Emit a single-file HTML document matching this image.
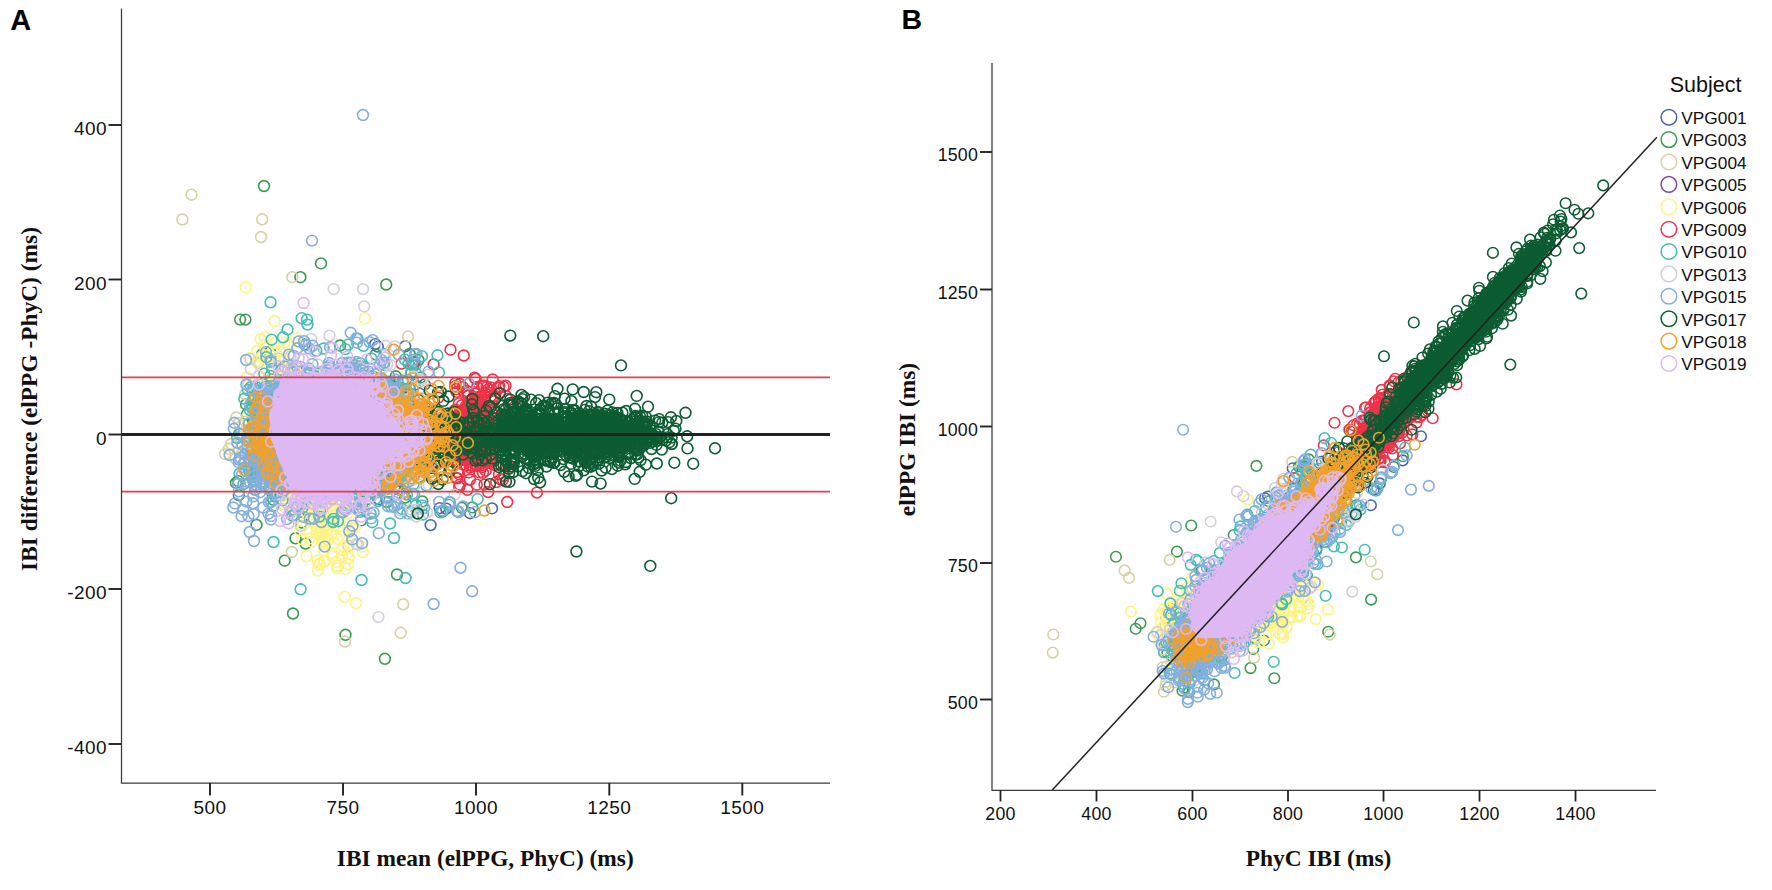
<!DOCTYPE html><html><head><meta charset="utf-8"><title>IBI agreement</title>
<style>html,body{margin:0;padding:0;background:#fff}svg{display:block}.t{font-family:"Liberation Sans",sans-serif;font-size:19px;letter-spacing:.4px;fill:#111}.u{font-family:"Liberation Sans",sans-serif;font-size:17.8px;letter-spacing:.2px;fill:#111}.b{font-family:"Liberation Serif",serif;font-weight:bold;font-size:23.4px;fill:#111}.lg{font-family:"Liberation Sans",sans-serif;font-size:17.3px;fill:#111}.p{fill:none;stroke:none}</style></head><body>
<svg width="1772" height="890" viewBox="0 0 1772 890">
<rect width="1772" height="890" fill="#fff"/>
<defs>
<marker id="a001" markerUnits="userSpaceOnUse" markerWidth="16" markerHeight="16" refX="8" refY="8" overflow="visible"><circle cx="8" cy="8" r="5.4" fill="none" stroke="#4a63b0" stroke-width="1.6"/></marker>
<marker id="b001" markerUnits="userSpaceOnUse" markerWidth="14" markerHeight="14" refX="7" refY="7" overflow="visible"><circle cx="7" cy="7" r="5.3" fill="none" stroke="#4a63b0" stroke-width="1.55"/></marker>
<marker id="a003" markerUnits="userSpaceOnUse" markerWidth="16" markerHeight="16" refX="8" refY="8" overflow="visible"><circle cx="8" cy="8" r="5.4" fill="none" stroke="#3a9a52" stroke-width="1.6"/></marker>
<marker id="b003" markerUnits="userSpaceOnUse" markerWidth="14" markerHeight="14" refX="7" refY="7" overflow="visible"><circle cx="7" cy="7" r="5.3" fill="none" stroke="#3a9a52" stroke-width="1.55"/></marker>
<marker id="a004" markerUnits="userSpaceOnUse" markerWidth="16" markerHeight="16" refX="8" refY="8" overflow="visible"><circle cx="8" cy="8" r="5.4" fill="none" stroke="#d6d2a4" stroke-width="1.6"/></marker>
<marker id="b004" markerUnits="userSpaceOnUse" markerWidth="14" markerHeight="14" refX="7" refY="7" overflow="visible"><circle cx="7" cy="7" r="5.3" fill="none" stroke="#d6d2a4" stroke-width="1.55"/></marker>
<marker id="a005" markerUnits="userSpaceOnUse" markerWidth="16" markerHeight="16" refX="8" refY="8" overflow="visible"><circle cx="8" cy="8" r="5.4" fill="none" stroke="#7d4aa0" stroke-width="1.6"/></marker>
<marker id="b005" markerUnits="userSpaceOnUse" markerWidth="14" markerHeight="14" refX="7" refY="7" overflow="visible"><circle cx="7" cy="7" r="5.3" fill="none" stroke="#7d4aa0" stroke-width="1.55"/></marker>
<marker id="a006" markerUnits="userSpaceOnUse" markerWidth="16" markerHeight="16" refX="8" refY="8" overflow="visible"><circle cx="8" cy="8" r="5.4" fill="none" stroke="#fff385" stroke-width="1.6"/></marker>
<marker id="b006" markerUnits="userSpaceOnUse" markerWidth="14" markerHeight="14" refX="7" refY="7" overflow="visible"><circle cx="7" cy="7" r="5.3" fill="none" stroke="#fff385" stroke-width="1.55"/></marker>
<marker id="a009" markerUnits="userSpaceOnUse" markerWidth="16" markerHeight="16" refX="8" refY="8" overflow="visible"><circle cx="8" cy="8" r="5.4" fill="none" stroke="#ee3348" stroke-width="1.6"/></marker>
<marker id="b009" markerUnits="userSpaceOnUse" markerWidth="14" markerHeight="14" refX="7" refY="7" overflow="visible"><circle cx="7" cy="7" r="5.3" fill="none" stroke="#ee3348" stroke-width="1.55"/></marker>
<marker id="a010" markerUnits="userSpaceOnUse" markerWidth="16" markerHeight="16" refX="8" refY="8" overflow="visible"><circle cx="8" cy="8" r="5.4" fill="none" stroke="#45bdb6" stroke-width="1.6"/></marker>
<marker id="b010" markerUnits="userSpaceOnUse" markerWidth="14" markerHeight="14" refX="7" refY="7" overflow="visible"><circle cx="7" cy="7" r="5.3" fill="none" stroke="#45bdb6" stroke-width="1.55"/></marker>
<marker id="a013" markerUnits="userSpaceOnUse" markerWidth="16" markerHeight="16" refX="8" refY="8" overflow="visible"><circle cx="8" cy="8" r="5.4" fill="none" stroke="#d3cfd9" stroke-width="1.6"/></marker>
<marker id="b013" markerUnits="userSpaceOnUse" markerWidth="14" markerHeight="14" refX="7" refY="7" overflow="visible"><circle cx="7" cy="7" r="5.3" fill="none" stroke="#d3cfd9" stroke-width="1.55"/></marker>
<marker id="a015" markerUnits="userSpaceOnUse" markerWidth="16" markerHeight="16" refX="8" refY="8" overflow="visible"><circle cx="8" cy="8" r="5.4" fill="none" stroke="#84aede" stroke-width="1.6"/></marker>
<marker id="b015" markerUnits="userSpaceOnUse" markerWidth="14" markerHeight="14" refX="7" refY="7" overflow="visible"><circle cx="7" cy="7" r="5.3" fill="none" stroke="#84aede" stroke-width="1.55"/></marker>
<marker id="a017" markerUnits="userSpaceOnUse" markerWidth="16" markerHeight="16" refX="8" refY="8" overflow="visible"><circle cx="8" cy="8" r="5.4" fill="none" stroke="#0d5c32" stroke-width="1.6"/></marker>
<marker id="b017" markerUnits="userSpaceOnUse" markerWidth="14" markerHeight="14" refX="7" refY="7" overflow="visible"><circle cx="7" cy="7" r="5.3" fill="none" stroke="#0d5c32" stroke-width="1.55"/></marker>
<marker id="a018" markerUnits="userSpaceOnUse" markerWidth="16" markerHeight="16" refX="8" refY="8" overflow="visible"><circle cx="8" cy="8" r="5.4" fill="none" stroke="#f2a12a" stroke-width="1.6"/></marker>
<marker id="b018" markerUnits="userSpaceOnUse" markerWidth="14" markerHeight="14" refX="7" refY="7" overflow="visible"><circle cx="7" cy="7" r="5.3" fill="none" stroke="#f2a12a" stroke-width="1.55"/></marker>
<marker id="a019" markerUnits="userSpaceOnUse" markerWidth="16" markerHeight="16" refX="8" refY="8" overflow="visible"><circle cx="8" cy="8" r="5.4" fill="none" stroke="#deb9f3" stroke-width="1.6"/></marker>
<marker id="b019" markerUnits="userSpaceOnUse" markerWidth="14" markerHeight="14" refX="7" refY="7" overflow="visible"><circle cx="7" cy="7" r="5.3" fill="none" stroke="#deb9f3" stroke-width="1.55"/></marker>
</defs>
<g id="panelA">
<polyline class="p" marker-start="url(#a001)" marker-mid="url(#a001)" marker-end="url(#a001)" points="390.9,465.4 400.4,413.2 382.1,422.3 362.5,412.9 376.4,388.0 359.2,397.7 392.8,462.9 433.7,476.3 375.2,414.3 371.1,459.6 406.5,434.8 402.3,413.7 394.2,475.2 361.2,486.7 389.9,428.1 413.1,433.4 348.0,440.6 376.3,433.5 330.2,455.8 349.7,472.0 332.1,438.6 383.4,458.6 350.4,475.2 399.5,422.0 395.9,436.0 384.9,424.4 310.5,459.0 373.7,450.8 389.3,459.2 394.5,456.5 342.0,429.7 375.6,453.9 359.6,425.7 365.1,426.1 424.7,384.4 365.1,469.0 389.8,412.5 419.1,436.7 372.3,434.8 387.3,470.4 394.4,445.9 392.9,416.1 351.8,436.5 393.3,432.5 434.3,441.7 341.5,405.9 418.3,435.0 394.7,489.0 370.4,451.6 352.6,447.6 393.3,401.5 409.3,433.3 384.9,463.5 412.7,457.8 388.8,406.5 412.2,430.6 436.8,433.3 369.3,435.8 397.4,433.5 376.1,414.6 394.9,420.8 353.0,429.2 372.4,460.3 384.6,421.8 419.6,451.4 427.4,407.4 348.6,466.0 365.5,437.9 411.5,434.7 327.3,467.3 376.1,391.9 387.8,398.3 431.0,446.0 412.9,415.4 380.4,425.1 379.1,499.2 382.9,428.3 439.5,436.0 377.2,432.4 381.2,461.2 402.1,441.2 387.0,438.9 384.6,405.1 355.3,426.2 390.5,434.6 376.7,396.6 428.1,448.2 411.7,444.1 390.1,479.5 412.2,395.6 380.0,410.6 424.5,411.8 390.7,417.9 409.5,431.8 349.7,429.2 401.9,440.7 337.0,439.5 325.9,433.2 381.2,397.1 362.2,420.7 396.1,435.9 364.3,450.2 371.0,394.8 397.4,422.0 406.6,432.8 385.2,443.1 384.3,462.0 413.3,436.2 407.5,412.9 357.9,444.2 388.4,440.1 392.0,440.0 357.2,431.8 399.2,473.9 363.5,440.3 421.9,455.7 397.0,412.6 393.7,453.6 372.0,420.2 387.1,396.8 327.1,442.3 354.8,449.4 402.5,429.8 322.9,434.6 417.9,459.1 335.1,423.1 415.0,384.6 363.9,440.9 415.7,439.5 395.1,460.4 341.8,426.6 430.8,465.4 436.9,461.9 388.8,402.8 382.1,456.9 385.8,407.7 359.8,396.8 425.9,428.1 373.6,420.8 389.2,386.2 365.6,439.4 370.9,449.2 350.1,468.0 431.0,433.5 386.0,397.9 421.7,410.7 391.3,457.8 368.7,455.7 380.5,447.0 373.0,427.3 391.1,439.6 378.9,429.2 381.3,427.2 346.9,441.9 365.1,435.5 443.7,429.4 369.5,436.6 357.2,422.0 401.6,388.2 435.8,419.8 344.5,433.1 384.2,476.2 370.7,424.9 334.7,482.7 414.3,469.4 390.1,413.3 393.2,417.0 366.9,438.2 405.4,476.8 373.7,443.7 386.3,451.3 355.5,418.7 352.1,378.6 433.5,429.1 374.7,453.8 400.2,463.5 389.8,435.9 376.8,438.9 374.7,463.0 411.0,431.6 381.2,463.0 386.0,407.0 391.6,408.2 428.4,407.6 412.6,446.2 403.1,421.8 372.9,437.8 346.8,444.1 421.2,442.9 421.7,466.7 386.4,470.3 408.2,414.8 415.8,439.2 417.4,429.1 420.3,409.7 376.3,477.4 439.2,453.9 446.2,508.6 439.7,508.1 470.1,513.2 375.2,344.1 377.8,346.6 405.2,346.3 430.6,525.1 492.0,508.4"/>
<polyline class="p" marker-start="url(#a003)" marker-mid="url(#a003)" marker-end="url(#a003)" points="277.8,398.4 312.0,382.9 337.9,423.3 395.7,485.1 301.8,474.6 404.3,483.4 353.6,380.3 392.9,463.4 316.5,392.6 246.8,414.6 372.4,376.1 292.5,400.3 275.6,438.0 373.5,448.1 357.1,431.6 299.5,428.5 297.8,452.6 412.8,435.6 309.5,379.7 371.6,492.4 299.8,416.9 373.0,465.4 280.8,428.1 331.2,405.9 279.9,436.5 360.3,381.9 364.8,488.6 254.7,396.8 304.1,455.0 383.8,413.3 358.2,428.3 301.7,522.5 358.3,460.2 332.8,427.0 389.3,381.6 311.3,424.7 347.0,425.7 361.4,482.6 358.6,385.8 324.2,373.0 365.6,433.5 353.6,442.0 318.8,489.6 246.1,404.4 395.6,410.1 348.1,391.5 284.9,416.0 375.0,468.0 309.0,389.0 325.8,476.5 402.1,441.7 324.3,425.0 297.4,404.4 308.0,420.3 277.2,421.3 283.6,460.4 293.0,478.4 278.3,432.4 263.6,458.7 316.4,479.0 298.8,477.6 365.8,451.2 405.2,497.6 286.5,480.4 348.1,490.2 338.0,428.3 259.6,420.6 296.1,366.2 398.1,485.5 349.0,457.6 392.2,403.4 255.4,441.9 343.0,445.6 395.8,376.3 391.7,446.0 254.1,473.9 332.5,479.3 290.3,423.1 371.2,424.1 238.3,481.2 299.2,468.0 373.8,416.3 319.1,414.8 322.3,456.4 410.3,413.3 286.9,395.6 238.8,495.2 302.7,445.1 253.1,420.4 254.3,473.5 361.8,507.3 392.4,444.1 352.7,383.3 339.8,380.7 307.7,509.1 340.0,345.5 371.9,472.9 353.3,401.9 401.2,392.5 342.7,401.0 285.6,429.4 334.2,474.0 337.7,413.2 276.2,458.9 361.1,520.4 382.4,410.4 294.5,372.6 316.3,465.5 366.2,384.5 327.2,380.4 291.6,381.6 302.7,435.2 335.9,475.4 346.0,440.5 343.2,509.5 298.2,492.4 396.5,431.4 387.0,502.0 258.5,440.1 287.6,438.2 292.0,368.8 378.5,390.3 389.8,436.0 270.0,352.2 315.7,461.0 278.9,446.0 314.4,403.5 381.5,476.8 255.6,444.0 253.8,479.5 339.1,430.5 328.8,378.9 377.2,460.1 344.3,426.8 288.8,465.0 295.5,473.6 419.5,476.6 385.9,385.0 262.4,354.1 370.4,418.1 300.9,458.9 358.5,410.5 271.8,445.9 363.5,407.2 265.5,424.6 322.1,425.0 355.5,413.8 335.6,454.2 282.1,448.3 272.3,493.1 311.3,449.5 235.9,482.9 287.1,439.4 265.0,467.1 328.3,431.1 312.0,419.1 335.5,482.8 289.9,462.2 267.2,466.6 309.5,409.1 365.1,376.4 317.3,405.5 344.2,446.4 355.9,384.6 321.0,486.0 408.3,456.8 304.7,344.3 367.6,380.8 286.6,469.6 272.3,428.7 316.0,441.8 357.4,431.0 397.2,485.0 270.7,457.7 352.2,418.6 327.9,426.9 263.1,393.7 405.7,431.8 375.8,354.5 277.4,458.9 403.0,425.7 273.2,499.7 268.0,477.2 304.0,389.3 398.7,466.6 266.7,416.4 386.4,436.6 365.9,470.1 263.7,446.4 334.5,469.5 320.1,451.1 334.6,408.8 372.1,412.3 352.5,454.2 425.1,465.4 268.4,424.9 355.7,437.9 309.6,399.5 394.4,405.8 423.3,435.7 302.6,440.4 309.2,463.7 394.1,465.4 424.3,468.7 315.8,448.0 402.7,449.0 329.7,409.2 341.1,461.7 388.5,441.2 329.4,476.0 328.2,378.5 321.4,417.2 314.5,373.6 262.5,407.4 262.9,383.8 361.8,443.0 341.9,410.1 360.9,476.2 408.0,394.5 279.3,376.7 288.4,420.2 295.0,408.4 306.2,390.9 386.2,457.3 306.5,420.3 294.5,464.7 334.9,458.0 271.5,456.0 275.8,439.5 364.4,429.4 361.4,418.7 295.5,483.9 354.4,365.5 263.9,394.2 310.1,409.2 341.9,447.0 271.7,437.6 294.7,415.4 368.8,420.2 321.1,493.1 273.2,408.7 367.9,499.0 261.0,399.8 397.9,421.6 284.1,438.4 293.0,386.6 283.6,475.8 388.8,428.8 296.6,383.4 339.2,441.4 404.3,449.1 406.8,430.5 266.8,450.1 342.7,466.2 375.5,404.0 319.9,478.3 318.2,411.1 269.5,438.2 256.5,524.9 338.3,434.7 274.3,471.8 268.9,450.1 308.2,380.7 257.6,473.6 253.2,471.6 380.1,384.1 311.6,430.4 285.0,380.5 376.0,423.2 265.7,465.4 290.7,436.8 403.7,391.5 386.1,401.6 358.8,434.5 264.5,432.8 310.4,438.4 277.5,454.7 287.2,366.9 239.1,434.2 262.6,474.1 336.6,451.2 254.6,409.1 292.7,412.0 399.3,439.3 288.3,457.9 313.4,433.7 281.1,493.1 375.4,480.1 352.6,406.5 335.9,451.3 354.5,421.4 276.1,391.9 307.9,411.8 359.9,433.8 418.4,360.0 398.9,411.1 362.6,446.9 317.4,408.9 253.4,420.2 398.4,464.5 258.7,431.9 283.8,440.3 359.0,503.3 371.3,440.5 395.0,444.4 332.6,449.8 283.4,492.1 269.0,446.9 400.9,435.9 412.6,430.9 262.8,474.2 382.9,412.4 311.5,519.6 290.7,442.3 335.5,388.8 267.8,458.7 317.5,452.4 271.1,359.4 390.0,447.9 327.5,444.9 376.8,426.8 398.4,397.8 308.1,511.6 289.1,463.5 411.7,469.7 327.3,472.4 257.2,464.4 262.0,463.8 419.7,424.0 337.6,465.6 265.1,430.2 333.1,420.5 366.1,460.0 313.8,429.9 420.6,377.4 403.4,423.3 271.0,456.7 285.2,436.8 328.1,466.4 400.5,425.1 356.0,404.5 362.0,491.6 472.3,507.4 461.9,507.9 422.3,501.4 442.5,511.6 414.6,362.3 409.6,354.0 264.0,186.0 321.0,263.4 300.4,277.2 386.2,284.5 240.1,319.6 245.4,319.6 284.7,560.7 295.5,538.3 305.6,543.6 397.0,574.5 293.0,613.5 345.5,634.8 384.9,658.8"/>
<polyline class="p" marker-start="url(#a004)" marker-mid="url(#a004)" marker-end="url(#a004)" points="270.6,439.4 279.1,473.9 259.7,441.9 317.1,459.4 292.6,430.0 253.4,382.6 278.2,417.1 294.0,443.2 288.8,479.8 319.0,473.9 308.8,481.5 266.0,414.3 276.1,455.8 249.5,432.8 283.7,451.8 281.5,432.0 280.3,453.6 231.3,444.0 263.1,457.0 280.6,410.1 250.0,463.1 258.7,466.1 269.9,473.2 285.7,473.7 274.4,421.4 258.2,362.9 295.7,462.2 266.0,408.0 266.9,427.5 247.3,465.2 260.5,442.2 292.7,441.0 242.0,453.7 276.5,380.7 294.1,487.6 269.7,423.9 283.5,425.3 253.1,450.6 307.4,430.3 302.7,410.1 283.4,430.2 238.9,422.9 254.7,415.2 299.9,491.1 316.4,393.3 284.7,371.0 306.0,407.2 264.5,406.3 273.9,473.7 278.1,437.8 287.5,457.1 243.9,450.9 299.1,407.6 307.6,456.9 252.4,438.1 247.8,487.7 285.9,438.9 263.5,432.0 225.1,454.1 296.2,454.6 281.6,382.0 267.4,468.2 325.3,463.8 281.2,457.0 261.3,401.1 280.4,376.0 254.9,425.2 261.1,454.5 286.7,446.4 265.7,404.8 268.0,459.9 315.4,394.0 297.3,395.0 296.0,432.5 289.9,416.5 288.9,413.6 310.6,391.2 277.7,463.8 319.6,401.6 256.8,445.0 272.4,455.9 247.3,431.6 270.4,440.5 289.7,462.0 310.5,479.0 263.3,460.7 278.2,394.0 270.1,379.8 261.6,416.4 251.5,401.5 279.5,448.9 239.4,436.6 280.6,426.6 278.6,464.6 263.4,462.1 255.5,431.8 247.2,443.4 319.9,464.1 248.1,423.7 312.9,441.8 291.5,406.1 270.0,434.6 252.2,442.9 301.4,430.9 316.7,439.3 257.2,453.1 271.4,445.7 301.6,413.6 285.6,416.5 322.8,398.7 265.4,481.7 290.2,445.4 250.1,446.0 324.9,429.7 261.8,447.1 228.8,448.8 275.3,412.7 275.0,429.5 320.9,467.0 270.5,397.3 277.8,406.7 291.4,450.5 313.5,411.3 276.7,455.0 301.3,403.1 289.7,440.6 271.5,456.9 279.8,444.9 278.7,455.8 257.6,429.1 305.2,429.6 247.1,433.5 304.3,450.0 276.0,431.9 261.0,487.3 273.0,427.7 288.7,403.0 294.7,426.9 284.5,445.3 300.3,439.5 265.6,438.2 283.3,449.8 243.1,450.8 295.2,460.2 281.5,401.4 268.8,434.9 304.0,407.9 293.5,441.5 279.0,439.2 245.6,421.6 301.9,411.5 333.7,427.8 266.5,453.3 279.8,456.2 272.5,388.3 285.9,442.3 292.5,442.6 306.9,393.7 256.0,404.2 313.2,419.6 257.3,445.6 284.3,369.0 304.0,423.6 294.0,419.3 257.1,439.3 262.4,473.9 267.8,471.7 277.0,423.2 303.7,423.6 249.2,441.2 288.5,467.1 291.7,474.7 290.6,443.6 288.5,475.1 312.0,409.5 289.0,402.4 290.7,410.0 318.2,451.0 235.6,458.8 272.3,451.1 271.8,439.4 256.4,407.5 236.3,417.5 269.6,418.1 262.7,428.5 289.1,416.1 245.2,394.2 310.1,464.2 284.2,447.2 272.6,473.2 262.2,389.4 260.5,398.4 252.8,413.5 265.9,467.9 278.2,429.7 191.5,194.7 182.4,219.5 262.2,219.3 261.0,237.0 292.3,277.2 291.8,552.0 348.3,546.0 403.2,604.3 400.7,632.8 345.0,641.5 408.0,336.6"/>
<polyline class="p" marker-start="url(#a005)" marker-mid="url(#a005)" marker-end="url(#a005)" points="410.3,448.1 409.5,388.3 362.7,459.9 412.4,420.4 368.4,462.3 379.7,465.6 393.1,430.8 377.4,418.8 433.8,464.1 376.1,407.0 337.7,453.0 404.3,431.5 358.6,425.7 361.5,420.7 396.2,396.9 391.4,421.5 390.9,444.4 395.6,458.3 414.6,473.8 368.4,466.1 394.5,421.9 349.8,442.4 360.2,460.8 397.7,446.7 380.0,398.2 334.1,442.2 379.2,448.1 364.7,403.1 347.8,423.8 381.2,433.5 358.8,448.6 327.8,470.5 340.0,461.7 416.7,445.7 329.3,439.6 375.5,426.2 385.8,421.7 386.6,429.3 337.0,429.4 361.0,457.9 373.3,484.5 390.9,446.6 352.4,456.6 338.7,449.6 396.3,440.9 399.0,463.4 379.4,460.3 353.4,436.8 380.4,431.8 372.5,449.7 391.9,422.9 336.4,439.6 372.7,458.2 365.4,433.6 340.1,390.8 375.3,450.2 370.5,407.4 358.7,402.5 380.1,399.7 331.9,453.6 368.2,387.7 381.1,431.8 377.2,440.4 398.2,439.8 337.7,420.5 329.5,433.3 376.0,438.6 381.7,404.7 426.0,451.3 386.0,458.7 346.4,416.1 391.0,418.2 347.1,409.1 330.1,459.4 378.3,423.3 388.6,393.6 384.6,463.5 417.8,429.4 377.2,440.9 402.0,471.4 342.3,451.1 332.6,408.3 407.5,445.4 408.8,451.3 383.2,414.3 375.6,411.5 374.0,411.6 351.3,452.8 410.5,435.8 387.1,410.6 383.1,449.7 379.6,451.9 397.5,415.3 383.0,398.2 389.4,461.2 383.2,468.2 427.8,458.0 355.8,437.7 366.2,420.2 393.3,437.9 395.1,450.8 386.2,430.9 326.6,456.8 382.9,435.6 338.1,449.4 384.2,415.5 361.7,453.9 391.1,457.6 390.3,472.7 388.8,451.5 345.8,451.6 352.5,414.0 341.3,444.4 355.4,452.9 340.6,465.6 352.1,461.8 364.0,436.0 343.0,439.5 331.9,408.2 333.4,449.1 381.7,409.9 371.2,428.5 396.9,434.6 397.4,481.1 360.5,464.4 387.4,417.3 331.3,402.1 430.3,429.7 401.4,416.8 363.9,444.0 338.7,443.1 379.7,449.9 319.9,411.9 348.9,426.5 389.5,439.9 371.6,442.1 356.5,421.6 394.9,427.0 342.0,453.8 377.2,394.7 356.4,428.5 347.1,434.3 381.9,400.2 343.2,410.7 420.2,436.5"/>
<polyline class="p" marker-start="url(#a006)" marker-mid="url(#a006)" marker-end="url(#a006)" points="292.8,364.8 284.9,444.7 318.8,400.4 319.5,487.5 310.2,504.8 311.8,429.9 337.1,460.0 294.6,491.1 335.2,461.3 273.4,391.9 284.0,342.6 317.3,500.5 263.4,422.7 302.3,427.5 309.8,427.6 311.2,381.4 308.9,391.7 338.5,505.6 320.6,502.4 302.6,461.8 297.4,472.2 317.1,495.6 281.5,391.8 306.0,458.8 320.6,386.7 321.9,463.5 303.9,472.8 322.4,472.9 286.0,461.7 300.6,470.2 275.8,464.5 302.3,388.1 306.3,433.2 292.1,474.2 279.9,398.1 344.2,508.3 305.6,435.8 279.1,377.5 320.1,527.5 284.0,432.2 315.6,476.4 311.4,431.7 302.9,485.3 299.0,488.2 301.8,399.3 297.8,477.4 354.7,527.9 260.5,339.1 312.8,436.6 327.3,434.6 288.4,386.6 282.6,369.0 291.3,451.9 352.2,540.2 327.6,444.3 317.1,425.2 332.7,423.3 319.9,477.6 330.2,506.6 321.4,451.7 307.5,460.5 307.5,463.9 323.8,544.1 329.1,470.7 275.4,429.9 295.5,411.0 299.9,502.9 300.4,398.0 288.5,459.4 291.6,387.7 286.4,478.0 309.6,484.7 334.2,475.0 298.2,473.0 347.5,553.4 299.0,461.2 306.5,556.3 317.1,470.9 297.7,419.5 292.4,472.0 312.7,449.2 337.5,566.0 268.2,409.9 343.5,546.6 293.8,457.4 337.6,435.9 294.9,496.7 303.3,419.9 326.3,464.2 290.5,504.2 267.2,438.4 328.3,487.0 314.8,498.9 319.7,474.0 334.2,476.6 324.0,516.2 295.5,477.5 256.7,445.7 277.7,381.6 324.7,541.2 321.5,481.2 308.4,453.4 284.5,464.8 318.8,415.4 313.6,429.9 304.3,417.7 280.7,447.3 345.5,568.8 304.7,477.7 288.7,433.9 268.8,416.5 293.0,408.4 321.0,483.6 322.9,482.3 295.9,454.9 315.8,426.4 299.7,434.6 261.8,457.9 326.0,532.2 311.6,473.3 362.9,552.1 286.5,424.0 299.6,452.9 317.2,512.3 304.7,426.4 272.4,396.6 280.2,421.6 300.6,476.0 315.9,457.7 298.2,461.6 311.6,541.7 329.7,487.8 305.4,485.9 307.8,446.9 302.2,432.8 325.3,452.8 331.6,474.4 301.1,470.1 312.3,479.6 287.5,468.0 288.9,346.1 287.5,394.8 331.2,458.8 311.0,483.0 317.8,421.0 322.9,493.8 332.6,515.2 325.2,501.0 297.1,409.2 304.9,432.5 294.4,497.1 292.9,380.6 309.9,489.2 321.7,514.6 308.4,390.3 352.2,528.6 295.8,447.5 285.5,487.0 300.8,438.5 294.2,406.8 312.3,476.1 294.9,483.7 332.1,553.2 306.9,512.6 317.2,475.1 306.4,424.0 283.6,361.1 296.8,466.5 288.9,406.9 328.3,487.4 299.7,464.2 337.4,538.5 336.4,440.4 323.2,489.8 316.2,444.6 305.2,474.1 318.1,484.7 309.6,538.6 289.7,419.8 324.0,450.2 319.3,400.8 308.7,413.6 295.7,404.1 275.2,382.0 324.0,525.7 304.4,460.5 315.5,454.2 336.0,562.0 293.7,388.9 318.2,528.1 303.0,525.6 304.5,496.8 301.0,515.9 293.0,484.6 346.1,505.1 315.5,488.5 313.3,465.7 339.3,487.9 332.9,468.4 309.9,488.1 321.8,439.1 343.5,530.6 314.9,478.7 306.2,439.3 275.6,445.3 291.2,455.5 282.1,405.3 311.6,445.1 306.8,475.1 261.5,357.0 312.6,432.4 329.0,452.9 314.0,444.3 295.1,378.0 327.2,525.2 287.8,427.1 281.9,386.7 279.9,408.3 300.1,465.0 337.8,463.5 326.7,515.4 301.1,486.6 283.9,384.5 305.7,379.3 286.7,408.3 310.6,416.7 264.6,377.6 302.8,470.7 312.2,501.4 300.3,450.0 328.5,433.7 276.0,435.0 287.7,345.0 283.4,446.2 326.3,515.7 332.2,484.7 300.1,417.0 331.4,506.0 284.6,476.3 338.3,519.2 306.2,501.1 315.1,373.8 319.0,497.6 290.1,411.7 276.1,434.9 270.9,394.3 299.4,496.4 311.2,428.5 300.8,456.2 300.5,420.8 328.4,539.8 291.8,444.8 299.9,388.7 322.2,537.1 319.2,564.9 314.6,460.9 259.7,395.5 288.6,434.8 324.3,462.6 298.3,473.7 343.3,509.2 271.0,403.0 330.2,452.3 302.2,392.5 327.8,529.3 301.2,455.1 318.9,523.4 292.8,417.6 284.7,358.5 270.1,433.3 299.3,403.0 272.9,434.6 322.2,532.3 317.6,560.6 326.8,418.3 283.7,402.1 304.0,442.4 285.0,436.1 342.7,500.0 294.1,518.1 314.7,477.1 313.9,383.1 260.2,364.7 288.8,415.9 286.9,383.8 305.5,490.7 306.6,458.0 295.7,392.5 298.0,430.4 339.5,521.6 282.0,415.2 288.1,401.8 300.2,441.4 301.7,386.0 301.4,416.1 313.4,485.4 273.7,350.5 310.1,435.4 298.0,477.1 286.8,496.1 291.5,471.2 304.8,415.8 316.5,527.5 291.2,441.8 303.6,442.5 314.2,425.4 306.5,459.5 300.1,447.8 320.5,515.3 317.3,415.6 316.5,437.6 302.6,453.5 272.7,437.4 281.1,431.7 287.5,389.2 302.6,480.0 296.9,398.4 285.6,393.7 311.6,458.7 320.4,464.3 272.3,356.4 332.2,556.1 302.5,463.0 320.9,394.4 316.6,533.9 302.1,468.3 300.6,399.7 348.1,564.5 275.9,420.3 291.9,479.8 326.1,482.7 290.7,378.0 313.5,416.4 312.8,471.4 362.0,546.7 277.9,434.3 304.8,447.6 312.5,501.7 307.5,453.8 285.8,377.8 321.3,448.9 298.7,482.1 323.7,446.1 323.8,520.0 317.0,527.0 311.4,477.7 299.1,502.9 282.0,400.2 304.0,440.6 307.3,469.2 300.5,421.9 303.9,465.9 287.6,413.5 324.4,562.1 348.8,557.8 289.7,454.6 309.0,483.8 298.9,444.6 331.8,511.0 300.2,513.3 293.5,493.9 297.4,450.0 310.8,449.0 286.8,396.7 325.4,466.0 300.2,388.8 319.3,468.4 306.9,460.6 318.6,531.2 296.5,475.0 321.7,514.6 287.7,402.7 318.7,478.4 299.9,442.8 307.2,466.9 310.9,442.7 325.3,494.6 265.4,348.5 313.5,462.4 269.5,393.7 320.9,536.6 267.9,346.3 287.2,395.2 268.4,377.4 334.7,543.4 296.2,338.1 300.7,477.0 291.7,432.8 269.7,359.9 288.3,464.2 318.9,483.4 315.0,403.1 331.2,478.0 302.1,421.5 309.3,440.4 297.4,432.5 319.1,448.3 342.1,550.0 308.5,481.3 309.2,461.0 299.0,402.7 291.6,409.3 339.8,509.6 265.5,446.6 295.2,381.6 321.1,394.8 306.4,402.1 342.0,556.6 249.2,358.2 314.0,465.0 311.2,511.5 287.3,382.4 287.0,434.6 321.0,452.6 348.7,501.7 269.4,456.1 274.4,370.1 318.8,517.5 324.4,560.8 292.6,451.8 257.3,351.0 342.4,500.6 288.2,479.5 335.8,484.2 319.6,404.9 301.5,421.7 299.5,419.1 334.5,526.0 324.4,551.0 264.9,337.2 288.3,399.3 346.7,523.5 316.9,377.9 282.4,370.6 307.9,444.2 314.7,412.3 291.7,480.3 285.5,457.0 295.1,447.4 289.9,446.8 316.8,454.0 285.3,421.6 312.4,399.3 313.6,411.5 337.3,499.6 309.0,481.0 307.1,434.2 321.9,461.2 304.2,498.4 329.5,498.8 320.4,462.1 342.9,536.3 344.5,482.9 313.3,423.7 289.4,452.8 323.5,494.0 308.3,498.4 307.1,435.8 267.3,402.0 274.3,343.1 314.7,461.8 328.0,468.9 319.7,496.4 266.4,424.9 339.8,463.4 292.1,431.8 323.4,440.8 316.4,464.2 293.4,399.1 306.9,382.5 264.7,344.9 296.8,376.7 255.7,400.4 320.3,454.9 303.8,462.5 322.1,501.5 311.8,471.0 294.2,414.9 324.7,432.3 281.6,477.8 317.3,482.5 305.2,485.8 293.5,378.6 301.1,463.8 309.2,445.9 295.0,448.1 328.1,482.0 347.6,513.8 293.7,445.1 297.6,435.6 247.1,377.2 304.2,440.5 302.3,412.7 255.7,361.4 319.3,441.9 300.0,530.8 274.6,461.0 285.7,467.9 280.8,418.0 320.2,490.6 272.7,381.7 297.5,440.1 350.2,532.2 301.7,467.3 303.9,506.0 291.5,475.6 297.2,347.6 285.0,506.8 311.3,477.8 295.1,370.2 315.3,459.3 323.3,533.8 326.4,505.9 278.9,356.6 294.1,378.3 264.2,396.1 332.4,488.4 318.9,477.7 327.6,462.5 297.5,378.8 277.8,404.9 294.4,491.2 309.7,449.6 301.1,371.0 312.8,444.9 319.5,479.9 328.3,409.2 274.8,427.3 294.6,454.5 308.2,460.7 299.8,439.1 307.7,397.8 282.8,441.9 314.8,501.1 290.6,488.3 310.8,448.5 280.9,417.1 295.1,413.8 299.2,486.7 281.0,413.2 286.9,368.3 296.3,441.8 334.0,497.9 312.6,450.9 331.5,533.2 289.3,483.6 305.9,415.9 277.3,382.0 300.5,402.9 317.8,570.5 297.9,508.2 302.3,539.3 311.9,508.6 312.5,429.2 304.8,430.7 306.6,460.4 319.2,483.5 319.9,458.5 312.1,484.8 310.7,452.2 289.8,413.1 281.6,491.9 282.1,416.9 335.9,471.3 258.2,360.6 298.8,446.5 293.6,448.4 290.2,372.4 301.9,459.2 322.7,540.4 281.2,504.1 312.4,497.0 290.8,504.4 282.2,478.0 312.2,438.9 299.1,411.2 279.1,474.5 319.0,452.6 316.5,463.1 314.0,509.7 313.2,443.7 262.1,421.8 305.7,507.7 286.6,472.2 289.7,465.7 281.1,361.2 282.0,456.8 280.4,445.1 296.1,474.2 276.2,378.5 302.8,464.2 313.9,439.9 275.8,415.8 281.3,453.3 282.8,423.7 323.3,497.3 289.9,458.8 272.6,366.5 310.0,390.8 317.1,508.8 291.8,422.3 318.0,429.4 281.9,427.9 337.3,568.3 314.3,524.0 330.6,499.8 281.2,377.5 280.6,404.0 326.8,505.9 310.5,415.2 305.9,421.5 299.9,503.1 278.5,393.3 320.9,489.6 310.4,438.5 312.3,482.9 285.4,436.7 311.1,490.1 275.6,461.4 323.6,501.6 322.6,523.4 326.6,488.1 306.6,503.5 313.7,495.6 313.5,518.0 290.1,466.0 311.7,443.0 294.6,451.6 279.2,376.5 284.2,454.4 318.4,484.5 319.7,563.0 287.6,435.4 281.6,422.3 245.7,287.4 365.0,318.2 274.5,321.3 344.7,596.8 356.0,603.0"/>
<polyline class="p" marker-start="url(#a009)" marker-mid="url(#a009)" marker-end="url(#a009)" points="451.2,441.8 481.7,402.1 477.2,434.6 475.7,455.4 467.9,420.4 451.1,451.2 484.7,400.3 469.3,407.8 491.7,432.8 456.8,417.5 447.0,418.8 462.7,442.2 477.7,409.6 495.2,440.8 486.3,417.3 470.6,461.0 476.3,431.7 449.8,422.9 483.2,456.5 472.3,446.0 477.5,449.3 473.9,414.1 470.7,454.5 476.8,422.2 456.5,391.9 486.4,424.4 500.4,479.3 511.0,430.9 483.2,405.3 469.2,442.3 459.0,403.4 474.8,417.1 444.4,422.6 453.1,441.6 469.3,448.6 465.4,441.4 481.9,432.5 499.0,419.7 477.2,422.5 462.6,442.6 465.3,432.4 471.5,423.4 470.0,479.5 484.4,455.6 478.6,456.4 473.3,439.8 463.0,441.8 468.3,441.3 462.2,458.5 467.2,415.4 490.6,426.4 502.8,479.9 465.8,433.7 466.5,465.5 503.6,386.7 498.8,446.8 459.8,445.0 462.8,431.7 482.1,439.6 486.4,435.7 466.8,391.0 480.2,427.8 460.3,410.8 513.8,402.6 485.8,461.2 486.6,387.0 466.2,414.9 481.8,407.4 473.4,458.1 457.4,411.2 473.2,422.5 451.0,449.0 460.1,418.2 454.6,440.7 469.8,428.6 465.9,408.6 472.8,402.5 469.2,417.8 476.2,400.1 485.2,393.0 449.9,468.4 473.0,447.5 452.2,460.1 447.0,431.2 475.6,393.8 486.2,415.8 489.9,463.1 464.3,442.1 461.7,405.3 468.2,448.7 491.7,436.6 454.5,425.5 459.8,484.7 460.9,412.2 448.9,424.4 494.9,418.1 493.8,461.2 457.1,455.3 470.4,450.6 461.9,427.0 494.3,432.0 453.8,430.4 459.8,384.0 438.3,397.6 459.6,454.0 467.7,452.1 499.3,386.2 465.5,442.8 468.3,395.5 488.3,389.4 468.6,449.1 479.8,441.4 487.5,431.6 475.9,458.0 482.6,461.2 475.0,445.1 463.6,410.2 470.0,446.4 463.2,439.7 471.3,446.9 457.4,472.0 488.0,392.6 444.8,452.2 488.6,418.4 482.9,472.8 462.2,417.1 495.0,399.1 471.8,457.9 483.1,428.1 477.3,464.9 468.3,419.8 483.0,431.5 490.4,428.0 481.5,395.9 470.0,420.8 481.6,396.5 477.8,416.3 469.8,467.4 478.9,426.7 500.0,420.3 459.0,474.2 480.1,396.8 490.0,432.1 473.2,423.7 464.8,458.9 464.6,431.9 471.6,425.6 499.3,443.0 456.5,431.7 494.2,396.0 483.1,465.0 490.3,460.7 492.7,457.2 484.3,418.8 468.7,459.4 477.3,426.1 481.5,460.7 462.5,418.8 492.7,379.5 484.8,462.3 505.3,415.5 448.0,460.6 475.7,417.9 493.5,415.1 457.5,478.4 472.7,465.7 509.9,466.5 504.1,475.9 461.1,454.4 480.4,460.8 499.0,474.3 483.3,431.3 493.1,418.9 485.7,470.7 461.8,449.6 479.3,433.9 485.6,440.6 483.2,453.6 508.0,411.6 473.9,410.5 459.9,415.2 468.9,440.0 475.6,378.8 484.0,385.7 473.8,445.4 471.8,437.5 494.1,401.1 474.6,456.5 493.0,423.1 474.2,432.9 473.1,453.8 500.0,440.7 456.1,478.0 452.4,449.3 467.4,489.8 475.2,392.3 479.9,400.0 484.8,425.8 467.4,406.4 507.8,398.8 466.1,406.0 477.5,408.7 474.1,459.7 477.0,422.4 479.6,449.2 481.8,467.2 476.7,466.1 463.2,422.4 483.3,405.0 468.7,472.4 482.3,385.7 467.7,393.4 471.0,445.0 490.0,447.3 464.1,436.4 476.0,407.1 505.1,445.1 495.2,465.2 478.4,424.9 488.1,492.0 500.4,430.5 477.8,402.2 493.7,425.9 492.2,412.7 476.0,420.7 484.7,414.2 482.1,430.4 444.6,457.6 453.8,440.7 465.5,436.5 492.1,399.4 456.0,389.2 481.8,422.8 483.7,455.5 478.7,454.8 491.0,439.7 505.8,395.8 486.0,425.2 473.9,436.0 501.1,455.8 484.6,409.9 465.3,426.4 473.3,435.9 473.2,431.6 490.8,387.5 492.8,439.0 498.8,387.5 477.4,399.9 456.2,433.0 480.8,409.9 491.4,437.9 465.1,457.6 497.9,442.0 460.0,459.8 462.2,420.3 483.2,434.1 476.7,418.7 463.2,411.5 464.2,425.8 476.8,484.7 474.5,429.9 476.8,458.9 470.8,431.6 490.7,396.5 496.2,482.1 482.3,429.2 429.5,436.7 459.2,487.2 471.8,416.5 470.7,433.5 480.0,448.7 493.3,454.6 487.6,445.5 484.5,484.6 464.8,460.4 491.0,444.7 455.9,445.2 480.1,436.7 497.5,463.7 473.2,419.4 439.8,448.0 479.4,472.4 462.3,457.2 466.2,445.2 485.0,410.9 493.8,421.0 469.0,443.9 492.2,434.0 477.6,428.5 474.6,377.7 469.6,451.7 470.2,421.5 479.5,414.3 468.7,461.0 470.4,429.2 478.3,429.9 471.7,447.6 484.7,418.7 471.4,405.9 477.6,403.0 465.2,439.8 474.3,429.2 470.3,465.2 485.3,428.3 455.4,409.7 500.5,430.3 460.6,416.2 483.4,429.7 441.8,413.5 475.0,398.8 496.7,440.7 462.3,429.0 468.9,436.0 477.4,445.7 466.7,435.0 472.4,466.0 462.7,413.8 462.9,387.1 477.3,387.0 475.9,399.0 490.4,461.4 464.0,392.2 495.5,454.4 469.7,436.0 455.4,383.1 436.2,464.4 481.8,411.1 488.0,426.7 461.6,438.7 463.3,458.9 456.0,422.7 450.5,349.7 463.8,355.5 401.5,363.6 413.3,365.3 433.6,364.4 483.3,386.3 505.6,385.7 536.9,492.6 507.2,502.0"/>
<polyline class="p" marker-start="url(#a010)" marker-mid="url(#a010)" marker-end="url(#a010)" points="408.8,422.5 309.1,388.5 368.0,417.0 402.9,458.1 297.9,438.0 247.9,449.9 352.1,478.2 297.1,475.9 409.8,435.6 290.6,402.1 375.4,499.0 257.5,439.7 283.8,419.5 291.0,433.4 388.8,472.4 354.8,401.1 357.3,480.0 257.9,414.7 290.7,381.3 401.9,508.9 363.6,428.5 370.0,426.5 337.0,429.6 299.5,464.4 389.1,448.5 290.6,486.5 267.4,433.0 368.1,418.8 268.6,460.9 369.3,470.0 348.2,454.2 311.4,438.0 344.9,435.6 326.7,441.4 259.6,435.4 271.6,483.6 295.3,416.2 253.7,388.1 288.1,487.3 302.2,461.1 343.5,427.4 337.1,404.6 278.8,415.2 370.8,393.2 381.1,439.8 360.3,423.4 352.2,423.5 285.6,453.0 390.7,396.0 357.4,416.2 294.8,403.8 352.4,451.6 363.9,402.0 350.9,474.7 327.0,424.2 377.4,473.2 365.1,412.3 251.7,453.7 295.6,432.0 406.9,494.6 314.2,384.1 365.3,417.2 281.8,443.4 332.7,423.5 346.4,426.6 376.2,388.7 391.9,426.6 334.1,489.3 301.3,447.0 279.4,393.3 309.1,418.2 342.0,452.7 406.5,416.8 330.1,434.0 378.3,416.8 364.0,493.3 248.9,469.3 274.8,414.8 349.9,445.8 264.2,425.8 281.2,369.9 374.1,448.9 358.4,429.6 266.1,457.4 262.8,459.8 391.4,440.6 328.9,488.6 319.9,511.3 359.0,390.5 353.9,441.7 400.2,398.9 283.3,433.8 361.9,432.9 333.8,414.7 307.0,413.1 330.3,479.9 263.2,396.0 249.8,471.8 265.6,431.0 345.3,349.1 367.1,435.2 291.3,380.1 293.2,465.7 385.5,416.7 317.9,436.2 302.4,423.5 397.8,467.7 323.7,469.9 336.2,426.3 372.0,492.4 251.4,467.4 320.4,415.7 372.4,459.4 364.7,468.9 399.0,476.5 299.4,432.9 309.4,450.7 284.3,432.8 294.5,444.5 264.3,373.7 290.6,453.2 273.4,506.0 302.7,434.0 322.4,437.9 377.6,432.6 370.4,493.8 334.7,398.7 360.1,439.1 320.8,444.5 305.5,492.9 330.5,421.6 328.2,440.3 403.2,391.1 376.4,452.4 254.1,480.9 358.7,433.5 261.7,469.7 357.3,423.6 399.4,475.5 365.4,442.5 255.1,445.8 312.2,439.2 293.1,455.8 355.0,466.1 357.2,440.0 369.0,458.1 314.5,430.9 350.5,447.4 292.3,515.7 392.1,440.1 399.2,389.9 254.5,427.5 342.1,417.3 344.9,410.0 286.7,454.2 243.5,484.1 267.3,410.0 381.5,401.6 272.0,418.4 322.5,423.3 374.7,424.4 270.8,438.9 363.0,428.5 327.6,437.6 305.0,426.7 323.4,470.5 313.4,459.7 408.5,402.3 359.0,449.6 337.9,521.2 300.6,433.7 319.4,516.6 411.5,372.2 384.7,391.9 261.8,414.8 303.6,460.7 326.6,476.6 327.2,445.2 280.1,437.2 284.8,464.3 337.8,432.4 368.7,394.1 368.1,417.3 365.7,473.4 360.0,511.9 259.1,437.7 273.4,460.4 314.5,422.5 311.7,381.6 316.3,381.7 301.3,428.0 320.8,399.8 359.0,436.1 402.8,428.4 357.0,408.6 300.0,438.9 337.3,454.7 404.5,463.2 349.4,437.4 342.8,458.8 352.4,410.4 410.8,448.9 364.1,387.6 258.9,396.2 326.7,479.7 404.6,400.7 253.0,451.1 258.0,419.9 266.2,438.9 273.5,414.5 351.3,456.3 348.3,426.1 355.2,424.2 348.1,442.2 307.8,424.1 380.7,471.1 286.3,418.2 304.3,478.3 327.4,416.0 374.1,421.1 378.1,391.5 356.9,456.0 342.9,444.7 306.9,431.8 349.9,462.5 376.6,388.4 321.7,452.8 366.8,403.1 327.7,468.8 335.2,426.2 360.7,449.3 271.4,405.2 288.1,446.5 265.0,465.8 339.0,421.3 371.4,476.9 373.9,468.9 290.7,410.5 300.2,499.7 265.4,410.8 355.8,450.0 305.5,467.3 283.0,428.1 298.3,415.0 394.2,456.0 348.3,442.2 395.6,409.2 308.2,410.8 274.5,437.9 368.5,489.8 387.1,468.0 279.0,456.2 388.4,391.9 341.4,416.6 402.2,425.8 419.4,389.1 314.3,446.1 412.0,462.9 282.1,448.9 323.0,371.6 346.3,505.1 268.7,426.0 322.5,420.8 353.5,433.7 266.4,357.2 326.8,396.3 376.5,409.7 287.5,465.8 373.8,418.9 306.5,448.1 338.9,434.1 348.7,428.8 389.5,451.7 403.5,414.2 402.4,380.7 337.9,400.6 278.5,428.1 282.5,500.2 381.5,398.9 379.5,399.1 369.5,441.7 382.0,468.0 341.3,413.1 394.1,462.3 364.6,408.5 354.3,471.3 387.8,465.9 341.6,434.5 363.9,483.8 404.2,435.4 298.7,417.2 375.1,479.0 293.1,404.0 321.5,453.7 398.7,416.6 400.6,427.8 394.6,465.8 366.2,452.4 388.4,492.0 422.6,458.1 327.4,460.6 291.0,379.9 252.7,400.8 383.9,480.6 369.8,408.0 342.9,427.4 358.9,447.5 345.8,419.3 366.4,408.3 322.7,453.8 345.9,443.9 282.9,429.2 346.6,467.6 361.6,428.6 336.8,437.4 298.7,457.4 268.6,462.8 358.0,424.5 271.9,405.5 385.6,423.6 274.9,463.2 374.1,409.7 311.4,429.0 397.1,414.9 279.9,395.8 295.6,464.7 355.2,439.3 383.8,454.5 310.2,463.7 340.5,367.8 334.8,403.3 321.1,493.4 312.1,420.4 329.6,453.1 302.0,396.4 299.4,431.8 402.6,440.4 258.8,429.8 404.9,421.8 401.2,433.6 308.7,441.9 387.7,439.2 259.4,400.6 364.9,472.1 305.6,434.6 314.1,438.5 387.9,450.7 249.8,410.0 400.4,477.5 271.4,446.7 342.1,462.9 304.6,416.4 343.1,450.1 393.4,432.9 381.8,409.0 270.9,487.6 295.8,419.5 323.9,459.4 359.5,443.0 250.2,438.3 376.1,407.6 386.1,410.0 389.0,375.8 285.3,428.6 285.4,450.4 374.2,451.2 343.4,412.8 311.8,381.2 268.9,423.2 272.3,472.8 373.4,425.4 371.5,426.0 308.2,432.3 392.4,459.2 333.5,518.9 349.5,452.3 320.9,399.5 312.2,427.4 302.4,507.9 379.4,434.3 328.6,495.9 308.8,368.4 310.5,428.2 399.9,474.5 350.1,408.0 261.0,460.5 323.3,415.8 332.5,433.8 239.5,473.7 394.7,412.4 411.0,479.0 271.7,389.9 345.8,432.5 296.8,468.7 282.0,494.8 300.8,380.8 255.5,386.3 350.3,476.3 310.7,379.8 373.4,428.9 371.5,449.2 354.7,437.4 314.4,443.4 265.4,386.9 356.2,429.5 359.4,495.7 383.6,364.9 281.2,405.2 245.8,470.7 378.3,446.3 359.8,464.6 268.4,433.0 369.8,421.4 264.7,426.6 369.2,454.4 328.0,461.1 377.8,406.3 258.6,437.8 404.9,359.7 416.4,461.3 394.8,408.3 378.7,432.9 299.0,459.8 405.3,389.2 350.7,426.3 355.8,464.2 347.6,445.1 292.1,400.7 397.3,475.2 349.5,388.7 272.1,411.7 336.9,443.8 286.7,389.4 325.1,376.3 399.3,414.6 307.3,428.8 317.9,373.1 370.3,384.7 282.3,465.4 272.7,441.4 375.4,441.7 262.2,448.2 340.2,484.4 374.3,404.4 345.0,431.7 262.2,431.2 282.1,387.6 341.8,453.3 406.8,436.4 372.1,425.4 361.4,463.4 336.6,438.2 304.1,408.9 364.5,434.8 247.9,390.1 318.8,459.6 378.0,427.8 289.1,482.2 358.4,438.4 358.7,458.0 274.8,389.0 399.0,409.6 302.6,400.5 415.5,372.8 316.2,386.2 346.3,410.5 399.8,457.6 392.8,482.9 317.5,436.5 282.6,446.4 330.9,456.2 342.1,444.2 255.0,489.9 300.6,384.6 405.2,472.7 328.4,457.0 277.3,415.4 352.3,489.1 316.9,372.7 412.9,403.0 325.3,445.0 258.4,470.7 264.3,450.4 275.3,496.6 400.6,387.9 306.4,430.9 301.8,459.2 409.5,465.0 301.4,415.2 350.1,384.0 402.0,477.3 393.4,453.8 304.3,493.6 344.3,411.8 298.3,429.2 371.3,358.5 284.1,438.6 278.9,449.2 297.8,458.4 274.3,405.8 357.6,489.3 288.7,409.2 321.5,426.2 299.4,451.5 290.9,464.9 301.9,399.0 321.9,371.8 358.6,449.5 282.5,416.7 346.6,375.7 316.4,455.4 255.5,443.0 258.3,475.7 392.6,439.5 283.7,437.3 289.9,448.6 376.9,459.5 269.7,488.0 288.3,479.9 312.4,467.5 372.4,391.2 254.1,451.7 399.9,463.3 275.3,412.3 346.2,415.5 387.0,485.5 325.8,455.7 324.6,412.2 320.7,422.2 301.3,462.8 415.6,426.4 312.3,435.5 343.7,396.8 354.4,463.9 415.7,404.6 319.5,419.9 275.1,468.7 412.7,398.8 320.9,403.7 348.9,479.2 345.0,367.3 372.3,473.4 376.8,465.7 358.5,445.4 252.5,408.3 381.2,414.7 265.9,437.7 388.3,388.1 252.4,407.0 391.2,387.1 357.5,338.6 258.0,427.9 372.3,522.2 345.4,449.9 277.5,471.2 383.8,431.4 358.5,431.2 342.5,476.4 415.2,473.9 279.5,443.5 263.8,441.2 390.1,523.5 279.5,401.2 391.4,433.4 283.8,434.8 379.0,424.3 333.2,469.6 343.8,436.2 360.3,363.3 324.7,397.5 321.1,418.6 358.8,444.1 268.2,462.7 388.5,389.1 364.4,416.5 269.1,449.1 292.5,509.3 311.2,464.5 378.3,501.1 323.7,348.5 299.2,428.0 372.1,460.2 267.4,444.1 348.0,344.6 377.1,392.4 270.1,481.1 333.5,439.0 346.0,477.2 414.2,494.3 319.0,428.5 316.4,350.6 408.1,380.2 295.2,433.0 396.1,447.6 325.9,427.5 280.1,398.5 426.2,485.4 314.5,499.7 272.1,368.9 293.5,424.7 374.2,378.4 366.3,426.2 302.9,382.9 331.0,455.9 290.2,417.1 381.1,380.2 309.0,398.7 354.7,450.6 393.0,403.1 290.9,457.8 413.4,484.5 333.1,416.1 378.4,385.4 318.2,404.7 351.1,478.7 361.8,403.9 333.1,410.6 377.8,466.9 333.2,522.0 244.3,398.7 387.1,403.3 340.1,417.0 358.8,495.5 344.1,487.0 255.1,398.8 307.7,406.2 271.5,417.1 360.7,443.2 398.6,420.6 347.1,453.6 384.3,445.5 298.7,465.1 268.0,425.4 326.2,449.3 268.3,400.8 314.9,409.0 278.2,492.0 293.3,369.5 364.2,474.2 338.5,418.6 371.9,396.1 406.1,389.1 289.9,512.7 394.5,399.0 380.7,391.3 327.4,383.5 407.4,513.4 334.0,458.5 237.2,438.0 275.4,450.3 288.9,386.9 337.2,458.6 336.2,390.9 358.9,414.6 264.7,486.2 286.7,469.7 356.2,451.2 371.7,431.1 332.6,399.2 300.9,441.0 305.4,402.2 367.9,490.5 373.6,446.5 301.8,401.9 406.5,447.4 256.7,470.4 273.2,419.5 329.3,365.7 384.3,438.2 328.8,460.3 361.1,464.6 411.6,364.5 309.7,437.4 289.4,390.9 325.5,391.1 326.7,396.2 270.5,467.3 263.5,400.5 377.7,404.5 424.8,417.1 380.8,398.6 311.6,454.5 332.2,437.1 397.4,453.2 427.1,407.5 299.3,457.7 400.2,406.5 352.7,473.4 284.3,438.8 310.2,447.4 265.2,438.6 327.1,429.8 340.8,447.6 356.8,442.3 297.9,508.2 363.8,395.2 343.2,456.7 333.4,443.2 349.0,463.9 335.0,398.9 352.6,466.7 328.6,416.5 393.2,392.6 270.3,375.9 388.7,392.2 378.8,412.4 252.1,477.1 377.8,388.6 292.3,392.2 345.8,404.6 333.1,405.9 381.4,431.7 330.7,452.7 362.7,395.9 302.9,389.1 257.7,471.2 359.7,401.8 408.2,425.5 266.8,402.8 380.5,424.5 311.8,394.7 353.9,397.8 286.4,402.7 360.5,483.0 305.6,404.9 393.8,432.3 301.1,474.0 325.2,409.0 342.8,482.5 256.8,402.3 410.8,374.0 331.6,451.8 409.8,401.4 273.2,417.9 361.9,410.9 287.0,481.7 265.9,412.3 342.5,429.1 334.1,407.6 327.7,433.5 336.9,395.0 269.3,424.0 362.0,409.7 281.5,385.3 289.8,427.2 390.7,398.5 355.1,425.6 361.4,415.2 393.4,452.1 385.0,406.2 302.4,390.3 395.6,436.4 322.2,405.5 347.4,418.4 279.8,472.4 310.2,421.0 353.0,387.0 257.5,450.5 362.0,496.0 300.4,426.2 352.9,456.0 362.8,366.7 352.3,434.8 277.1,433.5 352.1,455.4 302.7,424.6 358.5,453.1 372.9,464.9 313.2,435.5 364.2,461.7 271.6,339.7 370.6,513.7 396.3,437.2 399.5,457.4 364.2,481.6 307.1,375.1 394.1,506.8 342.6,382.4 271.9,482.6 350.0,430.1 384.5,354.2 357.5,507.6 381.1,481.2 250.5,387.4 396.4,427.2 411.3,470.1 334.3,434.4 398.1,466.9 291.4,429.0 302.7,381.1 285.5,446.6 359.0,428.4 389.0,391.3 408.5,363.9 416.0,505.3 410.8,511.9 449.9,502.5 477.6,499.1 405.4,502.5 440.5,512.4 448.9,504.8 422.4,505.6 422.9,514.5 438.9,372.4 415.7,364.9 421.9,356.2 437.5,355.3 270.6,302.3 301.6,318.2 307.0,319.6 307.5,324.6 287.5,329.4 283.0,337.3 363.4,345.8 273.5,542.0 394.0,538.0 361.5,580.0 405.6,578.0 300.6,589.3"/>
<polyline class="p" marker-start="url(#a013)" marker-mid="url(#a013)" marker-end="url(#a013)" points="343.6,464.1 407.4,399.8 341.6,367.4 275.8,404.1 325.3,376.5 367.1,460.0 387.4,396.9 390.5,365.0 428.8,485.2 340.4,490.0 339.0,458.1 340.3,429.8 401.9,416.7 305.6,440.6 260.4,435.0 335.7,436.7 373.2,429.6 386.3,412.1 424.5,415.2 368.6,434.6 383.2,423.5 396.0,448.6 379.9,404.5 337.1,450.4 428.2,374.7 383.1,433.5 262.5,423.0 257.6,459.5 420.8,444.8 364.3,426.8 273.3,431.9 382.2,454.6 268.6,473.6 344.6,427.9 309.5,427.2 302.4,413.2 306.5,388.6 261.1,443.6 321.1,503.1 258.4,437.6 363.9,497.8 316.2,478.0 412.1,396.2 422.5,412.6 408.6,455.4 395.1,455.0 374.2,435.7 282.7,494.6 411.6,415.6 344.3,444.9 358.6,367.5 370.6,470.0 301.7,397.1 317.0,456.7 278.5,358.4 402.8,467.2 335.6,406.6 255.1,448.1 428.3,461.7 354.7,437.8 370.1,415.7 374.0,418.2 361.6,376.6 345.4,403.4 300.8,525.9 259.8,446.7 365.2,503.1 273.6,446.1 319.6,410.4 412.7,479.9 410.3,514.2 402.9,427.4 273.7,442.7 413.5,376.4 274.4,421.1 410.2,413.6 380.1,370.5 410.4,450.3 416.0,432.5 354.0,500.8 301.0,423.3 394.7,395.8 314.5,383.9 322.0,433.7 347.4,457.7 280.3,459.6 321.9,481.9 275.9,428.1 343.8,384.2 416.4,516.5 411.1,509.6 358.0,544.6 383.9,420.6 332.0,477.1 417.2,404.6 300.8,404.6 287.4,426.3 286.0,403.0 310.8,430.5 279.0,412.3 383.1,367.5 301.5,393.2 378.5,455.6 354.8,460.8 388.1,440.7 365.3,440.4 394.4,429.7 347.9,453.7 341.9,409.0 284.1,430.8 344.2,419.3 271.7,431.9 422.2,410.3 418.3,474.6 258.9,375.9 261.0,419.8 334.4,416.1 339.5,410.3 332.4,393.6 299.0,405.8 369.0,423.6 344.7,438.4 307.7,490.4 269.5,424.3 365.1,443.0 262.9,443.1 394.9,346.4 323.4,498.0 305.8,429.9 368.1,388.7 411.2,397.7 285.0,387.7 332.4,476.9 420.9,466.0 386.8,409.8 337.5,442.3 329.6,370.9 384.0,423.6 289.8,424.8 280.7,416.0 352.6,441.4 372.6,427.4 322.4,455.7 365.3,433.0 411.2,448.8 319.7,422.5 299.3,482.0 415.1,484.7 302.1,415.2 387.6,423.5 366.4,465.8 407.0,439.6 382.6,468.8 250.4,358.9 378.1,487.1 334.3,370.5 266.4,460.8 270.7,416.5 281.3,447.1 270.4,445.0 296.7,398.1 402.8,402.4 423.8,441.7 429.1,463.8 361.5,381.4 252.2,426.4 271.3,441.9 394.4,420.9 342.9,428.4 345.6,388.8 395.6,465.7 409.4,430.6 367.7,459.2 248.1,384.8 353.4,367.2 398.7,434.6 385.3,412.1 421.5,381.3 349.0,442.0 344.1,464.5 293.4,394.3 357.1,413.3 359.5,438.7 421.2,379.3 437.8,422.9 278.7,494.6 271.2,418.9 323.4,433.4 387.2,364.3 277.1,431.9 388.4,442.7 357.9,415.7 402.1,422.5 307.5,481.4 332.6,427.0 247.5,442.9 351.9,381.3 385.6,345.8 344.9,471.0 315.9,465.6 428.3,461.2 364.4,454.6 298.5,455.8 421.4,429.3 370.2,392.5 301.5,477.5 265.6,486.0 363.9,496.8 343.1,391.9 363.9,384.0 274.1,485.8 386.6,489.3 405.0,418.6 318.4,392.3 298.2,395.1 441.6,424.3 409.4,406.9 290.8,419.5 347.1,450.9 345.8,363.2 295.4,431.2 348.6,470.7 371.5,461.1 314.6,486.0 310.8,430.6 391.6,349.7 365.1,476.2 302.3,391.0 290.6,356.6 319.2,417.7 397.2,472.4 390.7,461.5 289.8,443.0 347.0,476.8 271.9,475.6 412.4,440.4 423.3,437.6 283.3,409.6 308.6,473.8 317.8,364.5 270.5,393.3 374.5,399.4 319.9,454.3 250.9,369.2 293.6,443.3 354.2,366.5 375.9,393.0 244.6,463.1 333.3,447.3 378.8,364.5 354.4,395.4 340.6,436.6 397.7,423.8 303.1,424.0 357.9,458.6 329.1,438.2 276.5,474.7 369.0,446.4 332.9,414.5 360.8,465.2 325.2,405.2 327.6,427.2 350.7,403.9 392.0,399.4 311.2,338.9 369.9,408.7 272.1,405.9 384.0,437.5 279.7,410.8 276.7,463.2 253.7,439.9 360.2,404.4 298.4,433.0 373.8,415.2 294.3,503.1 331.0,382.3 431.9,451.7 413.0,417.0 252.9,431.9 421.7,397.9 351.8,444.8 389.7,466.8 388.8,498.8 289.8,442.0 295.3,473.7 426.3,412.0 343.6,379.7 400.9,510.5 404.0,477.1 428.7,420.1 352.8,387.1 285.8,420.2 404.2,419.6 266.5,413.1 298.2,410.6 335.3,372.5 305.0,409.3 285.5,475.4 426.9,512.3 454.6,494.8 416.0,509.8 333.7,289.1 363.0,289.1 364.2,306.4 356.4,544.0 378.4,617.1 329.5,335.6"/>
<polyline class="p" marker-start="url(#a015)" marker-mid="url(#a015)" marker-end="url(#a015)" points="361.7,412.9 266.7,449.6 344.1,416.4 359.8,451.7 392.2,388.2 262.8,399.7 319.1,372.6 358.7,510.3 397.7,423.5 351.0,446.7 368.0,446.1 309.9,518.6 265.6,431.8 351.2,441.2 363.4,368.7 351.8,446.9 301.2,396.0 279.5,392.6 293.7,444.0 314.5,407.3 307.5,490.2 271.2,516.1 361.9,444.9 271.5,435.8 291.3,449.9 302.6,409.3 339.9,451.5 274.9,440.5 276.6,467.3 246.4,384.5 327.9,370.0 387.6,427.3 372.4,439.0 376.4,374.1 393.7,417.3 277.8,459.2 338.1,484.0 313.3,456.3 288.9,354.7 369.7,456.4 330.3,434.8 352.7,442.6 283.6,386.4 385.3,443.7 352.4,420.9 357.1,472.6 342.6,480.1 389.5,461.6 280.2,418.6 272.4,458.9 388.1,506.3 357.7,417.3 375.6,440.7 291.1,444.9 417.6,457.0 303.4,516.9 362.2,376.6 363.6,452.2 315.1,415.4 298.1,383.8 341.6,393.4 279.1,427.2 413.7,423.4 355.7,368.4 257.5,413.4 346.4,450.9 288.9,418.1 368.7,420.8 283.6,383.9 349.6,384.5 397.0,427.2 353.0,402.1 405.8,433.0 300.9,469.1 361.7,440.4 319.2,415.0 299.4,437.8 282.4,453.5 337.2,453.1 366.1,387.4 360.0,430.7 358.7,452.8 365.4,407.5 379.0,482.8 280.8,430.3 263.4,436.1 387.0,439.4 396.6,476.7 365.4,398.7 349.3,531.3 300.3,430.1 339.2,411.0 266.0,352.1 311.3,469.1 384.2,434.7 270.4,361.0 278.8,424.9 362.4,369.7 373.6,512.5 268.5,513.6 397.0,401.4 315.7,406.2 350.7,485.1 368.0,415.6 321.5,433.0 369.5,426.6 391.7,463.9 303.7,451.0 304.0,466.5 394.5,432.6 352.9,442.9 308.7,373.1 287.0,411.6 302.7,491.9 304.8,419.3 394.9,382.2 355.4,424.2 341.2,394.9 380.2,435.8 341.1,408.8 373.7,468.6 262.9,405.8 255.7,484.8 372.7,340.2 376.8,489.7 290.1,511.7 286.3,430.3 371.0,418.9 269.9,435.5 279.9,466.8 375.7,426.8 266.6,421.8 263.8,416.5 356.5,362.0 388.5,461.3 378.2,432.1 302.3,450.8 336.4,478.2 301.0,455.2 353.4,395.6 277.0,454.2 329.3,412.2 276.3,461.3 284.0,418.2 363.0,459.2 356.3,465.3 311.8,430.4 295.2,432.6 340.1,380.7 412.3,493.8 298.2,415.9 368.7,448.5 298.4,459.4 363.0,470.6 249.0,423.5 340.7,427.6 311.6,421.7 342.9,412.6 308.6,473.6 320.5,475.7 358.8,479.3 364.6,483.5 304.4,438.1 257.9,423.1 369.6,342.1 263.7,395.6 313.1,433.9 361.2,382.7 428.7,461.3 360.7,422.1 388.2,405.8 345.0,479.8 372.6,445.7 348.7,456.2 381.3,409.4 318.9,439.5 339.1,493.2 364.5,399.0 329.4,465.6 343.4,491.5 325.2,484.7 258.9,457.4 374.7,393.5 276.8,408.5 288.5,477.3 272.2,431.3 309.4,438.3 301.3,491.7 274.0,470.7 310.4,466.2 243.9,463.5 317.6,468.7 270.4,463.6 271.5,464.5 272.9,392.3 379.1,447.2 384.3,425.7 400.4,407.0 381.6,401.7 330.1,409.7 315.1,454.7 336.3,474.5 330.9,462.9 384.4,451.7 319.1,434.3 390.7,437.6 398.6,354.6 392.7,438.3 338.5,369.2 372.3,397.0 389.0,452.1 309.8,403.1 366.2,384.3 269.7,420.0 317.0,495.8 356.9,342.7 268.8,443.8 382.1,445.0 322.9,393.5 271.6,441.6 267.8,465.5 317.5,410.5 361.7,471.4 366.5,407.5 373.2,429.5 286.4,393.5 379.3,478.6 284.1,389.2 303.5,423.8 351.2,362.6 287.6,458.2 300.7,366.9 308.9,408.9 381.3,405.8 330.4,461.0 262.0,414.2 285.5,410.1 344.6,464.8 339.1,476.6 385.8,462.6 321.0,381.3 369.5,428.8 360.1,366.3 319.9,424.0 318.2,430.3 312.4,426.4 286.9,449.5 252.0,390.1 287.4,426.3 284.3,484.9 308.1,423.3 267.3,459.1 386.7,452.7 321.5,396.8 339.8,441.8 361.6,411.6 408.0,392.6 291.5,453.4 319.1,422.9 374.8,424.1 348.1,475.6 342.9,512.4 397.2,504.7 413.9,412.7 317.6,483.3 395.1,457.8 257.1,449.1 311.7,447.5 363.1,435.6 355.8,463.0 395.3,429.3 324.5,462.5 249.3,457.4 261.2,466.6 291.6,442.9 333.7,421.8 290.2,426.8 298.2,467.0 380.0,364.8 359.0,477.1 374.5,421.6 295.5,486.4 330.2,386.3 334.7,382.9 373.3,422.2 276.0,431.2 340.1,454.4 373.1,388.1 412.7,460.9 302.1,395.8 368.4,454.5 333.2,395.6 364.9,473.7 277.4,448.9 395.3,467.8 254.0,460.4 408.0,427.7 333.1,440.7 319.8,427.7 269.0,387.9 373.6,438.7 268.9,502.2 381.9,445.0 358.7,431.6 271.0,397.5 372.1,397.0 349.6,400.0 315.9,442.8 349.1,411.1 352.3,539.4 316.8,387.5 340.0,418.6 352.0,416.1 391.8,448.3 355.4,432.5 277.9,458.8 389.1,413.9 390.6,482.8 308.9,399.2 387.2,414.8 307.7,437.9 266.0,433.2 312.2,438.4 390.9,474.6 308.8,474.7 382.2,455.1 318.1,445.1 315.8,477.7 283.7,444.8 400.2,407.6 357.2,441.5 353.8,409.9 383.4,399.2 341.6,406.6 314.7,449.8 369.4,449.2 355.0,502.3 390.9,417.5 296.5,474.0 385.8,385.3 370.2,382.4 374.2,447.9 266.4,401.0 362.3,486.0 282.5,472.6 370.2,448.0 392.6,448.0 402.3,465.8 329.0,363.0 336.7,423.9 336.1,424.1 390.7,409.7 364.4,442.9 292.9,454.7 311.6,494.0 276.4,468.0 349.7,463.9 363.8,492.7 271.0,362.0 356.6,421.2 297.3,383.3 298.9,413.8 327.0,460.8 312.2,437.6 296.0,456.5 378.1,432.9 298.2,459.9 267.0,388.5 396.3,406.7 325.9,438.4 325.3,409.6 355.0,402.4 286.8,437.0 371.2,480.3 282.5,418.8 389.1,396.3 302.5,504.1 360.0,413.9 368.7,431.6 420.7,431.2 311.5,417.1 260.7,446.2 363.8,434.7 347.0,386.1 375.0,445.9 274.9,448.3 275.4,433.8 350.8,426.9 370.0,394.1 386.7,447.7 294.5,480.7 271.7,386.5 346.9,437.3 381.5,462.9 346.4,459.6 322.6,458.8 300.9,456.5 369.2,490.4 383.0,390.9 274.9,420.6 350.2,399.1 370.8,447.0 416.3,421.9 305.1,422.4 321.2,391.9 250.0,405.0 284.0,421.5 351.4,458.0 290.6,478.0 376.6,492.5 302.9,457.5 376.1,454.0 292.2,479.3 355.9,374.4 309.7,424.7 263.3,507.5 268.4,474.0 281.6,483.0 273.1,425.9 395.7,395.9 384.8,470.2 367.0,389.7 377.9,392.9 366.8,385.1 386.1,423.2 346.8,408.5 277.7,434.6 286.5,448.0 322.4,476.5 268.5,422.7 383.5,448.4 300.5,437.3 341.8,441.2 258.8,472.0 385.2,453.6 363.8,393.2 372.5,476.2 265.7,429.9 260.3,458.2 372.5,411.9 365.0,400.8 335.3,395.8 283.9,438.5 374.9,436.4 356.5,494.0 250.3,433.7 294.6,424.4 348.3,383.5 336.9,480.3 290.2,465.0 308.3,470.6 306.4,402.1 352.5,525.7 280.0,473.5 381.6,360.2 376.7,410.8 328.0,482.4 399.1,436.7 354.8,404.0 326.4,414.7 345.1,442.5 343.2,463.0 396.4,404.5 372.1,434.7 274.9,405.4 384.7,451.3 361.1,382.6 346.6,452.4 324.8,419.0 398.0,457.3 237.5,442.8 266.6,443.5 304.3,458.3 392.1,425.9 349.7,387.4 329.3,367.6 313.7,382.9 266.0,440.7 274.9,419.4 330.9,479.7 313.6,381.2 400.5,456.0 388.0,392.9 327.9,451.2 289.2,444.6 347.9,469.2 307.0,443.1 396.6,433.6 294.8,514.9 364.0,477.5 299.1,460.7 335.9,442.1 281.2,426.6 373.0,463.9 268.4,488.9 314.8,402.6 357.0,453.4 328.7,411.4 376.3,466.4 332.7,424.9 335.2,431.3 330.1,418.4 327.0,438.9 271.1,464.9 246.5,440.3 259.4,389.9 272.9,433.2 358.4,408.9 305.7,430.4 299.2,393.8 320.5,417.9 397.3,397.0 315.7,421.7 309.2,348.5 313.3,385.1 296.9,423.7 386.4,431.6 400.3,513.4 310.6,465.3 370.5,450.9 272.7,460.7 322.5,429.8 257.9,407.7 382.4,378.8 313.6,421.8 336.1,446.2 379.5,434.2 378.8,451.0 275.4,393.4 314.4,416.3 342.3,363.0 336.3,447.5 402.9,382.4 270.7,454.9 378.5,446.4 346.6,471.6 362.6,415.6 361.1,436.4 299.6,412.1 305.1,381.0 282.6,436.3 355.4,420.7 318.7,402.2 274.5,436.4 362.0,453.9 280.0,421.5 398.9,416.3 316.8,406.4 344.0,404.5 374.8,458.2 347.7,418.4 396.7,390.3 352.7,450.8 383.0,421.3 314.8,456.4 257.7,428.3 267.1,428.1 317.8,468.7 393.5,421.9 323.4,426.6 318.5,394.4 261.0,483.2 308.5,466.9 271.9,437.0 325.0,489.7 315.9,393.7 391.1,506.5 301.6,463.9 384.8,487.0 328.2,405.6 351.0,391.0 316.5,401.2 296.3,506.8 336.3,423.5 278.4,452.2 353.9,453.6 329.2,416.7 319.5,463.1 292.6,372.4 285.6,412.9 351.1,392.1 395.7,379.8 274.6,402.4 370.9,435.7 312.4,364.1 325.9,471.8 270.8,417.8 240.3,434.1 267.1,449.9 292.9,411.2 313.5,487.4 330.7,403.2 376.1,406.2 301.5,430.7 371.5,407.9 284.2,471.3 322.8,498.7 378.2,442.6 305.7,345.3 342.9,442.3 325.3,397.4 328.8,404.0 373.9,430.0 311.3,410.9 276.0,441.1 288.0,465.0 315.5,470.0 317.4,462.1 280.6,383.2 272.5,413.5 361.5,439.7 339.6,433.6 277.3,454.3 380.6,435.4 270.6,435.6 384.8,410.9 370.8,401.7 276.7,492.5 393.4,425.9 382.1,385.1 360.5,443.1 328.9,428.2 274.7,412.9 278.3,449.4 352.4,416.3 343.8,397.2 397.4,420.2 297.7,367.9 304.6,419.1 300.5,471.6 286.2,462.1 355.5,443.3 382.8,441.5 359.7,412.0 275.6,421.5 310.1,373.0 353.2,405.2 347.3,381.2 378.5,461.3 276.9,449.3 308.5,409.7 326.4,388.9 297.3,425.1 317.7,456.1 336.1,373.3 275.4,393.3 255.9,489.4 354.7,456.0 332.4,433.2 394.6,409.8 332.5,436.5 393.7,441.3 362.8,391.1 261.1,423.1 318.7,398.2 267.7,404.2 362.9,370.4 358.3,452.0 413.5,397.2 344.5,426.6 302.6,478.2 395.0,447.9 300.3,445.8 362.2,417.1 292.0,473.5 339.6,408.0 277.7,436.1 393.8,471.3 323.5,404.1 387.9,487.1 325.2,476.1 318.0,406.8 318.4,401.7 305.4,396.1 394.2,398.0 344.3,452.1 348.3,362.6 306.2,435.7 265.9,425.6 371.1,518.4 312.5,411.0 362.2,455.6 257.0,417.9 311.5,494.4 364.9,392.5 384.8,381.8 284.6,366.4 395.8,412.6 339.4,421.3 290.4,459.5 391.5,382.9 354.4,463.0 356.3,426.0 298.8,436.2 278.3,420.3 329.6,447.4 348.5,401.6 299.1,398.7 408.5,481.6 363.8,393.4 254.9,459.7 288.0,442.9 392.5,393.2 359.1,429.6 396.3,412.7 271.2,405.0 388.0,411.8 352.9,452.1 305.0,466.8 361.8,408.8 282.8,406.0 380.8,420.2 258.0,439.6 279.3,402.5 370.0,433.8 317.4,481.5 393.4,422.8 359.8,414.9 354.3,405.3 293.5,464.5 314.9,459.4 310.7,420.9 296.9,448.6 297.8,399.3 364.6,418.6 349.6,367.8 277.3,422.2 299.9,371.8 269.2,394.7 271.0,431.7 330.0,435.3 366.3,385.9 342.8,450.4 296.6,448.5 353.0,423.3 246.1,481.6 234.4,422.8 330.0,442.8 334.2,432.7 271.4,425.5 376.8,438.5 259.5,393.6 300.8,414.3 348.3,438.2 233.9,428.8 258.6,394.6 340.8,403.6 356.3,338.5 355.4,436.2 352.2,426.4 246.1,360.0 266.1,432.5 368.2,371.7 289.0,401.2 304.5,446.3 356.7,480.5 261.9,408.6 400.0,455.9 344.6,456.0 317.2,492.2 280.8,389.0 320.0,427.3 346.3,430.0 290.3,416.9 279.4,422.3 327.4,427.5 359.5,412.6 300.8,440.6 321.5,522.1 391.2,404.7 324.6,415.8 354.5,430.0 352.6,374.6 339.2,480.1 308.3,378.2 345.4,416.1 362.1,543.2 283.1,445.2 281.1,408.9 276.9,473.7 389.6,411.2 293.7,355.9 315.7,431.9 390.6,419.4 265.4,464.3 276.9,426.1 378.3,442.5 325.7,465.9 316.8,478.2 384.3,362.6 277.8,427.7 391.5,445.7 331.4,373.5 302.0,452.5 363.7,423.9 295.0,399.3 312.9,443.0 261.6,472.3 315.4,465.3 249.9,430.4 326.1,458.1 313.8,518.7 412.4,439.2 298.8,397.9 329.9,406.7 283.7,458.6 390.1,433.5 343.5,403.4 377.9,435.3 400.5,490.3 363.7,460.1 391.0,405.4 320.2,427.0 310.9,400.4 380.8,487.4 239.9,460.2 338.2,477.8 381.9,460.2 330.3,444.5 279.9,412.3 393.8,395.4 280.6,396.4 324.1,448.5 375.8,431.7 380.7,413.1 305.8,460.3 311.7,441.2 362.5,416.7 318.7,462.3 274.4,414.5 304.1,341.2 347.8,470.5 342.0,511.9 297.6,428.2 299.4,468.0 359.5,425.1 291.7,447.1 291.6,420.5 303.7,391.3 274.6,402.4 294.9,472.6 287.0,519.1 356.2,508.2 278.3,428.1 379.9,455.4 300.9,452.7 388.9,488.2 283.7,490.1 389.2,492.9 267.9,410.1 395.0,502.1 408.1,408.4 343.8,464.3 364.0,424.2 381.0,406.1 330.1,347.3 376.2,460.7 294.6,467.4 361.8,448.7 282.8,460.7 321.6,410.1 308.2,437.6 287.8,433.5 277.3,419.0 394.6,450.5 332.1,499.0 299.6,425.7 266.4,461.2 307.4,458.6 294.1,402.2 277.9,456.5 271.1,502.2 278.4,482.0 337.3,398.6 390.7,465.5 298.7,341.4 295.2,385.9 366.4,441.5 269.6,415.2 292.7,463.7 332.1,448.7 307.3,459.2 256.4,413.6 296.9,479.9 390.6,439.2 253.0,432.8 365.3,416.3 345.1,509.7 387.7,497.9 327.1,465.8 337.9,442.6 377.1,429.7 276.1,427.9 346.6,411.6 326.4,414.0 332.3,452.1 280.2,407.1 256.0,481.2 249.0,459.4 270.9,446.3 257.0,455.8 253.4,455.2 273.0,484.0 264.6,482.4 266.5,471.6 262.7,469.0 245.2,454.3 257.9,428.3 242.5,444.9 270.0,479.6 249.7,532.0 244.6,467.6 246.4,501.6 268.9,429.1 238.2,484.0 256.2,480.5 260.0,464.9 261.4,478.7 262.1,443.3 256.9,446.1 255.8,430.5 249.9,437.7 262.5,441.7 253.7,514.1 254.8,475.8 238.9,491.3 264.2,476.1 258.1,465.2 254.8,459.5 258.8,459.0 272.2,446.3 229.7,455.0 267.1,440.7 253.1,503.3 253.2,496.4 263.1,468.3 265.9,457.4 243.3,509.9 270.8,519.6 250.3,452.4 273.1,480.4 256.1,458.2 244.6,462.8 260.1,492.2 273.9,452.6 250.1,482.0 261.8,453.9 233.3,507.5 238.8,462.4 242.1,474.4 253.6,481.5 240.7,458.0 260.6,465.2 463.0,506.5 442.6,510.5 449.6,502.0 424.1,508.0 474.8,512.2 439.1,501.9 457.6,511.5 457.1,511.0 458.6,512.2 416.4,354.0 414.9,354.3 428.6,371.6 413.1,360.0 363.0,115.0 312.0,240.6 235.0,503.4 241.6,516.2 248.4,516.2 254.0,541.0 324.7,546.6 378.8,533.2 460.5,567.8 472.2,591.3 433.6,604.0 350.7,332.8 297.3,348.3 312.6,345.8 469.0,383.7"/>
<polyline class="p" marker-start="url(#a017)" marker-mid="url(#a017)" marker-end="url(#a017)" points="462.7,446.4 478.0,438.2 447.3,422.5 472.9,418.0 449.2,415.3 473.3,410.0 469.2,423.5 447.8,433.8 465.8,448.4 448.6,424.2 446.5,444.0 485.9,449.0 427.4,425.8 474.0,432.0 476.9,421.3 451.4,447.6 484.4,416.1 480.9,429.6 437.7,438.4 473.3,448.3 472.2,453.6 448.6,458.4 474.3,412.2 477.8,459.3 448.9,425.1 424.0,439.7 470.9,445.2 448.5,443.5 429.3,437.2 455.5,420.5 416.3,426.2 456.4,435.6 492.5,458.5 472.0,404.4 444.9,452.4 455.0,461.8 445.1,416.9 475.5,460.7 462.8,423.2 447.7,420.1 437.4,431.5 454.7,419.5 485.7,458.9 439.2,456.1 471.2,438.9 469.7,435.7 423.8,437.1 484.7,427.9 462.3,448.0 497.2,428.9 458.1,439.5 460.0,422.1 443.3,400.9 436.0,434.3 478.7,425.9 458.1,450.6 455.1,420.5 459.7,430.0 476.5,431.5 481.6,420.4 463.1,454.6 459.2,426.3 465.1,428.0 503.9,409.1 422.1,465.9 440.2,437.2 472.4,399.0 466.0,442.5 487.4,443.0 489.0,405.9 447.3,433.8 475.2,447.6 458.4,445.6 482.3,442.3 466.8,449.8 480.6,449.2 448.5,432.8 466.4,435.0 453.0,427.7 458.0,435.3 454.2,455.9 442.8,423.4 485.2,431.6 469.0,445.4 484.8,440.2 443.5,430.3 424.5,434.4 438.3,484.0 431.3,436.0 446.5,459.9 444.0,461.2 460.3,443.7 452.3,452.6 432.1,419.0 420.9,418.9 428.8,443.4 434.9,451.6 438.0,392.5 429.7,390.6 458.4,426.6 456.1,439.7 437.3,411.5 433.8,400.7 437.8,448.8 440.8,392.0 441.2,439.8 416.3,409.4 434.8,448.5 412.2,434.3 442.1,447.0 452.1,435.3 424.9,411.2 444.1,457.8 431.9,443.2 430.7,422.7 472.2,447.4 455.4,386.4 449.1,471.7 447.9,452.1 438.5,412.2 448.6,396.5 427.5,423.0 440.4,470.4 435.3,444.1 419.4,434.3 467.9,422.1 454.3,411.9 429.2,408.5 418.6,399.9 430.2,459.3 428.4,411.7 432.0,478.7 417.9,432.4 428.5,462.2 442.5,479.6 447.9,413.5 515.5,411.4 538.8,439.8 525.9,424.4 552.9,421.6 546.5,432.3 537.4,430.1 527.4,426.8 521.5,394.9 528.3,429.6 544.9,419.6 531.1,439.8 534.7,441.6 527.4,434.9 526.5,430.8 513.4,422.1 486.4,410.7 540.9,414.2 540.7,434.3 570.8,431.7 502.2,431.4 550.4,423.2 533.8,440.3 535.2,450.2 553.5,434.3 548.7,440.1 528.8,447.3 504.6,434.5 501.0,438.6 532.4,443.7 563.4,459.1 547.8,440.4 527.5,413.1 535.6,424.5 543.5,421.9 566.5,436.3 511.3,422.3 544.4,444.8 534.4,442.0 511.3,429.3 505.6,454.6 556.5,435.3 535.6,432.1 523.6,414.1 530.5,445.1 550.1,430.5 530.3,444.5 564.0,443.1 522.5,471.1 510.8,460.4 525.7,421.0 507.3,429.3 520.5,434.0 555.5,403.9 566.3,429.0 542.3,452.1 532.7,438.6 508.0,436.8 505.9,415.1 536.5,447.7 532.0,430.5 515.3,423.3 518.3,446.5 563.0,434.8 550.3,462.1 529.4,434.7 533.3,464.6 556.7,441.0 536.3,413.6 533.6,430.7 493.2,435.3 490.6,432.0 478.0,428.8 527.9,422.4 535.6,441.7 508.8,441.6 538.1,449.6 538.1,438.3 526.5,445.1 495.4,423.2 560.5,427.6 558.9,437.5 515.4,450.0 529.3,443.7 510.7,428.0 519.1,427.4 492.5,433.9 553.5,462.8 535.4,441.6 497.3,442.1 541.1,428.3 489.9,484.2 531.7,443.4 538.9,423.7 529.8,433.3 503.1,446.8 525.8,430.1 524.1,432.3 529.6,447.5 561.4,427.0 566.1,427.2 563.5,437.7 514.1,411.4 511.5,466.4 528.7,426.0 537.9,438.5 482.2,460.3 514.5,451.4 568.2,420.8 500.5,450.3 511.7,440.5 512.4,444.5 539.1,446.3 526.8,410.9 521.0,407.2 494.3,418.6 541.8,429.4 528.2,426.1 513.3,440.5 528.8,448.8 545.8,451.2 495.2,398.5 493.5,440.4 505.3,445.3 508.6,444.3 514.7,450.2 553.0,435.7 520.8,433.8 550.9,418.6 525.6,432.1 559.2,445.0 563.3,447.0 517.0,414.9 509.7,427.8 536.7,441.0 500.9,429.6 520.0,436.2 490.8,407.0 530.0,442.3 528.3,423.1 564.6,438.6 536.1,435.6 513.4,439.8 526.1,444.0 499.3,433.1 528.9,423.2 523.3,443.8 537.6,441.0 549.0,426.3 483.4,445.7 535.5,424.6 544.6,426.8 501.3,465.7 570.7,444.4 512.0,463.9 583.3,425.2 545.7,423.7 549.8,451.5 534.2,444.8 550.7,437.0 504.9,440.7 510.1,417.1 484.2,423.2 540.3,428.2 512.2,421.8 545.0,423.8 541.5,436.8 498.1,441.6 543.8,445.5 533.9,425.3 532.6,424.4 538.4,422.7 527.5,440.2 528.4,441.0 551.8,432.5 505.8,419.7 501.2,426.5 511.1,433.0 551.3,446.6 520.9,430.1 571.0,428.9 512.2,413.1 518.1,447.8 534.2,423.8 558.1,438.5 524.0,433.8 505.4,446.1 546.9,443.2 562.8,426.8 470.9,438.4 541.1,444.6 534.8,424.4 509.5,426.6 517.5,431.4 534.6,432.9 528.8,413.6 522.6,438.0 502.0,430.8 534.5,430.3 513.2,472.0 530.1,460.9 515.0,434.2 532.6,424.6 544.9,433.2 533.4,449.5 542.8,444.3 497.1,425.3 538.5,439.7 534.6,456.7 514.1,427.0 524.4,429.5 529.9,422.4 518.9,418.7 477.3,421.2 539.4,438.1 513.8,463.3 534.3,432.0 522.7,437.8 538.9,418.8 530.0,419.3 521.6,429.7 539.1,400.2 546.7,436.8 477.3,436.4 528.6,446.8 514.7,439.9 503.3,433.1 557.2,408.3 549.5,445.4 504.9,425.5 503.0,405.6 546.3,453.3 514.0,439.2 520.7,435.6 483.9,422.9 525.0,410.1 553.4,419.9 517.7,436.3 525.4,446.9 567.0,436.6 547.6,436.4 559.8,432.7 542.1,447.5 554.8,396.2 490.8,445.2 509.6,427.1 491.0,433.1 577.7,450.1 532.1,435.0 525.2,435.6 511.1,438.3 505.3,425.4 526.1,421.3 529.4,447.8 526.6,419.6 536.4,432.6 526.1,434.8 541.8,448.6 509.2,473.1 535.2,460.1 547.9,402.6 540.5,415.1 536.5,450.1 525.6,411.6 505.9,460.0 540.3,426.8 519.2,426.8 506.8,447.1 545.1,441.9 492.0,449.5 515.5,435.4 545.3,418.9 549.1,410.0 519.6,430.5 529.4,421.4 540.1,482.3 526.4,409.6 510.7,436.6 537.7,470.2 531.6,441.0 530.3,452.8 552.9,434.7 534.8,431.9 517.7,466.4 531.6,419.5 571.3,413.4 511.9,449.5 522.1,416.7 510.1,403.1 535.9,422.8 499.8,393.3 537.9,454.1 544.9,426.5 510.7,462.4 509.0,405.0 494.7,448.7 528.9,468.0 502.9,421.3 514.0,427.9 518.6,435.6 512.6,434.2 546.6,428.0 563.6,413.4 480.4,454.6 509.8,443.3 533.5,443.6 504.5,437.0 516.0,435.8 532.7,452.9 559.1,432.0 554.2,452.6 521.4,444.1 530.9,439.3 519.9,442.4 524.1,397.1 501.7,414.5 488.4,421.9 519.8,415.2 549.8,439.8 545.1,417.5 486.3,436.7 523.7,433.0 514.0,432.4 534.4,453.6 503.5,444.0 548.4,438.1 523.4,431.2 540.9,437.7 547.6,447.2 484.6,451.2 523.2,435.9 561.8,451.6 528.5,451.5 551.3,438.7 537.4,433.7 516.9,446.9 534.3,459.4 551.5,432.3 556.8,425.3 560.4,441.4 503.3,441.0 546.5,466.6 497.3,412.3 525.1,450.4 523.4,426.6 542.1,443.8 535.1,437.9 555.9,438.5 514.4,459.7 536.8,456.6 528.1,433.2 501.3,457.4 540.8,439.2 535.1,417.9 545.6,460.5 527.2,437.9 522.3,429.6 536.7,434.5 538.4,430.8 543.4,445.9 570.3,457.6 514.3,453.3 572.8,441.4 549.5,435.0 509.8,415.0 572.8,433.4 508.3,433.5 551.7,433.4 506.0,481.6 502.8,428.5 546.0,450.7 547.4,441.0 512.5,405.2 581.7,452.3 520.9,434.5 562.9,432.2 505.5,434.3 506.6,436.0 530.1,443.4 505.5,409.8 538.2,462.4 480.2,449.5 532.0,416.5 515.5,428.8 506.7,446.1 532.8,447.9 523.1,439.3 518.1,401.3 546.1,429.6 534.7,449.6 536.5,432.9 557.7,444.3 526.5,416.3 546.8,432.2 518.8,402.9 541.6,433.9 539.8,409.2 515.9,425.2 494.3,432.4 499.6,449.5 507.1,441.6 540.4,430.9 525.1,442.6 521.5,403.3 538.7,436.2 544.3,446.1 559.1,423.1 514.8,450.0 540.3,430.7 543.8,437.3 506.9,445.5 530.8,417.8 507.7,434.8 523.1,421.7 537.4,440.5 490.3,454.8 508.7,468.8 510.1,442.9 530.1,440.9 511.7,434.6 536.4,429.3 509.0,452.4 516.6,433.0 541.5,452.1 535.2,445.0 527.2,419.3 550.4,445.6 558.6,412.5 519.8,417.4 512.0,424.4 505.0,416.7 566.6,439.3 508.2,437.7 498.7,447.4 534.0,420.7 551.4,452.5 500.6,442.7 525.3,430.0 496.2,442.7 512.6,431.5 564.2,412.0 531.8,449.0 522.3,399.1 529.7,445.0 534.4,448.3 525.8,433.1 501.7,422.5 501.9,445.4 572.7,445.6 511.1,441.8 554.7,445.5 512.1,433.6 557.0,445.4 543.6,439.4 523.4,431.4 572.7,441.5 507.4,420.9 522.9,453.9 509.0,446.2 520.0,416.2 506.9,435.1 520.9,425.1 563.2,431.6 489.5,442.8 500.2,427.2 507.0,432.0 517.8,402.3 550.5,460.3 544.1,425.4 538.7,433.9 532.6,454.1 581.3,441.7 503.1,441.4 502.5,453.4 527.6,451.1 532.7,425.8 522.8,456.0 509.4,441.0 499.1,467.2 522.0,443.6 512.4,430.9 517.4,436.7 504.1,435.5 557.8,450.8 538.1,428.5 569.2,447.9 516.7,424.1 529.4,433.3 522.6,446.1 528.6,416.5 522.4,441.2 524.5,422.6 484.4,434.7 522.1,436.0 543.5,422.9 484.9,430.3 520.4,436.1 540.8,439.2 556.2,433.3 526.2,434.9 538.2,440.3 567.0,449.7 518.1,437.5 514.7,439.2 550.7,420.1 533.1,430.1 516.1,421.0 523.0,413.2 535.1,437.4 523.7,447.1 522.5,425.3 522.9,443.9 495.0,439.4 566.6,417.1 555.2,421.5 561.7,421.6 525.1,453.8 530.9,435.6 540.9,421.3 546.3,452.9 487.6,433.4 536.0,425.4 506.0,466.3 526.5,415.0 513.4,445.4 565.9,437.8 540.1,413.9 527.5,459.6 559.0,429.9 526.5,441.9 512.0,434.8 524.0,446.8 520.0,418.1 529.2,450.7 546.8,431.2 525.5,428.9 526.7,438.4 550.6,443.2 534.5,442.9 549.2,422.5 531.1,430.1 499.2,437.1 503.3,464.7 491.3,433.9 553.4,429.0 537.3,436.4 517.6,417.1 506.2,461.1 536.1,403.2 525.2,438.4 535.2,465.9 509.4,481.9 503.6,424.6 562.9,428.5 507.0,438.9 527.6,436.6 557.8,433.8 487.5,441.6 543.6,405.6 529.7,427.8 524.9,437.6 534.1,479.1 501.8,418.0 478.9,442.3 533.7,436.4 624.9,425.1 550.5,435.3 638.6,436.2 603.3,430.8 586.2,462.8 603.4,444.0 572.8,444.4 590.2,415.0 646.7,430.2 573.5,415.3 619.3,428.6 562.8,437.7 591.7,415.0 624.2,437.6 552.7,452.7 603.5,427.8 521.5,420.8 554.5,434.0 578.6,430.8 621.5,425.1 616.0,418.3 562.2,428.1 588.0,414.6 598.5,431.7 540.8,409.5 606.3,451.5 636.9,416.4 633.4,432.6 572.9,433.8 578.9,466.0 561.5,422.1 576.0,437.7 584.1,458.9 614.9,442.4 595.1,440.2 561.8,434.0 619.4,445.2 621.4,445.3 572.2,424.3 584.2,436.2 589.0,411.1 538.2,440.4 596.9,426.1 614.6,415.8 656.6,438.3 598.7,423.2 583.0,431.5 587.5,434.6 612.6,417.1 618.7,456.3 564.1,442.7 598.8,457.0 614.0,436.7 526.2,423.2 637.7,437.9 585.4,425.2 621.2,443.5 591.0,406.4 584.4,436.7 590.0,441.1 602.0,415.6 621.2,435.5 583.8,428.2 555.6,433.8 569.5,426.6 560.4,431.5 617.7,448.6 561.0,431.8 642.7,431.0 596.9,430.5 589.7,438.1 635.7,417.7 580.6,444.2 582.9,431.5 618.4,433.0 617.1,447.3 559.8,449.9 673.8,430.7 611.5,419.2 551.4,433.6 587.0,455.0 623.3,438.5 600.1,432.4 621.1,428.7 670.9,417.3 623.6,430.6 659.1,419.1 615.4,416.9 571.0,463.9 642.8,426.2 569.9,440.6 624.6,430.3 614.7,430.0 565.2,447.8 570.0,446.4 587.4,430.0 606.5,437.4 637.3,428.4 595.9,440.0 622.4,438.1 572.5,409.9 573.3,444.6 596.6,428.5 576.7,421.6 590.9,466.7 619.5,445.9 602.6,424.9 626.2,411.0 571.4,401.2 565.7,428.6 548.0,422.5 535.4,463.1 579.5,440.5 596.6,417.7 587.8,442.1 594.6,438.3 661.8,449.6 558.5,437.7 585.6,454.8 578.4,431.0 564.6,398.7 639.2,432.5 593.5,430.6 635.9,439.4 557.4,428.7 656.5,444.9 669.4,442.2 566.0,409.0 594.4,451.4 590.5,448.6 613.2,451.2 551.9,420.4 610.2,438.2 618.8,462.7 575.0,450.8 520.2,421.9 572.4,427.2 581.8,425.7 620.1,436.2 574.5,424.5 557.0,419.4 615.3,428.1 607.2,454.2 619.1,457.0 596.5,453.4 629.8,432.9 611.9,469.1 536.1,448.8 601.6,435.2 620.5,445.1 596.2,451.3 643.2,426.8 580.0,429.6 618.1,427.1 554.5,424.4 595.1,418.1 577.0,436.2 562.1,438.0 552.0,457.3 602.5,438.7 609.2,442.7 574.2,410.0 554.3,427.6 566.2,417.8 620.2,424.1 555.5,421.3 632.7,430.6 540.1,434.2 604.3,440.4 617.1,436.2 635.4,454.5 581.0,431.1 569.9,437.9 548.2,460.8 625.2,464.3 590.9,444.9 580.1,441.7 581.4,439.7 603.6,420.6 596.3,451.4 634.1,448.6 524.3,431.4 623.1,425.4 577.7,415.9 592.7,448.5 584.9,439.2 592.5,441.3 620.2,419.8 602.6,427.7 547.7,435.8 593.1,427.2 592.1,440.5 607.6,438.5 596.7,436.5 592.7,442.2 629.2,438.7 559.5,431.8 667.3,434.2 576.8,418.0 561.3,425.6 621.3,436.9 630.9,458.3 636.7,450.5 643.6,445.6 611.2,440.5 597.6,452.2 607.9,440.6 595.4,434.8 577.6,444.0 648.5,437.5 655.5,437.0 595.8,444.9 588.0,446.8 579.4,437.9 540.1,433.0 573.3,449.0 578.6,461.2 595.0,448.0 562.6,430.2 532.9,456.0 617.2,426.2 652.5,441.3 525.5,434.8 591.2,445.8 623.9,424.4 557.2,435.5 548.4,431.9 596.9,460.1 588.1,427.6 574.8,456.9 650.0,439.3 645.2,427.2 617.5,438.5 593.7,430.4 585.2,434.4 625.1,435.4 588.3,446.3 645.1,427.2 637.2,425.6 576.2,443.0 621.3,445.9 647.9,434.5 617.9,444.6 565.2,434.8 587.6,426.6 585.2,428.4 600.5,418.8 597.6,430.9 585.0,462.2 625.0,445.3 641.4,431.4 578.2,413.4 548.2,440.8 609.2,457.8 597.2,419.6 610.9,437.9 574.5,420.1 606.8,424.0 567.2,448.4 633.2,439.9 652.8,441.1 566.7,430.1 511.7,428.6 581.3,442.5 580.2,429.8 604.0,457.4 598.3,432.3 614.0,432.7 687.2,436.3 579.4,454.0 585.5,437.7 612.1,448.5 536.8,419.0 623.8,439.5 577.4,439.0 550.5,439.7 570.1,430.0 614.6,435.6 625.8,431.0 639.2,445.1 612.6,412.4 574.3,442.4 616.6,428.3 595.6,431.3 675.4,428.6 530.4,438.8 651.5,449.0 623.8,448.4 611.9,439.0 595.4,419.9 580.0,447.1 566.7,435.9 547.1,406.9 665.8,440.7 629.6,433.4 620.9,433.5 610.7,450.4 535.5,433.8 589.6,424.0 602.8,424.2 637.1,439.6 607.9,432.5 591.1,443.6 599.9,445.1 573.2,448.3 610.9,427.4 601.7,470.5 537.4,438.4 639.1,449.3 671.6,437.6 570.2,436.9 637.1,448.8 566.9,448.4 581.8,421.3 657.3,440.9 605.9,436.6 649.3,439.1 609.0,418.2 632.8,424.5 594.0,415.0 646.8,431.5 658.5,431.8 622.0,448.9 580.9,420.8 587.5,443.2 568.5,447.2 619.7,440.5 616.9,454.1 576.7,431.6 630.1,429.3 580.8,421.2 659.9,437.1 627.1,442.5 652.4,441.5 576.4,450.6 567.1,445.4 539.8,412.6 621.3,444.6 563.0,442.0 644.4,425.4 604.9,433.6 625.3,428.6 557.8,446.9 580.6,449.3 606.3,421.4 624.5,443.5 557.8,437.7 611.5,434.1 573.0,458.7 627.0,438.4 592.8,444.3 590.5,430.3 614.7,439.9 638.4,457.6 592.4,427.1 640.6,460.1 567.5,441.5 609.6,444.3 563.5,443.9 607.3,437.3 570.3,425.1 601.4,446.8 620.8,442.9 568.5,427.6 542.6,430.5 594.5,428.0 617.4,432.9 607.9,439.3 570.4,442.4 627.7,441.3 590.7,425.7 625.4,421.1 571.1,412.8 614.7,447.9 638.8,438.7 578.4,436.5 590.5,438.5 620.5,460.7 617.3,413.0 611.8,419.7 596.0,438.5 548.7,442.0 599.8,436.6 557.6,451.0 602.7,440.5 523.1,427.2 647.1,421.7 662.3,422.6 614.5,422.2 572.1,449.2 629.0,422.6 621.4,434.5 576.9,437.5 639.2,420.7 623.5,446.5 617.3,446.8 588.2,445.5 599.7,417.2 576.5,425.1 605.9,457.1 578.1,416.5 638.1,436.3 601.0,426.8 606.6,445.4 610.5,415.3 610.2,431.5 553.1,420.6 641.6,445.7 602.8,428.3 581.7,435.4 568.0,439.2 577.3,446.3 579.6,445.0 600.0,450.5 571.5,453.0 603.2,436.8 604.4,423.3 577.0,474.8 671.8,443.9 595.7,451.8 610.5,455.0 603.1,439.9 594.2,439.7 621.5,438.5 644.5,432.7 597.0,425.1 571.3,426.8 617.2,433.4 528.9,422.7 604.4,445.8 593.1,447.9 609.8,429.1 549.8,429.7 584.8,409.9 565.5,439.3 581.4,448.5 618.1,433.3 592.4,442.0 579.3,447.3 637.4,423.3 599.1,413.2 532.5,432.0 564.5,444.5 611.9,433.6 612.7,437.1 605.6,452.7 606.8,426.8 568.9,432.3 595.0,421.3 559.3,443.2 570.7,436.7 568.2,437.9 570.4,457.4 586.6,406.0 590.3,461.9 571.5,450.4 632.6,443.8 582.6,455.5 647.4,432.6 629.9,441.1 557.7,435.5 626.0,434.0 551.6,435.5 644.1,435.4 607.6,438.1 564.5,431.2 525.5,426.5 583.6,439.5 552.6,441.8 632.1,440.3 555.9,432.6 588.8,440.8 612.2,445.2 596.5,454.7 604.6,413.6 588.0,466.7 619.5,418.1 565.7,426.6 614.4,424.8 556.8,433.1 601.6,424.7 558.8,432.7 589.2,422.0 614.9,426.9 635.9,421.3 537.2,448.3 570.7,430.2 564.0,416.4 635.0,408.8 567.4,448.7 618.5,432.7 578.8,429.4 548.7,430.1 599.1,463.6 558.5,425.5 619.2,453.6 622.4,412.7 638.8,429.7 562.5,437.2 646.6,424.5 626.9,434.5 537.1,442.6 667.5,437.4 650.2,432.9 561.6,445.9 606.1,419.1 551.7,422.2 591.0,422.7 601.4,421.7 615.5,421.4 568.5,427.2 594.5,419.8 565.0,435.1 607.8,431.1 616.9,420.1 597.7,412.0 632.7,439.4 619.9,451.7 607.4,410.7 633.1,424.3 554.8,413.3 594.1,424.7 537.6,432.8 594.7,451.3 580.0,447.7 622.2,420.2 580.9,423.6 574.4,431.9 592.2,463.1 591.0,442.3 612.1,449.8 566.8,439.5 543.4,433.0 632.8,420.1 554.2,442.5 580.2,434.9 559.3,432.4 624.0,446.5 576.9,424.9 635.4,443.9 572.3,446.4 605.0,432.8 620.0,436.4 626.9,434.8 556.4,447.2 583.4,417.4 592.7,449.3 535.7,425.3 618.6,441.1 608.1,449.8 612.0,436.8 549.9,448.9 601.4,442.3 609.7,437.6 629.0,427.7 578.4,425.9 617.6,430.5 659.5,438.2 581.3,454.7 582.1,438.6 584.9,439.8 546.8,437.4 583.7,442.3 648.5,440.6 565.2,425.8 589.2,452.4 634.6,435.7 614.0,421.4 603.0,445.1 584.6,448.1 591.8,441.1 595.9,440.1 618.0,429.7 598.1,418.9 626.3,437.2 534.8,428.8 622.4,442.1 578.4,441.9 596.0,428.2 581.8,444.1 616.6,422.3 591.8,440.8 616.0,437.6 569.4,448.8 601.9,441.1 635.7,445.8 632.0,440.8 584.1,458.0 600.4,435.8 583.7,392.0 591.8,459.2 596.3,392.2 635.2,437.1 614.7,425.7 643.3,445.4 645.8,417.0 554.5,462.5 605.8,436.8 581.3,416.4 543.2,451.8 560.6,465.1 579.4,436.7 650.2,442.8 598.6,448.0 589.7,458.6 594.9,454.2 571.4,418.3 601.4,420.8 592.8,453.0 542.8,437.2 578.6,441.6 616.4,445.4 592.7,415.5 617.5,435.8 564.3,445.8 598.8,437.0 624.3,442.2 543.8,407.5 572.1,434.0 582.9,442.0 586.7,434.7 579.3,417.3 604.7,447.6 628.9,453.7 607.1,420.1 629.1,429.5 629.8,440.7 576.6,437.8 604.7,422.4 583.8,470.3 617.2,421.5 584.6,440.2 589.9,427.4 650.9,436.4 545.5,443.8 599.8,422.1 605.6,467.7 579.6,435.4 598.2,426.0 629.0,452.3 579.3,461.7 589.9,434.7 573.1,423.1 606.7,421.6 592.0,444.7 566.2,427.1 591.0,453.9 655.1,420.6 541.0,443.2 551.4,403.5 606.9,439.2 551.4,440.2 659.0,422.1 548.0,447.1 554.0,403.0 579.5,440.5 630.9,445.2 622.0,445.3 614.5,422.9 605.7,437.0 638.0,439.6 537.5,455.2 605.1,421.6 642.2,415.6 561.7,427.8 606.5,426.5 636.4,441.4 591.8,434.0 656.1,434.2 612.4,442.7 630.6,431.0 561.7,445.3 571.8,444.4 571.7,451.9 653.0,434.8 521.1,445.3 537.1,442.5 621.8,420.6 600.9,436.6 583.4,455.6 586.3,442.7 635.1,415.9 534.7,429.0 579.1,434.7 630.4,437.9 620.7,435.3 566.7,431.0 587.0,444.4 640.1,416.6 582.4,421.5 637.1,437.6 621.9,420.3 567.8,452.7 591.6,419.6 617.1,433.9 610.5,425.4 645.3,439.4 632.2,434.5 606.8,428.9 618.5,424.1 573.6,429.5 577.3,430.4 615.7,449.8 607.2,415.2 561.0,430.7 593.9,438.9 570.9,440.2 578.7,451.4 637.9,443.5 566.2,455.5 575.5,433.5 614.7,437.0 598.9,433.3 601.9,451.7 550.4,441.4 595.7,444.2 584.7,423.4 570.7,455.1 578.6,455.5 587.2,419.7 623.5,428.1 656.8,463.5 600.2,419.0 644.1,421.7 600.3,421.6 598.6,434.5 637.7,444.8 641.5,438.7 568.6,476.4 668.2,422.2 573.3,444.9 573.5,432.5 580.1,415.5 643.1,430.1 609.7,431.1 626.0,440.3 526.0,433.3 595.2,438.9 593.3,465.1 619.2,424.7 582.0,452.1 635.1,446.8 575.0,441.3 552.5,453.8 544.6,451.6 637.4,454.3 621.2,430.8 572.1,421.0 632.3,435.3 591.6,450.7 593.2,419.4 550.4,440.2 579.6,456.4 600.6,483.6 603.6,433.8 579.2,417.7 628.9,440.2 643.1,442.2 571.3,439.6 610.0,446.3 548.6,450.1 610.4,433.1 566.4,445.3 592.3,424.2 602.7,448.3 589.5,427.1 630.6,432.5 572.5,441.1 582.4,439.9 607.7,444.1 596.2,414.7 605.4,446.1 590.6,421.0 571.6,423.2 618.5,440.0 599.8,415.6 626.0,462.0 639.8,433.7 586.1,434.5 573.8,435.9 582.9,425.4 576.7,441.2 534.1,438.5 649.7,425.5 610.5,437.5 671.7,444.1 579.6,428.9 616.3,437.1 606.2,443.0 510.3,335.6 543.2,336.2 621.0,365.4 715.0,448.3 685.5,412.8 636.7,395.9 609.3,399.6 595.0,397.1 572.7,389.4 557.5,388.8 531.0,399.6 510.3,399.6 648.0,406.7 676.3,421.0 687.5,448.4 693.2,463.7 674.3,462.7 671.2,498.2 576.4,551.5 650.3,565.9 592.0,481.6 575.7,475.9 564.2,471.8 538.2,477.9 526.0,473.2 617.8,465.7 634.7,478.9 639.7,471.8 645.8,464.7 417.8,513.5"/>
<polyline class="p" marker-start="url(#a018)" marker-mid="url(#a018)" marker-end="url(#a018)" points="244.4,470.1 252.5,447.2 270.8,438.2 280.1,432.9 264.1,408.2 254.3,442.1 267.9,457.7 279.0,429.6 265.2,431.0 276.6,424.3 266.3,442.2 253.9,430.6 257.4,447.6 264.2,421.6 291.0,449.7 273.1,448.7 264.4,407.8 270.0,451.9 269.2,434.4 262.3,421.5 265.8,441.8 264.3,413.8 274.8,447.8 283.4,411.2 281.0,470.1 263.6,465.4 272.8,433.0 259.3,401.9 255.4,397.7 267.7,454.2 273.4,435.2 266.3,445.8 275.7,483.5 275.7,418.0 274.9,443.1 265.3,403.3 252.6,428.2 286.0,446.7 261.9,450.3 274.7,438.8 272.1,424.2 263.3,445.7 274.1,429.8 266.8,460.5 262.5,432.7 256.7,408.4 253.6,424.7 273.0,442.1 262.3,449.7 262.2,452.6 272.3,461.6 263.3,446.3 273.8,428.6 260.2,447.5 261.5,397.4 276.6,425.9 259.8,444.7 273.4,435.3 272.3,401.1 267.0,473.5 249.5,429.1 255.4,411.7 253.4,455.2 276.0,431.7 257.8,439.9 261.6,449.9 265.9,440.8 249.4,442.1 273.3,467.1 260.7,440.0 275.4,422.8 334.3,435.6 312.5,414.8 345.4,420.2 337.6,444.6 299.1,431.4 373.0,412.7 352.0,448.8 324.6,448.5 340.8,452.9 347.0,404.3 299.8,421.0 351.0,417.3 302.0,443.0 380.2,435.7 364.9,409.5 349.1,441.0 345.7,410.1 359.4,435.6 317.4,435.6 315.5,423.4 277.6,417.0 328.2,398.0 293.2,442.4 335.8,399.4 281.8,451.1 353.5,453.2 314.0,482.3 316.4,417.3 357.5,403.8 327.4,460.3 326.3,441.9 343.0,440.4 281.3,467.8 322.5,433.5 377.8,428.7 357.7,445.6 292.2,456.5 376.2,432.1 373.2,422.4 350.1,464.8 280.5,437.1 321.1,423.1 320.1,428.1 286.1,398.6 333.0,462.1 296.6,407.3 342.5,441.1 298.5,422.1 367.9,438.3 307.3,459.0 268.0,471.1 362.2,384.5 304.4,463.2 291.8,440.6 375.2,404.7 317.8,428.4 359.4,431.2 277.5,477.4 361.9,447.9 355.2,463.0 300.4,472.8 302.8,427.2 278.3,417.3 340.5,451.1 316.7,448.6 366.8,425.7 317.4,416.2 321.4,457.2 301.8,410.0 302.6,415.0 274.5,434.7 335.6,458.3 296.2,422.8 363.2,420.2 335.3,397.6 331.1,447.5 359.6,401.2 287.8,442.3 368.8,423.6 385.5,437.2 288.7,433.0 284.7,403.7 283.2,449.3 311.6,417.2 279.2,440.5 357.7,435.6 303.6,450.0 298.4,430.6 373.0,477.1 306.0,440.3 318.1,413.3 339.7,416.9 326.8,469.2 304.0,458.6 328.9,443.5 301.8,395.0 343.5,443.8 321.9,435.0 292.5,440.0 322.1,428.3 294.5,454.1 345.4,429.2 347.8,424.6 288.3,412.5 377.2,453.5 354.2,415.5 291.4,393.8 322.3,417.9 325.5,420.1 325.2,486.7 288.8,406.2 372.9,393.8 321.9,408.7 339.6,423.9 333.5,416.9 374.4,449.8 318.1,443.2 341.8,411.1 302.1,429.2 365.3,480.8 301.1,429.8 283.4,427.2 319.2,454.6 358.6,426.5 317.4,429.4 346.2,473.1 347.7,423.6 286.9,388.6 305.4,397.2 387.9,458.9 335.6,462.9 359.4,433.3 312.5,428.6 310.0,463.3 361.7,450.5 323.8,405.5 279.1,429.4 346.7,412.4 329.2,435.3 358.7,412.6 376.9,446.0 334.8,445.7 287.9,455.0 285.3,475.8 354.3,443.2 355.7,463.8 353.3,444.7 311.1,431.6 321.3,431.0 282.0,426.2 323.2,443.2 330.2,435.9 292.6,409.9 280.7,438.0 374.7,434.1 289.3,487.4 316.7,458.5 348.7,411.2 324.3,453.4 367.0,457.9 299.0,413.9 373.2,461.2 364.5,413.5 324.0,436.9 317.1,448.3 366.1,479.0 334.8,406.3 366.3,474.0 288.3,461.4 277.2,417.9 293.9,461.6 358.6,424.0 295.6,435.7 330.8,440.8 339.5,457.7 286.7,449.2 308.6,429.0 329.6,456.1 266.2,421.3 318.7,429.8 337.1,423.3 317.4,430.0 297.3,422.8 273.8,426.7 379.1,417.1 357.4,426.8 335.9,428.0 355.7,454.7 273.0,472.2 389.5,433.9 315.7,414.3 317.7,455.0 294.2,469.2 320.7,446.8 274.0,427.2 291.9,416.6 313.2,441.9 341.4,460.4 350.7,438.2 369.6,410.7 420.1,404.7 391.3,434.7 404.0,395.6 418.0,426.2 395.0,433.3 373.5,408.1 424.8,465.0 361.3,489.1 437.9,464.4 384.3,400.2 386.4,412.8 411.0,430.3 411.6,440.9 413.9,439.2 361.4,425.4 377.0,456.3 409.6,415.9 410.3,459.0 398.0,401.8 434.9,443.4 395.8,457.9 425.5,442.1 429.3,458.0 409.7,438.4 395.4,479.7 420.2,447.2 412.4,433.2 417.0,425.6 377.5,444.7 412.9,405.1 442.9,477.0 393.0,440.5 404.2,447.1 394.2,435.3 424.0,441.6 345.8,400.9 443.0,435.2 414.2,458.1 407.9,434.2 430.5,439.1 410.5,413.2 418.5,449.9 432.6,440.7 405.2,413.8 420.4,464.5 439.8,446.4 415.6,411.8 384.3,390.6 421.2,437.2 454.8,437.8 392.3,408.2 412.8,471.8 412.2,452.4 424.2,454.9 390.0,486.2 452.6,445.3 419.2,412.6 384.5,418.6 421.7,403.8 441.5,438.8 358.3,402.0 403.5,456.8 426.8,467.6 367.4,426.5 381.2,434.9 413.5,419.3 401.9,435.3 392.9,404.3 409.0,417.9 364.2,428.8 378.8,444.5 446.6,417.6 383.9,451.6 412.5,411.3 399.5,406.5 423.6,411.6 409.6,466.9 411.6,424.1 431.7,425.8 409.5,413.3 356.1,473.8 383.5,450.0 438.5,437.0 428.9,400.3 394.8,449.9 359.1,412.7 382.1,431.3 455.8,386.8 432.5,426.9 433.1,475.2 358.5,441.9 365.2,428.6 385.4,403.3 365.2,418.4 403.9,442.0 372.2,466.5 413.4,434.1 395.1,438.0 386.2,401.7 418.1,411.8 412.7,469.9 404.3,492.8 391.3,445.2 399.6,428.2 350.2,459.2 349.4,447.8 383.1,405.2 404.5,416.5 447.2,478.0 411.3,426.2 374.9,430.9 388.1,439.9 367.6,420.8 399.7,420.2 399.8,429.1 407.9,453.1 428.1,447.3 418.8,416.9 370.5,386.5 423.0,419.6 374.2,421.4 410.9,428.1 403.3,445.9 444.9,432.9 398.2,465.1 398.3,416.1 393.6,422.9 423.4,430.2 409.0,456.2 393.9,441.3 422.8,449.1 456.1,427.1 443.6,441.9 440.3,425.7 386.9,411.4 398.5,403.0 405.2,460.3 356.3,443.1 446.1,462.1 363.3,403.5 411.5,455.9 368.7,400.9 404.3,447.2 422.7,409.0 414.7,448.2 378.5,440.3 384.0,431.5 425.4,432.4 399.4,438.3 404.1,417.9 425.6,404.7 335.3,413.1 407.8,446.7 434.1,480.9 447.8,431.8 381.9,417.8 426.4,419.1 450.2,465.0 384.4,420.0 382.3,451.1 397.2,402.9 390.4,453.7 347.8,455.4 339.3,451.0 366.9,428.6 384.6,460.5 412.5,378.2 387.3,443.9 405.8,390.8 436.9,441.7 424.0,452.3 375.6,453.6 427.1,423.6 401.0,404.6 410.1,431.9 426.3,456.9 421.3,429.2 366.8,454.3 408.1,431.4 419.5,478.2 456.1,450.4 416.8,433.2 391.5,444.6 388.3,441.1 382.4,395.9 367.1,410.7 366.9,396.7 386.5,429.2 403.5,428.9 380.9,390.4 401.3,450.2 393.6,426.2 395.0,431.2 389.6,427.2 408.5,419.6 401.4,431.6 331.8,414.3 407.8,455.7 403.7,422.2 385.0,460.6 405.3,407.7 382.8,410.1 404.1,439.8 378.1,447.3 418.7,435.3 410.0,420.9 363.0,472.4 382.6,459.7 419.2,411.3 411.5,440.1 404.5,466.8 371.3,490.2 383.1,445.9 405.1,478.5 408.5,431.7 400.4,436.9 379.2,389.2 394.8,466.1 387.9,419.2 370.5,464.8 372.1,460.7 379.7,440.2 361.6,456.1 413.0,389.8 420.8,436.5 423.8,453.9 380.4,377.7 381.1,455.0 407.2,444.5 388.5,440.5 392.5,454.6 392.5,420.3 358.8,405.7 433.7,467.4 363.3,447.5 359.7,444.8 421.6,470.2 372.1,468.2 428.4,444.8 409.5,457.9 409.8,427.9 390.7,415.3 363.8,431.0 369.7,428.6 403.2,458.5 397.7,450.6 369.2,426.1 370.9,421.6 378.0,437.9 398.9,422.3 411.9,442.0 423.9,464.6 390.9,428.1 437.7,446.3 419.1,477.9 438.8,415.1 377.8,426.4 415.5,417.9 428.7,447.5 354.6,399.2 424.4,424.0 411.2,411.7 424.3,452.0 404.9,443.5 430.2,404.2 389.6,436.5 387.0,435.2 419.1,399.1 419.2,407.3 365.7,430.2 431.6,388.8 430.9,472.4 427.1,437.4 381.7,449.3 433.1,399.5 413.9,396.9 424.4,447.5 399.2,432.1 389.4,412.6 382.3,422.8 384.7,429.1 423.7,411.1 380.6,387.8 384.6,432.6 409.0,462.7 393.7,438.2 347.6,436.5 383.6,444.8 391.2,418.4 442.0,417.5 417.7,413.3 374.7,423.8 372.1,429.1 388.7,460.5 406.3,443.8 380.4,456.5 411.7,427.6 364.3,438.3 409.0,436.4 431.2,422.6 332.0,442.6 399.7,409.4 407.0,409.9 412.1,458.4 403.1,403.5 398.8,443.7 407.8,453.1 403.3,443.1 402.8,466.4 441.0,427.2 426.9,406.1 424.3,472.3 384.2,425.1 388.0,421.2 427.7,419.4 373.5,419.8 426.7,424.8 365.8,446.8 455.2,413.7 432.4,427.3 386.4,416.0 388.6,427.8 347.9,441.8 399.2,436.5 431.1,420.6 416.2,410.1 393.8,481.9 453.1,466.5 414.7,475.1 411.1,448.4 392.8,451.7 415.5,430.6 467.9,442.9 412.0,403.1 357.6,450.5 406.1,452.7 449.7,455.5 431.1,442.8 387.2,431.6 409.4,447.3 362.5,458.0 416.9,468.7 377.9,431.1 386.8,448.9 385.9,459.5 382.1,442.2 444.1,427.5 438.5,385.9 393.1,396.1 402.9,457.2 443.8,446.5 393.1,483.1 389.0,483.3 378.6,480.5 440.6,413.6 404.7,439.4 400.7,471.4 389.6,452.1 377.0,448.0 425.0,451.8 380.5,400.1 387.0,482.7 357.2,446.8 372.1,429.8 387.1,424.1 387.8,488.7 361.4,431.3 384.5,466.4 396.8,449.8 415.3,417.1 365.7,411.2 393.2,443.0 411.6,478.4 400.1,414.6 401.3,406.6 400.5,462.5 416.9,412.8 365.2,479.3 385.0,466.8 410.0,432.2 400.8,469.6 372.8,417.3 392.8,400.9 382.1,434.1 400.6,423.6 357.4,396.6 358.3,422.9 362.9,403.7 393.8,349.7 484.4,510.5"/>
<polyline class="p" marker-start="url(#a019)" marker-mid="url(#a019)" marker-end="url(#a019)" points="353.6,437.2 282.4,408.2 319.4,463.5 335.8,445.4 372.0,436.4 319.5,424.2 297.1,384.3 333.0,419.5 312.9,419.0 291.7,469.2 350.0,393.5 310.6,483.4 342.1,413.1 352.5,433.9 316.3,465.3 349.6,422.1 339.1,449.5 338.3,400.0 321.7,434.4 284.2,434.7 351.0,445.1 333.8,463.5 352.5,449.0 349.6,432.3 302.5,443.7 328.1,443.0 308.2,421.8 371.1,428.7 336.5,490.4 331.4,450.6 371.5,461.2 360.5,420.8 295.7,428.3 337.3,465.4 340.8,422.8 349.3,430.5 342.4,450.2 364.7,428.8 311.3,443.0 341.9,455.9 350.9,409.1 368.3,385.4 299.8,430.3 301.6,425.5 327.2,462.6 321.9,448.2 336.4,383.0 344.5,424.3 306.7,441.5 283.5,441.3 338.2,412.1 289.7,412.1 345.7,446.0 358.5,404.9 325.1,437.6 296.3,438.3 369.6,416.4 339.6,457.0 344.2,479.4 297.8,441.1 299.3,413.1 349.1,413.1 294.7,404.0 300.8,446.4 350.6,436.7 346.5,440.7 325.4,419.1 352.7,423.5 362.4,431.7 324.9,399.6 281.4,426.0 370.5,429.0 363.5,456.7 364.2,434.7 297.3,400.3 285.7,417.5 330.9,439.1 366.0,461.7 327.8,456.3 298.8,408.7 294.6,435.8 332.7,434.1 310.3,402.1 339.0,447.7 320.2,449.4 320.5,397.8 310.8,419.4 334.3,479.2 373.0,436.7 290.2,457.5 353.7,450.0 316.3,442.6 302.2,480.6 301.4,387.1 352.0,441.8 332.1,449.2 303.4,473.1 355.6,442.5 292.8,401.4 307.6,436.0 316.8,427.0 322.4,442.1 288.0,426.8 339.7,417.2 279.3,440.7 322.2,433.3 291.3,429.4 342.6,487.4 283.5,411.5 304.4,387.0 335.1,413.9 294.3,445.9 333.5,426.1 333.6,383.1 325.7,454.6 351.0,394.8 306.6,453.1 339.3,418.8 308.5,408.8 296.3,427.4 362.4,393.3 293.0,472.9 307.7,432.5 343.5,417.7 295.8,394.2 347.2,491.7 279.0,441.8 295.2,488.7 372.8,423.8 295.0,450.5 297.0,408.3 322.2,412.0 304.3,440.9 285.9,418.8 304.0,448.4 334.5,420.0 369.8,448.4 332.2,412.6 285.5,418.9 327.8,474.9 349.4,429.9 362.1,465.7 365.5,410.3 332.5,464.6 323.0,497.7 332.0,479.5 350.6,429.8 288.1,405.4 284.3,433.2 353.9,436.0 311.9,398.8 360.6,394.9 324.1,443.4 332.7,400.7 333.1,416.0 350.0,438.3 337.1,435.5 280.2,405.9 337.9,468.2 356.9,477.8 332.8,403.6 371.9,382.3 359.3,427.5 303.0,407.1 338.5,449.9 285.7,444.8 343.0,430.9 353.9,448.1 371.0,437.1 344.7,440.4 345.7,418.7 292.3,411.5 351.5,397.5 303.0,440.4 374.3,447.7 330.4,486.1 372.7,480.7 283.0,413.7 299.9,422.5 317.5,434.4 337.0,469.0 325.8,495.2 302.8,451.6 353.8,400.0 348.7,424.1 357.4,400.5 297.8,395.1 352.2,444.2 293.8,409.6 297.2,411.2 357.5,434.3 361.8,427.1 375.0,459.8 371.4,428.8 360.5,441.9 358.1,433.1 369.9,410.3 318.5,442.4 280.3,443.2 337.1,447.4 282.4,447.4 321.5,423.2 364.3,477.0 293.6,434.6 296.8,451.3 333.7,415.7 352.2,389.0 280.2,431.4 290.5,419.4 364.0,431.2 322.7,433.7 307.0,409.4 354.4,430.5 303.9,446.4 313.2,448.9 310.2,422.9 280.5,410.8 284.4,415.2 297.0,458.2 318.9,438.1 313.4,378.3 354.3,407.6 336.1,450.0 345.1,446.4 343.8,411.5 290.0,415.5 339.5,447.3 286.8,406.1 310.9,449.3 278.2,419.6 306.7,440.6 319.1,443.7 335.1,460.2 276.3,415.1 312.1,413.0 305.4,401.4 323.4,416.7 319.1,424.0 322.4,434.6 328.3,424.1 351.0,467.6 330.0,440.8 286.4,413.6 360.3,456.6 327.1,434.0 355.1,450.0 345.4,432.8 320.8,476.5 334.2,439.6 305.8,463.3 337.4,397.7 284.7,389.4 312.2,449.0 313.2,455.5 357.4,419.3 316.1,410.0 313.8,463.3 311.5,447.9 347.1,465.0 322.8,395.3 299.5,435.1 329.9,434.5 295.9,468.1 342.5,402.9 362.5,473.2 380.1,456.2 302.2,452.8 298.4,440.1 347.9,475.7 376.1,457.8 355.9,420.4 322.2,437.6 346.3,433.2 353.4,409.8 361.8,435.9 370.9,460.9 347.5,391.2 305.3,483.0 292.6,474.1 347.6,434.4 358.7,407.0 316.5,466.6 304.9,427.9 312.5,449.2 371.2,433.4 344.2,420.0 346.0,434.0 291.2,434.1 302.5,430.7 313.7,442.1 353.8,428.0 285.7,410.0 291.5,461.8 295.0,428.9 345.8,412.2 301.9,438.9 304.7,386.0 369.1,405.8 337.0,445.4 312.8,455.2 303.7,444.1 308.0,434.9 355.9,403.3 335.6,434.9 288.5,427.3 285.0,442.4 320.4,481.7 357.3,410.3 360.7,443.9 371.8,423.2 359.5,435.5 321.5,423.2 303.4,424.3 331.2,438.6 300.3,458.3 343.4,425.0 349.6,406.5 293.9,435.9 363.6,494.9 330.8,457.2 287.4,383.3 332.7,451.3 332.9,431.0 305.9,487.9 354.5,451.7 362.7,459.5 331.7,414.4 333.4,418.9 359.3,421.1 334.1,408.4 331.3,449.2 312.2,389.8 302.7,442.6 309.9,411.0 316.3,378.5 350.1,450.1 319.2,425.8 320.1,439.3 304.2,432.5 328.3,427.8 284.2,438.0 290.5,435.6 293.9,416.8 302.2,472.0 356.3,456.1 360.2,449.6 341.5,473.4 305.9,426.7 353.2,448.5 359.1,459.4 313.4,473.1 378.0,424.2 363.2,470.6 285.8,419.1 350.4,428.3 324.7,481.9 343.0,456.9 310.9,407.8 297.7,446.4 298.1,456.9 372.6,455.8 335.7,425.9 311.2,486.1 336.9,408.4 346.9,430.0 301.7,464.3 331.0,469.8 289.4,428.0 334.9,395.8 323.6,468.7 367.9,438.2 337.8,433.9 333.3,457.2 294.2,458.0 339.8,394.3 314.9,461.8 353.8,480.6 369.9,447.8 286.5,401.2 345.6,417.9 300.2,437.7 335.9,439.1 333.4,420.2 345.7,479.8 335.9,447.9 346.5,451.9 353.5,389.6 354.6,444.6 326.0,438.5 372.3,450.0 345.9,488.3 342.6,452.5 332.3,479.7 346.9,453.2 317.0,449.4 284.5,450.8 336.0,397.6 348.5,445.4 341.1,422.2 344.9,451.2 295.1,384.1 315.8,415.8 316.9,424.6 320.5,475.9 275.3,415.1 279.8,426.7 315.3,427.7 347.1,437.1 373.2,430.9 347.4,460.7 303.3,435.3 298.7,420.8 328.8,425.2 314.1,462.5 340.9,421.6 300.9,469.7 326.5,457.0 285.2,460.4 293.0,453.7 318.5,440.6 334.6,418.7 339.3,408.2 321.0,424.9 311.3,457.3 342.7,416.8 342.9,410.4 285.3,457.9 304.0,469.6 352.9,441.5 329.1,445.5 282.6,442.0 316.1,418.1 320.1,469.4 298.6,466.8 344.2,440.5 278.9,414.4 300.8,445.8 359.9,482.9 281.0,394.2 289.9,471.6 289.7,401.6 317.6,406.2 313.6,390.9 345.1,461.3 365.2,421.5 342.8,417.4 294.5,403.3 297.1,445.8 340.8,434.6 347.6,410.1 351.1,403.0 354.9,437.8 359.7,440.8 286.4,391.5 313.0,471.1 317.3,408.5 318.3,461.4 323.1,435.7 284.7,427.7 340.3,403.4 338.5,480.9 368.7,451.3 318.5,475.0 351.4,386.5 307.0,466.0 283.4,454.0 306.6,426.5 322.0,446.1 318.3,458.8 316.5,458.4 328.0,470.9 362.0,405.7 301.5,434.0 363.1,453.8 330.1,417.6 307.0,461.0 351.3,436.8 336.0,452.1 303.0,404.1 355.5,475.8 299.6,399.2 367.6,470.0 345.9,459.1 353.9,440.3 320.9,419.1 353.3,429.3 336.7,471.4 337.9,452.2 331.3,392.9 294.3,442.9 322.1,463.1 360.7,413.5 317.2,488.8 369.1,461.1 361.7,412.8 284.3,442.3 308.8,440.4 350.8,420.4 337.2,459.0 296.3,478.8 288.9,455.1 347.6,438.2 378.7,457.8 311.3,476.5 293.5,430.1 316.4,385.0 335.8,471.5 324.3,406.4 313.3,419.3 319.7,455.4 324.8,465.5 380.0,423.1 292.0,447.4 284.5,445.5 347.0,450.2 318.1,385.7 331.8,425.8 341.0,386.0 354.6,433.1 304.7,379.2 364.9,437.5 313.6,432.9 339.0,416.2 293.8,457.1 378.9,436.6 339.4,421.7 352.5,455.6 338.2,424.7 337.8,407.6 339.1,469.1 339.8,440.6 282.0,426.4 312.4,456.9 363.4,409.6 287.4,452.5 358.9,430.4 350.2,454.3 333.1,440.4 346.2,424.3 303.6,441.3 301.5,432.3 319.8,449.1 282.1,404.5 289.3,411.5 320.5,453.8 321.5,421.7 359.2,449.4 364.6,399.1 333.9,442.3 304.7,496.3 284.0,418.8 308.9,413.6 298.7,431.2 297.7,410.0 384.5,405.9 301.6,417.0 317.2,443.9 346.3,440.8 319.7,435.3 380.6,442.2 341.1,459.0 348.0,470.9 337.7,439.1 318.2,446.3 345.2,471.1 335.2,447.8 308.8,442.8 293.2,377.3 360.7,407.8 363.2,422.8 350.6,428.1 345.4,418.8 337.2,422.0 358.0,418.1 286.4,441.9 334.8,479.8 353.8,417.2 335.3,410.9 316.5,439.6 300.1,403.2 321.2,414.8 352.6,466.2 327.1,427.0 350.3,460.9 359.0,453.5 330.7,428.4 352.6,444.4 355.9,455.4 325.1,474.8 351.8,380.6 301.3,474.5 333.8,448.3 322.2,406.8 342.0,439.3 362.9,462.5 329.3,405.1 337.5,415.5 317.2,490.1 340.3,474.5 336.1,419.3 337.1,392.4 351.8,410.6 362.6,480.5 300.0,482.6 330.2,423.1 332.4,431.2 325.0,417.1 344.3,485.2 350.2,391.1 301.5,448.0 277.8,429.8 285.5,437.9 331.1,460.1 320.7,394.5 357.7,430.8 324.6,402.5 303.0,458.9 311.0,458.1 344.6,432.9 341.3,434.9 358.4,462.6 289.5,422.6 323.4,404.8 360.6,446.7 317.8,450.6 330.7,422.2 362.9,440.5 379.8,425.0 280.8,406.5 360.2,445.5 339.1,445.4 279.3,440.4 321.8,435.4 372.2,445.6 304.6,412.6 318.2,469.1 311.3,411.2 288.4,404.1 335.4,422.7 303.5,438.9 294.0,465.0 324.9,410.1 298.9,403.0 349.0,461.5 330.4,439.2 292.0,424.5 337.7,441.0 307.3,426.6 324.1,447.9 336.4,455.1 365.4,403.8 321.8,459.2 280.2,436.6 307.6,456.0 365.7,433.3 313.6,454.6 296.7,430.0 315.7,476.8 352.7,467.1 376.8,441.4 337.0,420.3 344.1,460.7 339.1,448.1 292.6,416.1 309.9,487.8 372.6,465.1 369.2,465.4 321.7,469.9 369.3,481.3 303.9,449.7 291.5,461.2 299.0,439.7 311.6,430.0 315.0,495.4 331.6,396.5 380.7,395.2 319.7,468.3 327.9,467.2 344.2,459.0 303.2,398.6 353.8,466.1 357.2,481.7 311.4,430.1 298.0,414.5 284.6,406.3 369.6,433.5 361.9,461.0 365.7,422.4 303.3,402.6 316.5,402.5 342.9,423.2 285.3,401.1 279.9,437.5 300.0,428.8 300.1,388.1 341.0,440.7 304.2,459.8 340.1,471.1 323.1,451.9 313.3,489.2 344.4,469.2 315.7,442.6 347.0,475.4 368.5,440.7 351.9,437.7 348.7,415.6 304.8,408.8 334.2,394.1 282.4,444.4 295.9,475.6 336.2,416.0 337.0,426.1 301.2,449.4 331.0,414.6 380.9,383.0 307.8,426.9 359.1,448.7 305.5,431.4 311.4,462.4 374.3,382.3 324.2,470.6 335.8,408.9 363.7,442.4 321.6,471.0 354.7,405.2 304.6,482.0 352.9,419.1 310.0,409.6 305.5,385.9 353.4,423.8 297.7,416.1 334.6,433.9 294.2,417.2 372.9,389.3 324.9,417.1 308.8,453.8 345.5,438.8 316.9,382.6 306.3,471.3 313.2,453.4 370.5,461.1 321.7,448.4 341.8,438.5 305.6,421.4 293.2,468.4 299.6,476.4 327.0,405.3 288.0,443.8 365.2,432.0 309.4,436.9 307.9,477.9 302.0,482.3 304.5,468.0 290.0,383.3 351.3,447.7 314.6,423.2 296.3,464.9 355.2,434.5 351.1,480.3 373.5,450.5 327.2,428.1 348.1,409.4 348.9,446.8 314.4,418.9 368.4,429.1 294.6,431.2 306.3,448.5 317.7,426.5 334.3,406.7 323.7,437.3 327.3,446.4 287.1,418.1 342.7,419.1 347.4,477.1 371.1,407.1 298.0,481.1 292.8,404.3 347.3,428.0 314.4,456.0 375.3,432.5 324.7,448.0 324.8,484.3 325.2,407.9 340.7,479.0 344.1,441.9 298.0,450.4 345.9,394.7 322.8,479.3 318.4,410.0 286.6,424.5 314.8,476.1 312.6,456.5 285.6,422.0 351.9,408.7 360.8,457.5 282.7,443.8 301.6,423.4 358.4,439.2 360.3,438.1 287.0,446.6 283.0,423.4 321.4,434.3 345.0,464.1 347.7,494.6 311.5,410.0 333.4,416.5 345.2,439.7 292.1,405.2 351.8,438.8 333.5,449.0 314.4,402.3 357.1,387.7 342.7,442.9 298.6,454.4 322.7,408.0 375.8,412.6 323.0,419.6 310.8,476.4 296.0,428.9 286.7,431.9 319.0,445.0 355.8,424.6 361.3,441.3 348.5,426.1 341.3,437.3 362.0,444.6 317.5,390.2 337.3,438.0 359.2,420.0 345.2,411.2 360.0,462.8 297.9,441.8 316.2,460.6 353.2,468.9 307.5,413.0 333.5,436.8 292.0,424.0 303.7,476.0 345.0,425.4 306.6,435.5 302.1,417.3 319.0,432.0 365.9,409.0 310.9,428.6 309.4,402.7 328.4,427.3 344.1,427.5 312.9,446.1 325.2,384.6 337.5,452.3 345.0,440.3 338.9,448.7 373.8,420.4 354.1,385.2 345.7,442.9 293.9,460.9 357.1,451.6 336.7,422.8 337.0,447.5 337.0,415.4 321.7,429.0 324.3,470.2 328.9,467.9 338.7,413.8 317.5,413.6 287.3,436.3 313.7,396.7 303.2,438.3 346.5,437.8 333.8,421.7 311.9,499.0 341.9,433.0 357.0,432.6 350.2,459.9 378.3,403.2 299.8,444.9 288.1,411.6 364.8,470.2 284.2,457.0 306.7,454.1 294.8,476.1 282.8,453.6 318.1,449.5 291.3,467.1 299.1,405.0 338.3,416.5 317.2,419.1 314.2,422.3 337.9,420.7 316.6,456.2 333.0,453.2 346.6,470.0 306.3,381.5 376.6,447.9 383.2,435.6 343.9,464.5 332.8,444.1 276.1,424.1 355.7,428.2 366.4,470.3 314.0,416.6 302.3,458.3 327.2,479.6 345.8,412.5 322.6,428.1 318.3,443.4 323.8,458.3 334.4,416.3 365.7,444.5 342.9,456.0 369.0,429.4 322.0,470.0 304.7,403.2 352.0,482.6 289.8,459.2 280.2,427.4 333.9,439.7 355.2,415.5 303.3,421.5 313.1,401.1 322.1,450.8 332.4,437.2 370.7,457.9 352.7,466.5 345.4,419.8 332.9,424.2 293.3,430.2 308.8,454.8 313.2,426.8 325.1,434.7 339.7,428.9 296.3,408.5 348.1,406.7 352.9,433.8 330.7,433.2 308.8,468.3 323.1,452.0 371.6,459.4 298.0,436.8 288.7,434.8 353.5,456.1 339.6,482.9 330.5,443.9 319.0,436.8 354.7,461.0 354.7,472.5 307.7,487.0 299.0,437.5 290.3,421.2 318.8,475.9 352.3,401.3 279.6,442.5 321.8,443.1 317.0,418.3 308.8,415.7 294.6,487.4 300.6,452.8 294.7,425.4 347.0,421.7 353.6,431.4 315.2,461.4 368.2,426.0 310.0,442.3 304.9,437.3 305.3,404.3 301.8,425.0 309.5,397.8 344.8,410.2 292.3,471.2 302.4,466.2 347.2,491.5 347.0,408.7 324.0,442.1 332.8,452.0 278.8,439.7 310.2,469.1 314.9,422.1 369.9,461.5 308.1,413.0 284.2,430.3 282.9,439.1 381.0,422.3 324.8,444.0 354.8,438.2 345.3,404.7 337.6,391.9 340.9,399.4 303.1,433.5 365.1,437.6 302.6,449.8 318.4,422.7 297.8,385.2 363.4,423.1 339.4,406.7 330.3,399.6 324.9,401.0 338.8,453.0 296.0,405.8 291.9,413.0 283.1,448.7 296.7,392.9 333.5,458.7 347.1,469.3 353.0,438.0 354.1,471.7 354.0,440.6 296.0,438.0 314.7,451.9 347.3,434.5 330.4,470.2 340.7,414.5 313.2,411.6 332.9,413.5 360.4,447.4 323.6,424.2 319.5,445.3 311.1,404.6 317.7,468.0 369.9,428.7 328.0,448.8 340.2,417.4 329.4,434.4 360.0,484.0 280.2,444.9 327.0,462.5 371.6,425.0 322.3,463.4 347.5,449.8 321.8,432.1 318.9,403.9 305.1,423.8 337.2,419.0 297.9,449.3 293.0,440.2 332.3,419.8 322.7,432.0 340.9,425.6 297.3,392.0 279.3,399.7 346.7,398.2 377.0,456.7 308.2,467.4 317.4,432.2 311.8,444.1 334.0,376.5 294.4,435.6 355.3,432.0 287.3,437.6 329.4,431.6 300.1,428.8 362.8,414.6 321.2,428.8 289.7,427.9 323.7,434.9 336.4,416.4 320.0,466.0 350.8,448.8 351.4,419.5 307.6,455.6 313.7,431.2 288.9,436.9 288.6,416.5 293.1,448.2 327.0,419.1 325.9,416.0 284.3,443.2 309.0,439.9 315.2,448.1 355.9,454.8 320.0,452.7 318.2,464.6 328.4,416.8 285.7,425.2 335.4,439.3 342.6,435.0 350.4,396.1 341.0,412.6 287.1,444.8 300.5,417.7 298.3,479.7 325.5,449.2 296.7,456.6 343.4,427.6 318.8,450.7 290.7,457.1 344.0,455.6 324.1,474.3 357.6,471.3 374.1,462.3 287.0,426.6 293.7,429.5 349.1,416.6 295.4,392.1 318.6,412.4 370.5,484.7 284.7,453.1 348.6,396.4 296.5,432.3 317.3,426.5 333.0,430.8 352.8,425.6 362.7,440.6 321.2,426.8 351.3,391.3 318.3,441.6 292.2,470.6 304.5,440.1 319.1,426.8 363.8,439.6 356.7,440.7 338.5,449.2 325.6,447.7 369.4,445.7 367.8,440.8 367.3,423.7 340.0,450.3 303.9,459.3 327.0,424.3 327.7,381.0 309.5,443.9 291.9,430.6 354.0,429.2 311.4,413.5 287.6,426.0 317.4,440.7 343.7,446.3 296.6,461.6 388.7,462.5 290.1,414.9 286.8,412.8 379.9,445.6 329.1,391.7 338.1,387.9 320.8,408.0 319.3,420.4 291.7,469.2 320.2,427.2 330.1,448.8 320.1,427.6 300.0,446.6 309.0,438.0 340.7,482.9 285.2,439.4 370.7,461.7 320.1,410.8 333.6,456.3 371.3,426.6 282.9,423.2 355.0,442.6 346.4,460.6 325.2,435.0 290.2,442.3 342.7,418.3 332.6,469.8 355.8,420.6 285.9,432.6 362.0,488.2 313.8,432.5 343.1,435.2 365.0,414.5 367.3,387.9 288.7,444.2 287.3,442.8 358.6,422.0 334.7,419.5 333.8,442.7 294.8,453.5 344.0,406.1 358.7,405.5 295.4,462.1 325.7,475.9 375.6,448.1 339.2,441.1 307.9,443.8 340.3,449.8 366.0,446.6 350.6,453.3 318.6,450.4 369.8,436.6 379.2,455.2 337.7,436.3 313.4,475.8 348.4,420.2 290.8,461.6 332.5,438.0 300.1,467.2 299.2,480.3 319.9,476.8 302.3,464.1 358.8,406.5 369.1,434.7 307.4,451.2 341.9,438.0 306.5,453.1 290.3,419.7 334.6,481.7 344.0,460.0 350.0,431.7 334.6,399.2 319.3,454.3 307.4,392.8 327.4,464.3 280.7,427.1 365.5,410.6 331.6,466.3 292.1,401.1 310.7,481.8 295.1,396.2 354.1,417.9 373.5,482.4 307.9,393.3 294.9,422.8 360.9,417.7 291.2,455.4 353.8,427.1 363.6,463.7 346.2,440.9 337.2,425.1 332.1,474.6 358.2,428.0 316.9,460.3 333.1,455.3 275.7,419.9 332.3,479.1 343.4,455.4 298.4,446.6 316.6,422.5 327.4,480.2 326.4,444.5 345.2,426.5 335.8,404.6 381.4,423.5 293.7,478.5 333.8,492.7 307.1,388.8 289.4,436.1 320.4,439.9 337.6,430.7 316.3,442.6 355.6,444.2 319.8,442.0 339.2,493.5 337.2,452.8 288.1,411.8 316.0,414.2 291.8,450.5 326.6,438.2 341.0,387.9 354.7,411.9 308.9,458.2 298.4,401.8 338.7,465.2 332.8,410.2 277.5,437.5 344.3,471.5 347.1,451.9 280.4,445.3 343.9,405.4 346.5,486.9 311.7,411.5 323.9,426.8 301.9,426.5 358.7,422.8 324.3,405.6 293.0,450.6 340.4,499.8 340.2,457.3 322.1,484.5 328.8,439.0 360.2,442.1 328.9,495.1 364.3,441.9 293.4,435.5 317.7,460.0 304.5,462.1 340.1,415.1 360.9,423.6 290.7,447.5 363.0,472.7 280.4,427.0 342.4,453.9 299.8,459.2 281.4,435.9 339.7,431.1 315.4,455.2 326.9,426.4 390.4,477.0 342.0,405.9 303.0,451.8 308.8,451.9 336.0,445.5 293.8,450.2 298.2,459.4 319.2,435.6 302.9,448.7 287.6,436.3 289.7,446.2 354.0,461.9 313.8,419.7 328.4,389.0 342.7,456.5 354.9,417.7 311.3,459.5 344.1,447.9 293.2,456.0 329.8,460.7 321.7,443.4 283.6,449.4 313.3,383.3 322.9,463.6 350.7,424.3 324.8,418.7 357.8,487.1 373.5,417.6 369.2,471.4 284.6,448.8 357.7,468.8 359.6,446.9 348.7,410.6 382.4,386.5 314.3,456.5 312.4,401.7 295.6,440.0 318.8,446.0 358.0,445.6 330.1,446.1 337.0,479.9 363.2,441.8 317.2,469.6 336.7,430.7 298.4,474.1 324.3,396.0 328.1,469.3 385.8,426.1 278.7,408.1 346.7,403.9 350.7,446.9 349.5,453.5 321.0,422.9 347.7,426.0 299.2,394.4 341.9,496.0 365.9,412.4 298.6,426.2 369.8,447.2 303.2,460.8 357.2,460.3 349.7,460.0 328.0,396.7 298.4,438.6 311.2,446.4 351.2,437.8 356.0,424.4 344.5,419.3 373.9,439.6 316.6,444.5 324.4,459.7 303.7,440.3 301.8,442.8 304.6,455.5 365.2,447.4 353.3,406.1 373.7,418.2 300.5,431.7 375.3,407.4 338.4,435.8 279.4,408.4 314.4,439.4 289.7,400.8 320.4,424.7 388.0,447.1 301.5,470.4 320.3,435.4 316.3,467.8 348.4,444.6 343.0,454.8 307.2,431.7 350.1,439.4 300.9,413.3 313.8,439.6 358.6,398.5 321.4,448.9 330.5,416.9 374.1,430.8 367.2,450.3 353.9,425.8 287.5,376.3 341.3,461.6 352.9,462.2 305.0,393.9 294.8,441.9 362.4,450.9 343.0,458.6 317.4,426.0 351.8,466.3 291.6,424.4 352.5,400.8 320.8,439.6 313.9,414.4 331.7,402.5 310.2,426.4 323.7,416.5 334.9,444.2 290.5,418.1 317.3,423.9 333.7,460.7 353.7,470.0 283.3,442.0 356.4,436.7 331.4,443.9 321.3,444.7 283.0,417.2 362.8,445.2 310.1,417.2 334.5,447.6 303.2,474.5 349.5,458.1 299.3,386.9 296.4,437.5 341.0,423.9 353.5,393.4 330.0,458.0 309.7,410.0 295.7,466.2 297.3,439.2 316.6,438.4 321.7,458.4 353.9,456.1 323.9,428.0 337.7,424.7 338.1,459.8 342.3,433.5 282.3,428.9 302.2,433.0 281.4,424.1 299.5,420.2 340.2,390.3 347.0,449.4 322.0,433.3 289.6,402.5 355.3,448.6 347.9,408.1 341.7,451.8 351.8,450.7 290.2,467.6 360.0,442.4 331.7,383.4 301.5,389.7 334.8,436.2 319.5,424.8 284.9,407.9 337.9,467.0 398.3,449.7 349.5,443.6 340.4,488.7 295.8,459.7 322.3,455.3 302.1,447.6 358.8,444.6 309.3,452.4 317.8,426.6 293.1,423.3 371.8,443.9 294.8,391.5 345.6,440.6 368.7,437.3 293.5,401.1 355.5,442.1 363.4,434.4 325.6,384.7 340.6,448.4 327.1,463.3 315.3,428.2 285.3,401.3 353.0,401.6 299.2,450.8 352.7,459.2 348.8,451.8 332.6,463.2 329.0,468.1 339.9,460.1 313.4,425.1 343.4,458.4 348.2,394.4 323.9,466.0 335.4,426.0 361.3,395.7 351.0,424.4 325.9,456.4 283.0,444.4 281.8,434.2 358.6,400.0 356.6,435.6 347.4,422.8 362.6,469.2 286.5,437.8 289.0,405.9 324.8,447.1 362.3,452.5 376.4,449.7 341.2,408.4 313.7,428.7 343.6,459.0 349.4,486.9 349.9,411.1 352.0,451.2 331.5,416.6 351.8,425.6 304.6,455.3 314.2,469.1 317.5,414.6 301.2,496.6 370.7,397.5 324.9,461.9 361.4,434.7 291.2,411.0 353.9,383.4 303.5,466.9 327.3,444.5 360.3,415.3 320.6,440.0 327.1,461.1 312.4,485.6 297.9,413.3 339.5,441.1 305.4,439.9 288.1,458.5 315.9,446.6 301.7,411.6 345.7,433.2 310.5,409.7 308.7,424.2 333.5,450.2 317.3,447.3 309.5,438.6 297.7,452.1 325.4,402.3 349.9,471.1 352.4,393.8 366.9,458.7 361.7,440.7 331.5,474.7 319.1,395.2 325.8,395.9 321.3,401.4 305.5,392.5 304.8,406.3 305.7,489.2 346.2,421.9 278.0,416.8 348.7,447.5 328.3,452.0 322.0,464.8 291.1,424.4 294.6,410.4 337.8,469.2 282.1,429.9 368.1,427.8 292.5,443.0 339.8,445.3 292.1,408.1 296.6,404.5 307.4,420.1 323.9,419.4 347.0,455.5 323.1,441.7 289.0,438.9 310.9,464.7 359.5,418.5 305.2,389.1 314.3,385.1 344.0,445.9 304.2,452.5 290.2,461.5 316.0,421.5 295.7,441.9 328.3,408.6 344.2,469.2 302.2,435.6 363.2,456.0 325.7,432.9 340.8,445.7 300.8,489.5 310.3,417.7 321.5,438.4 363.6,442.1 314.5,465.3 311.7,439.0 299.9,418.9 330.1,434.0 374.4,454.1 299.8,408.2 358.5,445.3 382.3,446.0 324.8,440.0 282.7,423.2 379.0,472.2 301.2,436.7 309.1,441.1 298.6,451.3 356.1,394.7 348.6,481.8 309.9,440.6 362.4,434.3 339.9,434.1 322.9,400.0 333.8,495.7 373.9,448.7 325.8,463.0 324.1,477.4 310.6,455.7 333.4,428.8 317.6,447.3 347.5,387.9 340.7,480.3 325.2,430.7 360.5,422.4 326.7,446.0 366.7,425.7 316.1,445.7 351.2,463.6 282.1,450.2 346.8,419.8 359.5,419.6 309.6,438.8 332.3,404.2 316.8,469.6 346.4,440.7 361.4,414.5 308.0,423.3 306.9,428.2 327.8,401.1 307.6,449.9 299.7,434.8 318.6,391.1 346.5,468.6 318.9,423.1 280.8,421.8 297.4,429.0 313.2,426.1 322.3,459.6 331.6,433.3 310.6,440.4 299.9,427.3 323.1,432.9 302.5,388.3 326.1,410.6 322.7,380.9 341.0,425.4 368.7,417.0 361.4,401.7 342.7,457.9 318.9,474.4 280.8,416.5 280.5,445.6 283.9,444.3 278.5,433.6 355.1,415.7 341.1,447.0 311.1,458.0 294.5,449.7 280.1,416.6 330.1,420.9 328.3,410.0 300.7,443.8 308.2,458.4 324.1,469.2 338.5,450.9 330.0,464.3 328.0,431.9 321.5,432.8 367.1,448.3 291.9,416.7 299.2,466.3 344.1,435.0 283.0,418.8 325.1,479.6 336.1,428.5 350.1,452.3 377.5,462.1 357.6,477.6 306.2,436.4 349.0,453.9 348.2,448.0 309.7,418.8 287.6,414.9 330.9,378.4 329.9,440.2 331.8,448.9 324.2,441.3 288.3,414.9 330.5,460.1 299.3,430.6 281.5,440.7 342.6,442.9 372.1,444.5 348.1,496.3 356.7,430.5 308.3,451.5 288.4,462.6 293.6,402.1 285.3,440.9 326.9,429.5 312.5,397.9 338.8,425.4 275.8,432.3 332.2,499.8 338.8,408.5 316.2,415.4 333.9,468.4 288.0,428.7 287.2,443.4 279.1,400.6 379.3,473.8 342.7,440.7 337.7,427.0 314.7,471.7 347.7,476.8 331.5,451.2 339.4,382.5 321.6,460.3 311.1,451.1 356.6,416.0 306.3,426.9 290.3,402.6 364.2,457.0 305.8,456.6 296.1,445.0 348.9,439.3 342.3,466.0 352.0,459.4 360.5,459.7 368.4,455.6 289.8,457.7 310.0,447.5 382.4,448.2 378.8,410.6 334.2,392.3 300.1,447.8 279.8,397.7 357.1,426.1 315.5,498.1 327.4,431.8 289.3,410.1 314.6,452.8 353.8,397.4 345.5,401.5 295.5,451.9 327.3,410.6 361.3,462.0 353.2,441.1 327.2,412.8 290.0,442.1 320.9,419.9 342.6,387.7 295.0,429.6 357.2,420.2 300.8,454.0 301.5,438.1 347.3,424.3 312.2,437.5 303.8,454.4 332.3,436.5 354.8,462.1 366.0,474.8 335.3,431.8 278.5,439.3 352.5,423.6 357.6,452.8 351.5,442.2 356.9,462.9 343.4,416.4 328.9,393.4 349.8,446.0 367.6,426.7 311.0,457.9 354.4,477.0 329.1,453.4 332.8,444.8 303.5,446.6 336.8,459.6 296.8,452.7 303.9,427.9 360.3,412.2 343.6,421.2 349.5,412.3 362.1,436.4 365.0,471.9 307.8,450.1 318.2,463.8 324.3,458.3 315.8,443.5 311.4,439.1 360.8,449.1 304.8,387.7 362.8,464.1 316.4,452.6 296.7,468.7 309.9,408.7 326.4,415.3 360.8,472.9 318.3,425.7 366.2,428.0 306.6,437.6 287.5,436.5 360.6,433.1 320.6,433.1 280.3,403.5 280.8,434.6 365.8,439.1 340.4,456.3 333.2,423.8 322.8,416.4 297.0,414.1 338.8,442.0 338.2,474.5 282.5,435.6 339.6,399.6 339.5,405.1 324.7,455.4 318.3,383.6 335.4,401.4 363.9,415.5 311.2,419.5 329.2,412.6 360.8,379.6 339.6,448.6 293.3,444.4 298.7,405.9 363.6,407.0 280.3,413.8 335.2,450.3 328.6,453.8 274.9,430.3 350.0,424.6 291.6,413.2 293.5,456.0 312.6,478.4 300.2,408.2 344.0,439.5 381.7,440.7 364.1,411.9 325.7,474.7 366.1,437.6 316.1,446.2 338.2,425.0 311.6,438.1 329.6,419.4 357.5,448.3 336.8,459.9 305.5,408.8 299.9,403.7 284.2,434.7 332.4,418.6 280.3,442.5 344.2,453.6 293.3,439.4 335.8,401.2 301.5,467.4 323.3,421.4 364.0,445.2 277.7,426.2 321.5,420.8 328.7,459.1 318.5,428.9 343.3,425.1 287.4,414.7 294.6,436.1 359.4,428.3 332.7,444.2 295.9,476.3 344.2,452.6 353.4,449.6 287.7,445.2 312.0,432.5 337.0,430.5 284.5,408.6 337.9,384.6 303.2,463.7 331.2,432.5 326.6,425.0 331.7,418.6 323.0,495.6 292.0,418.9 336.2,486.0 315.7,443.3 313.3,385.8 348.3,439.3 297.4,382.3 335.6,378.2 366.7,428.5 346.4,444.3 347.8,418.0 280.1,397.9 284.2,388.7 308.6,426.9 338.5,459.0 285.4,395.8 371.6,441.9 297.1,434.2 324.3,422.6 362.1,451.7 285.6,431.9 296.4,411.9 350.4,434.7 298.5,458.0 359.8,415.1 340.0,431.4 296.7,461.7 347.1,454.7 319.5,386.2 366.3,440.4 351.7,421.6 332.3,448.5 332.9,439.9 280.2,437.0 304.8,449.1 316.3,415.6 286.6,407.6 305.1,414.1 288.9,446.3 320.8,452.5 321.1,488.8 292.5,407.2 329.3,468.0 372.0,466.2 358.5,414.7 372.5,443.4 318.0,415.8 364.2,430.9 281.4,395.8 317.6,432.1 332.0,456.4 353.3,449.5 327.0,457.7 276.7,426.0 340.0,422.2 327.6,471.2 348.4,484.8 328.8,401.8 280.4,425.8 290.1,471.1 312.0,409.0 293.1,404.3 360.8,423.2 338.4,450.1 316.7,416.7 314.3,457.2 332.6,382.7 306.0,446.9 356.5,420.8 346.5,456.4 312.4,474.7 304.2,450.0 319.8,379.6 338.5,435.4 288.0,408.3 287.0,404.3 301.3,457.9 316.6,433.2 309.8,436.2 348.5,456.9 303.4,433.8 337.5,478.7 326.6,426.6 358.8,409.4 286.5,459.2 324.1,418.3 312.0,415.6 351.7,421.1 308.5,397.4 311.9,436.3 346.2,456.8 287.7,415.1 306.7,434.6 320.3,456.9 315.1,446.7 300.7,434.0 370.5,395.3 331.7,425.4 307.2,454.8 346.1,451.8 348.9,431.0 343.6,425.7 327.5,462.2 367.9,451.8 329.4,410.5 314.1,446.0 323.8,431.7 302.1,480.3 350.2,480.7 328.9,418.2 315.4,464.0 304.4,416.0 347.2,449.6 287.9,428.2 307.6,405.7 292.8,436.2 315.8,440.7 332.0,412.6 292.6,463.2 285.6,437.6 335.4,470.7 322.5,472.5 373.2,419.1 329.8,404.1 278.4,431.7 346.1,440.2 309.2,428.0 300.5,437.6 359.8,405.5 351.9,459.0 305.2,428.4 313.0,439.2 292.0,446.2 296.0,423.7 333.2,469.6 300.1,445.1 310.1,427.7 348.2,413.7 332.1,408.0 310.3,406.2 286.5,402.7 356.3,440.2 303.8,383.9 367.9,395.7 314.1,444.7 278.3,440.2 349.7,449.6 345.7,440.1 315.0,427.5 291.6,429.6 347.9,423.8 320.3,404.5 307.2,412.7 334.7,419.2 299.4,445.9 297.8,445.0 365.2,392.3 317.9,435.7 314.5,457.2 367.9,412.6 315.2,392.7 339.8,392.7 306.1,463.1 306.7,413.8 317.6,434.8 286.3,453.3 347.0,462.4 374.1,464.2 328.1,446.9 342.2,409.9 345.3,443.8 348.9,385.2 300.6,443.6 311.2,455.6 289.4,437.2 351.0,456.7 285.6,450.4 321.3,441.6 312.1,442.5 309.1,440.6 293.3,443.8 324.0,417.0 332.5,479.2 307.5,471.4 290.5,449.9 323.4,478.3 305.7,462.8 303.7,469.9 326.6,440.9 287.7,445.6 291.1,410.5 341.1,480.8 308.1,482.2 323.6,480.3 297.5,468.4 370.7,462.8 374.6,422.8 310.0,444.5 303.8,442.6 333.7,424.4 303.2,476.5 286.1,461.1 367.6,403.2 317.8,457.4 292.7,459.2 310.8,420.0 367.7,437.2 326.8,439.4 296.3,391.0 375.3,388.7 308.2,451.1 331.6,378.4 355.0,419.6 313.1,399.8 315.5,432.6 354.7,431.4 322.7,442.8 322.1,477.1 319.5,452.8 290.4,461.6 366.7,379.9 369.0,407.4 316.7,397.1 310.2,472.3 365.3,388.3 344.6,465.3 296.7,465.4 315.7,428.6 290.9,447.0 290.7,392.1 315.9,447.2 345.1,420.4 371.3,438.1 355.1,457.6 295.7,444.8 338.4,449.1 287.4,433.2 312.0,441.5 298.5,414.9 295.4,445.0 283.2,430.0 355.4,394.0 362.0,424.5 287.9,434.2 313.2,428.9 283.2,421.1 343.4,406.3 352.2,416.6 365.9,438.0 349.3,447.7 315.3,437.1 311.6,469.8 310.0,467.9 323.7,399.4 338.2,430.4 279.2,409.9 338.0,443.5 305.7,428.5 379.1,459.2 335.4,489.0 371.8,450.8 287.2,453.9 325.5,474.4 302.6,421.9 321.4,416.8 292.3,423.1 294.9,408.8 300.7,459.4 308.2,421.8 305.7,439.2 304.3,450.4 322.5,437.1 324.5,462.8 349.7,446.3 325.4,438.1 315.4,484.5 313.0,397.7 332.7,411.8 340.3,416.5 393.7,392.0 283.7,419.8 328.3,421.6 367.7,393.9 311.0,472.9 297.5,412.5 339.4,443.8 336.7,410.2 326.0,420.0 309.8,455.9 320.5,439.1 335.0,466.6 295.6,436.2 358.0,441.9 285.6,387.4 297.1,430.2 287.3,444.7 336.3,434.2 332.1,439.6 321.2,449.4 344.0,430.9 335.4,467.0 318.1,459.5 366.9,430.8 344.9,412.2 325.4,423.6 373.4,444.6 291.7,407.6 371.8,428.8 308.4,391.4 297.6,423.8 297.3,437.4 297.2,469.1 360.7,403.5 297.0,411.1 351.2,451.7 287.8,465.8 308.1,400.9 292.1,437.3 284.1,420.0 364.6,400.0 382.9,408.4 313.8,428.3 353.2,437.7 304.2,421.0 343.2,475.2 359.6,413.5 297.1,489.7 351.2,440.1 312.6,425.8 335.8,417.8 303.6,428.2 298.8,376.5 373.5,405.4 316.6,441.5 286.0,441.1 352.0,456.8 336.5,432.1 323.7,381.1 327.5,439.8 299.3,469.1 303.9,439.4 300.5,457.8 330.0,427.5 357.6,467.1 336.4,417.6 355.6,443.5 394.7,453.8 346.9,429.3 312.3,450.1 281.6,438.6 358.9,425.1 366.0,440.3 301.8,422.5 367.4,414.4 346.8,402.9 372.0,430.9 312.2,451.3 303.1,491.4 342.9,495.7 363.9,488.0 285.5,438.4 350.8,483.3 316.8,477.0 343.8,419.4 347.6,436.2 328.4,414.8 356.4,406.6 332.7,431.7 311.8,475.2 345.9,399.7 318.7,395.6 377.4,449.4 291.1,414.7 288.8,417.8 329.6,447.2 349.4,410.0 336.4,461.8 309.0,422.2 283.6,421.8 310.6,453.0 353.0,396.5 287.1,459.2 322.6,461.7 357.0,475.3 356.0,443.9 346.5,442.9 345.4,459.6 342.8,407.8 315.7,434.4 338.5,422.1 355.3,474.9 353.1,446.3 298.2,409.2 296.8,425.0 279.3,406.5 279.6,417.6 322.8,428.9 286.8,426.2 363.3,424.1 301.5,447.7 292.0,389.7 340.4,437.3 347.8,424.1 331.5,420.4 360.2,423.4 288.5,445.0 294.1,414.5 300.6,475.2 292.4,407.3 325.5,441.7 361.6,445.8 302.1,382.7 284.4,440.1 285.2,450.4 285.1,410.3 338.5,491.4 348.3,435.3 371.8,449.4 295.4,456.5 294.7,455.4 320.3,443.6 347.7,496.9 285.1,414.6 343.2,444.7 285.3,445.8 287.6,444.1 296.0,413.7 324.6,427.6 315.3,494.0 337.3,413.6 325.2,409.6 357.2,420.7 294.6,439.2 342.5,439.7 352.0,436.4 305.7,425.4 353.5,446.5 343.8,455.7 362.5,410.1 311.8,436.2 297.2,473.0 327.5,460.6 308.5,455.6 338.4,439.2 331.0,391.2 311.0,424.4 312.8,406.8 334.8,385.2 346.4,490.2 339.2,446.1 329.5,455.0 307.6,425.1 327.4,464.5 302.2,392.6 281.9,450.2 339.7,465.0 349.3,472.2 350.4,437.9 346.0,452.8 316.7,428.3 348.4,449.8 330.6,424.4 328.6,431.1 285.3,407.3 312.0,417.1 361.8,451.4 353.1,403.3 361.9,452.2 277.3,413.1 289.5,470.9 313.5,455.4 365.0,477.5 324.2,429.2 307.5,392.0 326.2,398.0 362.2,427.8 356.8,455.3 282.7,437.9 299.2,444.3 361.0,406.9 310.6,488.7 315.5,442.0 357.6,435.3 305.1,426.6 353.8,448.1 299.5,420.9 293.1,407.2 322.8,427.3 338.9,407.4 361.3,483.3 340.5,424.0 294.5,435.2 286.8,456.0 367.1,425.2 307.0,413.9 307.4,462.3 349.6,419.2 299.2,466.8 305.6,403.3 293.8,444.6 361.6,439.9 316.8,440.4 369.1,425.5 314.5,415.0 313.7,428.1 356.8,456.3 348.2,446.2 332.6,479.2 335.5,465.0 374.4,437.4 356.6,452.8 362.8,431.4 300.6,457.6 301.9,438.6 296.1,436.0 288.9,410.8 300.3,410.0 325.3,448.1 316.3,485.0 290.7,383.8 325.0,494.9 372.4,439.7 297.1,479.7 352.1,436.5 301.1,432.0 358.3,421.4 330.4,454.5 289.9,418.9 349.0,456.6 322.8,463.4 288.5,459.5 316.5,458.8 337.7,392.7 362.7,413.9 306.1,420.9 336.2,492.3 295.3,440.4 324.4,420.7 317.9,485.5 335.2,411.7 358.9,438.4 305.2,431.3 365.4,441.1 334.3,438.5 374.2,425.3 370.0,406.5 371.4,396.7 299.5,401.1 320.2,434.1 337.5,492.0 309.5,467.9 336.7,450.8 326.5,420.7 345.6,405.9 297.0,448.1 297.1,455.9 334.3,435.3 317.9,432.3 301.0,419.1 275.5,417.1 307.2,443.5 353.0,449.1 342.0,442.3 367.4,404.4 355.9,427.9 299.9,377.5 298.0,466.0 365.4,426.7 371.4,423.2 361.9,456.3 286.5,453.1 337.4,418.8 309.3,430.8 314.1,441.0 342.4,419.5 321.1,443.1 336.8,457.4 289.9,427.0 311.4,441.0 283.5,434.1 316.0,469.3 319.4,438.9 318.2,476.7 292.7,395.9 349.4,433.6 357.2,430.8 352.0,414.0 320.4,399.8 293.1,409.8 291.2,455.8 282.5,431.4 348.4,453.5 357.7,443.6 368.4,426.9 315.8,405.1 338.8,466.2 316.0,416.5 341.0,427.0 350.3,465.2 314.3,440.3 339.3,404.8 328.8,438.7 291.4,427.1 332.6,413.1 309.1,435.7 330.8,436.8 290.3,403.2 301.4,407.1 359.9,428.8 326.7,485.1 342.5,475.9 340.3,422.7 366.0,464.2 352.8,476.0 359.9,405.8 349.9,481.1 340.7,481.4 361.5,432.4 325.5,404.5 365.4,415.0 291.5,468.2 280.9,416.4 329.0,464.6 338.7,428.9 352.2,471.7 359.5,427.3 361.6,441.5 312.7,426.4 294.2,399.5 356.0,413.6 329.5,380.4 291.1,452.4 289.4,411.9 300.0,420.6 315.2,442.7 380.2,423.1 294.9,434.5 289.4,418.4 339.0,434.8 324.4,457.6 296.1,448.4 330.2,431.3 281.8,428.4 332.0,412.6 348.1,457.8 365.5,482.5 290.0,401.7 285.5,384.1 333.0,426.7 360.8,457.8 322.8,433.3 356.1,398.1 352.0,428.1 320.2,475.4 348.7,428.7 381.6,436.6 277.5,412.7 296.4,391.5 317.4,435.2 283.8,422.8 340.0,409.5 360.1,460.1 327.4,442.4 315.8,481.7 319.1,429.4 327.2,416.7 334.6,424.0 291.0,457.0 314.1,459.0 375.3,418.1 328.0,446.0 302.9,457.0 329.7,463.2 330.5,426.7 338.8,438.6 301.9,428.1 347.0,424.8 344.6,431.4 370.7,380.1 321.6,440.0 333.8,449.2 278.9,438.5 331.5,489.1 340.3,401.4 330.0,472.3 366.0,479.6 281.2,440.4 345.0,438.8 329.7,444.6 327.2,466.6 315.1,417.9 335.2,471.4 361.8,419.1 362.7,471.9 290.5,428.8 291.2,432.7 294.8,435.6 301.7,409.1 303.7,410.1 309.8,417.0 333.5,439.0 335.8,460.0 305.7,403.6 345.3,456.0 325.0,451.7 316.3,411.3 354.3,414.6 362.6,450.6 302.3,425.0 340.7,422.7 362.3,456.4 316.5,430.5 323.7,434.6 294.8,416.1 363.9,405.8 318.4,438.3 378.0,419.2 299.0,410.8 301.3,389.5 302.0,448.0 301.3,453.1 323.2,437.9 336.9,482.5 305.0,464.6 330.5,416.5 329.2,379.6 343.1,397.3 361.6,451.9 331.3,401.5 354.6,425.3 367.9,449.1 321.5,398.4 362.6,409.8 306.5,418.8 335.4,407.8 357.6,409.9 307.0,421.5 308.4,407.7 358.6,443.5 348.8,442.1 309.4,434.9 301.2,434.0 352.1,440.8 361.3,395.4 295.9,429.3 370.2,427.5 329.8,430.1 291.5,432.7 282.7,440.2 306.1,392.6 302.1,456.3 363.8,413.4 363.3,408.6 326.6,407.4 300.5,451.6 346.2,423.4 336.8,419.3 348.7,418.2 345.0,452.2 288.4,444.2 306.3,390.8 372.3,415.2 368.4,415.3 290.2,410.5 301.0,384.3 301.1,437.5 337.3,424.9 309.4,442.9 328.6,425.0 353.0,416.1 309.9,470.8 345.0,456.7 323.5,491.2 330.2,437.8 347.4,421.2 380.4,394.1 364.3,429.6 356.7,455.1 373.5,428.5 284.9,444.4 369.8,405.6 305.3,405.1 355.3,479.7 339.6,441.8 357.4,377.8 299.9,401.3 313.5,440.0 342.1,415.6 353.9,423.9 354.8,438.7 314.3,412.5 277.6,427.0 331.1,418.9 366.8,441.5 300.7,439.4 340.4,424.3 356.2,443.8 367.0,467.5 353.5,469.2 343.2,427.6 311.4,458.1 311.7,459.3 344.2,454.1 305.9,416.9 310.6,493.4 345.9,430.7 280.9,441.8 358.4,395.4 338.8,444.5 297.3,428.8 325.3,427.8 342.3,427.0 296.5,426.7 364.1,377.3 316.4,446.2 304.3,437.9 359.2,445.7 286.4,398.6 288.9,439.9 340.9,463.8 321.8,457.3 309.3,436.0 352.8,454.6 309.9,466.8 333.9,438.4 318.9,390.3 305.9,448.4 345.0,437.1 325.7,377.7 301.4,431.2 294.6,470.6 326.3,416.7 307.5,438.0 387.0,406.1 335.5,464.5 319.2,394.0 346.9,445.3 376.9,466.3 288.3,448.2 330.6,426.3 330.3,407.5 335.5,461.3 321.1,480.8 362.0,463.2 331.9,482.4 292.5,459.8 318.2,446.0 333.3,438.2 304.1,441.1 303.3,483.1 331.9,451.7 337.8,484.9 306.8,424.4 358.7,448.6 377.3,428.3 386.9,403.4 362.5,423.3 320.3,441.6 293.4,433.4 365.2,454.3 330.8,442.7 300.7,394.5 319.2,457.5 317.8,444.8 327.6,435.6 360.2,432.2 324.0,422.1 337.4,455.7 397.2,448.1 416.9,441.3 375.6,431.9 362.5,423.4 393.0,449.5 412.7,427.4 397.0,449.2 398.1,418.8 385.7,438.3 373.9,449.2 396.4,439.9 398.1,427.4 376.1,437.7 408.4,431.4 416.4,438.3 392.0,424.3 359.9,434.1 376.9,432.3 386.0,407.8 397.2,432.9 394.7,434.7 397.5,450.4 389.3,424.8 371.1,445.6 391.1,440.0 378.0,407.9 395.7,448.8 382.7,424.2 386.2,443.8 353.9,457.4 390.4,446.6 375.0,446.0 388.5,439.7 377.3,442.7 417.9,443.7 408.1,441.0 422.9,423.7 374.1,427.7 393.6,448.5 381.7,437.4 371.3,443.9 394.5,423.2 371.1,457.2 425.9,430.7 382.2,428.6 397.4,442.9 377.2,444.3 381.7,433.5 376.9,458.0 409.8,447.4 404.5,456.9 393.4,432.3 374.6,451.5 386.3,442.7 396.0,465.6 369.0,446.1 392.3,424.8 352.6,432.9 373.8,420.7 416.8,415.1 358.6,432.5 388.0,456.1 375.4,426.9 365.1,431.6 372.2,432.6 358.3,431.2 389.7,426.4 391.3,429.6 362.4,434.1 388.2,431.0 383.4,434.2 334.7,436.4 380.4,437.2 370.8,441.4 365.7,435.2 361.8,428.4 343.8,439.3 363.5,439.2 394.5,413.8 364.7,435.9 397.6,447.2 376.5,418.7 386.7,458.1 371.7,417.4 375.2,420.9 385.1,444.1 376.2,439.5 392.7,451.5 360.9,435.4 368.8,452.3 357.2,456.3 411.2,435.5 411.0,446.2 383.7,439.5 390.1,441.9 376.1,448.1 379.1,435.5 419.6,450.4 389.5,432.0 383.2,445.5 376.5,422.4 391.1,444.5 394.7,429.5 373.5,426.6 379.8,439.6 396.1,454.7 386.1,428.7 375.1,455.3 388.3,433.1 385.2,458.2 380.4,443.9 375.1,440.2 390.8,446.3 374.7,435.6 363.1,431.1 369.1,436.8 381.7,435.8 369.8,420.7 361.1,428.7 401.2,433.5 356.9,445.6 368.7,453.4 401.7,446.7 371.0,426.5 375.4,437.0 356.3,429.2 383.1,456.5 350.1,463.0 397.3,436.9 374.3,471.9 393.5,442.8 374.0,460.1 359.3,437.6 370.0,433.1 407.8,455.7 387.1,424.3 379.7,434.5 405.2,441.1 352.9,451.9 376.7,451.0 400.4,443.0 366.7,427.2 390.4,440.3 376.6,461.0 408.5,461.5 394.3,435.7 387.6,442.6 378.8,427.6 372.5,432.0 358.8,427.4 366.0,423.2 346.9,427.1 379.7,434.2 389.6,464.5 421.1,429.3 390.2,426.9 411.8,431.2 364.8,454.2 371.5,432.2 390.5,424.5 370.7,432.3 398.9,442.9 399.5,465.3 380.9,449.4 375.3,414.2 378.9,437.2 368.5,425.0 413.1,440.6 384.3,453.2 411.5,420.7 366.7,431.3 418.5,422.1 375.9,436.7 381.8,453.3 394.8,418.7 403.9,442.1 410.7,433.5 386.2,433.6 366.1,426.3 412.1,431.5 381.4,419.7 363.2,439.4 360.8,423.8 376.6,417.0 343.6,441.4 378.6,452.3 374.2,439.2 410.4,421.0 398.2,433.7 380.5,424.5 341.5,437.8 363.0,462.6 375.2,449.6 395.1,456.4 352.3,463.1 377.3,441.7 356.9,423.6 408.6,430.4 375.3,432.5 365.5,431.5 385.6,442.3 369.7,416.6 374.2,427.5 384.4,429.7 372.7,466.4 372.2,424.6 412.5,422.8 384.0,438.8 372.0,460.1 411.6,425.6 392.6,443.9 408.1,441.9 372.7,442.7 381.0,441.4 392.4,451.8 396.4,433.2 376.8,421.3 419.7,438.7 363.9,453.2 394.4,443.0 379.6,440.7 379.4,441.3 381.5,434.0 425.9,439.7 371.8,438.4 350.6,437.7 404.0,454.1 389.8,432.9 391.9,425.6 396.9,434.1 418.2,436.2 378.1,433.1 398.0,410.3 379.2,448.2 387.9,449.4 361.1,457.5 373.7,452.1 398.3,450.7 390.8,435.4 339.5,442.9 427.0,438.1 405.5,447.7 412.8,450.6 413.5,451.9 368.1,443.9 385.1,421.5 367.6,470.1 393.9,429.5 379.1,429.2 393.1,443.9 375.0,430.7 386.6,419.5 368.6,447.8 374.0,434.7 287.9,417.4 334.8,433.5 299.7,465.1 340.2,443.0 338.8,410.1 291.6,470.7 331.7,448.3 346.5,480.5 340.1,444.1 300.1,464.8 306.8,400.0 375.6,469.0 304.3,474.2 361.9,437.6 355.4,385.0 317.5,432.5 301.0,436.3 320.3,406.5 327.4,431.2 365.5,400.5 347.4,400.4 329.3,431.3 322.0,503.0 360.3,419.8 348.0,405.7 359.8,385.2 322.1,463.1 307.6,469.3 287.6,422.6 338.7,434.1 314.9,427.7 368.6,456.4 303.4,435.6 294.3,435.8 346.2,389.0 365.9,453.8 322.5,508.7 326.1,503.8 276.7,437.4 346.9,504.6 300.3,451.7 297.4,482.0 334.8,452.7 353.7,457.0 366.6,359.7 309.9,419.8 360.0,379.4 302.7,490.8 302.2,446.5 331.5,481.0 369.1,412.0 374.5,371.4 322.3,431.7 344.9,507.4 333.1,443.0 303.6,391.9 319.0,372.1 368.9,451.8 294.2,438.0 351.7,481.6 298.4,508.1 320.5,454.5 325.2,382.1 330.0,468.4 358.8,415.5 331.3,425.7 344.1,455.8 301.9,466.1 368.6,506.2 285.3,449.8 379.4,415.5 354.0,405.4 359.1,429.8 315.7,432.0 286.1,502.6 338.9,490.6 360.4,464.7 302.3,455.1 371.3,496.9 299.2,464.7 375.9,449.0 358.8,431.3 378.4,436.1 317.8,493.1 294.0,475.0 314.7,396.6 285.0,477.6 325.1,426.0 326.3,375.0 282.0,371.7 327.6,495.8 355.0,439.3 303.3,456.1 332.3,469.7 298.8,400.4 311.0,430.1 363.0,381.9 366.8,490.4 300.4,445.2 297.8,437.9 327.5,381.9 290.1,452.8 316.1,415.9 258.9,384.7 362.8,443.4 299.6,460.6 296.1,484.6 317.5,461.5 313.9,446.6 332.5,347.9 315.7,479.1 323.5,454.8 344.0,393.0 338.0,494.2 330.6,411.7 370.5,466.8 293.4,370.2 363.7,404.8 303.8,421.3 343.5,387.9 360.1,427.9 326.8,438.6 330.3,416.8 313.2,503.7 301.4,437.8 365.2,390.6 290.0,512.2 356.0,409.2 362.8,410.5 303.6,434.6 380.3,409.8 309.2,444.8 294.4,379.0 333.2,483.2 327.1,368.9 326.7,441.1 348.4,469.5 298.9,405.6 347.2,453.5 303.1,359.3 356.8,454.5 325.6,489.5 288.6,523.3 356.1,427.0 304.3,402.4 313.0,437.1 398.3,495.0 292.3,416.9 331.2,459.1 281.3,437.1 354.6,436.9 324.5,410.5 335.0,463.0 283.2,408.6 289.1,387.6 271.0,441.7 361.2,410.8 308.8,443.7 326.5,459.5 285.8,426.9 283.8,448.8 292.4,469.3 318.0,443.9 335.9,447.5 291.8,396.8 346.6,382.4 282.1,509.2 361.1,516.9 361.8,469.7 331.8,388.7 331.4,489.7 374.7,487.1 279.9,521.1 306.0,472.9 292.4,449.6 332.5,393.9 347.3,356.5 332.3,434.3 334.9,417.5 353.1,411.5 348.0,429.9 340.7,416.7 319.4,508.7 374.6,410.6 267.9,401.4 295.5,504.0 365.4,478.7 367.4,425.2 320.0,418.2 375.6,410.4 338.8,369.8 354.6,404.3 343.4,451.5 333.2,475.9 298.0,496.0 311.1,401.9 311.6,377.0 337.3,469.0 323.2,435.6 363.7,492.9 278.2,366.2 354.5,426.0 306.9,393.4 379.2,474.1 310.4,424.0 325.5,382.0 334.3,423.4 309.8,503.3 320.2,470.3 353.0,449.4 321.5,411.2 309.9,420.3 305.1,393.2 347.7,439.3 281.6,490.2 310.7,389.4 311.7,417.1 313.5,503.8 323.6,440.1 325.7,487.6 316.3,444.3 361.0,433.0 362.0,391.5 372.1,490.2 307.6,404.6 286.7,439.9 377.4,415.8 347.8,496.9 275.7,412.7 295.7,499.3 278.4,430.8 291.3,417.1 323.7,409.8 301.9,395.1 359.9,506.2 298.6,358.1 292.3,441.5 296.6,429.4 340.0,390.2 331.0,355.4 375.4,469.0 354.4,432.8 282.5,425.2 348.5,374.1 301.0,417.3 340.8,400.0 360.3,458.6 290.8,460.1 306.2,439.8 383.3,434.2 350.0,462.1 334.0,422.2 334.6,392.6 344.3,447.3 363.6,388.1 300.3,402.9 351.3,415.8 347.5,369.0 307.9,370.3 289.9,483.4 358.1,421.3 294.8,408.4 349.3,481.0 312.0,499.6 320.4,438.5 370.7,474.9 284.5,442.3 338.4,487.3 359.3,403.8 290.6,483.3 345.7,494.8 355.3,447.0 345.8,430.8 292.9,480.0 317.4,418.0 301.6,485.1 385.1,357.9 312.8,415.8 370.2,413.0 285.7,429.3 305.1,429.5 299.9,501.7 302.1,420.0 336.8,404.3 362.0,471.5 304.1,425.5 354.0,482.4 290.7,395.0 281.7,431.1 335.7,365.1 297.3,396.0 308.1,456.2 298.6,423.4 314.4,351.5 279.9,374.9 369.2,454.3 311.4,476.8 291.7,459.5 324.2,471.0 354.5,455.3 333.3,413.4 290.8,368.1 296.5,476.9 291.5,413.3 279.3,394.3 347.7,509.4 289.5,464.5 360.9,503.9 303.6,303.0"/>
<line x1="121.5" y1="377.4" x2="830" y2="377.4" stroke="#e23f57" stroke-width="1.8"/>
<line x1="121.5" y1="491.6" x2="830" y2="491.6" stroke="#e23f57" stroke-width="1.8"/>
<line x1="121.5" y1="434.5" x2="830" y2="434.5" stroke="#222" stroke-width="3"/>
<path d="M121.5 8.5V783H830" fill="none" stroke="#3a3a3a" stroke-width="1.25"/>
<line x1="108.5" y1="125" x2="121.5" y2="125" stroke="#222" stroke-width="1.9"/>
<text class="t" x="107" y="135.1" text-anchor="end">400</text>
<line x1="108.5" y1="279.5" x2="121.5" y2="279.5" stroke="#222" stroke-width="1.9"/>
<text class="t" x="107" y="289.6" text-anchor="end">200</text>
<line x1="108.5" y1="434.5" x2="121.5" y2="434.5" stroke="#222" stroke-width="1.9"/>
<text class="t" x="107" y="444.6" text-anchor="end">0</text>
<line x1="108.5" y1="589" x2="121.5" y2="589" stroke="#222" stroke-width="1.9"/>
<text class="t" x="107" y="599.1" text-anchor="end">-200</text>
<line x1="108.5" y1="744" x2="121.5" y2="744" stroke="#222" stroke-width="1.9"/>
<text class="t" x="107" y="754.1" text-anchor="end">-400</text>
<line x1="210" y1="783" x2="210" y2="795.5" stroke="#222" stroke-width="1.9"/>
<text class="t" x="210" y="814.4" text-anchor="middle">500</text>
<line x1="343" y1="783" x2="343" y2="795.5" stroke="#222" stroke-width="1.9"/>
<text class="t" x="343" y="814.4" text-anchor="middle">750</text>
<line x1="476" y1="783" x2="476" y2="795.5" stroke="#222" stroke-width="1.9"/>
<text class="t" x="476" y="814.4" text-anchor="middle">1000</text>
<line x1="609.3" y1="783" x2="609.3" y2="795.5" stroke="#222" stroke-width="1.9"/>
<text class="t" x="609.3" y="814.4" text-anchor="middle">1250</text>
<line x1="742.3" y1="783" x2="742.3" y2="795.5" stroke="#222" stroke-width="1.9"/>
<text class="t" x="742.3" y="814.4" text-anchor="middle">1500</text>
<text class="b" x="485.3" y="866.3" text-anchor="middle">IBI mean (elPPG, PhyC) (ms)</text>
<text class="b" transform="translate(37.2 399) rotate(-90)" text-anchor="middle">IBI difference (elPPG -PhyC) (ms)</text>
<text x="10.2" y="29.6" style="font-family:'Liberation Sans',sans-serif;font-weight:bold;font-size:29px;fill:#000">A</text>
</g>
<g id="panelB">
<polyline class="p" marker-start="url(#b001)" marker-mid="url(#b001)" marker-end="url(#b001)" points="1316.6,525.0 1309.0,496.8 1295.4,518.8 1274.8,535.7 1279.6,512.6 1267.2,533.7 1317.6,522.2 1358.5,484.9 1286.7,523.1 1297.0,543.4 1321.2,498.1 1310.9,495.0 1322.7,525.1 1296.5,563.2 1304.2,512.8 1326.7,490.9 1270.3,560.4 1293.6,528.8 1259.0,584.1 1281.6,569.7 1255.4,576.1 1307.8,530.4 1283.2,570.2 1311.0,500.8 1312.0,509.5 1298.6,516.7 1242.3,605.5 1296.6,537.6 1313.3,524.5 1317.1,518.2 1261.6,562.7 1299.3,536.7 1276.2,543.1 1281.2,537.7 1322.0,461.5 1294.5,552.9 1299.3,507.4 1333.2,485.8 1290.4,533.4 1315.0,530.5 1313.8,514.5 1303.2,505.5 1272.5,555.1 1308.6,510.9 1348.3,472.0 1253.7,554.8 1331.9,486.1 1327.4,529.5 1293.9,541.3 1276.7,558.2 1299.0,500.0 1323.3,494.8 1310.6,530.6 1333.9,499.9 1296.5,506.4 1325.0,490.8 1348.0,466.4 1288.1,536.8 1312.6,507.1 1287.6,522.3 1306.5,505.1 1271.3,551.2 1298.4,542.3 1297.5,516.1 1338.1,490.6 1331.6,466.9 1278.8,568.7 1285.3,541.4 1325.7,492.9 1259.9,591.2 1280.6,514.2 1293.1,504.5 1346.7,476.9 1321.0,484.7 1294.8,521.5 1316.5,549.1 1298.0,520.1 1351.3,464.6 1294.1,527.5 1306.6,533.5 1319.3,504.9 1305.0,519.6 1292.3,510.2 1272.5,547.8 1306.8,514.5 1282.6,515.3 1344.8,480.7 1328.8,496.1 1320.3,530.8 1314.2,478.4 1289.9,516.8 1330.3,471.5 1301.8,508.4 1323.0,494.0 1268.3,554.6 1319.0,504.9 1260.1,571.4 1248.1,580.5 1286.7,510.9 1276.9,538.8 1312.2,509.2 1288.0,547.0 1276.8,520.6 1309.1,502.9 1320.7,497.3 1304.6,522.9 1309.6,530.6 1327.8,491.6 1315.3,489.4 1280.4,551.5 1306.5,518.7 1309.8,514.9 1275.9,547.8 1326.7,519.5 1284.2,544.4 1341.5,489.7 1305.8,500.0 1315.5,517.9 1285.7,528.5 1292.0,504.7 1252.0,582.5 1279.2,556.6 1316.0,500.5 1245.9,584.1 1339.0,495.0 1253.3,567.4 1313.4,471.6 1284.7,544.2 1331.0,490.3 1318.8,519.0 1260.4,561.8 1352.5,484.0 1357.0,476.4 1295.4,505.1 1306.1,531.0 1294.2,509.9 1267.4,532.8 1336.6,475.7 1287.2,527.1 1290.6,498.7 1285.8,541.9 1293.6,539.9 1280.7,568.0 1342.9,472.4 1291.3,506.2 1327.5,474.0 1314.7,521.9 1293.7,544.4 1301.5,529.3 1288.7,530.0 1308.9,515.7 1294.6,524.6 1296.2,521.4 1269.7,562.0 1284.2,541.0 1353.0,458.0 1288.4,536.9 1272.9,544.3 1302.4,486.6 1343.0,462.7 1264.8,561.4 1314.0,535.7 1285.9,531.5 1271.4,589.0 1339.0,502.3 1299.8,507.4 1303.7,505.6 1286.6,540.1 1333.2,514.2 1294.4,535.1 1308.2,524.8 1270.3,544.9 1254.8,534.3 1343.8,468.3 1298.5,537.6 1324.4,514.8 1306.5,515.7 1295.7,530.2 1301.3,540.9 1324.3,492.4 1307.2,534.1 1294.2,509.3 1299.6,504.1 1332.6,466.0 1330.3,495.9 1314.1,497.0 1291.9,533.8 1270.3,562.9 1336.9,485.9 1344.8,493.7 1314.1,531.4 1316.5,489.4 1331.0,490.1 1329.3,484.9 1325.9,475.1 1307.2,544.3 1356.6,471.2 1379.8,483.4 1373.8,489.8 1402.7,460.4 1265.0,498.3 1268.1,496.5 1292.7,468.2 1370.9,505.3 1421.0,436.2"/>
<polyline class="p" marker-start="url(#b003)" marker-mid="url(#b003)" marker-end="url(#b003)" points="1194.0,617.8 1220.0,577.1 1255.9,564.6 1327.0,527.1 1239.2,620.1 1334.3,517.6 1256.7,533.3 1317.8,522.2 1227.2,575.8 1171.2,655.4 1272.3,512.5 1207.9,603.3 1204.4,634.0 1295.7,536.8 1275.8,547.8 1222.9,606.1 1228.8,616.4 1327.2,491.9 1216.8,578.5 1307.6,554.5 1219.6,601.6 1300.5,543.5 1206.0,625.2 1244.5,565.4 1207.7,629.0 1263.2,527.0 1300.3,560.1 1172.8,641.0 1235.3,610.7 1294.2,513.9 1275.7,545.5 1254.0,637.1 1285.7,556.8 1252.4,571.3 1289.2,497.0 1232.4,592.5 1264.9,556.1 1295.4,561.4 1262.9,530.1 1227.9,561.0 1284.0,539.8 1275.8,555.1 1259.2,607.8 1167.4,652.5 1303.7,500.7 1255.2,542.9 1205.9,616.6 1303.2,542.3 1219.3,582.3 1261.5,596.0 1319.3,505.1 1244.2,579.3 1213.6,599.7 1228.1,594.4 1200.7,626.4 1218.5,633.7 1232.5,630.4 1205.0,629.3 1199.9,653.7 1253.7,606.6 1237.5,624.1 1289.6,545.9 1339.5,521.7 1227.2,637.8 1285.8,577.9 1257.5,566.3 1184.6,644.3 1200.6,587.5 1329.4,524.7 1276.5,565.4 1298.6,501.8 1187.4,656.1 1267.4,567.3 1293.4,488.5 1311.3,517.4 1196.0,668.9 1268.4,590.1 1213.0,613.6 1286.1,530.7 1184.1,687.7 1234.9,620.4 1286.0,525.3 1236.4,581.0 1252.1,592.4 1318.0,486.6 1201.3,607.4 1188.9,692.2 1230.9,608.7 1178.7,650.9 1196.2,668.5 1303.4,569.8 1311.4,516.0 1256.8,535.3 1244.4,547.7 1255.3,626.1 1233.7,535.0 1301.9,547.2 1263.1,541.3 1303.4,488.6 1253.3,551.9 1210.7,620.6 1268.2,586.5 1252.6,561.3 1211.3,640.8 1306.8,575.1 1292.0,514.3 1201.1,591.4 1249.5,601.8 1269.4,521.9 1233.0,560.5 1201.2,597.6 1227.9,605.1 1270.2,585.2 1268.5,562.4 1287.3,589.7 1241.6,630.0 1311.1,507.2 1324.5,542.0 1189.6,652.4 1215.3,621.7 1197.7,592.6 1282.2,511.3 1306.5,515.8 1172.7,609.4 1247.6,600.9 1209.8,633.4 1228.6,581.9 1311.7,538.7 1188.2,656.7 1197.5,671.1 1259.2,566.0 1234.0,558.3 1302.6,537.3 1262.7,559.4 1224.6,630.0 1233.3,626.1 1345.8,499.6 1287.3,501.7 1166.5,617.9 1283.5,529.4 1233.6,615.4 1270.5,538.9 1203.4,640.7 1273.9,532.7 1191.1,639.7 1242.2,581.5 1268.8,543.2 1263.4,578.0 1213.4,630.9 1218.4,656.9 1240.0,601.4 1182.5,690.8 1215.2,622.7 1203.8,655.3 1249.6,577.3 1231.3,589.8 1272.2,588.2 1224.7,627.9 1205.7,652.7 1225.9,588.9 1265.9,520.1 1231.8,579.6 1268.7,566.4 1260.2,532.4 1260.1,604.3 1329.6,504.1 1201.5,570.9 1269.5,519.1 1224.1,633.9 1198.5,634.1 1241.9,593.8 1275.9,547.3 1328.4,525.5 1206.0,646.0 1267.3,548.3 1248.0,576.3 1179.4,631.2 1319.5,497.9 1268.7,501.3 1212.4,639.5 1315.3,498.5 1221.3,658.4 1209.7,655.7 1214.8,587.6 1324.0,517.5 1189.7,635.5 1303.7,519.5 1295.5,552.4 1196.2,649.3 1267.2,584.5 1248.4,592.9 1248.5,562.9 1283.3,525.6 1278.6,560.6 1347.4,489.8 1193.8,636.8 1276.4,551.5 1223.1,585.4 1301.4,500.3 1336.6,481.2 1229.4,607.1 1242.5,608.5 1319.5,521.7 1347.7,491.8 1243.6,596.2 1322.2,507.1 1244.1,568.1 1270.6,575.0 1307.0,519.0 1264.5,592.1 1233.3,558.8 1239.2,579.5 1219.4,571.2 1183.1,636.7 1176.1,627.9 1283.5,547.0 1255.4,555.9 1293.0,559.7 1310.1,482.3 1188.7,608.5 1210.4,614.5 1212.7,603.6 1217.3,585.9 1309.9,527.0 1226.7,595.9 1229.7,624.0 1264.0,580.1 1206.2,644.6 1205.0,634.3 1281.6,539.6 1275.6,538.9 1236.5,629.8 1252.9,527.2 1180.3,630.6 1226.5,588.3 1266.8,569.0 1200.7,637.9 1214.5,606.4 1282.7,531.8 1262.4,606.7 1193.1,626.1 1306.3,560.6 1179.3,635.6 1309.4,502.4 1212.2,625.4 1204.1,597.9 1223.2,639.2 1303.5,514.2 1206.3,593.1 1262.6,569.8 1323.6,505.5 1320.2,496.3 1200.2,647.3 1273.5,574.9 1283.7,519.2 1256.7,602.7 1234.4,580.6 1198.9,640.3 1214.0,684.4 1259.8,568.3 1213.7,647.3 1202.0,645.2 1216.0,580.2 1199.2,665.1 1194.6,669.0 1281.8,507.4 1234.4,594.3 1195.0,604.0 1290.2,525.4 1203.9,653.9 1217.6,618.0 1305.3,485.7 1292.6,507.4 1278.1,547.2 1192.8,643.6 1235.8,598.3 1211.3,638.0 1192.7,596.9 1170.3,670.3 1203.8,660.1 1263.3,575.9 1176.5,645.4 1211.7,607.2 1316.1,507.1 1221.9,628.0 1237.0,593.6 1226.4,647.8 1307.2,546.2 1263.9,543.6 1262.8,576.6 1270.3,546.9 1190.5,617.2 1225.3,591.4 1278.9,545.7 1308.8,459.4 1307.1,497.6 1285.4,547.7 1233.0,580.6 1178.9,650.5 1323.1,517.0 1187.3,649.2 1212.5,626.4 1299.6,571.3 1291.3,536.4 1313.8,513.4 1259.3,579.6 1228.1,645.1 1201.2,643.9 1316.5,504.3 1325.5,490.5 1204.0,660.1 1293.0,514.5 1261.9,626.0 1219.3,620.0 1243.1,554.9 1203.8,649.4 1246.6,595.9 1176.0,610.8 1310.4,519.8 1253.2,583.0 1292.0,525.9 1302.5,493.3 1256.4,626.6 1224.4,629.2 1336.7,505.2 1261.6,593.0 1195.9,662.3 1200.1,657.2 1329.7,480.8 1268.7,580.0 1192.5,642.0 1250.7,568.7 1292.6,548.7 1236.2,591.9 1316.1,463.3 1314.8,497.3 1206.0,645.4 1212.6,623.7 1260.4,590.1 1312.8,500.9 1266.3,539.4 1298.7,564.0 1402.9,456.2 1393.7,467.0 1356.1,505.4 1377.4,488.2 1306.1,464.1 1299.0,466.4 1115.9,556.8 1191.2,525.5 1176.9,551.6 1256.4,465.9 1135.7,628.7 1140.5,623.2 1250.5,668.1 1253.3,649.0 1264.0,640.5 1355.9,557.4 1274.3,678.2 1328.2,631.7 1371.1,599.6"/>
<polyline class="p" marker-start="url(#b004)" marker-mid="url(#b004)" marker-end="url(#b004)" points="1200.3,639.7 1218.6,643.1 1191.2,651.8 1248.4,598.8 1217.2,613.7 1167.2,637.2 1200.2,624.0 1222.6,616.9 1229.2,635.2 1254.5,602.1 1247.7,615.3 1188.4,635.5 1210.3,639.8 1179.2,659.1 1215.9,630.6 1207.8,625.8 1213.4,634.7 1166.3,681.7 1198.9,653.6 1200.2,619.0 1189.1,669.2 1197.8,661.3 1210.1,652.3 1224.5,636.2 1198.1,629.4 1165.5,625.3 1229.9,621.9 1186.5,633.2 1193.3,639.2 1187.3,672.8 1192.1,651.0 1220.6,617.5 1178.9,674.2 1187.4,612.8 1236.4,632.5 1194.6,635.1 1207.5,621.4 1188.0,661.6 1230.6,598.6 1220.1,596.2 1208.9,623.3 1166.6,666.5 1178.5,647.4 1242.7,627.8 1227.2,576.2 1191.8,600.9 1222.1,591.9 1184.5,634.2 1213.8,648.4 1206.6,631.3 1221.0,628.5 1179.8,671.2 1216.1,599.0 1239.1,607.7 1183.5,657.9 1194.7,680.2 1213.9,623.7 1191.6,644.4 1163.9,691.7 1228.0,618.7 1192.4,608.0 1206.4,653.1 1257.1,592.0 1215.3,635.0 1180.0,635.7 1189.4,607.2 1181.7,650.9 1196.4,654.8 1217.0,625.5 1185.2,632.5 1204.3,649.6 1226.6,577.5 1210.6,596.5 1221.1,611.1 1210.6,611.7 1208.8,611.7 1221.4,581.4 1214.2,641.0 1232.7,575.9 1189.6,655.8 1207.0,643.6 1176.9,660.9 1200.4,640.2 1224.5,628.0 1248.5,612.6 1200.3,654.7 1193.1,615.8 1181.4,619.1 1185.0,640.8 1171.4,645.9 1211.2,633.9 1171.3,670.8 1205.3,624.9 1215.3,640.4 1200.8,655.1 1184.3,652.5 1180.4,665.2 1252.3,597.7 1175.2,657.3 1239.1,597.0 1208.8,606.3 1198.2,638.6 1184.8,659.8 1225.4,605.0 1241.8,592.1 1192.5,658.3 1203.0,641.0 1220.2,598.6 1206.7,616.1 1234.7,571.5 1208.6,660.0 1219.8,621.6 1183.9,663.1 1246.2,580.3 1194.7,651.5 1165.5,686.0 1196.2,625.4 1201.2,631.7 1254.1,597.6 1187.2,624.8 1196.7,620.7 1222.4,622.2 1230.3,585.5 1210.6,638.9 1216.7,595.2 1217.8,620.4 1206.5,644.9 1210.3,632.1 1212.7,637.1 1185.4,649.4 1228.4,600.6 1177.3,661.7 1233.9,608.8 1202.8,631.4 1206.5,666.5 1198.9,633.0 1205.3,608.2 1218.1,610.4 1214.6,627.4 1227.0,609.2 1195.4,644.3 1215.0,630.2 1179.0,672.0 1228.8,621.8 1198.3,615.0 1197.3,639.9 1220.6,594.1 1221.6,616.8 1207.8,631.0 1172.2,659.1 1219.8,597.5 1253.5,570.6 1200.9,648.8 1213.7,636.2 1186.2,619.6 1215.0,624.9 1221.0,618.3 1218.8,586.2 1176.3,642.2 1232.5,588.8 1190.2,655.6 1190.8,600.6 1225.4,599.7 1215.1,608.4 1188.1,653.5 1203.6,660.3 1207.7,654.0 1201.0,627.4 1225.2,600.0 1181.6,662.3 1225.0,631.0 1230.2,630.4 1219.6,620.6 1227.4,633.8 1228.3,586.4 1205.4,607.6 1209.3,608.6 1246.7,594.8 1174.8,682.5 1205.4,642.1 1201.4,638.4 1177.7,643.0 1162.6,667.2 1192.8,633.2 1189.8,643.9 1209.8,612.3 1163.4,649.8 1243.5,607.8 1214.9,628.5 1212.5,649.6 1177.3,630.6 1178.5,635.5 1176.3,648.8 1204.9,654.5 1204.1,628.4 1053.3,634.5 1052.8,652.6 1124.6,570.4 1129.0,577.9 1169.6,559.9 1254.2,657.7 1303.2,597.4 1370.7,561.5 1377.3,574.2 1329.8,634.6 1292.2,461.9"/>
<polyline class="p" marker-start="url(#b005)" marker-mid="url(#b005)" marker-end="url(#b005)" points="1328.8,498.9 1309.5,478.6 1289.6,552.1 1322.1,486.9 1295.5,547.1 1306.7,536.6 1307.9,510.5 1290.0,522.5 1354.9,480.4 1285.2,519.6 1264.9,575.4 1318.2,499.2 1275.3,544.2 1276.3,539.5 1300.2,495.3 1303.5,509.0 1310.1,517.6 1318.7,517.6 1340.6,503.6 1296.6,548.5 1306.4,505.9 1272.5,559.2 1287.6,555.0 1317.0,511.4 1286.0,512.5 1258.3,575.2 1300.8,530.9 1273.8,529.9 1265.0,554.6 1298.0,523.8 1282.6,552.1 1261.4,591.8 1269.7,576.1 1333.7,491.5 1253.2,579.3 1290.7,527.0 1298.5,514.8 1301.6,516.7 1257.0,567.8 1287.4,553.1 1306.8,549.9 1310.8,518.4 1279.3,561.5 1264.7,573.2 1313.9,510.8 1323.3,516.0 1304.7,535.0 1274.0,553.5 1296.8,523.9 1295.2,538.4 1304.4,509.0 1259.6,572.0 1298.0,541.2 1283.8,540.0 1247.8,550.9 1297.9,535.7 1280.4,525.5 1268.2,535.9 1286.6,512.9 1259.8,581.6 1272.1,520.9 1297.4,523.3 1296.5,530.3 1315.3,508.4 1254.8,564.0 1251.4,576.9 1294.9,530.9 1289.6,513.0 1343.9,483.9 1310.2,527.7 1261.3,553.4 1302.1,508.2 1259.8,550.2 1260.0,585.5 1292.2,523.1 1292.4,502.0 1310.4,530.8 1329.7,484.6 1296.7,530.5 1328.5,515.7 1268.4,570.0 1246.5,564.9 1325.4,500.8 1328.4,501.6 1293.9,514.9 1286.2,521.7 1284.8,523.4 1277.1,561.3 1325.2,494.4 1296.3,509.5 1304.7,527.6 1302.3,531.9 1307.0,500.5 1288.8,509.4 1314.0,525.1 1310.5,534.0 1347.6,484.5 1276.5,551.3 1280.4,534.5 1310.3,512.8 1315.9,515.6 1301.8,517.7 1256.1,588.2 1300.3,522.7 1264.2,573.7 1295.2,514.3 1286.8,551.0 1314.5,522.0 1318.3,528.3 1310.5,522.2 1271.8,566.6 1266.1,546.4 1265.5,568.6 1280.8,557.1 1271.4,576.9 1280.6,563.7 1283.4,542.3 1265.5,565.2 1245.8,565.6 1259.8,578.5 1291.2,514.9 1287.5,532.3 1312.5,508.0 1327.3,523.9 1289.0,555.9 1298.6,511.6 1243.4,564.0 1341.1,471.8 1311.1,497.0 1285.7,545.3 1262.7,570.9 1301.8,531.1 1236.1,579.2 1266.8,554.5 1307.5,517.4 1292.1,536.7 1272.1,544.9 1308.3,507.3 1269.0,571.3 1282.4,514.1 1274.1,547.5 1267.5,559.1 1288.4,511.2 1256.8,554.8 1334.1,484.7"/>
<polyline class="p" marker-start="url(#b006)" marker-mid="url(#b006)" marker-end="url(#b006)" points="1197.2,590.4 1214.8,626.8 1231.6,576.3 1259.2,606.4 1256.1,622.1 1234.5,593.9 1266.5,578.6 1237.9,633.2 1265.3,580.9 1188.1,620.0 1182.4,591.6 1261.2,613.2 1188.6,641.2 1225.1,602.9 1231.9,595.1 1218.8,577.4 1220.0,583.4 1281.9,593.2 1264.8,610.5 1236.0,614.7 1234.6,623.7 1259.6,611.7 1195.4,611.6 1238.2,610.1 1229.0,569.6 1254.0,595.3 1240.5,617.2 1257.3,598.1 1221.1,631.7 1236.9,619.7 1212.7,643.2 1212.9,588.9 1230.5,600.7 1230.4,629.8 1195.9,615.4 1287.9,588.3 1230.7,602.3 1188.8,609.0 1272.1,619.8 1210.1,623.3 1252.3,606.4 1234.6,594.9 1243.6,622.6 1240.9,627.7 1215.9,593.4 1236.6,625.1 1303.4,584.5 1160.2,614.5 1237.4,595.2 1249.8,579.6 1199.9,602.7 1189.3,602.5 1222.8,622.8 1304.9,591.4 1253.2,582.7 1237.8,586.8 1251.2,570.1 1256.5,602.4 1274.8,602.1 1249.8,591.7 1240.1,609.1 1241.1,610.3 1280.5,622.0 1262.6,590.5 1201.6,631.4 1213.9,604.0 1246.3,632.0 1214.3,594.3 1222.6,628.3 1203.2,599.8 1226.4,637.1 1249.4,615.5 1268.6,586.8 1235.5,623.1 1304.8,600.9 1232.6,618.1 1268.8,644.0 1251.9,603.0 1218.5,604.8 1230.0,628.7 1241.2,599.8 1299.7,615.6 1188.9,631.7 1299.1,602.5 1226.8,622.1 1259.5,569.5 1239.9,635.0 1223.7,599.1 1258.1,591.1 1238.3,642.1 1196.9,642.8 1267.0,597.1 1258.5,615.2 1255.2,601.4 1269.0,587.4 1272.1,611.8 1234.5,627.5 1189.7,656.2 1188.8,611.9 1280.5,620.0 1259.0,602.1 1238.6,605.7 1220.6,634.4 1236.3,581.5 1236.0,592.1 1223.9,597.3 1211.8,632.1 1307.8,608.3 1242.9,618.1 1214.9,619.1 1191.6,633.4 1210.9,605.6 1259.3,603.4 1260.6,601.0 1227.9,619.1 1236.9,588.5 1225.0,608.0 1198.1,655.3 1278.9,615.5 1247.7,609.5 1318.2,584.6 1209.9,617.8 1230.6,614.6 1264.8,617.5 1227.0,600.0 1188.7,622.6 1203.4,623.5 1238.6,621.8 1246.7,599.5 1232.0,619.1 1268.9,633.6 1268.5,595.9 1246.0,620.2 1236.1,604.0 1226.7,604.8 1253.7,588.1 1266.0,589.3 1237.2,619.2 1250.3,611.0 1224.3,632.4 1187.9,587.8 1201.6,606.5 1260.9,584.1 1250.2,613.5 1237.1,584.6 1264.2,605.1 1279.6,602.7 1268.6,605.2 1214.8,601.7 1229.0,601.9 1239.6,635.6 1202.2,595.9 1251.1,616.8 1269.5,613.7 1219.1,583.4 1301.3,587.3 1225.5,616.6 1228.4,641.2 1227.2,608.2 1211.5,603.8 1249.2,609.7 1235.9,630.3 1290.9,616.6 1255.6,628.2 1253.2,604.3 1227.8,597.3 1187.8,598.5 1232.2,622.3 1206.7,609.3 1267.1,597.2 1234.2,618.5 1291.1,606.0 1259.9,572.2 1263.2,603.4 1242.9,594.6 1242.2,616.3 1257.1,606.8 1266.1,634.6 1211.4,613.1 1251.7,588.5 1232.2,575.8 1226.6,591.3 1212.0,601.3 1186.6,614.6 1275.1,615.2 1237.3,612.3 1245.3,598.7 1297.1,615.8 1205.4,598.0 1270.6,622.1 1256.1,636.8 1248.6,625.0 1251.3,635.5 1234.5,632.6 1288.6,585.2 1255.9,610.9 1246.8,605.0 1277.1,586.1 1265.4,585.8 1250.7,616.5 1246.3,586.9 1294.2,596.9 1252.4,607.9 1232.3,603.0 1206.6,636.6 1223.8,624.2 1200.1,615.7 1238.9,599.5 1243.9,615.1 1166.5,619.9 1235.9,593.9 1257.1,584.3 1240.9,596.7 1203.3,592.8 1277.8,611.7 1211.9,617.6 1194.1,609.4 1199.1,619.0 1234.8,618.3 1268.2,579.0 1274.4,608.8 1242.3,625.0 1195.3,606.5 1213.3,582.3 1205.2,612.1 1229.3,590.4 1175.8,623.9 1239.0,617.6 1256.9,618.8 1230.3,612.9 1250.7,578.0 1203.8,632.5 1186.5,588.6 1213.9,629.0 1274.0,609.3 1269.8,592.3 1219.9,601.3 1275.6,600.7 1224.3,638.3 1285.9,598.2 1251.4,624.9 1220.1,570.6 1261.9,610.4 1209.3,609.8 1203.9,632.4 1186.6,623.4 1243.9,630.2 1233.4,594.0 1232.6,614.5 1221.5,602.3 1283.4,615.7 1221.0,619.8 1211.0,591.6 1277.0,621.1 1282.9,634.1 1246.6,602.0 1176.9,635.4 1215.1,619.5 1255.8,592.6 1235.8,623.3 1287.3,589.6 1189.4,626.4 1258.0,582.9 1214.2,590.6 1279.6,612.6 1232.7,613.7 1269.8,619.7 1213.5,609.1 1187.9,596.5 1198.0,638.0 1214.9,597.2 1200.8,635.6 1275.5,619.5 1280.1,634.2 1244.4,574.3 1200.5,612.9 1231.2,606.4 1212.2,623.7 1284.0,586.8 1245.8,643.3 1251.6,607.6 1221.8,575.2 1167.8,623.9 1209.4,612.6 1197.8,603.2 1247.6,621.9 1238.4,609.2 1208.3,597.2 1222.2,608.2 1287.7,597.8 1203.0,619.4 1204.4,608.3 1227.6,609.9 1211.8,588.7 1220.8,599.7 1253.0,611.9 1175.5,605.0 1234.6,597.6 1236.6,624.9 1232.4,643.1 1228.9,629.4 1223.8,596.0 1268.9,623.6 1219.6,619.3 1230.9,606.8 1235.2,589.8 1238.8,609.8 1229.5,612.3 1268.7,615.1 1234.9,583.2 1241.0,591.8 1233.5,611.7 1201.6,636.7 1207.4,626.1 1200.0,604.5 1241.7,621.1 1211.3,598.0 1199.6,608.1 1243.2,604.2 1252.8,597.2 1176.2,608.5 1291.9,617.5 1236.3,615.2 1231.7,571.9 1271.0,625.7 1237.6,617.5 1215.0,594.8 1308.8,604.2 1199.2,627.4 1231.9,632.1 1263.6,597.9 1199.3,597.3 1231.8,587.3 1248.2,607.6 1315.7,583.6 1205.3,630.3 1233.6,607.4 1257.3,618.5 1237.9,606.8 1194.9,602.2 1248.9,590.8 1238.8,625.8 1250.2,587.4 1273.1,613.4 1269.2,622.9 1248.9,611.2 1245.6,632.8 1198.4,614.1 1230.7,605.7 1242.6,612.4 1221.8,602.7 1238.5,614.7 1207.5,613.0 1286.7,627.7 1307.4,601.0 1222.1,625.4 1248.6,615.8 1227.4,612.4 1277.6,602.0 1249.8,635.3 1237.8,635.3 1227.7,615.8 1239.4,601.7 1201.7,607.9 1257.9,592.7 1211.3,591.3 1253.1,599.7 1239.6,609.8 1271.9,622.7 1234.6,625.6 1269.5,613.7 1204.3,609.1 1255.6,604.0 1227.7,610.7 1241.7,611.7 1237.6,599.3 1266.6,602.9 1167.5,612.8 1246.0,603.6 1185.1,624.6 1275.7,622.3 1169.1,609.4 1201.6,606.9 1179.1,620.0 1290.2,610.5 1192.0,577.5 1239.0,622.0 1217.2,615.6 1174.9,612.5 1223.9,630.2 1257.4,605.5 1229.0,581.1 1266.8,591.0 1223.1,600.9 1235.4,600.2 1222.3,609.6 1246.7,592.9 1298.9,605.2 1247.4,615.5 1241.7,607.5 1214.5,597.4 1209.9,607.4 1284.3,593.3 1197.9,647.5 1204.6,593.8 1231.9,571.9 1220.9,589.7 1300.8,607.7 1155.9,633.0 1247.3,604.0 1259.1,623.4 1197.6,602.3 1213.6,621.0 1249.7,592.5 1289.8,581.3 1204.3,646.9 1182.3,611.2 1267.8,617.7 1286.3,627.3 1224.0,621.4 1161.0,622.0 1283.9,587.4 1228.6,635.7 1272.9,588.4 1233.8,577.0 1222.6,601.6 1220.1,602.7 1284.6,604.5 1283.3,623.8 1163.5,609.4 1203.8,607.2 1294.8,591.1 1222.9,570.3 1189.6,603.2 1235.4,602.9 1231.6,584.7 1231.9,632.4 1219.1,630.6 1224.8,617.3 1219.9,622.5 1246.4,597.3 1208.0,618.3 1225.5,582.5 1230.4,585.5 1279.0,592.3 1247.7,614.9 1231.5,600.2 1253.2,594.6 1248.8,625.9 1271.7,600.0 1252.2,596.4 1295.4,599.5 1280.3,579.0 1233.8,590.2 1221.3,625.1 1264.8,604.5 1252.5,621.7 1232.0,600.8 1185.7,629.9 1173.8,601.8 1246.9,602.2 1261.1,591.0 1262.1,609.2 1192.1,638.8 1270.0,577.0 1217.3,614.8 1248.2,585.8 1249.2,601.3 1208.3,602.0 1215.4,582.2 1165.7,612.3 1204.5,590.5 1174.8,641.2 1249.9,594.0 1237.3,613.7 1265.9,608.6 1247.2,608.4 1213.9,606.7 1246.8,581.4 1222.1,641.9 1255.6,606.9 1245.8,620.5 1202.1,594.6 1235.3,616.9 1237.1,602.2 1224.9,617.7 1265.2,595.5 1292.6,586.7 1222.9,617.9 1223.5,610.5 1159.8,641.9 1230.9,605.4 1220.6,597.6 1162.7,627.4 1244.9,590.4 1255.0,641.7 1210.6,643.2 1222.7,634.2 1202.8,621.6 1260.8,606.7 1184.3,617.1 1224.7,612.2 1300.6,590.6 1236.9,617.5 1250.9,628.9 1230.3,630.9 1195.8,579.7 1234.1,648.7 1248.8,611.3 1200.9,589.9 1246.7,600.7 1277.0,618.8 1271.1,605.8 1182.1,601.8 1202.5,593.8 1181.1,630.9 1271.1,593.3 1255.7,603.5 1258.8,589.1 1205.8,590.5 1196.1,620.1 1237.8,633.5 1238.6,603.1 1206.6,584.0 1240.0,598.1 1256.8,603.7 1242.9,569.6 1200.4,631.0 1226.5,620.3 1240.7,608.5 1226.5,609.5 1220.8,586.7 1212.0,628.0 1259.2,616.0 1233.5,636.3 1239.3,601.5 1202.6,621.2 1214.4,605.4 1240.7,626.9 1201.5,619.7 1193.0,597.7 1224.2,614.1 1275.5,595.1 1241.6,600.5 1284.2,610.2 1230.8,636.1 1224.8,594.9 1188.5,612.5 1215.9,596.0 1283.3,637.5 1246.2,635.9 1259.8,642.3 1258.9,621.6 1234.9,592.9 1228.3,601.4 1239.2,610.1 1257.7,605.2 1250.6,595.7 1251.7,613.0 1240.4,602.8 1209.4,610.6 1226.4,646.9 1203.6,619.9 1268.9,583.8 1164.7,624.5 1227.9,613.1 1223.8,619.2 1197.2,595.8 1234.6,614.4 1278.4,621.8 1229.8,651.6 1255.8,617.0 1238.6,641.9 1222.7,641.3 1237.6,596.6 1217.2,600.4 1218.8,643.3 1248.0,594.5 1248.9,600.8 1261.1,619.9 1239.9,597.3 1187.2,642.2 1253.0,627.7 1224.9,634.8 1225.6,629.3 1185.5,601.2 1216.0,634.1 1210.8,631.6 1234.0,625.7 1186.5,612.3 1236.9,615.3 1239.4,595.3 1197.7,625.9 1214.3,633.5 1206.5,621.5 1265.6,605.9 1223.7,626.6 1179.5,611.8 1220.7,581.8 1263.6,616.4 1214.1,611.8 1239.9,587.3 1206.9,624.0 1300.2,616.6 1265.8,624.6 1273.0,599.3 1190.7,606.8 1198.3,616.8 1271.4,605.4 1228.7,590.0 1226.6,597.0 1246.4,632.0 1193.1,615.2 1261.1,605.6 1235.8,598.4 1251.3,612.2 1212.7,623.5 1252.4,615.9 1211.6,642.3 1267.2,607.1 1273.1,615.9 1265.8,599.2 1252.5,625.3 1256.5,615.2 1263.2,623.3 1226.0,629.0 1238.4,598.6 1225.7,619.2 1188.6,608.5 1217.1,631.0 1257.3,606.4 1282.7,632.9 1214.3,620.8 1204.9,622.3 1130.8,611.5 1247.8,499.6 1167.2,593.9 1315.7,619.1 1327.8,609.6"/>
<polyline class="p" marker-start="url(#b009)" marker-mid="url(#b009)" marker-end="url(#b009)" points="1363.6,454.6 1378.8,409.2 1384.8,425.3 1389.9,434.3 1372.1,429.8 1366.4,458.1 1380.9,405.5 1369.4,424.0 1397.3,409.7 1361.2,440.2 1352.7,450.8 1374.1,442.9 1377.5,416.0 1402.9,409.0 1387.7,409.8 1387.0,441.4 1383.1,425.2 1356.5,449.4 1397.0,426.9 1383.9,434.4 1389.6,430.2 1375.5,421.5 1385.1,439.0 1380.6,421.3 1353.0,431.5 1389.9,412.2 1419.5,417.2 1414.1,389.2 1381.1,408.8 1380.0,436.2 1358.8,433.0 1377.3,421.5 1351.6,454.8 1365.3,452.5 1382.0,438.4 1376.3,439.8 1388.4,419.8 1399.8,397.6 1381.0,421.1 1374.1,443.2 1373.4,436.8 1376.2,427.2 1392.2,448.5 1397.8,425.3 1392.9,431.6 1383.0,431.1 1374.3,442.5 1378.8,436.9 1378.7,449.1 1369.9,428.8 1394.4,408.6 1421.9,414.9 1374.3,436.7 1384.7,447.3 1393.8,381.2 1408.0,407.4 1372.4,446.9 1370.9,439.1 1390.8,422.0 1393.5,416.2 1362.0,420.5 1385.4,419.8 1362.3,434.2 1407.9,376.3 1400.8,425.8 1378.5,398.8 1368.8,429.7 1380.5,410.9 1388.6,437.5 1359.7,437.4 1377.4,425.2 1365.7,457.4 1364.3,437.1 1366.3,450.7 1376.3,430.8 1366.6,427.7 1370.9,418.5 1372.4,427.6 1373.2,414.1 1379.1,402.4 1370.7,465.4 1385.0,434.2 1370.2,460.1 1356.5,455.2 1370.7,412.5 1387.1,409.4 1405.1,422.3 1375.5,441.2 1361.8,430.9 1381.1,439.5 1398.5,411.1 1361.6,445.4 1384.7,460.9 1363.2,434.2 1356.2,450.8 1395.7,401.2 1408.0,417.7 1373.1,453.4 1383.6,438.0 1368.7,438.3 1399.4,406.8 1362.4,447.9 1353.5,425.3 1338.3,452.2 1374.9,450.3 1381.6,441.3 1389.7,385.4 1376.8,440.2 1364.7,420.6 1380.9,397.8 1381.6,439.2 1389.3,425.1 1393.1,413.7 1390.8,435.0 1397.9,429.2 1386.1,431.3 1365.0,430.7 1382.0,436.9 1373.8,441.5 1383.3,435.7 1378.5,459.0 1381.5,399.3 1361.1,464.8 1390.1,407.8 1401.8,433.0 1365.9,434.5 1389.8,394.4 1387.1,439.1 1388.2,416.9 1394.3,435.9 1372.2,429.2 1389.1,418.2 1394.6,409.4 1376.7,407.2 1374.0,427.9 1376.9,407.3 1379.7,418.2 1388.3,444.5 1383.9,420.8 1400.9,396.8 1380.6,458.1 1375.7,409.0 1395.6,411.2 1377.8,425.6 1381.2,446.7 1372.6,437.4 1377.0,427.9 1407.3,405.6 1365.3,445.6 1388.2,394.2 1399.5,430.0 1404.7,421.0 1405.8,417.3 1386.3,412.4 1384.9,442.8 1382.3,422.2 1396.8,430.1 1366.7,434.8 1381.7,389.9 1400.2,427.2 1404.2,389.6 1366.6,464.6 1378.3,420.9 1393.5,401.6 1380.6,461.1 1390.4,441.0 1424.2,402.9 1421.8,412.2 1376.5,448.8 1395.8,431.3 1416.7,416.9 1389.3,417.9 1394.2,403.4 1403.6,429.3 1375.6,446.5 1386.4,422.9 1394.2,418.8 1396.1,425.9 1405.4,385.5 1374.4,420.1 1363.2,436.3 1379.0,435.7 1366.1,407.3 1375.8,401.0 1385.1,432.6 1380.8,431.9 1389.6,396.1 1389.2,435.7 1395.5,404.9 1381.6,427.8 1387.1,436.3 1407.2,404.0 1379.3,462.3 1367.1,456.0 1393.0,455.0 1369.9,412.3 1376.5,410.3 1389.0,414.3 1367.3,425.4 1401.3,381.2 1366.0,426.6 1377.0,415.9 1389.8,437.3 1380.8,421.2 1391.5,428.0 1399.1,432.1 1394.2,436.9 1368.5,435.4 1381.2,408.5 1388.8,447.5 1374.2,402.8 1363.5,420.5 1382.4,435.4 1400.2,416.6 1373.6,439.4 1375.2,416.8 1413.2,400.3 1410.5,417.6 1382.8,420.7 1412.4,434.4 1404.5,399.9 1375.3,413.2 1397.0,405.2 1391.6,402.1 1379.5,421.6 1385.2,410.4 1387.9,418.8 1362.6,467.0 1365.7,451.5 1374.9,438.0 1387.3,397.5 1351.7,431.0 1385.3,416.4 1397.1,426.0 1392.4,430.9 1398.8,412.9 1398.5,382.2 1389.8,412.9 1382.3,429.2 1412.9,408.3 1383.8,409.0 1371.6,434.6 1381.7,429.7 1380.3,428.3 1382.5,394.6 1400.2,410.8 1389.7,386.4 1374.2,412.8 1365.4,446.4 1380.4,412.8 1398.7,411.8 1381.0,445.9 1405.7,406.6 1377.1,451.9 1366.8,435.7 1390.0,419.0 1379.4,420.2 1365.1,431.5 1370.4,435.6 1400.0,443.4 1380.9,426.4 1392.0,434.3 1378.1,430.9 1385.1,397.9 1416.6,422.6 1387.8,418.1 1342.5,475.1 1384.9,462.4 1374.3,424.5 1378.7,431.6 1391.7,427.4 1405.5,415.8 1397.6,418.4 1406.8,435.5 1381.6,447.2 1400.3,414.7 1369.0,450.9 1388.1,423.0 1412.1,414.7 1376.5,424.0 1355.3,468.5 1398.5,436.4 1378.4,448.7 1378.2,440.4 1384.5,408.9 1395.6,403.4 1380.3,437.0 1398.1,409.6 1383.3,422.8 1364.9,407.8 1383.2,439.2 1374.5,427.8 1380.6,415.7 1385.3,443.4 1377.0,430.4 1384.4,422.5 1383.9,435.5 1386.6,411.9 1370.7,421.1 1375.4,413.7 1375.6,439.5 1380.5,426.4 1388.1,443.3 1390.2,414.7 1357.4,439.0 1404.5,399.8 1364.2,435.9 1388.9,417.1 1346.4,454.3 1371.7,414.9 1404.2,407.4 1369.7,438.7 1377.8,434.3 1388.4,429.1 1375.5,436.3 1390.2,441.4 1365.3,432.9 1357.2,423.2 1370.1,408.4 1372.6,414.0 1405.0,421.2 1359.8,423.9 1407.5,413.4 1378.5,433.5 1349.3,429.5 1357.1,478.0 1381.7,412.2 1392.1,411.4 1372.0,442.8 1379.8,448.2 1362.1,442.9 1334.5,422.7 1348.3,411.1 1294.7,478.1 1305.8,466.6 1323.8,445.3 1375.4,401.9 1395.2,378.8 1456.5,384.4 1432.7,418.3"/>
<polyline class="p" marker-start="url(#b010)" marker-mid="url(#b010)" marker-end="url(#b010)" points="1319.5,491.4 1219.2,582.0 1281.0,531.5 1325.2,510.1 1224.4,611.1 1183.1,666.8 1285.7,569.5 1235.5,625.3 1324.4,495.0 1206.7,605.9 1313.1,552.9 1188.6,653.2 1206.0,619.0 1216.8,616.6 1317.0,529.7 1264.3,539.4 1290.9,564.8 1181.2,644.0 1200.4,598.4 1340.0,529.1 1280.6,540.0 1285.7,532.8 1257.0,567.9 1234.0,618.8 1309.8,520.9 1232.9,635.7 1195.4,640.7 1281.7,532.0 1205.2,649.3 1298.6,549.0 1274.8,565.0 1236.6,597.2 1266.0,561.9 1251.4,582.6 1189.1,649.6 1214.9,654.3 1215.4,606.0 1169.2,638.9 1230.8,638.6 1235.5,614.8 1262.2,560.4 1249.3,558.9 1200.2,622.7 1276.3,520.1 1299.9,526.0 1276.1,541.7 1268.8,550.1 1218.0,629.1 1295.0,500.7 1271.2,542.1 1211.0,602.2 1277.7,559.7 1272.7,530.4 1283.5,569.5 1246.4,576.2 1306.9,541.6 1276.9,532.8 1187.7,664.1 1220.4,611.3 1340.1,518.8 1222.4,575.1 1278.7,534.3 1211.6,629.5 1251.3,570.1 1264.5,557.1 1279.7,513.0 1305.6,510.2 1272.9,592.0 1230.3,610.7 1194.0,614.3 1228.4,592.5 1268.7,570.8 1315.6,491.8 1252.1,576.5 1290.3,520.8 1301.1,562.6 1190.0,672.6 1196.5,626.7 1273.6,560.3 1190.4,641.4 1188.3,604.1 1296.4,536.5 1276.3,545.8 1201.8,650.7 1199.6,654.9 1309.4,515.8 1268.0,597.0 1266.9,614.4 1264.8,531.3 1276.0,554.7 1304.4,491.9 1210.0,624.6 1280.5,543.3 1249.6,565.9 1224.9,592.9 1266.6,592.5 1180.2,632.0 1191.5,672.6 1193.1,641.9 1239.6,530.8 1285.9,538.8 1200.5,597.4 1228.8,625.7 1296.7,513.3 1241.9,589.9 1224.0,601.3 1323.6,518.8 1257.5,595.8 1255.3,567.5 1308.0,554.0 1191.6,669.3 1237.8,580.0 1298.1,542.0 1294.1,553.3 1327.3,520.7 1224.2,607.7 1238.7,603.7 1210.6,623.2 1223.4,616.9 1174.2,622.9 1222.6,623.9 1223.4,660.4 1227.5,604.7 1246.4,585.8 1294.5,527.1 1307.0,556.2 1245.4,559.3 1280.8,547.4 1247.1,589.8 1248.2,622.7 1248.7,571.7 1252.4,580.7 1304.7,486.1 1299.5,535.4 1198.3,671.3 1277.8,546.9 1201.6,659.5 1273.4,544.8 1327.4,519.9 1286.6,543.2 1188.3,657.9 1237.7,596.7 1225.6,622.3 1284.6,562.2 1278.5,550.7 1294.6,545.0 1237.2,591.5 1274.7,560.3 1243.5,644.3 1309.9,514.9 1300.8,489.8 1182.1,652.0 1257.8,558.3 1258.1,552.8 1219.4,628.3 1189.7,683.3 1188.2,632.7 1288.4,512.1 1195.0,630.8 1242.1,580.5 1289.3,527.2 1200.3,639.3 1280.1,540.7 1251.0,580.3 1227.4,599.7 1257.5,596.3 1245.1,602.7 1313.0,484.5 1283.1,552.3 1286.2,599.3 1225.5,606.8 1268.1,616.8 1306.4,470.8 1288.3,505.5 1184.7,640.1 1236.6,613.2 1262.2,595.2 1253.1,583.4 1208.2,629.1 1220.8,633.8 1258.6,568.0 1274.6,522.7 1281.2,531.5 1296.4,553.8 1303.2,573.3 1189.4,650.9 1209.3,644.2 1234.5,588.5 1219.4,576.9 1223.5,572.2 1224.4,604.0 1233.3,573.9 1278.9,547.5 1315.9,499.7 1268.6,539.8 1226.6,609.2 1265.1,576.4 1328.2,510.2 1270.6,557.8 1271.3,572.2 1265.0,545.2 1329.5,498.7 1268.4,525.1 1176.4,636.5 1263.2,596.2 1308.9,488.1 1188.1,661.9 1182.9,645.7 1196.2,644.0 1195.2,627.8 1278.2,562.5 1266.2,554.9 1271.8,547.2 1271.0,560.9 1229.1,595.9 1309.3,537.5 1207.8,616.0 1242.7,618.7 1244.2,572.9 1287.8,526.6 1282.2,512.1 1283.1,556.7 1267.0,567.1 1230.6,599.6 1278.9,566.2 1280.0,512.5 1250.4,591.8 1275.7,527.8 1260.8,591.3 1254.4,568.5 1284.4,550.4 1190.4,626.7 1218.2,624.1 1203.4,654.8 1256.2,562.9 1302.6,549.2 1302.4,543.8 1209.4,608.8 1245.6,630.6 1186.8,634.8 1280.3,555.7 1240.3,613.7 1207.9,622.9 1217.6,602.5 1316.8,518.3 1271.1,560.7 1303.5,500.4 1225.3,590.8 1203.3,635.1 1304.0,556.7 1314.0,529.9 1213.1,636.9 1291.6,501.6 1257.0,558.7 1314.5,499.4 1318.7,468.7 1241.7,597.0 1334.8,502.5 1213.6,631.1 1226.4,561.8 1288.8,585.0 1194.4,636.9 1241.2,579.6 1273.1,552.3 1171.1,614.9 1237.5,566.6 1286.4,520.2 1223.6,631.7 1286.9,526.1 1235.2,605.8 1260.1,567.5 1267.3,555.5 1311.2,521.6 1312.1,494.0 1300.8,483.2 1248.8,556.7 1203.9,627.5 1229.8,648.9 1287.6,511.1 1285.9,513.3 1290.0,538.7 1309.5,535.0 1255.8,557.6 1318.5,520.7 1275.4,531.9 1285.5,564.8 1314.0,528.4 1262.7,564.9 1298.0,559.4 1319.4,500.7 1218.7,602.9 1306.7,546.1 1209.6,604.0 1250.5,592.4 1308.5,499.8 1313.8,501.7 1320.1,521.4 1290.4,545.9 1322.6,537.0 1342.9,489.9 1258.0,588.7 1200.3,597.6 1172.2,644.5 1315.0,537.6 1279.9,526.4 1261.7,560.9 1282.3,551.6 1261.8,555.1 1276.9,530.1 1251.7,591.1 1269.5,563.8 1208.2,623.4 1277.5,571.4 1278.8,542.2 1259.2,570.8 1231.1,617.1 1205.7,650.0 1274.3,544.5 1191.0,626.3 1299.0,515.7 1211.5,643.7 1284.3,522.6 1233.8,594.0 1306.6,500.8 1195.1,614.7 1230.7,622.8 1276.4,552.6 1306.8,528.5 1243.5,607.5 1241.1,542.4 1246.9,560.8 1262.4,606.8 1231.8,590.2 1257.6,583.8 1215.2,592.1 1223.9,607.3 1319.4,504.1 1186.7,648.4 1315.7,495.2 1316.0,503.2 1235.4,601.3 1305.6,519.0 1178.2,637.5 1295.3,554.1 1230.3,602.0 1239.2,594.5 1309.4,522.9 1172.5,650.6 1329.0,519.5 1203.2,641.4 1271.9,574.4 1223.8,596.5 1268.9,568.8 1308.9,510.9 1291.0,514.4 1215.5,656.4 1216.8,606.7 1254.5,591.8 1281.5,549.4 1181.6,660.2 1285.4,519.9 1295.2,510.3 1287.2,495.3 1210.2,620.7 1217.0,628.3 1297.2,537.2 1257.6,555.3 1219.4,576.7 1193.7,635.6 1212.2,649.7 1288.5,528.9 1287.0,531.1 1231.9,598.5 1316.0,521.3 1281.5,603.1 1275.3,563.0 1233.3,573.7 1234.0,592.6 1250.1,631.1 1296.7,525.9 1270.0,599.9 1212.7,575.2 1232.7,594.6 1327.6,519.0 1262.1,546.7 1198.2,657.0 1240.4,577.1 1254.3,574.0 1182.9,683.9 1303.7,502.4 1339.0,509.1 1186.0,621.0 1265.9,559.8 1232.9,623.1 1227.7,647.5 1209.3,587.8 1170.2,636.4 1283.5,570.6 1217.9,577.3 1289.6,530.1 1294.1,539.3 1275.4,552.3 1241.0,596.0 1179.4,626.4 1274.3,548.0 1297.7,568.1 1278.9,497.0 1199.2,616.6 1187.7,676.2 1299.4,531.3 1288.4,556.7 1196.3,639.6 1284.0,531.2 1191.0,641.2 1293.7,543.4 1258.7,588.2 1286.6,517.6 1189.0,651.5 1296.5,473.2 1338.3,497.3 1302.5,500.8 1295.6,526.1 1232.2,617.6 1306.0,483.2 1268.3,552.6 1284.7,560.7 1271.4,562.4 1207.7,603.8 1325.4,522.0 1255.6,540.5 1193.1,628.3 1261.3,573.0 1199.3,605.4 1229.8,561.3 1308.5,498.4 1230.1,598.1 1222.3,567.5 1273.1,517.7 1218.8,636.8 1202.8,638.2 1295.3,532.6 1195.4,651.4 1276.9,583.9 1282.8,520.6 1264.9,560.4 1190.2,645.4 1194.6,609.5 1268.7,571.4 1322.0,498.4 1287.3,530.2 1289.4,554.7 1259.3,571.3 1221.0,594.4 1283.4,541.3 1164.6,645.5 1249.9,597.2 1293.4,525.0 1230.1,635.8 1279.0,549.0 1285.3,555.6 1188.4,617.5 1306.6,497.0 1217.0,592.9 1310.1,466.9 1224.9,573.9 1259.5,551.5 1322.2,513.1 1323.8,529.3 1241.6,590.4 1213.3,629.7 1259.8,583.5 1266.1,567.8 1201.9,673.6 1210.4,589.3 1331.8,512.9 1257.8,586.4 1198.8,624.3 1289.2,573.2 1221.4,568.4 1317.2,480.3 1251.2,585.4 1199.0,663.2 1198.0,650.0 1222.2,655.1 1301.4,487.6 1229.8,599.8 1234.5,614.6 1333.3,505.7 1220.5,599.4 1254.7,538.2 1330.3,517.8 1315.3,518.4 1247.4,624.1 1258.0,554.1 1222.0,607.6 1265.9,507.4 1212.2,625.5 1210.7,634.6 1230.7,618.4 1193.2,623.9 1294.1,567.8 1207.2,610.4 1242.0,582.6 1230.0,614.3 1226.5,627.8 1216.0,593.1 1225.5,562.9 1282.7,552.6 1203.9,619.4 1249.0,538.9 1246.4,598.2 1187.8,656.4 1200.4,665.2 1310.2,514.1 1211.4,625.4 1220.6,623.0 1302.2,537.4 1214.5,657.7 1228.8,635.8 1246.6,606.5 1277.0,517.8 1189.2,661.0 1324.1,515.1 1196.1,625.2 1261.0,553.4 1319.3,536.2 1255.0,588.6 1240.5,574.4 1240.0,582.0 1235.2,616.3 1326.8,485.8 1236.6,595.4 1252.9,549.4 1283.3,562.1 1320.1,478.0 1238.3,582.4 1213.4,645.4 1315.6,479.0 1234.5,575.3 1283.1,573.1 1244.9,537.6 1302.3,547.0 1304.0,539.6 1281.3,551.3 1174.3,647.3 1292.2,517.1 1195.5,643.9 1290.3,500.4 1173.9,646.9 1292.7,497.0 1247.3,514.6 1185.4,648.6 1317.5,564.2 1270.9,566.4 1216.4,643.8 1299.7,520.3 1276.9,546.2 1276.4,578.8 1341.1,503.1 1209.6,631.9 1194.7,647.3 1333.9,546.4 1196.4,617.0 1307.2,513.2 1210.8,624.4 1293.2,522.8 1266.0,585.9 1265.2,563.2 1257.5,520.4 1236.0,569.2 1239.4,580.3 1281.1,550.5 1205.4,650.4 1290.9,500.5 1277.6,535.0 1202.0,644.6 1241.7,641.8 1244.6,606.8 1316.3,550.7 1219.9,552.9 1222.5,606.2 1298.1,542.6 1198.8,644.6 1240.6,526.4 1281.6,513.4 1212.7,655.0 1256.8,574.8 1279.9,575.4 1346.5,511.3 1240.5,585.9 1214.0,561.1 1305.7,477.2 1220.4,612.1 1315.8,513.4 1246.4,578.5 1196.2,615.4 1354.6,495.8 1258.4,615.9 1179.8,613.1 1216.3,610.9 1274.7,511.4 1282.4,536.4 1211.9,586.4 1259.7,583.4 1211.0,611.6 1281.4,505.0 1222.3,585.8 1279.5,557.0 1299.3,500.8 1224.2,625.3 1342.8,508.7 1249.4,567.1 1280.6,509.6 1232.4,578.4 1284.9,570.7 1271.5,533.2 1247.6,565.1 1305.3,539.1 1282.2,604.4 1164.0,652.4 1294.0,507.0 1255.9,560.2 1297.0,568.8 1281.2,580.9 1173.8,641.2 1223.4,589.7 1194.2,630.8 1282.6,548.2 1309.7,501.3 1273.6,565.9 1304.6,524.7 1233.6,619.8 1193.6,637.4 1253.4,586.0 1186.2,628.4 1230.8,583.3 1223.4,650.5 1199.1,591.5 1295.3,555.7 1255.0,562.4 1278.1,520.1 1306.8,482.3 1240.4,645.7 1299.4,497.8 1284.5,509.3 1234.1,561.4 1346.4,525.0 1263.3,581.1 1169.8,673.6 1208.0,638.6 1200.6,602.2 1266.2,577.9 1244.3,555.0 1272.1,540.0 1209.4,662.3 1224.2,633.8 1281.0,555.7 1288.8,532.6 1243.7,561.6 1228.1,609.0 1220.1,590.7 1303.7,557.6 1295.2,536.2 1216.8,594.2 1325.1,502.6 1197.4,665.0 1196.5,629.9 1230.3,553.2 1302.3,522.2 1259.2,587.2 1289.6,555.4 1304.1,468.0 1234.8,598.7 1202.2,603.1 1234.8,566.0 1237.4,566.6 1208.9,649.6 1181.8,633.2 1285.9,517.0 1332.2,473.0 1286.8,511.8 1241.8,602.8 1255.1,575.4 1318.7,514.0 1331.4,467.2 1231.8,616.6 1306.8,494.6 1284.7,567.2 1212.5,625.3 1238.4,601.7 1195.1,645.0 1248.2,578.1 1266.1,570.3 1278.8,552.0 1246.1,635.9 1270.5,528.1 1271.0,571.0 1258.0,576.4 1278.5,567.6 1245.7,559.1 1282.6,564.9 1245.5,571.8 1296.1,496.9 1180.4,617.5 1292.0,501.4 1289.4,518.7 1195.3,672.0 1281.1,511.3 1205.2,600.6 1257.2,550.0 1246.1,563.5 1297.7,522.8 1258.5,582.5 1269.7,529.5 1213.8,588.6 1198.5,664.2 1268.9,534.6 1319.9,493.1 1185.5,630.6 1294.7,521.2 1223.5,581.5 1262.4,539.2 1203.1,610.4 1294.7,562.6 1221.1,591.4 1309.0,510.3 1238.5,620.5 1240.0,572.7 1278.7,580.5 1176.3,640.8 1306.3,472.2 1259.0,581.2 1313.8,482.9 1196.0,629.3 1273.6,535.6 1228.2,637.7 1187.7,634.9 1261.8,562.0 1247.6,563.1 1249.8,578.8 1246.3,555.7 1194.4,635.5 1273.4,535.1 1193.4,609.3 1213.8,615.6 1295.8,501.6 1272.1,547.7 1274.6,537.6 1314.8,517.8 1293.0,510.2 1213.7,589.6 1311.9,510.0 1236.2,574.6 1262.9,553.2 1218.8,641.8 1230.2,592.4 1258.3,536.3 1191.9,657.0 1300.1,565.6 1223.0,604.4 1279.5,560.8 1260.8,519.1 1272.4,554.0 1204.3,630.9 1278.6,561.4 1224.6,601.3 1283.6,554.0 1300.3,543.4 1237.4,594.4 1291.5,551.2 1170.3,603.4 1313.4,563.0 1312.8,509.5 1321.9,513.4 1297.6,558.2 1213.2,579.3 1332.3,536.4 1247.5,545.4 1214.9,653.6 1268.9,554.6 1276.5,492.2 1299.6,574.4 1312.7,540.7 1166.1,642.0 1309.8,505.8 1336.4,505.8 1256.1,572.3 1323.6,518.1 1215.8,614.6 1211.2,586.0 1215.9,626.9 1276.5,544.7 1292.0,500.8 1301.1,471.0 1351.6,513.4 1349.0,521.0 1381.3,477.4 1405.1,447.8 1341.2,523.3 1375.9,490.6 1381.0,479.3 1357.5,506.8 1360.6,509.5 1331.1,442.7 1307.8,464.0 1310.7,454.5 1324.5,438.1 1157.8,591.1 1190.7,564.9 1196.0,559.8 1198.0,561.1 1181.4,583.3 1179.8,590.8 1254.9,511.0 1234.6,673.0 1341.9,547.5 1325.6,595.8 1364.7,549.7 1273.7,661.8"/>
<polyline class="p" marker-start="url(#b013)" marker-mid="url(#b013)" marker-end="url(#b013)" points="1273.7,573.2 1311.2,484.8 1242.0,541.1 1194.1,621.8 1230.0,561.1 1293.6,547.6 1292.3,504.4 1285.3,489.9 1356.9,493.0 1278.8,585.7 1267.6,575.9 1260.1,564.5 1311.4,496.5 1232.1,604.1 1189.7,648.6 1258.0,571.7 1289.6,530.5 1296.0,510.9 1331.3,472.7 1287.0,537.1 1296.7,518.2 1316.0,513.8 1287.9,514.9 1263.6,575.1 1322.2,454.5 1299.7,521.8 1187.9,642.2 1194.7,660.2 1337.2,486.9 1280.7,538.8 1200.4,634.3 1305.5,530.1 1209.1,653.8 1263.3,559.4 1231.5,595.3 1220.8,597.6 1216.8,584.7 1193.1,650.9 1265.4,610.2 1188.7,651.6 1302.4,564.3 1253.3,606.4 1314.3,478.7 1328.7,473.8 1329.4,503.3 1317.2,517.0 1292.4,531.7 1228.3,646.7 1319.8,486.1 1268.4,565.7 1257.2,523.6 1299.8,547.6 1215.1,592.7 1247.4,598.0 1182.3,602.8 1327.9,513.4 1248.6,561.1 1189.1,658.7 1349.2,485.2 1275.5,552.5 1282.6,528.8 1286.8,525.7 1262.8,523.8 1256.5,549.9 1254.3,639.2 1192.8,653.4 1305.2,564.8 1205.0,639.0 1235.4,579.0 1340.7,507.8 1349.2,522.3 1315.7,499.2 1204.1,637.7 1309.5,470.2 1198.1,629.2 1318.0,486.9 1277.5,502.6 1329.5,499.6 1329.1,487.6 1294.3,575.6 1222.7,602.6 1298.5,496.5 1222.6,574.9 1244.8,584.7 1275.0,567.1 1215.3,636.8 1259.7,601.9 1201.5,630.2 1249.1,544.8 1355.4,516.9 1348.5,519.9 1311.5,586.9 1296.5,516.4 1267.2,589.8 1321.5,476.5 1216.7,596.3 1211.4,617.7 1202.9,610.9 1233.8,595.1 1199.5,621.4 1279.3,498.4 1213.8,591.6 1302.4,534.4 1282.8,560.5 1306.5,519.2 1285.9,542.5 1308.7,508.8 1274.3,565.1 1255.0,555.5 1209.8,622.7 1260.3,556.8 1198.9,635.9 1327.8,473.3 1344.2,500.1 1170.1,629.3 1185.5,642.6 1250.5,565.7 1253.3,558.4 1241.7,559.9 1215.5,598.5 1283.9,532.8 1266.7,563.0 1249.5,619.5 1194.6,635.5 1286.5,543.7 1194.5,648.9 1283.4,478.8 1266.0,606.0 1229.1,600.0 1272.3,521.4 1314.0,480.2 1197.2,606.6 1267.5,589.3 1343.8,494.4 1295.8,509.5 1261.4,571.8 1232.2,554.7 1297.5,517.3 1213.0,614.8 1202.1,621.0 1274.8,555.9 1288.4,530.5 1251.9,592.1 1283.6,539.9 1329.8,498.2 1239.2,583.2 1239.3,625.2 1344.4,507.0 1221.1,598.7 1300.7,513.6 1294.8,550.4 1323.2,499.3 1310.3,534.8 1157.2,631.9 1311.9,545.8 1236.3,549.7 1203.1,651.6 1193.3,631.4 1212.3,631.4 1201.8,641.8 1211.0,598.2 1307.8,490.5 1338.9,482.8 1350.5,485.1 1264.2,525.6 1179.7,653.9 1201.7,639.8 1306.1,505.7 1262.0,561.3 1252.1,544.6 1321.0,520.3 1322.5,493.7 1293.9,546.7 1163.1,643.5 1252.5,528.8 1314.2,506.1 1295.1,511.9 1318.1,463.8 1271.7,559.9 1274.2,572.9 1206.8,600.3 1270.1,541.4 1280.1,547.9 1317.3,463.4 1345.7,461.7 1224.7,650.9 1194.5,631.8 1246.0,583.1 1282.1,493.0 1203.8,630.3 1307.3,519.6 1271.6,541.4 1313.5,498.3 1246.5,616.5 1252.3,571.4 1180.6,664.6 1255.5,535.4 1274.9,488.1 1276.9,574.4 1249.2,602.3 1349.0,485.0 1289.4,548.5 1230.5,616.7 1332.9,480.9 1275.5,520.5 1239.9,621.3 1210.2,661.3 1302.1,563.9 1250.8,548.2 1267.1,524.1 1217.8,652.5 1320.1,537.9 1314.9,493.9 1228.7,573.8 1211.4,595.6 1349.5,458.3 1315.2,485.3 1212.3,611.9 1272.8,564.9 1244.4,535.3 1220.0,611.3 1280.2,570.4 1297.8,543.5 1254.3,610.9 1233.8,595.1 1281.5,483.4 1296.7,555.4 1213.9,589.9 1192.7,589.7 1237.3,582.0 1324.4,521.0 1315.2,523.9 1218.7,621.2 1280.6,574.3 1212.7,651.2 1328.3,494.0 1337.2,481.8 1202.4,616.1 1245.1,612.7 1219.6,564.6 1185.9,623.5 1281.4,518.6 1249.3,594.2 1160.8,635.1 1222.2,617.4 1252.9,527.8 1280.7,514.8 1184.2,674.8 1259.1,578.0 1274.6,501.7 1262.2,537.8 1262.5,566.6 1309.9,503.3 1224.7,600.8 1284.8,556.6 1252.6,579.0 1216.6,646.0 1291.0,540.9 1248.7,566.7 1289.4,556.0 1238.8,571.4 1247.8,576.7 1261.4,544.7 1297.2,500.5 1205.7,562.3 1280.2,526.6 1191.2,626.3 1301.8,522.3 1199.6,620.2 1213.2,641.8 1185.2,657.2 1270.2,535.0 1223.3,608.8 1285.7,524.9 1241.4,637.8 1237.0,557.3 1349.3,478.0 1321.6,485.1 1182.1,655.2 1323.5,469.4 1275.0,558.0 1316.0,526.7 1325.1,539.0 1218.4,620.8 1233.1,626.4 1332.0,469.7 1247.6,543.4 1339.6,530.7 1332.0,515.7 1336.7,470.1 1258.1,536.5 1208.0,617.3 1314.5,495.1 1188.4,634.6 1216.2,601.0 1237.8,549.4 1221.9,593.6 1224.8,637.1 1363.6,504.6 1383.1,469.9 1352.9,514.9 1210.6,521.5 1237.0,491.4 1243.4,496.2 1309.9,588.4 1352.3,591.6 1221.2,542.3"/>
<polyline class="p" marker-start="url(#b015)" marker-mid="url(#b015)" marker-end="url(#b015)" points="1274.1,536.5 1199.9,647.3 1259.4,555.8 1284.4,552.2 1293.9,496.4 1181.0,633.6 1223.3,566.0 1301.6,574.1 1309.8,503.2 1274.9,559.5 1290.1,541.7 1260.2,627.2 1193.4,642.2 1273.4,557.3 1262.0,519.1 1275.7,558.7 1214.4,592.8 1193.8,614.0 1222.5,617.5 1229.9,583.1 1249.2,619.7 1224.6,666.1 1284.2,547.6 1199.9,637.5 1222.1,622.1 1219.8,596.1 1266.5,572.6 1204.5,635.6 1214.3,643.3 1161.5,645.1 1230.4,556.1 1301.9,514.9 1291.8,534.7 1275.3,507.6 1304.2,505.2 1212.9,639.3 1274.8,585.9 1243.9,601.7 1190.5,590.8 1294.8,543.7 1252.6,576.6 1275.2,556.3 1195.6,607.5 1304.9,523.1 1268.2,548.9 1288.4,562.4 1277.7,580.0 1314.2,525.2 1202.5,622.4 1208.0,644.7 1326.8,542.4 1271.9,542.1 1295.3,532.0 1220.4,620.5 1338.1,494.6 1253.8,633.3 1263.3,523.1 1288.0,548.5 1232.9,585.3 1207.8,591.6 1250.0,550.3 1204.1,626.6 1324.2,486.7 1254.9,527.0 1180.4,644.0 1272.1,565.7 1210.2,613.3 1282.9,532.1 1194.8,606.6 1254.4,538.9 1310.3,505.2 1262.9,541.6 1320.1,498.2 1236.8,619.0 1282.6,546.2 1236.5,581.0 1225.7,609.4 1215.3,632.5 1264.5,575.9 1270.2,523.0 1278.1,544.6 1283.8,553.7 1275.8,530.8 1311.3,543.4 1206.7,625.9 1192.8,645.9 1305.1,519.8 1325.3,523.1 1273.0,527.7 1299.6,591.1 1224.2,605.8 1253.2,559.0 1169.1,613.5 1246.2,608.3 1301.1,521.0 1175.8,612.2 1203.2,626.1 1261.4,520.5 1315.7,559.5 1221.4,668.0 1302.3,496.1 1230.6,581.5 1286.5,573.4 1280.6,531.0 1244.1,585.0 1285.4,533.3 1316.9,523.6 1233.7,609.7 1238.8,614.9 1309.8,509.7 1275.5,556.2 1214.1,577.0 1206.4,612.9 1245.4,625.3 1224.9,597.3 1294.5,491.5 1272.0,547.0 1250.1,551.2 1297.8,525.6 1254.3,556.3 1302.1,543.9 1183.0,635.7 1200.9,671.1 1261.5,499.4 1311.4,548.2 1240.2,645.2 1211.6,620.3 1284.3,529.1 1198.4,639.0 1217.1,639.8 1291.0,527.0 1191.2,637.6 1187.0,638.6 1253.7,523.8 1313.2,526.0 1294.9,526.3 1232.3,611.1 1271.5,585.7 1232.6,613.9 1261.3,538.9 1210.6,638.3 1244.7,569.6 1212.2,641.6 1205.8,618.3 1289.5,551.6 1285.5,560.6 1234.6,594.0 1220.4,611.9 1244.7,547.3 1344.7,513.0 1217.9,602.9 1291.4,541.9 1231.5,618.1 1293.1,555.6 1176.0,656.2 1259.8,563.3 1231.7,591.2 1257.1,555.7 1245.1,612.6 1256.4,601.1 1292.0,563.0 1298.6,558.5 1230.3,604.4 1183.8,647.0 1259.3,503.3 1180.5,631.2 1236.9,593.9 1264.3,526.3 1349.4,484.7 1276.0,540.8 1295.8,506.7 1279.8,577.4 1294.1,536.9 1275.8,565.2 1290.6,515.1 1243.8,590.0 1278.6,588.2 1272.3,528.7 1261.3,588.4 1282.0,583.2 1263.4,599.5 1195.3,658.1 1279.8,516.3 1196.3,622.4 1228.1,634.7 1199.2,635.1 1234.9,599.3 1244.1,626.5 1213.0,647.2 1244.4,608.2 1183.7,675.7 1251.7,601.6 1207.6,648.4 1208.8,647.7 1187.8,620.7 1300.4,530.8 1298.4,517.8 1307.1,494.6 1288.5,512.0 1244.7,567.9 1245.1,599.2 1270.3,584.5 1261.8,585.9 1306.5,526.9 1242.4,588.0 1307.8,515.5 1289.3,477.9 1309.8,513.6 1239.7,544.9 1278.7,520.0 1310.8,522.2 1224.4,586.5 1269.3,521.8 1193.5,633.7 1259.5,611.9 1248.0,516.6 1200.0,643.1 1302.4,526.9 1233.2,569.6 1201.8,639.4 1205.8,651.8 1233.6,581.1 1292.2,557.2 1276.7,529.7 1289.6,530.6 1200.3,607.1 1310.3,541.6 1196.8,608.0 1225.1,600.2 1249.1,529.5 1221.4,628.8 1204.9,583.1 1225.3,589.5 1289.5,513.8 1260.8,585.7 1184.8,639.6 1204.7,613.9 1274.7,572.5 1273.5,582.3 1311.2,529.3 1227.7,567.2 1286.1,534.1 1258.2,521.7 1239.9,583.4 1240.3,587.4 1233.9,592.0 1218.0,626.5 1168.3,641.3 1211.4,617.7 1226.7,641.7 1229.1,595.3 1203.4,650.1 1308.9,524.9 1232.9,572.2 1263.3,569.3 1273.6,536.1 1309.5,481.6 1223.4,623.1 1238.8,583.9 1289.3,527.0 1281.2,572.7 1288.0,591.1 1334.5,532.4 1321.1,482.7 1256.2,606.8 1318.1,518.0 1191.1,656.9 1239.8,600.2 1282.4,543.1 1284.3,560.3 1309.5,507.7 1256.0,592.4 1186.7,667.9 1200.2,659.0 1220.3,619.3 1251.6,568.5 1214.0,615.1 1233.7,621.0 1275.7,500.7 1291.5,562.0 1288.3,526.4 1237.3,630.7 1237.5,559.6 1240.5,553.7 1287.4,527.9 1202.6,631.2 1267.5,573.5 1276.7,516.0 1334.9,501.0 1215.1,591.8 1293.0,544.4 1243.1,559.7 1295.8,554.7 1209.4,636.0 1321.4,521.3 1191.9,664.1 1320.4,494.1 1257.0,575.8 1241.0,584.9 1182.9,623.1 1292.8,533.4 1218.2,663.6 1302.2,527.1 1277.2,546.2 1187.7,624.4 1278.5,520.2 1259.2,544.4 1242.1,594.3 1262.2,548.9 1304.8,591.0 1225.8,573.8 1256.3,560.9 1266.3,547.7 1312.1,518.1 1274.5,549.9 1212.9,639.0 1299.1,508.6 1321.8,531.5 1222.4,586.0 1297.6,510.9 1233.2,601.0 1194.2,642.2 1237.4,596.5 1319.5,528.3 1245.6,612.9 1305.6,530.3 1244.8,592.8 1252.8,606.7 1213.8,628.1 1307.1,495.0 1278.9,551.3 1266.0,543.6 1289.4,509.3 1254.1,554.9 1243.2,598.0 1292.3,541.5 1295.8,575.0 1301.8,508.1 1234.4,625.2 1287.3,501.9 1272.3,517.0 1296.2,536.0 1184.6,630.4 1297.3,561.8 1221.3,639.1 1292.7,540.1 1312.8,517.2 1327.0,513.5 1229.2,552.5 1255.0,566.2 1254.5,566.9 1299.3,505.5 1285.9,544.3 1225.1,622.1 1254.1,616.8 1214.4,643.8 1279.1,566.9 1300.7,562.6 1176.7,611.8 1272.1,544.7 1207.0,592.3 1217.9,601.5 1257.7,589.2 1237.2,596.1 1228.5,619.5 1295.1,526.7 1231.5,618.5 1181.2,625.4 1303.3,498.7 1249.7,582.4 1240.3,572.8 1264.8,539.7 1214.2,622.1 1303.5,550.6 1204.6,620.1 1293.7,502.4 1249.1,629.7 1272.9,538.6 1286.2,535.9 1332.8,482.3 1230.2,589.6 1193.5,652.2 1282.7,542.1 1252.6,542.2 1296.3,534.5 1206.9,638.4 1202.9,632.8 1268.6,552.7 1275.7,521.4 1307.4,523.1 1234.6,629.6 1184.9,619.8 1268.3,560.4 1307.5,533.8 1274.8,568.8 1253.2,593.0 1232.9,614.5 1304.8,556.2 1286.5,506.8 1198.3,628.6 1259.5,543.5 1292.8,539.2 1326.0,483.5 1226.1,598.1 1231.2,570.7 1171.1,648.6 1206.8,619.6 1278.8,563.1 1230.3,632.7 1312.1,549.3 1234.9,612.8 1299.8,536.2 1232.1,631.5 1257.0,528.8 1231.0,594.2 1214.8,671.3 1209.0,654.2 1223.7,643.7 1198.4,632.2 1299.5,495.4 1312.7,533.0 1271.7,522.9 1282.5,512.8 1270.1,521.4 1299.2,515.1 1259.4,550.3 1205.2,630.6 1217.3,626.3 1258.4,599.5 1193.2,635.9 1304.7,526.7 1226.5,608.1 1265.0,567.0 1199.8,663.3 1307.8,526.7 1269.9,527.4 1303.4,547.7 1192.9,641.3 1196.8,656.9 1283.5,525.1 1273.3,528.9 1245.0,557.6 1212.0,625.7 1293.2,531.3 1294.5,570.6 1180.2,658.6 1217.2,609.6 1253.0,539.9 1272.7,585.9 1225.8,628.6 1243.9,611.9 1221.0,589.6 1300.7,585.9 1219.3,642.1 1275.7,497.4 1286.9,520.4 1265.3,595.8 1315.1,506.4 1265.1,540.5 1242.9,573.4 1268.3,564.1 1273.0,573.2 1302.8,497.8 1290.2,533.6 1193.6,623.2 1306.7,526.4 1264.2,526.4 1272.7,566.0 1242.8,576.6 1320.5,514.8 1171.6,674.9 1197.9,645.3 1236.4,611.7 1305.5,509.8 1255.4,539.9 1230.9,553.8 1221.6,575.3 1196.5,644.8 1198.0,628.2 1267.1,591.9 1221.0,574.8 1322.3,511.9 1291.6,502.4 1255.5,584.9 1218.7,622.3 1279.1,570.7 1234.2,603.5 1312.0,507.9 1245.5,641.4 1296.1,557.0 1232.5,617.9 1259.9,573.4 1205.8,624.2 1300.1,542.9 1213.6,659.5 1228.7,581.2 1282.4,555.7 1243.9,569.9 1303.8,540.5 1251.7,570.6 1255.9,570.3 1247.3,571.0 1250.9,581.4 1208.6,648.2 1178.9,664.8 1174.8,633.7 1200.4,635.1 1269.9,538.5 1229.1,600.3 1212.0,594.1 1238.6,580.6 1301.2,494.3 1235.4,587.0 1206.9,567.8 1222.0,576.5 1219.1,607.1 1302.2,517.7 1340.0,532.3 1244.3,607.6 1293.8,540.9 1208.7,645.1 1244.1,582.8 1179.0,641.5 1282.2,503.1 1233.5,589.2 1261.4,574.6 1296.7,525.7 1301.3,532.4 1190.4,618.4 1232.5,586.4 1241.2,538.8 1262.0,574.9 1301.8,483.3 1205.2,645.0 1299.5,531.1 1278.7,572.9 1275.8,536.5 1280.9,545.4 1218.0,600.1 1213.3,583.5 1210.1,626.2 1270.9,545.7 1232.0,577.0 1202.9,634.6 1287.0,550.7 1203.2,623.7 1308.6,499.4 1231.7,580.4 1255.6,551.8 1299.9,539.0 1263.2,552.9 1298.6,492.5 1277.8,559.2 1295.9,517.6 1245.3,600.1 1185.2,649.0 1193.6,639.3 1251.9,601.4 1305.6,506.9 1243.8,580.8 1229.5,574.4 1205.2,665.0 1243.0,610.4 1200.7,637.5 1264.8,601.5 1226.9,576.8 1329.6,539.4 1235.7,616.4 1317.8,538.9 1241.7,568.4 1257.7,539.8 1229.8,578.8 1244.3,637.0 1254.5,566.4 1211.2,636.2 1279.7,558.9 1246.0,571.3 1251.7,597.7 1199.4,593.3 1205.5,614.9 1258.1,540.0 1294.5,489.8 1192.4,622.5 1289.4,535.1 1214.6,570.0 1260.1,594.1 1193.8,631.8 1171.4,668.9 1200.3,647.0 1211.7,606.7 1253.8,612.4 1243.2,565.0 1285.0,519.3 1225.4,604.8 1281.3,524.7 1222.4,637.0 1265.6,607.0 1298.1,530.1 1202.8,570.2 1266.3,566.2 1236.5,568.5 1241.7,567.2 1290.4,530.0 1228.1,587.7 1205.6,634.7 1223.9,630.8 1250.2,604.3 1249.4,599.6 1191.9,609.5 1194.0,628.5 1282.2,546.2 1260.6,566.6 1210.9,638.1 1298.1,525.0 1199.1,638.3 1294.3,512.0 1278.8,523.2 1222.2,652.2 1306.6,508.5 1283.9,505.7 1282.4,548.4 1249.3,575.7 1195.8,626.1 1210.3,635.3 1266.8,547.3 1253.1,549.4 1308.5,502.4 1202.6,586.4 1224.6,597.4 1237.1,620.3 1221.3,631.7 1278.0,553.6 1302.0,524.9 1272.0,538.2 1199.2,628.2 1215.3,575.5 1264.1,542.5 1251.3,540.1 1304.2,536.4 1209.0,636.7 1225.2,590.1 1234.9,564.4 1219.9,607.2 1247.9,597.1 1238.8,548.8 1190.4,618.4 1202.5,672.4 1281.1,558.9 1254.0,573.8 1302.7,501.6 1255.1,574.9 1311.7,513.6 1268.4,527.6 1186.7,643.6 1230.9,575.6 1186.7,630.2 1262.0,520.2 1283.1,553.8 1315.9,477.6 1262.9,559.1 1241.1,620.4 1314.9,514.6 1229.0,611.3 1275.8,537.5 1230.0,629.7 1252.7,557.6 1205.7,631.2 1321.1,524.1 1237.0,572.7 1320.7,535.8 1260.9,596.4 1232.9,579.3 1231.7,577.1 1218.3,588.5 1298.8,497.8 1270.5,568.3 1246.5,532.5 1231.2,601.8 1191.8,639.6 1315.2,564.2 1229.3,586.4 1287.7,551.2 1181.4,646.0 1254.1,617.0 1270.6,526.0 1285.3,501.7 1190.3,599.4 1304.7,501.4 1256.6,562.5 1224.3,626.3 1291.6,495.2 1283.1,561.7 1273.3,546.8 1224.6,609.6 1201.3,625.0 1255.9,581.7 1258.7,546.1 1213.3,595.9 1337.5,512.7 1270.0,527.4 1192.4,663.1 1217.1,622.9 1295.7,497.8 1276.9,545.1 1305.2,500.8 1190.2,626.9 1297.5,509.0 1278.4,559.4 1239.7,614.0 1272.9,534.9 1201.0,615.3 1293.6,519.4 1189.0,652.7 1196.7,617.6 1288.1,535.3 1255.4,606.4 1305.7,507.4 1273.1,539.1 1265.1,541.4 1228.7,625.0 1246.3,601.2 1230.7,591.8 1226.8,615.8 1212.4,597.4 1278.5,535.6 1249.3,533.0 1201.0,626.7 1205.7,585.6 1185.2,625.3 1198.3,636.5 1252.5,577.1 1269.9,522.2 1268.7,569.2 1226.5,616.2 1269.5,549.1 1191.3,679.8 1162.6,671.0 1254.8,579.7 1255.5,571.8 1196.7,633.9 1295.6,530.1 1176.1,634.9 1219.7,599.7 1269.9,559.2 1164.0,673.6 1175.6,636.2 1252.4,554.7 1246.3,515.7 1275.6,551.2 1269.7,551.1 1153.6,636.8 1194.1,641.9 1267.2,515.2 1205.0,607.2 1232.9,607.2 1290.5,565.6 1182.9,637.7 1321.9,512.3 1272.1,569.4 1258.6,610.3 1193.9,611.3 1241.1,584.5 1265.6,558.4 1211.1,611.4 1202.9,624.6 1247.8,576.9 1272.0,538.6 1227.9,608.9 1271.7,616.5 1298.1,503.2 1241.5,575.8 1272.9,550.0 1254.1,532.3 1274.7,583.5 1215.3,579.2 1260.5,554.4 1314.8,582.2 1213.3,628.9 1200.3,618.1 1216.5,645.3 1298.7,507.2 1195.2,586.4 1238.6,590.6 1302.1,509.0 1203.3,653.9 1201.9,628.5 1298.2,529.9 1258.1,592.3 1253.9,605.8 1278.9,495.4 1203.1,628.2 1311.0,517.5 1234.7,553.7 1232.6,612.0 1279.3,538.3 1209.9,600.3 1239.5,597.4 1202.4,660.6 1248.6,602.7 1178.9,657.8 1256.1,589.1 1263.7,623.2 1327.9,493.6 1212.8,595.9 1243.6,567.0 1218.0,632.9 1306.0,514.6 1254.7,551.9 1295.6,527.8 1333.0,524.0 1290.5,551.2 1298.2,503.7 1241.1,584.2 1224.5,584.4 1314.4,543.2 1179.0,678.6 1273.0,583.7 1306.9,532.5 1255.6,580.0 1200.3,620.5 1297.6,497.3 1196.0,614.1 1251.3,587.8 1292.6,528.6 1291.3,517.0 1238.5,610.8 1237.9,598.0 1276.0,537.0 1250.7,598.2 1196.0,626.9 1200.1,570.4 1279.4,571.2 1287.0,591.8 1221.1,607.9 1235.1,620.1 1275.9,543.1 1221.6,620.7 1213.4,611.3 1215.2,588.5 1192.4,622.4 1232.5,626.4 1239.7,651.0 1298.6,575.9 1203.7,627.8 1303.7,532.8 1231.7,613.1 1321.9,535.1 1227.8,644.1 1323.6,536.5 1188.8,632.0 1331.7,533.8 1314.5,487.1 1273.9,573.1 1279.6,538.2 1289.4,514.2 1225.3,545.8 1302.0,538.5 1230.6,624.8 1285.3,549.1 1217.8,634.7 1237.1,576.8 1233.6,600.3 1213.9,619.9 1200.0,625.6 1315.4,515.9 1274.1,597.4 1222.2,605.0 1203.3,651.7 1239.4,608.5 1209.9,602.3 1212.1,638.2 1220.2,661.4 1220.5,646.7 1247.7,556.6 1316.5,525.3 1195.3,576.0 1205.9,595.4 1287.2,541.8 1191.9,632.1 1227.7,625.5 1258.5,579.7 1239.5,608.8 1179.5,645.2 1236.5,626.9 1308.3,516.1 1182.4,655.4 1278.4,534.0 1289.1,587.8 1323.8,539.8 1259.3,590.8 1261.9,571.5 1293.2,526.6 1201.7,629.9 1260.1,551.5 1242.6,573.2 1259.7,580.7 1198.9,618.4 1200.1,669.5 1187.0,669.0 1202.7,641.8 1193.1,659.4 1189.6,663.0 1216.3,652.9 1208.2,661.1 1206.6,655.2 1202.3,658.3 1182.0,671.0 1185.4,648.8 1176.6,670.6 1212.2,654.5 1210.2,693.9 1185.6,676.4 1197.7,686.6 1195.5,637.8 1184.9,688.7 1200.0,669.1 1198.6,659.6 1204.1,663.1 1193.9,649.7 1190.0,656.1 1184.2,651.7 1181.1,660.4 1193.7,648.8 1208.2,683.4 1197.3,668.8 1187.8,690.7 1205.9,659.2 1197.0,661.6 1192.3,663.0 1195.7,658.7 1203.8,640.5 1168.3,687.3 1197.6,643.7 1204.2,680.3 1202.3,677.7 1202.5,657.6 1201.7,650.8 1197.5,692.7 1225.3,667.8 1186.0,665.2 1215.2,651.5 1193.1,661.2 1184.1,674.7 1207.1,669.2 1207.3,640.9 1195.0,675.9 1196.9,653.9 1187.8,702.1 1178.8,680.5 1185.5,681.3 1198.0,672.0 1179.1,677.0 1199.3,659.1 1394.3,465.4 1377.1,487.8 1380.8,477.6 1359.7,505.9 1406.7,455.3 1371.3,488.4 1390.9,472.7 1390.3,473.1 1392.1,471.9 1305.1,459.3 1303.8,461.1 1321.6,453.0 1304.0,464.9 1183.1,429.8 1176.0,526.7 1188.0,698.9 1197.9,696.7 1204.1,689.7 1216.8,692.7 1282.2,621.9 1326.7,561.5 1411.0,489.6 1428.8,485.9 1398.0,530.1 1239.4,519.5 1196.1,579.9 1209.1,563.3 1361.7,415.7"/>
<polyline class="p" marker-start="url(#b017)" marker-mid="url(#b017)" marker-end="url(#b017)" points="1375.4,444.4 1386.6,425.8 1354.1,451.8 1375.8,423.8 1353.6,447.3 1373.7,420.6 1374.2,429.6 1358.1,455.3 1378.8,441.9 1355.9,451.0 1360.0,460.3 1397.2,421.4 1337.2,473.5 1381.1,427.7 1380.4,420.9 1365.6,456.4 1385.5,411.3 1386.6,419.8 1350.4,467.4 1385.6,434.1 1386.2,437.2 1366.4,463.2 1375.3,420.3 1393.0,433.5 1356.4,451.0 1338.5,481.9 1382.5,435.5 1361.7,458.0 1342.5,475.5 1360.9,442.6 1327.4,485.0 1366.4,447.1 1406.0,418.0 1370.8,419.9 1361.3,464.8 1373.2,457.8 1350.5,452.0 1391.4,436.2 1368.4,436.1 1353.8,450.5 1348.0,465.2 1359.8,443.2 1400.0,425.2 1357.2,472.0 1380.8,433.0 1378.4,433.4 1337.5,481.2 1389.5,415.2 1375.5,445.4 1401.1,402.7 1369.2,446.6 1365.5,438.6 1343.8,448.3 1347.6,467.6 1383.5,420.7 1372.6,450.6 1360.6,443.0 1367.6,441.7 1383.2,425.0 1384.4,415.7 1378.3,446.9 1366.0,440.8 1371.9,435.4 1401.0,388.8 1344.9,493.1 1352.3,464.3 1369.5,417.6 1377.2,439.6 1396.6,417.8 1386.5,403.0 1357.6,455.8 1387.1,431.9 1371.3,448.5 1391.8,422.8 1380.1,441.4 1392.4,426.9 1358.4,454.2 1375.2,436.6 1360.9,447.8 1367.7,445.3 1370.7,456.6 1350.3,456.8 1391.1,416.0 1380.8,437.6 1393.4,419.5 1353.1,458.5 1337.3,479.5 1365.1,482.8 1343.9,473.1 1365.0,465.9 1363.2,468.9 1372.4,445.9 1368.0,457.3 1339.4,466.2 1329.3,477.7 1344.0,478.2 1352.0,474.9 1336.5,450.8 1328.4,458.6 1365.4,441.8 1367.4,448.8 1341.7,458.2 1335.2,458.0 1353.7,470.8 1338.9,447.7 1354.0,464.2 1322.1,479.1 1350.9,473.9 1326.2,492.1 1357.0,465.9 1362.4,451.4 1330.5,470.8 1362.2,467.6 1346.7,474.9 1339.2,469.0 1384.2,435.0 1350.3,430.6 1371.0,467.4 1363.9,461.6 1343.0,457.2 1347.3,441.3 1336.4,472.4 1362.8,475.9 1350.1,471.8 1332.7,484.7 1372.6,430.4 1357.1,440.9 1333.5,465.5 1321.3,473.4 1350.1,482.5 1333.8,467.4 1357.7,487.4 1330.7,485.6 1349.5,485.2 1367.5,477.0 1351.9,448.0 1412.1,377.7 1441.8,363.8 1425.5,371.5 1449.0,342.8 1446.5,353.1 1437.7,361.7 1427.6,370.9 1412.4,365.7 1429.3,370.9 1441.1,350.3 1434.9,371.7 1438.7,368.6 1430.1,373.8 1428.0,373.2 1413.5,383.6 1385.7,407.3 1435.9,352.5 1441.9,359.9 1468.2,328.0 1406.3,398.4 1447.2,345.9 1437.6,369.0 1441.9,371.1 1453.5,346.6 1450.9,353.6 1435.2,376.7 1409.5,397.0 1407.5,402.2 1437.4,371.7 1470.0,345.3 1450.2,354.7 1423.5,365.9 1434.2,361.6 1440.6,352.6 1465.8,334.0 1411.7,385.9 1448.4,359.8 1438.6,369.0 1413.9,388.3 1416.5,403.2 1456.4,343.9 1436.6,364.3 1420.2,370.3 1436.0,374.2 1449.2,348.8 1435.7,374.1 1465.6,338.9 1436.9,391.6 1423.0,399.9 1424.3,370.5 1410.3,392.4 1423.6,380.5 1445.9,333.8 1463.3,331.6 1448.9,364.5 1436.0,369.7 1413.2,394.4 1404.6,388.9 1442.2,368.9 1432.9,367.5 1415.6,382.1 1425.5,387.2 1462.1,337.1 1459.2,359.8 1431.9,371.6 1444.7,378.1 1458.4,345.7 1431.5,357.0 1434.4,365.9 1399.4,409.1 1396.1,410.6 1383.7,422.4 1426.7,368.8 1439.6,367.7 1415.5,395.2 1444.3,367.9 1440.8,363.9 1432.4,378.3 1397.6,402.5 1457.6,337.1 1459.3,342.2 1424.0,391.5 1434.5,374.9 1413.0,388.4 1420.3,379.6 1398.4,409.3 1462.3,356.7 1439.4,367.9 1405.2,407.3 1440.4,357.3 1411.6,429.8 1436.6,372.3 1437.0,357.9 1431.7,370.7 1411.9,402.9 1427.1,373.7 1426.4,376.2 1436.0,376.0 1458.3,335.9 1462.5,331.2 1463.5,337.5 1410.8,379.1 1425.5,401.2 1428.5,369.2 1440.7,364.2 1397.3,429.2 1423.6,392.8 1462.5,326.7 1410.6,406.9 1417.7,391.8 1419.6,392.5 1444.2,365.7 1422.1,365.9 1415.7,370.6 1395.2,402.0 1441.4,356.9 1428.2,369.8 1419.1,390.2 1435.6,377.3 1451.7,360.6 1389.8,394.0 1401.3,410.6 1413.5,400.1 1416.1,396.4 1423.4,392.2 1453.4,347.6 1423.8,380.2 1446.2,343.8 1427.6,374.6 1461.8,344.6 1466.2,341.1 1414.5,377.4 1412.0,389.5 1440.4,366.3 1404.6,399.1 1423.8,381.8 1388.5,401.6 1434.7,373.7 1427.2,368.7 1464.7,336.8 1438.2,365.0 1419.0,389.9 1431.7,378.3 1404.2,402.0 1427.8,368.0 1429.2,381.1 1441.1,365.4 1446.9,348.4 1393.8,422.9 1434.2,361.8 1443.1,353.1 1416.2,411.5 1472.0,332.6 1425.2,399.8 1477.4,312.8 1443.1,351.0 1455.4,356.5 1439.3,370.3 1451.8,350.4 1411.7,398.9 1409.0,385.3 1387.6,414.1 1439.6,358.1 1412.4,384.7 1442.5,351.7 1443.4,359.9 1405.8,406.2 1448.2,360.6 1433.0,363.6 1431.6,364.6 1436.3,358.1 1431.9,375.4 1432.9,374.8 1451.3,347.8 1406.0,390.5 1403.9,397.7 1414.8,389.8 1455.3,353.3 1422.8,378.7 1467.5,326.7 1409.6,381.7 1425.8,387.8 1432.8,362.8 1458.9,343.4 1426.7,376.9 1413.7,400.4 1450.2,356.6 1459.5,334.4 1380.3,433.1 1445.4,363.0 1433.5,362.4 1411.4,389.3 1420.1,382.7 1436.0,365.6 1424.7,364.8 1426.7,379.8 1406.0,398.4 1435.1,364.8 1428.8,401.4 1440.6,380.2 1418.7,386.3 1431.6,364.8 1445.3,355.2 1440.0,372.7 1446.9,361.2 1399.8,401.6 1441.6,364.0 1443.3,374.0 1415.7,384.7 1425.7,374.9 1428.5,366.8 1417.4,376.7 1380.8,420.4 1441.9,362.5 1426.6,397.8 1435.4,365.6 1426.8,379.6 1435.5,356.2 1427.6,365.6 1423.3,377.8 1429.9,349.4 1448.1,354.6 1385.5,425.8 1434.9,376.7 1420.2,388.6 1407.8,398.0 1448.7,333.6 1453.3,354.7 1406.9,393.6 1399.1,388.4 1452.8,360.8 1419.4,389.1 1424.3,380.9 1387.2,414.3 1420.3,367.5 1448.9,341.6 1421.8,384.2 1432.0,380.1 1466.3,333.5 1448.8,353.4 1458.6,339.6 1447.2,363.0 1442.8,331.8 1400.3,415.1 1411.7,389.2 1396.8,410.6 1480.1,327.4 1434.3,369.0 1428.3,376.3 1416.5,391.7 1407.3,393.1 1424.7,370.2 1435.9,376.3 1424.7,369.1 1437.5,363.7 1429.0,375.0 1447.3,363.8 1425.5,406.0 1444.9,374.6 1438.6,341.2 1435.8,353.2 1443.0,369.7 1421.3,367.3 1418.5,404.8 1439.2,357.6 1420.2,379.3 1415.4,399.2 1448.2,358.0 1402.8,415.3 1419.5,386.2 1441.2,349.6 1441.9,342.6 1421.7,380.2 1427.7,366.9 1456.2,377.5 1421.4,365.8 1415.6,391.5 1450.3,375.7 1435.8,371.5 1438.3,377.1 1453.0,347.5 1435.8,365.1 1431.1,394.9 1429.1,364.0 1463.0,320.9 1420.7,394.8 1419.7,372.8 1404.6,380.3 1434.0,360.7 1392.3,387.5 1445.5,369.7 1443.3,352.7 1423.5,400.7 1404.3,382.1 1404.9,412.3 1441.7,383.9 1403.9,394.1 1415.8,385.1 1422.4,383.1 1416.5,388.8 1445.2,351.5 1456.1,328.8 1393.9,429.1 1416.9,394.8 1438.3,370.5 1410.1,398.1 1420.1,385.8 1440.4,374.7 1457.7,340.1 1459.7,352.4 1427.6,383.1 1434.6,371.7 1425.6,384.1 1415.4,363.8 1400.7,392.9 1391.0,409.2 1417.2,374.6 1451.8,352.4 1440.6,349.4 1393.7,416.7 1426.2,376.9 1417.2,386.7 1442.2,373.1 1411.4,401.6 1450.0,353.3 1425.4,376.6 1443.1,360.8 1452.1,357.3 1396.6,423.5 1426.6,378.5 1466.2,344.2 1436.2,378.5 1452.8,350.5 1438.8,363.0 1424.4,388.8 1443.9,375.3 1451.0,348.0 1453.6,340.0 1461.8,342.1 1410.3,400.7 1457.1,365.2 1396.0,396.7 1432.9,381.6 1423.9,374.9 1446.0,361.8 1437.9,366.9 1456.9,345.7 1426.0,395.9 1445.3,371.8 1430.2,372.4 1413.5,408.6 1443.5,361.5 1431.8,359.8 1454.5,364.0 1430.8,375.0 1423.9,377.1 1438.4,364.0 1438.7,361.0 1447.9,361.2 1475.8,337.6 1424.0,393.8 1473.0,329.3 1450.0,351.1 1408.1,384.8 1470.5,326.5 1412.4,392.9 1451.5,348.2 1425.3,412.3 1406.0,396.8 1451.7,360.2 1450.0,355.3 1407.5,378.6 1484.4,324.0 1424.1,380.3 1461.2,336.2 1410.2,396.1 1411.7,395.5 1435.1,374.0 1402.6,387.4 1448.4,372.3 1392.1,427.5 1428.6,362.5 1417.5,383.8 1414.9,399.0 1439.0,372.8 1427.6,379.7 1411.3,371.5 1445.3,352.6 1441.2,371.5 1437.7,363.6 1460.3,345.9 1423.5,368.1 1446.7,352.9 1412.4,371.3 1442.6,358.8 1433.3,351.9 1416.8,382.1 1399.5,406.9 1409.6,407.5 1413.9,397.0 1440.6,358.9 1430.4,378.8 1415.0,368.7 1440.7,362.6 1448.8,360.3 1455.0,336.9 1423.4,392.0 1440.4,359.0 1445.6,357.7 1414.9,398.6 1427.9,364.1 1412.3,394.0 1422.1,373.5 1440.9,365.4 1402.8,419.0 1423.7,405.0 1417.0,394.3 1434.4,373.0 1415.9,389.8 1436.5,362.5 1419.0,398.8 1419.8,384.2 1448.1,365.3 1440.2,369.3 1425.1,368.4 1454.1,353.9 1451.3,333.7 1417.9,375.3 1412.9,385.9 1404.3,390.4 1466.8,334.9 1413.7,394.5 1408.1,407.7 1431.7,361.9 1457.2,355.2 1408.4,404.0 1426.7,374.1 1404.4,408.6 1415.7,387.7 1456.2,327.7 1438.4,374.2 1414.4,366.3 1435.3,375.0 1440.5,371.3 1428.1,374.7 1403.1,395.8 1410.4,403.8 1474.2,330.9 1417.6,392.9 1458.0,349.4 1416.0,389.0 1460.0,347.0 1446.0,358.7 1425.4,376.6 1473.0,329.4 1407.7,389.4 1431.9,385.1 1417.1,396.6 1417.7,374.7 1411.7,395.0 1421.2,377.0 1461.3,335.7 1398.4,415.5 1403.2,399.0 1410.8,393.8 1411.3,372.1 1458.8,358.9 1442.2,353.2 1440.0,361.7 1440.8,375.2 1480.7,320.7 1410.2,401.1 1413.5,405.9 1435.3,379.3 1432.0,365.1 1432.5,385.9 1415.8,394.4 1414.6,414.3 1427.9,382.4 1415.3,387.8 1421.7,384.6 1409.3,397.9 1462.4,348.0 1437.8,360.4 1471.8,335.3 1417.1,381.0 1431.4,371.1 1429.3,382.7 1425.5,366.0 1427.6,381.1 1423.6,372.4 1391.3,418.0 1425.7,379.6 1440.8,352.9 1390.4,415.9 1424.2,381.4 1443.5,361.4 1455.5,343.5 1429.1,374.9 1441.5,364.5 1470.4,338.2 1422.5,384.2 1420.0,388.3 1446.5,344.5 1433.7,366.2 1415.6,380.5 1419.4,370.6 1437.9,366.7 1430.5,381.9 1422.7,375.4 1428.8,381.6 1402.3,408.7 1459.9,327.1 1451.0,340.4 1456.9,333.7 1433.9,382.7 1433.5,370.4 1438.0,355.0 1452.7,360.6 1393.8,414.2 1434.9,361.5 1420.5,406.9 1423.2,367.6 1420.8,391.8 1465.7,335.1 1435.0,353.3 1437.8,382.4 1457.0,339.4 1431.5,377.1 1416.3,389.5 1430.7,381.4 1418.2,375.4 1436.6,377.5 1446.4,352.5 1426.5,373.6 1430.5,375.7 1453.5,352.8 1439.0,369.3 1445.9,347.0 1431.9,368.2 1405.4,403.5 1417.6,409.1 1397.3,410.5 1451.6,344.9 1439.5,364.1 1415.8,377.5 1419.1,404.9 1428.1,353.5 1429.2,377.3 1446.8,376.7 1428.5,408.8 1405.4,394.6 1460.1,334.9 1413.0,396.1 1430.8,374.1 1457.1,342.1 1396.3,417.2 1435.6,346.6 1429.9,368.9 1428.7,377.2 1449.8,382.5 1401.9,394.0 1388.7,426.3 1436.3,367.8 1514.8,269.9 1451.0,350.1 1530.6,259.8 1497.2,294.2 1491.7,323.1 1501.4,298.7 1473.9,330.4 1480.5,302.1 1536.0,249.3 1465.6,319.3 1510.9,276.9 1462.8,338.3 1481.9,300.5 1518.1,275.1 1458.4,354.0 1496.4,292.9 1420.4,374.9 1454.3,345.5 1474.9,319.6 1511.8,273.4 1504.8,276.7 1459.4,335.5 1478.4,304.1 1493.1,299.4 1434.3,351.0 1506.3,298.4 1523.0,254.4 1524.8,263.8 1470.7,326.5 1486.1,331.7 1456.8,334.1 1474.8,324.6 1488.6,323.8 1511.2,286.4 1492.7,305.9 1460.8,338.0 1516.2,282.7 1518.0,280.6 1467.2,323.8 1481.7,315.7 1478.2,301.9 1441.5,364.6 1489.9,299.1 1502.7,277.2 1547.5,241.9 1490.7,296.1 1479.1,315.3 1484.2,311.7 1501.3,279.8 1519.0,287.3 1465.6,338.7 1501.2,308.0 1508.6,285.2 1425.4,370.8 1530.3,261.3 1479.3,310.6 1517.3,280.2 1478.5,298.2 1482.0,315.7 1488.4,311.5 1491.3,290.1 1514.7,277.4 1478.9,313.3 1455.1,344.3 1465.5,327.5 1458.7,338.6 1515.6,285.7 1459.4,338.1 1532.8,253.6 1491.3,300.6 1487.2,310.7 1522.3,256.1 1480.8,322.3 1479.1,315.4 1511.5,279.4 1514.7,285.8 1463.9,345.7 1560.6,221.6 1501.0,281.6 1451.3,348.6 1490.0,319.5 1517.6,276.2 1494.7,298.1 1512.5,275.1 1553.9,219.8 1515.4,273.2 1543.8,232.6 1503.7,276.8 1478.4,339.1 1531.4,251.8 1470.2,332.0 1516.2,272.0 1507.2,282.2 1468.2,339.4 1472.0,334.0 1482.6,310.2 1502.1,293.2 1527.1,258.3 1493.4,305.0 1516.7,277.1 1463.0,318.4 1474.5,329.9 1490.4,300.2 1470.3,318.3 1497.2,319.6 1516.5,282.8 1494.7,292.8 1511.7,263.5 1459.3,316.5 1462.6,332.1 1444.8,348.1 1446.1,375.4 1478.8,322.1 1487.0,296.5 1486.7,314.2 1491.6,305.8 1555.7,240.6 1458.9,342.7 1488.7,320.9 1474.8,319.9 1452.4,322.7 1530.0,257.9 1488.3,304.2 1529.2,263.6 1455.2,340.6 1549.5,244.4 1560.2,230.2 1456.8,324.9 1495.5,310.6 1491.1,313.7 1512.4,291.2 1447.7,343.4 1505.7,289.6 1521.0,289.5 1477.9,330.3 1419.6,376.6 1468.3,324.7 1476.3,314.5 1514.0,278.8 1469.3,321.6 1451.9,337.8 1507.1,280.9 1507.9,298.5 1519.5,287.1 1498.0,309.2 1521.7,267.6 1516.8,298.9 1442.3,369.7 1497.0,297.5 1517.1,281.5 1497.2,308.7 1531.9,251.7 1475.9,317.7 1509.3,277.6 1451.3,342.1 1485.8,298.1 1475.1,323.2 1462.3,339.2 1459.2,356.3 1498.9,297.8 1506.2,292.3 1464.5,316.8 1452.1,343.5 1459.7,327.8 1510.3,274.4 1451.2,340.1 1523.6,263.9 1441.3,360.4 1501.1,296.5 1511.3,281.8 1533.5,269.5 1477.2,317.2 1469.3,331.0 1456.9,361.5 1527.2,283.5 1490.4,311.9 1479.6,322.0 1480.2,319.9 1494.3,290.3 1497.2,308.7 1530.4,268.7 1426.2,375.7 1513.3,271.9 1469.5,315.2 1493.1,311.3 1483.2,316.1 1490.7,309.0 1509.0,272.8 1495.6,293.8 1448.7,353.1 1486.9,303.4 1490.1,309.1 1503.4,292.4 1493.0,303.0 1491.2,309.1 1522.9,270.3 1458.0,339.6 1555.9,229.5 1469.4,316.9 1457.7,335.6 1515.3,277.8 1530.5,275.5 1533.4,266.7 1538.0,257.9 1507.3,289.4 1498.7,307.6 1504.4,292.8 1491.3,303.7 1478.1,325.2 1539.9,250.0 1546.1,242.6 1494.8,306.8 1488.4,315.6 1477.8,321.3 1441.0,360.0 1475.8,331.5 1484.4,330.3 1495.0,308.8 1460.4,335.8 1441.6,375.5 1508.3,278.2 1544.7,247.3 1428.3,375.7 1490.9,312.0 1513.8,270.6 1457.2,343.2 1448.0,351.1 1500.4,311.2 1482.5,308.7 1479.5,332.8 1541.8,249.1 1533.8,249.7 1512.3,282.3 1488.4,303.9 1482.0,314.1 1518.3,273.3 1488.4,315.1 1533.7,249.8 1526.1,257.4 1476.5,326.4 1518.1,281.0 1538.5,249.5 1514.6,284.0 1464.1,334.8 1481.7,308.9 1480.2,311.9 1490.9,292.8 1492.1,300.1 1490.4,324.1 1521.2,277.0 1531.6,255.2 1469.2,313.8 1450.6,354.4 1510.8,297.7 1488.2,296.5 1506.2,288.8 1468.0,320.0 1498.2,288.2 1470.1,337.6 1526.9,266.6 1544.9,246.9 1464.0,331.6 1414.1,387.6 1481.0,320.9 1476.0,317.6 1506.1,302.8 1493.1,299.8 1507.4,283.8 1574.5,209.7 1482.8,327.0 1483.3,315.0 1510.6,291.3 1433.7,358.4 1518.4,276.1 1476.4,323.7 1452.4,351.6 1467.0,328.1 1508.8,284.2 1517.5,271.1 1534.0,262.2 1499.8,278.1 1474.7,328.1 1508.3,279.6 1490.4,302.2 1561.4,219.1 1434.0,372.0 1546.2,251.0 1521.1,279.3 1507.5,288.2 1486.7,298.4 1481.2,324.0 1465.8,333.6 1439.2,343.5 1556.5,233.3 1521.6,268.0 1513.8,277.0 1509.9,293.5 1437.0,365.0 1482.7,305.8 1494.7,292.3 1530.3,262.5 1501.8,290.1 1490.1,311.3 1498.6,302.7 1475.5,331.3 1503.0,285.1 1508.0,309.8 1440.2,364.7 1535.2,263.8 1560.8,226.3 1469.2,330.4 1533.2,265.8 1469.8,337.9 1474.9,313.0 1548.9,242.1 1501.3,293.5 1541.2,249.7 1498.4,283.8 1521.8,261.6 1483.9,298.2 1536.5,249.7 1547.2,237.7 1519.6,281.4 1474.0,313.7 1486.8,314.8 1470.9,335.8 1514.9,280.7 1516.6,288.4 1473.5,321.8 1520.8,266.1 1473.9,314.0 1550.1,238.2 1522.2,273.8 1544.6,247.5 1479.1,328.8 1469.1,336.6 1434.3,353.1 1517.7,280.5 1464.3,339.7 1532.5,250.0 1499.4,293.5 1516.3,270.7 1461.2,346.7 1482.5,324.0 1496.9,287.8 1520.2,276.8 1458.3,343.4 1505.6,286.8 1478.5,335.2 1520.9,272.4 1491.9,309.8 1485.5,307.2 1510.2,285.7 1537.1,267.5 1486.2,304.1 1539.9,266.1 1468.2,334.8 1507.1,292.4 1465.4,339.8 1502.8,292.3 1465.7,326.1 1500.5,301.7 1516.7,280.5 1464.9,328.8 1442.4,356.5 1488.4,302.2 1510.5,280.4 1503.9,292.5 1471.1,332.2 1522.4,272.8 1484.2,305.3 1514.1,268.0 1462.6,320.9 1512.7,288.5 1531.6,260.4 1476.5,321.8 1488.1,310.0 1521.9,287.0 1504.3,273.4 1501.4,281.5 1493.0,304.4 1451.5,354.3 1495.9,299.8 1462.3,348.4 1499.6,298.2 1423.9,375.4 1533.8,245.9 1547.8,230.5 1504.6,279.6 1474.8,332.8 1517.7,264.8 1514.6,276.8 1475.5,323.7 1526.3,253.7 1520.2,278.9 1514.8,285.4 1488.2,314.9 1489.7,293.0 1471.3,319.7 1507.7,300.8 1470.1,315.0 1530.2,260.3 1493.9,295.1 1504.7,295.9 1498.9,281.2 1503.6,287.3 1448.8,342.2 1536.2,260.0 1496.0,293.7 1479.1,318.0 1468.0,333.5 1478.6,326.4 1480.2,323.6 1500.3,304.5 1475.4,334.8 1498.9,296.4 1495.8,290.4 1487.1,336.8 1562.9,228.3 1496.8,309.5 1511.1,295.3 1499.8,297.6 1491.8,306.7 1515.9,278.2 1534.8,252.4 1489.7,298.6 1467.1,325.7 1510.5,280.8 1427.7,367.9 1502.8,298.4 1493.3,310.8 1502.5,286.9 1448.7,348.8 1474.1,305.8 1465.8,336.1 1482.9,323.0 1511.3,279.8 1490.8,309.3 1480.7,324.7 1525.5,256.4 1488.0,292.3 1433.8,367.4 1466.5,338.9 1505.8,286.3 1507.6,286.7 1506.0,299.6 1499.1,289.2 1466.6,330.1 1486.8,299.3 1461.4,343.8 1469.6,329.8 1467.8,332.8 1475.8,337.4 1474.4,302.6 1495.1,318.6 1474.6,333.9 1527.6,268.6 1486.2,324.2 1537.4,249.4 1524.3,270.5 1457.6,342.7 1518.6,271.9 1452.0,349.1 1535.3,253.8 1503.3,292.4 1462.4,334.2 1425.8,372.8 1482.2,317.5 1454.9,350.3 1526.1,267.9 1455.1,343.6 1487.3,312.6 1509.7,290.1 1498.5,309.6 1493.0,286.7 1494.5,322.6 1507.8,273.0 1462.0,331.4 1505.4,280.6 1456.0,342.9 1493.8,293.7 1457.7,340.6 1481.8,305.5 1506.4,280.9 1523.6,257.2 1443.1,368.4 1467.7,327.5 1457.3,329.6 1518.9,253.7 1470.4,337.4 1511.4,279.2 1474.7,318.9 1447.8,350.2 1503.6,310.1 1455.2,338.4 1518.6,285.8 1508.8,268.1 1528.8,257.3 1462.4,338.5 1534.2,247.3 1519.5,271.2 1441.2,366.5 1557.0,230.5 1540.0,246.6 1464.3,342.4 1496.0,287.2 1448.1,344.2 1483.6,304.0 1492.6,292.9 1505.2,278.3 1464.7,328.7 1485.8,299.4 1464.0,335.1 1501.3,289.6 1506.2,276.3 1486.3,293.3 1526.3,266.9 1518.6,284.5 1494.7,282.8 1522.0,261.1 1448.1,337.8 1487.0,301.4 1438.6,362.5 1495.8,310.3 1481.4,324.1 1510.9,270.9 1474.8,314.7 1471.5,324.2 1497.2,317.0 1489.6,310.9 1511.0,291.8 1467.0,334.8 1443.9,356.6 1520.4,260.0 1456.6,348.9 1477.6,319.4 1458.0,340.0 1520.7,278.4 1471.6,319.2 1530.1,265.8 1474.1,331.6 1499.3,293.1 1514.0,278.9 1519.7,271.3 1460.1,348.2 1475.1,309.9 1493.4,311.6 1434.6,361.8 1514.2,282.1 1507.4,295.9 1506.9,287.3 1454.7,355.5 1499.0,300.1 1505.0,290.0 1519.4,266.6 1473.2,318.0 1509.9,279.4 1550.1,238.9 1484.8,325.3 1480.4,318.8 1483.4,316.3 1448.4,354.6 1483.1,318.5 1540.9,251.1 1461.3,331.6 1491.2,316.3 1526.9,263.7 1503.9,279.8 1501.3,299.5 1485.7,319.5 1490.0,309.6 1493.4,305.0 1510.1,278.6 1488.8,295.3 1519.8,272.8 1434.9,364.0 1517.8,278.5 1478.2,323.7 1489.8,300.7 1482.0,321.0 1506.5,277.5 1489.9,309.5 1510.8,283.5 1472.2,335.4 1499.1,299.3 1531.0,266.1 1526.1,268.1 1488.3,323.6 1496.1,299.0 1467.5,300.6 1495.6,316.0 1478.9,287.7 1527.8,263.6 1505.9,280.6 1537.7,258.2 1531.1,245.5 1463.1,355.6 1501.3,293.7 1472.9,311.7 1449.5,363.5 1469.4,350.2 1477.5,320.8 1543.1,250.1 1498.3,305.1 1493.6,317.9 1496.8,311.1 1464.6,322.5 1492.4,292.5 1494.6,312.8 1444.7,358.7 1478.3,323.5 1513.4,285.9 1482.9,299.7 1511.5,281.3 1466.7,339.6 1495.0,301.0 1519.7,276.5 1436.4,347.2 1470.0,327.5 1482.3,319.1 1483.5,312.6 1471.4,314.1 1503.7,298.7 1527.3,275.9 1497.3,286.5 1520.0,267.1 1524.0,270.4 1475.3,324.1 1495.9,289.7 1491.9,328.2 1506.8,276.5 1483.3,316.7 1484.1,306.7 1541.7,247.2 1449.2,358.2 1491.4,294.7 1510.6,304.9 1477.3,320.2 1491.1,297.6 1526.9,275.4 1485.1,329.8 1486.4,309.3 1467.6,322.5 1497.4,287.4 1491.3,310.7 1462.6,331.0 1493.3,315.0 1540.6,237.2 1445.0,362.7 1442.0,337.9 1503.1,293.4 1453.3,350.9 1544.7,233.7 1452.4,356.8 1444.2,335.0 1478.8,322.1 1526.5,270.9 1518.5,280.1 1504.8,279.8 1501.2,293.9 1531.2,261.5 1445.5,370.5 1495.9,289.1 1527.5,248.7 1458.8,335.9 1498.7,289.4 1530.3,263.8 1487.8,307.1 1545.8,241.0 1509.1,289.0 1521.9,266.1 1464.2,342.2 1473.1,331.3 1475.3,334.2 1543.2,244.4 1427.6,383.9 1441.2,366.4 1510.7,271.5 1496.8,298.7 1487.0,323.4 1485.6,315.9 1521.2,256.2 1434.8,364.2 1476.6,320.4 1523.8,268.8 1514.2,277.8 1464.2,331.9 1486.7,315.7 1525.9,251.3 1475.5,312.3 1529.7,261.8 1510.7,271.3 1472.0,338.4 1483.2,302.2 1510.5,281.0 1502.0,284.9 1537.6,254.0 1524.3,265.7 1499.7,289.9 1508.8,276.1 1470.0,324.3 1473.6,320.8 1514.2,288.1 1495.8,284.6 1459.0,337.7 1491.2,306.7 1470.9,330.9 1481.4,326.8 1532.2,263.1 1471.4,341.0 1473.0,323.7 1509.3,284.7 1494.0,299.5 1502.4,303.0 1452.8,352.4 1494.5,306.7 1478.2,310.7 1475.4,336.3 1482.6,328.3 1479.3,306.8 1514.5,272.4 1555.5,250.7 1490.8,293.1 1531.1,248.9 1491.7,294.0 1494.1,300.3 1532.5,263.7 1534.0,257.6 1480.1,346.0 1553.0,224.3 1474.5,330.1 1470.9,325.5 1471.6,312.6 1532.8,252.9 1503.0,287.7 1520.5,274.2 1428.3,374.6 1492.4,305.3 1498.8,316.6 1509.6,275.6 1484.6,323.6 1530.7,267.1 1475.0,327.0 1458.5,354.6 1450.8,361.9 1535.1,267.4 1513.3,275.7 1466.0,322.8 1524.7,265.9 1492.8,313.2 1484.6,300.5 1452.5,351.9 1483.8,327.6 1511.1,315.6 1498.4,294.9 1471.4,314.3 1523.1,271.2 1536.5,257.3 1471.1,330.2 1508.0,292.8 1453.9,357.3 1504.3,287.7 1468.5,337.3 1485.2,303.2 1502.1,300.9 1483.6,307.0 1522.2,266.7 1472.6,329.5 1481.2,318.9 1505.2,294.4 1485.8,295.8 1503.8,297.4 1482.7,303.7 1466.3,324.1 1513.7,281.8 1489.3,292.4 1527.3,281.8 1530.9,257.6 1482.8,313.1 1472.2,326.3 1477.2,313.2 1476.5,325.2 1437.2,368.1 1537.3,244.5 1505.7,289.1 1562.8,228.5 1475.3,317.8 1510.8,283.0 1503.6,295.5 1384.0,356.2 1413.8,322.5 1492.9,252.8 1603.2,185.4 1565.6,203.2 1516.4,247.4 1492.9,276.9 1479.3,290.8 1456.8,311.0 1442.9,326.4 1422.4,357.5 1403.8,378.8 1530.0,239.6 1559.9,215.5 1578.4,213.7 1588.3,213.3 1571.0,232.4 1579.2,248.1 1510.3,364.6 1581.3,293.6 1502.7,323.8 1486.3,338.5 1474.7,348.9 1453.1,377.8 1440.7,388.7 1521.0,291.6 1540.3,278.9 1542.6,271.2 1545.9,262.4 1355.8,514.4"/>
<polyline class="p" marker-start="url(#b018)" marker-mid="url(#b018)" marker-end="url(#b018)" points="1186.2,677.5 1186.4,661.0 1200.1,639.0 1206.8,627.6 1184.8,635.3 1186.5,657.3 1203.5,648.9 1204.8,627.5 1192.8,642.2 1201.0,628.1 1197.2,645.1 1182.5,653.7 1190.9,656.2 1189.0,639.9 1221.8,622.3 1205.4,640.4 1184.9,634.8 1203.6,644.7 1197.5,639.4 1187.2,641.9 1196.7,645.4 1186.7,637.1 1206.6,638.3 1203.1,616.5 1219.1,639.9 1202.0,656.1 1200.3,635.2 1178.5,638.0 1173.7,640.5 1202.3,647.8 1201.5,635.3 1198.4,646.4 1218.5,650.0 1198.2,626.9 1205.3,636.5 1184.3,632.3 1180.6,654.2 1216.4,626.4 1195.9,652.5 1203.8,635.3 1196.9,632.7 1195.7,649.4 1200.4,632.7 1203.4,651.0 1191.0,645.6 1178.2,643.0 1180.4,652.0 1203.3,638.2 1196.0,651.8 1196.8,653.0 1208.7,645.8 1195.8,649.6 1199.8,632.5 1193.4,653.2 1179.1,634.2 1201.5,628.7 1192.2,652.7 1201.5,635.3 1189.9,624.4 1207.6,655.4 1178.1,657.7 1178.0,645.5 1189.7,663.0 1202.8,631.4 1188.9,653.0 1195.4,652.6 1196.5,645.0 1182.0,662.5 1211.3,646.7 1191.5,650.1 1199.5,628.8 1256.5,572.7 1230.4,587.9 1261.7,555.8 1262.2,572.6 1223.5,607.4 1284.2,524.8 1276.4,559.2 1251.8,587.3 1267.7,572.2 1258.2,548.6 1220.8,603.1 1265.8,549.1 1229.7,608.7 1297.9,525.5 1275.9,532.0 1271.5,559.4 1258.9,551.9 1279.1,546.9 1241.2,590.1 1235.8,587.7 1199.6,624.5 1239.4,565.7 1221.5,617.5 1246.6,558.3 1214.0,632.3 1279.2,559.3 1252.6,610.1 1234.6,584.7 1267.5,537.6 1257.9,588.6 1251.2,583.2 1265.8,565.5 1218.7,638.7 1245.2,584.1 1293.5,525.5 1280.6,552.2 1225.0,623.5 1293.1,528.4 1287.4,528.0 1279.7,566.9 1208.5,628.6 1240.7,581.9 1241.4,584.7 1201.6,609.3 1263.5,583.4 1213.7,601.6 1265.6,566.2 1220.0,604.9 1287.6,539.1 1239.4,608.8 1207.7,653.6 1265.7,526.0 1238.1,613.3 1219.7,618.3 1283.7,519.7 1239.3,587.2 1277.7,545.3 1218.3,646.0 1285.1,548.7 1283.8,560.9 1237.4,620.8 1225.5,602.2 1200.4,623.9 1266.8,571.9 1244.6,595.5 1282.7,535.8 1235.2,583.3 1251.5,593.7 1219.3,597.2 1221.5,598.1 1202.3,634.0 1264.7,579.5 1218.2,607.4 1277.7,537.5 1245.6,558.2 1257.2,580.3 1268.6,534.5 1216.6,623.0 1283.8,533.0 1303.1,520.6 1214.6,618.8 1201.9,612.5 1214.7,630.2 1230.3,589.6 1208.4,631.2 1277.5,548.7 1233.2,609.5 1222.6,607.9 1304.2,547.6 1232.4,603.6 1235.0,581.5 1255.5,560.6 1260.1,592.3 1236.3,612.1 1254.1,581.1 1214.7,591.8 1267.3,566.2 1245.1,585.3 1220.2,617.3 1243.2,582.7 1226.4,620.2 1264.5,559.1 1265.2,555.0 1207.9,612.0 1300.6,534.9 1268.2,545.1 1204.9,602.1 1240.2,578.9 1243.8,576.3 1264.1,600.2 1206.4,609.2 1278.3,518.3 1236.9,576.0 1257.6,563.2 1250.0,566.9 1297.0,536.5 1244.3,592.1 1255.6,556.4 1225.4,603.6 1298.3,556.9 1224.8,604.9 1208.0,622.1 1248.7,595.0 1275.6,544.5 1239.3,588.0 1278.7,573.8 1264.8,554.7 1199.2,604.9 1218.5,588.9 1311.9,525.8 1266.1,581.1 1278.3,546.1 1234.7,592.7 1243.1,607.6 1285.7,549.8 1237.7,572.9 1204.9,627.3 1260.4,551.8 1251.8,577.9 1271.4,539.4 1298.0,532.6 1260.1,575.8 1220.7,627.4 1224.8,637.4 1276.8,554.9 1284.4,560.7 1276.4,556.4 1234.3,595.2 1243.3,584.5 1206.5,623.2 1248.8,586.8 1252.9,577.0 1210.9,606.6 1209.0,628.7 1292.4,530.6 1232.0,637.4 1247.7,599.0 1261.8,549.3 1252.9,589.3 1292.8,547.0 1218.0,601.4 1299.4,541.8 1276.8,533.8 1247.6,583.8 1244.9,595.0 1298.5,555.4 1247.8,561.9 1297.2,553.4 1223.0,629.2 1199.5,625.3 1228.2,623.5 1274.8,543.6 1221.7,612.6 1254.9,578.2 1268.0,575.2 1217.8,626.5 1231.3,596.8 1258.6,584.8 1190.7,637.8 1240.6,586.7 1255.2,565.5 1239.5,588.1 1219.2,606.3 1199.2,631.9 1291.1,520.1 1274.5,545.8 1255.5,568.4 1281.7,557.5 1212.6,648.7 1305.7,515.3 1233.1,584.4 1247.5,596.7 1230.7,625.9 1247.7,590.7 1199.6,631.9 1212.4,609.6 1239.4,596.7 1270.5,574.2 1272.1,556.8 1280.5,527.6 1324.2,473.5 1307.5,513.8 1306.8,486.9 1328.9,483.2 1310.4,509.4 1283.2,522.7 1347.0,490.0 1297.4,563.8 1358.6,476.3 1290.5,508.8 1296.3,511.0 1323.8,492.0 1327.6,495.1 1329.3,492.1 1277.7,541.2 1301.3,536.1 1318.1,488.3 1332.2,502.8 1303.3,495.2 1349.4,472.0 1318.7,517.3 1340.6,481.2 1349.0,482.8 1325.2,496.1 1325.1,525.5 1337.4,488.5 1326.0,491.5 1327.8,484.1 1298.2,531.5 1317.8,481.0 1367.0,475.6 1310.9,514.0 1323.0,504.8 1310.3,511.0 1339.1,482.6 1256.1,548.6 1354.2,460.7 1335.4,498.5 1322.3,496.5 1344.2,474.9 1318.1,486.4 1336.7,491.2 1346.5,473.4 1313.5,492.0 1342.9,494.4 1354.8,468.0 1322.3,480.6 1287.5,505.3 1335.2,483.8 1365.6,449.5 1300.2,503.3 1338.4,504.7 1331.8,498.6 1343.4,487.0 1322.2,533.4 1366.0,454.4 1325.8,477.2 1296.4,515.1 1325.3,471.5 1354.0,463.5 1267.6,536.2 1325.3,509.0 1349.7,488.8 1283.4,535.5 1298.4,524.2 1322.7,485.5 1317.2,503.1 1299.5,501.3 1318.3,489.6 1281.3,539.5 1299.2,530.1 1352.0,450.7 1306.1,527.4 1319.3,483.7 1306.2,495.3 1329.4,472.3 1333.9,506.3 1322.5,489.1 1341.1,469.1 1317.2,487.5 1287.9,563.8 1305.2,527.2 1350.7,465.9 1330.7,462.9 1315.4,515.5 1271.7,539.2 1298.2,522.0 1350.7,430.4 1342.2,468.6 1357.7,485.0 1280.2,550.1 1282.1,538.4 1292.5,508.7 1279.0,534.8 1321.1,503.4 1300.1,544.7 1327.2,490.8 1311.9,511.1 1292.7,507.4 1324.5,478.1 1337.7,504.2 1337.2,520.9 1310.8,517.5 1312.9,502.9 1278.1,564.7 1273.8,561.6 1291.0,511.8 1313.8,493.7 1371.2,471.5 1322.9,490.2 1291.5,529.3 1306.2,518.9 1281.9,533.2 1310.6,500.0 1313.5,503.0 1328.2,503.2 1344.6,480.3 1326.7,479.2 1273.8,518.1 1331.4,475.8 1288.0,526.6 1323.1,491.3 1321.8,505.4 1355.2,457.9 1323.1,517.4 1308.1,500.0 1306.0,507.2 1335.0,479.1 1330.1,503.1 1311.9,513.4 1340.3,486.5 1363.5,444.4 1356.8,462.5 1348.8,460.2 1296.3,510.0 1304.2,495.1 1328.0,508.5 1278.6,552.7 1365.3,467.0 1272.6,531.5 1332.3,500.5 1276.7,525.1 1323.1,504.8 1327.8,472.3 1332.8,494.4 1297.7,528.9 1300.0,520.1 1337.5,477.9 1315.9,506.7 1313.9,494.6 1329.1,467.8 1250.4,563.8 1326.0,501.0 1360.4,486.0 1357.5,454.6 1293.8,517.4 1334.3,472.1 1369.9,463.9 1296.8,515.6 1304.5,528.9 1303.0,496.4 1312.6,521.4 1274.7,565.9 1265.7,573.0 1283.6,536.7 1309.5,529.8 1309.1,471.9 1306.8,521.1 1306.9,483.3 1350.7,469.3 1342.4,486.3 1299.2,536.6 1336.3,473.0 1306.9,493.1 1323.5,493.4 1345.9,485.6 1332.9,480.9 1291.5,545.9 1321.6,495.3 1346.3,500.1 1370.7,452.6 1330.0,487.0 1310.7,517.0 1306.8,519.1 1287.5,509.1 1278.3,530.1 1273.8,525.4 1301.5,516.7 1316.7,499.1 1284.4,508.8 1321.3,508.9 1307.0,508.4 1309.7,508.7 1303.6,512.9 1318.3,490.8 1315.6,502.3 1247.6,567.8 1328.9,504.2 1314.8,496.6 1309.8,529.4 1311.8,489.8 1292.2,513.8 1320.6,502.4 1299.5,531.9 1332.3,485.8 1320.0,489.7 1293.7,556.2 1307.4,531.6 1325.4,476.8 1327.3,494.9 1329.3,511.5 1306.6,554.0 1303.6,526.1 1333.5,515.1 1322.1,494.9 1316.4,505.2 1282.5,510.1 1320.4,521.2 1299.6,511.8 1298.1,545.8 1298.3,542.7 1298.8,527.7 1287.4,551.9 1313.1,475.5 1334.6,484.0 1342.7,487.1 1280.1,504.8 1304.6,531.4 1324.8,500.9 1306.8,518.7 1314.8,519.5 1304.2,507.4 1269.2,537.0 1355.8,481.7 1286.2,547.1 1282.1,549.9 1345.7,495.2 1300.6,545.4 1344.1,479.1 1331.1,503.3 1322.1,492.3 1300.9,507.5 1281.6,540.8 1286.2,533.8 1325.6,509.9 1318.2,512.8 1284.9,533.5 1285.1,530.1 1296.5,528.6 1310.5,501.6 1328.3,495.1 1346.1,490.8 1305.1,511.9 1352.8,470.1 1345.9,500.4 1344.2,457.9 1292.8,524.7 1324.1,482.9 1345.1,479.8 1263.5,539.0 1334.0,475.9 1318.3,485.2 1342.5,485.9 1322.5,502.8 1333.0,463.0 1306.5,516.2 1303.8,518.3 1321.5,472.6 1324.1,475.4 1283.1,538.5 1329.5,456.1 1354.8,486.4 1340.5,477.9 1303.4,528.8 1334.2,458.3 1316.1,477.2 1341.3,484.2 1313.8,504.8 1299.0,507.9 1295.7,518.8 1299.8,518.6 1329.3,472.1 1283.3,508.2 1300.8,519.9 1332.1,505.4 1310.8,512.5 1268.7,559.4 1303.7,525.3 1302.3,508.1 1347.8,455.5 1324.6,479.0 1289.2,526.9 1288.5,531.5 1313.2,525.5 1323.9,501.5 1304.4,532.7 1323.7,490.2 1284.3,542.9 1323.9,496.2 1339.6,468.4 1256.5,577.6 1307.3,496.1 1314.0,488.8 1333.5,500.8 1308.4,490.6 1317.0,509.2 1328.0,503.3 1320.9,504.4 1327.7,513.1 1350.0,459.9 1330.7,467.0 1348.8,493.2 1298.1,517.7 1300.3,512.4 1335.5,470.9 1286.8,526.8 1336.3,473.8 1288.3,544.3 1358.5,440.6 1342.2,468.8 1297.3,512.2 1302.9,514.1 1270.6,560.9 1315.2,506.3 1339.0,467.8 1322.3,479.5 1324.3,527.9 1373.0,461.4 1341.1,504.0 1329.5,498.2 1314.1,518.2 1328.0,487.5 1378.9,437.8 1316.4,481.2 1282.0,554.0 1326.4,504.9 1366.5,461.0 1345.8,475.7 1302.8,516.9 1327.7,499.5 1288.8,551.6 1341.1,499.4 1294.3,526.3 1307.8,523.4 1310.3,528.1 1301.5,525.9 1352.8,456.9 1334.8,447.9 1297.2,498.3 1324.9,509.8 1358.4,463.9 1324.1,529.1 1320.5,533.3 1310.3,543.0 1345.3,455.6 1321.0,501.6 1327.3,517.1 1311.3,521.7 1298.7,533.1 1343.1,485.2 1287.1,512.6 1318.5,535.1 1280.5,553.2 1288.7,531.8 1300.5,514.3 1321.0,536.5 1279.5,543.3 1311.2,531.9 1317.1,513.5 1323.6,482.9 1277.1,531.8 1311.8,514.8 1339.3,508.3 1309.2,497.6 1307.8,493.6 1324.4,514.2 1323.8,479.7 1297.8,556.4 1311.8,531.6 1323.6,493.6 1326.9,516.3 1285.4,526.7 1298.4,500.2 1299.1,523.0 1312.5,500.2 1265.2,535.2 1274.2,543.5 1272.4,532.0 1283.4,481.1 1414.8,444.7"/>
<polyline class="p" marker-start="url(#b019)" marker-mid="url(#b019)" marker-end="url(#b019)" points="1274.4,553.4 1201.3,616.5 1251.7,598.0 1260.8,574.7 1290.6,534.2 1239.6,584.0 1207.0,592.9 1250.3,568.4 1232.0,589.0 1228.5,628.5 1257.6,541.7 1249.9,614.0 1256.5,556.8 1272.3,553.5 1249.4,601.8 1266.1,552.2 1265.1,572.7 1249.1,556.0 1244.7,585.3 1211.1,624.0 1274.4,558.9 1264.7,583.1 1277.0,558.8 1269.2,555.8 1230.3,608.3 1253.1,581.8 1228.7,594.7 1287.5,532.4 1275.4,589.8 1258.5,581.0 1297.9,543.6 1275.4,540.6 1219.5,609.9 1268.3,580.2 1258.4,561.5 1268.4,555.5 1268.3,569.6 1281.7,539.0 1238.0,599.0 1269.6,572.1 1263.2,546.3 1271.5,520.0 1223.7,606.4 1223.9,602.8 1258.4,589.6 1249.2,589.9 1242.1,552.0 1262.1,558.3 1233.4,603.3 1212.5,627.0 1252.7,560.4 1209.0,610.3 1270.0,564.6 1268.7,536.9 1248.7,583.0 1223.1,612.8 1282.3,529.6 1267.9,574.9 1278.9,578.1 1225.3,612.2 1218.0,600.8 1262.8,549.6 1211.0,602.3 1229.6,611.1 1271.4,556.4 1269.0,562.0 1243.3,576.1 1269.3,549.6 1280.6,542.4 1236.8,569.7 1205.9,623.8 1287.1,533.1 1289.3,550.1 1283.1,541.6 1212.2,598.3 1207.1,616.3 1254.5,577.4 1293.1,549.4 1257.0,586.7 1216.2,599.7 1220.8,613.7 1254.5,573.8 1224.5,585.6 1264.4,572.2 1248.1,592.1 1232.3,573.6 1230.3,591.2 1269.9,588.2 1291.6,533.3 1223.6,625.8 1278.3,557.9 1242.4,593.8 1241.5,621.7 1211.8,589.5 1274.3,556.7 1258.6,579.9 1240.3,617.8 1277.8,553.3 1208.5,603.3 1232.6,600.4 1238.0,587.8 1247.8,587.3 1212.0,617.3 1255.7,560.6 1208.5,631.2 1244.8,584.4 1215.8,614.9 1279.9,582.6 1203.2,616.5 1214.5,586.3 1250.5,564.2 1223.7,617.5 1252.8,570.2 1239.6,554.8 1254.6,588.3 1258.8,541.1 1236.9,607.5 1255.8,561.6 1225.0,589.8 1219.7,609.0 1268.7,528.8 1230.8,628.4 1231.5,599.1 1259.2,557.0 1209.0,597.7 1285.4,579.3 1208.6,631.9 1237.7,631.7 1287.4,529.0 1225.7,618.4 1214.4,601.5 1238.3,576.9 1231.0,605.6 1207.6,616.7 1233.2,608.4 1251.8,567.0 1292.4,540.7 1247.4,566.8 1207.4,617.0 1262.8,593.4 1268.3,555.2 1290.8,554.8 1276.7,531.7 1263.8,584.8 1265.5,606.4 1268.0,590.7 1269.3,553.9 1205.5,609.6 1210.7,623.3 1274.2,552.7 1224.9,582.8 1267.5,531.3 1249.7,586.0 1244.2,562.0 1249.3,567.1 1271.4,557.5 1259.0,569.8 1198.6,617.9 1269.8,580.6 1289.9,564.4 1245.2,563.0 1273.8,515.1 1276.5,544.1 1219.4,594.9 1264.7,573.5 1215.6,626.0 1262.8,562.1 1278.0,557.0 1290.0,535.5 1267.3,563.7 1261.5,555.0 1211.2,607.4 1260.1,541.6 1229.8,606.6 1296.2,535.9 1268.6,594.6 1305.0,549.2 1203.5,617.8 1221.4,603.5 1240.9,589.7 1269.2,581.8 1267.2,602.6 1233.0,610.9 1263.0,540.1 1265.8,553.9 1266.4,536.6 1211.0,596.0 1275.3,557.4 1211.9,605.3 1215.5,602.3 1277.0,548.4 1278.6,541.5 1300.6,539.5 1287.8,532.1 1282.0,548.0 1277.1,547.4 1280.7,527.1 1244.3,591.4 1210.2,631.0 1262.6,574.0 1213.4,630.3 1241.1,581.6 1296.3,556.5 1219.5,614.3 1227.5,616.9 1249.8,566.3 1258.2,537.8 1206.4,626.9 1212.0,612.1 1281.8,540.6 1245.5,584.0 1223.8,591.5 1273.0,550.2 1232.4,607.8 1241.5,599.2 1230.8,593.1 1200.4,619.3 1205.2,616.9 1229.9,619.1 1243.4,589.4 1219.9,574.0 1265.8,542.2 1262.5,576.0 1269.5,565.5 1257.6,554.4 1210.3,611.2 1264.8,571.5 1204.5,611.2 1239.6,601.7 1201.0,624.9 1233.2,602.9 1245.2,591.3 1264.8,580.6 1197.9,625.2 1229.4,587.7 1219.8,590.4 1240.8,577.2 1239.2,584.3 1245.4,584.6 1247.5,574.8 1281.4,566.9 1254.2,579.0 1206.5,614.3 1286.4,553.4 1249.5,579.6 1279.7,556.4 1265.6,560.4 1257.0,601.1 1257.6,574.2 1239.3,611.9 1247.5,556.2 1197.5,607.4 1240.7,600.2 1243.7,601.5 1272.2,543.2 1232.1,582.4 1246.6,603.6 1239.7,600.6 1277.1,570.0 1233.7,570.3 1225.0,608.4 1252.1,576.9 1232.0,623.7 1253.7,552.7 1293.5,557.0 1304.1,532.9 1232.8,611.9 1225.5,611.3 1281.2,572.9 1301.0,537.5 1271.1,545.2 1246.2,585.9 1266.6,559.5 1265.7,544.0 1281.3,544.6 1297.3,544.0 1254.6,543.4 1245.0,619.3 1230.8,629.3 1268.1,558.6 1269.6,537.5 1250.0,602.0 1227.6,600.3 1241.0,600.0 1289.0,534.0 1260.5,557.1 1266.5,560.2 1217.2,616.5 1226.3,603.8 1239.9,596.3 1271.6,550.0 1204.7,613.8 1226.0,626.1 1219.0,610.8 1259.5,552.7 1228.3,607.3 1214.4,585.7 1278.5,526.4 1261.9,573.4 1243.2,601.8 1231.5,607.3 1232.5,599.6 1265.9,539.0 1257.4,571.2 1212.6,616.9 1214.2,625.9 1258.2,603.4 1269.3,540.1 1282.8,548.5 1286.4,529.7 1279.1,546.8 1241.1,581.6 1225.1,600.6 1254.6,577.0 1232.9,615.8 1261.4,559.6 1261.2,546.7 1220.2,614.4 1301.2,563.5 1260.0,584.0 1198.0,602.5 1259.9,579.9 1253.7,572.6 1247.0,620.5 1279.6,557.7 1289.5,551.9 1247.6,567.9 1250.5,567.8 1274.5,541.8 1247.9,563.3 1258.0,580.6 1222.4,579.2 1230.2,607.8 1226.8,589.2 1222.5,571.1 1275.2,561.6 1239.8,584.8 1244.8,588.7 1228.4,602.6 1248.7,576.1 1212.1,625.1 1217.0,617.8 1214.3,607.6 1238.8,618.7 1282.6,557.3 1284.1,551.1 1274.6,578.7 1228.2,598.8 1277.5,557.8 1286.2,555.6 1249.2,607.5 1292.2,523.8 1293.3,555.3 1207.7,616.8 1268.7,553.6 1262.2,599.0 1270.9,571.4 1226.8,587.0 1226.9,614.2 1230.5,617.5 1297.2,540.5 1254.7,567.8 1251.3,614.4 1250.4,560.4 1266.0,557.8 1236.0,616.5 1264.1,588.3 1213.7,616.2 1244.7,558.0 1257.1,595.4 1287.5,539.1 1259.1,568.5 1262.2,581.4 1227.3,621.9 1248.6,552.5 1247.1,602.0 1288.0,568.5 1292.3,540.4 1202.8,609.8 1261.2,554.8 1226.4,608.6 1259.0,572.3 1250.9,568.2 1280.4,576.7 1261.7,575.5 1272.5,566.0 1259.5,536.7 1277.5,555.1 1249.9,582.3 1295.1,538.8 1283.2,579.4 1269.2,570.2 1268.3,590.4 1273.2,566.0 1245.2,595.4 1216.3,629.4 1246.2,557.5 1272.3,561.6 1258.5,561.0 1270.8,567.3 1205.2,594.9 1233.7,584.8 1237.4,586.8 1256.5,601.2 1197.0,626.2 1204.6,625.7 1236.9,589.5 1268.5,560.1 1290.1,531.0 1276.0,568.1 1228.5,604.5 1219.8,604.2 1248.3,574.7 1246.6,603.0 1258.0,561.0 1236.9,619.3 1256.1,588.3 1219.9,632.0 1224.9,621.6 1243.8,590.8 1251.5,566.4 1252.5,557.9 1241.2,582.6 1242.4,604.2 1258.2,557.4 1256.4,555.0 1219.3,631.1 1239.7,616.0 1275.1,555.6 1254.9,581.6 1211.9,628.2 1234.6,585.3 1254.1,599.3 1233.9,620.5 1266.9,564.3 1200.0,622.3 1229.4,610.9 1294.2,563.1 1195.7,612.9 1227.7,631.2 1205.8,606.6 1232.3,579.6 1224.0,578.2 1274.1,570.7 1280.0,535.9 1258.4,557.6 1210.6,602.2 1226.2,614.6 1262.0,565.6 1260.5,550.0 1261.5,543.9 1275.7,552.3 1280.9,548.5 1199.6,606.5 1248.3,607.3 1232.8,580.6 1250.0,598.3 1246.4,584.3 1209.4,621.0 1251.9,555.2 1274.3,584.4 1292.3,542.9 1254.4,603.0 1256.7,537.7 1241.3,611.6 1216.3,631.7 1228.7,598.1 1248.6,589.2 1249.2,597.4 1247.5,599.2 1261.7,591.8 1272.1,533.7 1226.4,606.0 1288.0,549.6 1247.1,570.7 1239.7,609.8 1272.1,555.6 1263.1,576.8 1218.5,593.8 1287.9,565.2 1214.0,595.6 1297.1,550.6 1274.2,569.2 1275.5,554.3 1239.3,580.7 1271.6,550.9 1269.7,582.9 1264.9,574.9 1240.5,560.7 1222.7,616.5 1254.0,595.1 1273.4,537.8 1257.6,609.1 1295.7,545.9 1274.0,536.5 1213.5,626.6 1235.0,600.7 1266.6,550.4 1266.3,578.1 1235.6,627.1 1221.6,626.4 1269.2,560.0 1303.3,534.8 1248.4,610.9 1218.0,612.8 1224.7,573.2 1268.9,583.9 1238.4,572.7 1232.5,588.5 1249.4,594.8 1257.1,593.1 1293.7,521.3 1222.1,620.4 1214.7,627.5 1272.4,564.9 1226.4,571.7 1251.2,571.8 1247.1,548.3 1274.0,551.0 1212.3,583.3 1284.6,542.0 1237.0,593.1 1254.7,561.0 1226.6,622.1 1296.9,527.2 1256.8,562.6 1279.0,561.1 1256.6,564.9 1251.0,559.2 1271.2,579.6 1263.0,568.8 1206.5,623.4 1243.4,602.8 1274.7,533.6 1219.5,627.0 1277.0,545.6 1276.6,563.0 1256.9,575.7 1263.6,556.5 1230.5,606.4 1225.9,605.4 1247.6,592.4 1199.9,615.4 1208.5,610.5 1249.6,593.4 1240.7,581.0 1283.1,552.1 1272.5,528.6 1258.2,575.5 1248.6,624.7 1206.0,618.6 1226.7,591.2 1223.0,607.9 1215.6,601.4 1292.5,510.6 1221.2,599.8 1243.6,593.3 1268.9,562.2 1243.2,587.7 1300.2,527.4 1269.8,574.0 1279.7,571.2 1260.6,570.4 1245.3,593.1 1277.3,574.1 1261.0,576.2 1235.7,601.5 1201.4,594.4 1271.6,535.8 1278.5,538.5 1268.9,553.3 1261.3,555.3 1254.9,564.9 1272.4,542.2 1215.3,624.3 1270.6,587.9 1268.3,546.1 1249.7,563.0 1241.6,592.5 1215.7,596.5 1238.2,578.9 1282.4,564.8 1247.3,577.1 1278.7,565.2 1284.2,553.7 1251.0,573.9 1275.7,557.0 1282.0,557.5 1260.3,596.1 1255.2,535.3 1238.8,620.5 1259.9,577.7 1236.6,575.0 1264.5,566.2 1290.6,552.8 1242.6,567.1 1253.1,562.3 1257.9,609.7 1273.9,580.3 1253.0,565.1 1245.6,554.5 1264.5,545.9 1295.8,559.5 1240.1,624.6 1248.9,572.6 1253.4,573.1 1242.4,575.7 1280.8,580.0 1257.0,540.7 1230.8,610.9 1203.8,628.9 1213.2,623.8 1261.2,584.7 1231.5,572.1 1276.0,547.0 1237.5,571.0 1235.5,613.2 1242.4,604.6 1264.9,561.2 1262.5,565.3 1286.5,557.5 1212.1,614.2 1237.1,573.1 1283.6,549.6 1246.2,595.0 1249.0,571.8 1283.7,545.0 1294.1,522.2 1199.2,617.5 1282.9,549.5 1263.8,571.3 1208.4,631.0 1245.2,585.5 1293.7,537.3 1222.6,595.2 1252.3,601.2 1228.2,587.8 1205.4,608.8 1253.5,567.0 1229.7,605.6 1229.3,624.7 1240.1,573.4 1214.5,597.7 1277.7,566.8 1254.0,578.0 1214.9,612.4 1261.2,571.1 1229.4,597.3 1251.1,587.5 1264.4,577.4 1274.7,529.4 1252.5,593.9 1208.0,628.8 1238.7,607.4 1284.0,539.6 1243.7,600.8 1220.9,609.4 1252.4,606.5 1282.8,564.9 1296.5,531.1 1254.1,564.6 1273.1,571.5 1264.7,572.2 1212.9,608.8 1250.6,616.3 1300.1,543.7 1297.1,547.3 1255.7,597.9 1302.1,552.9 1233.5,609.0 1225.9,625.9 1225.9,610.6 1234.3,594.1 1257.6,613.8 1241.9,561.7 1285.7,510.7 1253.5,599.3 1260.5,590.6 1272.6,570.8 1217.0,591.7 1283.4,563.5 1291.4,565.5 1234.1,594.4 1217.2,602.6 1202.6,613.5 1287.6,535.7 1289.1,553.3 1280.6,535.8 1218.4,592.9 1230.2,579.3 1260.3,559.5 1201.7,610.9 1208.1,629.4 1223.5,605.6 1211.0,591.1 1264.0,567.7 1236.9,612.3 1272.7,579.3 1251.4,590.1 1254.1,613.4 1276.0,574.3 1241.9,594.3 1280.2,573.8 1288.8,539.4 1272.9,555.4 1263.3,550.8 1221.6,593.7 1243.5,558.2 1212.5,629.2 1234.2,626.5 1252.1,563.8 1255.9,566.6 1230.9,611.7 1247.0,568.7 1282.1,506.2 1229.9,596.9 1282.8,551.9 1229.3,600.9 1244.1,605.8 1276.0,512.7 1258.2,595.5 1249.6,561.7 1285.0,544.9 1255.9,598.4 1265.4,540.9 1244.1,619.8 1268.1,547.8 1226.5,588.6 1215.1,584.8 1270.0,548.9 1217.5,603.5 1256.2,571.8 1214.7,607.5 1276.9,516.6 1242.2,575.9 1239.2,605.4 1267.5,562.4 1224.4,571.9 1242.3,614.2 1243.0,600.8 1296.9,544.5 1249.1,590.3 1264.1,566.0 1226.2,597.3 1229.6,626.6 1237.8,622.9 1240.5,569.6 1217.3,623.3 1283.1,539.7 1234.4,598.8 1245.8,614.8 1241.8,622.6 1239.7,614.8 1200.4,599.8 1275.5,559.5 1234.9,588.6 1231.3,622.3 1275.0,550.8 1285.4,571.3 1296.4,537.6 1247.7,577.4 1260.8,549.3 1273.1,561.6 1233.3,587.3 1285.1,535.4 1219.3,612.1 1235.3,606.1 1238.7,586.6 1247.5,562.5 1247.4,584.3 1253.5,583.8 1208.5,615.2 1258.9,558.3 1281.1,574.0 1280.8,524.8 1237.9,626.2 1209.4,604.4 1265.8,556.7 1244.8,600.5 1292.4,529.4 1251.6,587.1 1263.0,599.8 1239.7,572.3 1275.6,581.5 1267.3,564.9 1228.4,615.3 1254.2,546.4 1259.6,600.1 1234.2,580.1 1210.1,618.0 1251.5,607.1 1243.4,602.4 1208.4,618.0 1264.0,545.1 1287.1,553.2 1212.5,628.8 1223.2,602.1 1279.3,549.2 1280.7,546.8 1217.2,625.4 1206.5,621.2 1244.4,585.6 1274.9,571.8 1286.8,579.9 1228.0,587.1 1249.7,566.9 1267.5,563.0 1209.1,605.4 1273.2,555.9 1259.8,578.3 1228.2,581.5 1262.2,532.3 1266.3,566.6 1230.1,616.2 1237.5,574.9 1286.7,521.9 1241.3,578.7 1247.9,611.4 1220.0,609.8 1212.4,620.4 1245.6,591.8 1272.4,546.7 1282.6,546.9 1266.3,554.8 1263.3,566.1 1284.2,547.4 1227.3,573.9 1259.9,570.5 1274.0,541.6 1258.7,552.9 1288.0,555.9 1225.6,612.4 1247.9,600.2 1283.8,565.0 1225.4,592.3 1256.1,574.0 1214.8,612.2 1241.4,618.6 1262.9,558.1 1231.5,601.2 1221.8,599.4 1241.6,587.3 1276.7,530.8 1233.2,594.4 1223.9,586.7 1248.5,575.9 1262.8,559.8 1240.5,598.5 1232.5,564.1 1264.5,575.3 1267.6,563.4 1264.7,572.6 1287.3,526.7 1258.7,534.6 1269.0,563.6 1227.9,623.3 1282.0,554.9 1254.7,565.7 1262.6,574.2 1252.6,562.8 1243.1,583.3 1258.2,595.2 1261.6,589.7 1253.6,560.5 1234.6,582.2 1214.3,621.4 1225.8,580.2 1229.3,605.7 1268.1,561.0 1251.7,568.3 1255.9,618.2 1262.5,564.0 1276.0,548.3 1278.2,565.0 1286.1,515.9 1228.2,611.6 1207.5,611.7 1294.6,553.6 1217.9,631.9 1237.3,607.7 1233.4,627.7 1215.7,632.1 1246.2,594.4 1227.5,628.1 1215.3,598.1 1254.2,561.8 1235.9,584.5 1234.3,588.7 1255.1,563.8 1246.9,598.3 1260.7,580.4 1278.2,572.3 1214.5,582.4 1298.3,533.6 1300.5,522.4 1274.0,573.1 1257.8,577.3 1200.5,628.6 1273.4,548.1 1296.2,551.9 1232.3,586.9 1234.6,613.8 1263.7,595.6 1259.7,552.8 1243.6,582.2 1244.4,592.0 1254.0,591.6 1250.6,565.8 1287.4,543.6 1270.5,571.2 1285.8,534.8 1256.0,597.6 1219.7,591.8 1286.9,571.2 1223.7,626.9 1205.2,625.6 1257.4,574.6 1269.0,544.2 1224.2,599.6 1226.7,582.4 1250.2,590.6 1255.2,575.3 1296.1,543.2 1282.6,564.8 1261.6,555.7 1251.7,570.2 1217.9,613.0 1239.5,605.8 1234.7,591.4 1247.9,581.8 1259.2,564.8 1213.9,602.2 1260.0,548.3 1272.7,552.9 1252.5,575.6 1243.6,610.6 1251.4,590.1 1297.4,542.8 1224.2,610.5 1215.1,619.4 1280.1,560.2 1275.9,584.0 1255.6,579.7 1243.0,588.9 1282.7,560.7 1286.3,564.8 1248.4,618.3 1225.2,609.8 1212.4,613.0 1255.0,602.9 1262.0,542.1 1209.3,631.5 1247.5,588.3 1235.5,584.4 1227.4,591.9 1236.7,632.0 1231.5,613.5 1217.7,609.8 1263.6,554.7 1272.6,551.3 1247.2,601.6 1284.0,534.5 1236.7,600.1 1230.5,603.6 1220.6,591.5 1223.9,602.5 1222.4,584.9 1258.1,552.9 1229.6,628.6 1237.3,616.4 1285.3,579.3 1259.5,550.2 1249.2,585.6 1260.2,580.1 1207.7,631.3 1245.1,609.4 1234.8,587.9 1296.5,545.3 1225.9,591.7 1209.7,622.5 1211.2,626.9 1294.4,519.9 1250.5,585.5 1275.7,552.6 1256.8,550.5 1245.9,553.9 1251.2,553.2 1227.7,604.1 1284.9,541.7 1232.3,610.4 1238.1,584.5 1207.9,592.5 1278.8,538.4 1252.1,557.3 1241.8,564.1 1237.3,570.1 1265.9,574.3 1212.7,601.6 1211.3,608.4 1214.4,630.1 1209.4,596.3 1262.9,581.7 1278.4,571.5 1274.0,554.4 1285.4,565.2 1275.7,554.3 1222.8,613.0 1243.9,598.7 1267.9,559.0 1263.7,589.0 1255.7,558.7 1230.1,585.9 1248.4,566.3 1283.6,550.1 1243.3,579.7 1246.1,591.4 1226.0,585.6 1251.6,601.2 1286.3,533.7 1254.9,583.9 1256.2,560.2 1251.7,577.4 1294.6,563.4 1210.6,631.8 1258.2,589.8 1286.8,530.6 1254.3,594.9 1272.7,564.2 1244.2,584.3 1232.8,577.4 1226.5,598.7 1253.9,563.9 1227.9,615.1 1220.7,616.9 1249.8,569.2 1244.9,583.4 1259.3,562.4 1209.7,595.4 1195.8,616.6 1256.0,546.8 1301.5,536.2 1242.8,610.8 1240.2,588.9 1238.9,598.9 1237.9,552.2 1220.5,613.9 1274.2,549.9 1214.8,621.8 1250.9,576.3 1223.5,605.5 1275.6,535.9 1242.6,583.8 1213.9,615.9 1246.7,583.4 1252.4,563.8 1253.0,598.2 1275.4,560.5 1266.9,549.4 1238.7,607.3 1236.6,592.4 1216.0,620.0 1209.4,613.0 1223.3,619.6 1244.8,574.5 1242.8,574.5 1213.8,626.9 1235.0,600.3 1243.1,596.8 1281.9,557.3 1248.9,593.6 1251.0,599.6 1245.3,572.2 1209.5,619.1 1258.6,572.9 1263.7,564.0 1258.7,542.2 1255.3,557.8 1216.8,624.6 1220.5,601.2 1237.7,625.4 1252.7,586.6 1229.1,618.9 1262.2,560.5 1247.1,594.1 1223.9,625.2 1271.4,569.8 1259.2,597.0 1288.5,561.4 1300.6,541.2 1211.1,618.2 1218.0,612.4 1263.9,550.8 1208.0,597.4 1235.2,580.6 1304.3,552.8 1217.2,629.9 1257.2,544.2 1221.4,610.5 1238.4,587.0 1253.8,572.4 1270.0,550.2 1283.5,545.3 1242.0,583.1 1258.1,539.5 1243.9,591.3 1229.4,628.4 1231.0,605.0 1240.1,585.2 1284.2,543.8 1278.2,551.5 1264.5,573.2 1252.4,586.0 1291.1,540.2 1288.2,540.1 1282.5,534.6 1266.1,572.1 1236.5,612.4 1246.4,576.2 1233.6,560.2 1236.7,601.2 1216.7,614.6 1272.2,550.2 1229.0,588.5 1211.5,617.4 1242.9,591.9 1268.2,566.9 1230.5,620.7 1313.8,526.3 1210.2,611.0 1206.6,613.5 1300.6,529.4 1238.2,562.6 1245.1,552.0 1235.8,576.9 1238.3,582.8 1228.5,628.5 1241.2,584.2 1256.7,581.8 1241.2,584.5 1229.0,611.9 1234.4,599.6 1276.8,582.9 1213.5,624.6 1297.3,544.6 1236.0,578.6 1262.2,580.8 1287.0,531.5 1206.3,621.2 1277.2,553.9 1275.1,569.1 1248.1,581.9 1218.8,620.5 1258.7,558.0 1265.6,586.6 1271.2,545.3 1211.9,621.5 1297.7,562.8 1237.1,592.7 1264.2,563.5 1277.6,533.7 1271.4,521.9 1218.1,622.7 1216.4,623.7 1274.1,542.9 1251.8,566.7 1258.2,575.8 1226.4,619.7 1256.0,552.3 1269.1,537.0 1229.7,622.1 1261.2,595.9 1297.5,534.6 1262.6,569.7 1235.2,602.9 1266.3,571.6 1288.4,544.0 1276.6,562.2 1246.9,594.1 1288.7,536.6 1303.0,533.4 1259.8,569.4 1250.1,608.4 1264.4,552.8 1225.3,626.8 1255.6,575.4 1235.4,619.1 1238.7,624.7 1256.2,602.2 1236.4,615.8 1269.5,537.2 1287.5,536.6 1237.1,606.0 1264.1,565.7 1236.8,607.6 1211.9,612.4 1271.0,588.7 1272.7,571.4 1269.4,555.2 1245.5,559.6 1248.8,594.8 1219.0,585.3 1259.2,590.0 1205.6,624.9 1276.8,531.8 1263.5,586.4 1207.8,604.0 1249.5,613.4 1208.9,599.2 1268.8,546.1 1306.2,548.9 1219.6,584.9 1217.0,608.8 1274.9,539.0 1223.8,624.1 1271.4,549.6 1291.5,552.5 1268.8,562.4 1255.9,566.0 1266.6,588.8 1275.6,545.5 1248.4,599.4 1261.5,580.9 1198.8,627.5 1268.1,590.2 1270.7,570.4 1227.5,613.6 1236.5,586.3 1264.1,595.6 1252.1,584.0 1263.4,558.3 1248.2,560.2 1295.1,520.0 1233.2,629.7 1273.7,593.4 1217.5,584.2 1216.2,619.2 1245.2,588.6 1257.9,567.6 1242.4,593.8 1278.3,553.9 1245.3,590.0 1278.8,588.1 1264.4,575.8 1207.5,611.9 1233.3,584.0 1222.8,621.8 1250.3,581.6 1247.7,549.0 1267.5,543.3 1240.6,606.9 1213.7,597.7 1269.6,578.6 1247.2,565.3 1205.9,631.8 1276.6,575.2 1273.0,565.3 1210.9,631.6 1255.7,552.2 1283.3,578.3 1228.6,587.5 1244.4,580.3 1224.4,602.9 1274.5,543.1 1238.1,572.4 1223.9,620.6 1281.8,589.2 1268.5,574.4 1260.6,602.6 1252.5,579.6 1281.8,548.3 1270.0,599.4 1285.5,544.1 1219.6,614.8 1249.0,598.5 1237.8,612.8 1255.4,559.5 1276.7,541.2 1220.9,621.8 1293.8,556.3 1205.3,625.2 1269.4,570.9 1232.7,616.6 1208.9,627.3 1259.9,565.6 1245.5,599.2 1246.9,577.1 1319.8,529.7 1254.2,554.3 1233.3,610.6 1238.6,604.8 1261.1,574.4 1224.6,619.6 1231.3,618.3 1242.8,588.3 1232.2,609.7 1214.6,621.1 1219.6,622.4 1282.4,561.8 1233.1,588.2 1236.7,562.3 1270.5,571.5 1269.4,545.2 1243.2,604.8 1269.1,567.0 1225.8,622.3 1260.2,586.3 1247.6,588.4 1215.1,629.8 1221.4,575.8 1254.8,594.4 1267.7,551.8 1242.7,576.5 1293.5,566.8 1286.2,526.1 1299.0,549.5 1215.7,628.6 1287.8,560.5 1282.7,550.7 1261.7,549.0 1284.6,505.8 1244.9,600.7 1226.2,583.3 1223.0,614.2 1245.7,592.4 1280.9,551.9 1255.9,580.8 1272.6,585.7 1284.4,545.2 1251.6,602.4 1257.1,568.6 1236.1,623.3 1235.2,569.0 1261.3,591.0 1299.9,516.4 1197.9,620.2 1257.8,548.8 1274.7,559.9 1275.7,563.4 1240.5,581.9 1265.6,555.5 1212.1,594.3 1282.0,586.3 1277.7,532.0 1221.4,606.2 1292.0,540.3 1236.3,613.7 1284.7,557.9 1277.9,565.5 1238.7,565.5 1225.0,610.8 1239.0,600.4 1272.3,556.2 1272.5,546.4 1260.6,556.5 1293.3,533.4 1243.3,594.1 1255.0,591.5 1230.3,605.9 1229.4,608.7 1235.9,610.3 1287.9,545.1 1264.4,542.8 1286.5,526.0 1224.8,606.1 1284.6,520.6 1260.3,568.6 1198.6,619.7 1239.7,594.5 1205.5,606.3 1240.6,583.2 1308.4,521.5 1237.7,618.8 1243.8,587.1 1250.2,602.7 1272.0,561.4 1270.2,570.6 1230.9,599.3 1271.8,557.9 1219.4,599.3 1239.2,595.3 1266.8,534.6 1248.9,590.7 1247.3,570.0 1290.8,530.1 1290.6,544.1 1271.1,549.1 1195.9,599.9 1270.8,574.7 1281.5,563.0 1217.2,588.1 1222.8,615.6 1286.5,549.2 1271.4,571.9 1238.2,586.8 1281.7,565.6 1214.6,612.7 1262.1,541.7 1245.5,588.1 1231.5,586.3 1243.9,563.7 1231.9,594.3 1241.0,576.9 1259.7,575.1 1211.6,611.7 1237.5,586.1 1263.7,582.2 1284.6,565.0 1212.6,627.5 1276.7,550.4 1256.4,578.7 1247.5,589.4 1204.6,619.1 1285.1,546.8 1229.0,591.1 1260.3,576.8 1240.5,618.5 1277.1,565.1 1209.9,591.5 1222.9,612.5 1258.9,561.7 1260.7,538.0 1259.5,585.1 1226.4,589.0 1231.2,623.3 1224.2,612.1 1241.4,591.9 1252.2,593.8 1280.4,559.9 1244.8,580.7 1256.1,565.4 1267.4,577.4 1263.0,563.8 1207.6,623.9 1226.8,604.8 1205.2,623.1 1220.3,603.1 1247.8,550.6 1272.2,564.5 1244.7,584.6 1206.0,607.0 1279.4,555.7 1260.2,549.0 1268.1,570.9 1276.9,560.1 1226.7,629.4 1281.7,548.7 1237.9,557.0 1212.8,590.3 1257.1,572.4 1239.8,584.2 1203.4,613.7 1269.4,580.2 1318.4,511.9 1272.6,559.9 1278.4,585.2 1229.2,620.9 1251.8,592.1 1231.2,610.1 1281.3,550.7 1239.1,604.4 1238.8,586.6 1215.5,610.8 1292.8,537.1 1207.3,597.8 1268.2,562.9 1287.9,538.0 1209.0,602.5 1277.6,553.2 1282.3,542.4 1232.8,563.7 1266.1,570.8 1258.6,589.9 1237.0,589.7 1201.7,611.0 1262.7,541.5 1229.5,614.3 1280.3,562.2 1274.5,563.6 1263.5,584.2 1261.7,589.7 1269.1,575.6 1234.4,590.5 1271.7,571.5 1256.2,543.9 1256.5,594.2 1254.5,568.2 1268.4,530.8 1268.0,551.6 1255.3,588.8 1213.0,628.6 1208.7,626.3 1267.3,535.1 1276.6,549.8 1264.2,554.8 1292.4,555.5 1214.1,622.7 1206.5,608.9 1251.5,586.6 1286.9,549.9 1298.7,534.4 1254.3,556.0 1235.8,591.5 1272.1,571.5 1285.9,575.3 1262.9,548.0 1277.2,560.1 1248.1,568.9 1269.1,551.2 1235.8,610.3 1248.7,605.3 1234.8,582.7 1245.5,628.4 1277.4,521.8 1256.1,591.7 1280.6,544.6 1210.0,608.4 1258.0,534.1 1238.4,615.5 1252.9,583.1 1273.6,538.8 1245.5,588.4 1257.9,589.2 1252.2,613.0 1216.7,602.4 1262.9,569.3 1231.8,604.0 1221.9,628.4 1243.3,595.6 1219.7,597.8 1266.0,560.2 1227.0,588.1 1229.9,595.0 1260.2,578.8 1244.8,594.4 1235.0,599.4 1228.6,616.3 1238.1,570.2 1281.4,569.3 1259.8,539.4 1293.0,547.3 1282.8,546.3 1266.1,589.5 1230.3,574.1 1236.5,567.5 1234.1,574.1 1217.2,587.2 1220.8,592.8 1247.3,621.1 1262.9,555.7 1199.9,624.1 1273.1,562.1 1256.2,584.7 1254.4,595.7 1214.1,613.3 1212.9,604.7 1270.0,581.0 1207.7,624.4 1284.5,535.2 1221.1,618.4 1264.4,570.5 1209.9,606.5 1212.9,600.6 1227.4,595.0 1242.1,577.7 1274.0,566.7 1248.2,586.5 1216.7,620.5 1244.4,607.1 1273.8,540.8 1215.9,586.3 1222.8,575.5 1268.4,566.4 1234.6,609.7 1224.7,627.3 1235.6,586.6 1223.6,614.7 1242.7,569.4 1275.8,574.5 1227.5,605.8 1288.8,550.2 1247.9,580.6 1265.5,569.6 1243.0,626.3 1229.3,591.1 1245.8,586.9 1284.9,544.9 1247.8,603.6 1237.1,597.2 1220.3,602.2 1252.2,576.5 1298.3,538.0 1216.9,598.6 1281.2,551.3 1302.9,527.0 1249.2,584.1 1206.2,621.5 1308.0,539.7 1227.0,607.2 1235.4,600.7 1229.2,615.0 1263.4,535.8 1283.7,574.3 1236.0,599.6 1281.4,543.3 1261.1,566.4 1235.2,571.9 1274.6,594.6 1296.2,536.6 1257.3,591.2 1260.2,598.0 1241.4,604.3 1253.5,571.3 1245.0,594.1 1253.5,542.3 1276.1,581.9 1246.7,580.4 1275.9,541.1 1252.8,584.3 1282.6,535.9 1243.2,595.1 1280.3,565.3 1214.0,631.7 1262.8,554.2 1274.2,541.1 1235.2,599.3 1245.0,563.6 1251.2,602.8 1268.9,562.1 1274.4,537.4 1229.0,595.4 1229.5,598.4 1240.0,567.2 1236.8,605.3 1225.1,608.0 1228.5,573.2 1277.7,571.8 1238.7,584.2 1204.0,623.0 1221.2,608.4 1234.5,591.2 1253.1,593.5 1253.3,574.7 1236.6,598.8 1222.9,605.2 1245.5,583.3 1213.2,588.7 1241.3,572.3 1229.0,565.4 1259.3,562.3 1281.7,530.7 1270.3,532.9 1271.0,571.9 1254.6,602.3 1202.4,621.1 1211.1,631.7 1213.8,627.7 1205.6,629.5 1269.0,544.3 1266.1,569.8 1242.5,604.6 1225.0,618.7 1201.8,621.9 1248.2,571.9 1243.1,569.9 1228.7,610.2 1240.0,607.7 1257.7,595.2 1265.0,573.8 1261.5,587.3 1249.6,578.0 1244.0,585.0 1289.9,543.5 1212.5,609.7 1234.4,619.7 1265.1,562.5 1205.0,619.6 1261.8,597.7 1255.9,568.4 1275.8,562.4 1303.6,537.7 1290.4,563.7 1231.4,601.9 1275.3,564.1 1272.9,562.8 1229.1,592.1 1208.0,613.4 1235.7,556.0 1253.9,578.9 1258.3,580.0 1249.1,585.2 1208.6,612.8 1260.7,585.3 1223.4,607.0 1210.5,628.9 1266.2,566.8 1293.2,537.0 1287.7,580.0 1275.0,547.9 1238.0,605.1 1223.5,629.5 1209.5,602.7 1214.0,625.0 1247.9,578.2 1225.1,581.9 1257.3,564.5 1202.8,631.8 1274.4,597.7 1252.1,558.5 1234.0,584.2 1266.2,584.8 1212.6,618.0 1216.4,624.0 1195.9,617.2 1308.8,540.0 1265.6,565.9 1256.8,566.2 1250.0,605.7 1281.3,573.5 1258.7,581.2 1244.7,548.7 1252.7,594.5 1240.3,602.1 1270.4,542.9 1228.5,598.5 1206.6,606.4 1290.0,549.6 1237.3,609.5 1224.9,615.4 1270.7,559.0 1273.0,575.3 1279.8,562.9 1287.5,554.3 1293.3,544.7 1223.2,626.4 1238.3,601.9 1303.6,527.7 1288.8,518.1 1243.0,557.5 1229.5,612.2 1195.7,615.5 1274.0,545.9 1258.9,614.2 1249.1,578.5 1208.0,610.0 1244.0,599.1 1262.2,539.1 1255.9,549.2 1226.6,618.4 1242.4,571.1 1289.0,554.3 1275.1,555.3 1243.0,572.0 1218.6,620.6 1239.5,581.0 1249.1,547.2 1219.2,611.0 1272.3,543.7 1232.0,613.7 1227.7,607.3 1264.7,555.3 1237.2,596.1 1234.8,610.7 1254.9,575.1 1283.1,561.0 1297.2,553.9 1256.2,570.4 1207.3,631.5 1269.1,549.8 1282.8,554.8 1274.0,557.3 1285.2,559.2 1258.8,556.5 1238.6,563.3 1273.7,560.4 1283.7,535.3 1242.3,604.7 1287.3,566.7 1257.3,584.4 1257.9,577.6 1232.2,608.3 1266.1,578.7 1228.0,617.4 1226.7,601.3 1272.6,537.7 1260.4,558.1 1263.0,548.8 1281.8,544.4 1295.3,554.0 1237.0,605.2 1250.7,599.4 1254.5,591.1 1242.3,594.5 1236.9,597.6 1284.5,550.3 1215.1,586.1 1290.9,553.5 1245.6,597.2 1232.9,623.1 1226.1,588.4 1243.1,573.7 1291.9,558.7 1239.0,585.7 1282.8,537.3 1232.2,601.9 1214.6,621.2 1279.3,544.8 1243.3,586.0 1197.9,616.9 1208.0,627.5 1285.9,541.6 1268.3,573.8 1251.8,569.7 1240.2,577.8 1216.2,603.6 1262.5,570.3 1272.0,582.5 1209.9,626.0 1250.1,554.6 1251.7,556.6 1253.9,589.6 1226.0,570.8 1246.9,559.5 1276.9,535.1 1230.7,590.9 1244.8,569.8 1263.0,525.7 1265.3,571.9 1222.3,618.0 1215.2,598.9 1274.0,532.4 1201.1,620.6 1261.8,577.1 1257.0,585.0 1201.4,631.9 1267.2,552.8 1211.1,608.7 1226.0,622.0 1250.1,610.3 1217.3,598.2 1266.4,564.1 1300.7,525.8 1275.9,533.7 1260.8,595.4 1285.7,540.7 1243.3,595.3 1256.7,565.0 1236.8,597.0 1247.2,571.9 1281.3,553.4 1266.2,578.8 1222.2,592.9 1215.6,596.8 1211.1,624.0 1249.4,568.7 1209.9,630.8 1270.9,568.9 1220.7,616.3 1247.1,559.0 1236.8,617.8 1242.1,579.1 1286.2,545.6 1202.6,627.6 1240.3,580.7 1258.7,586.8 1240.2,586.6 1261.3,559.8 1207.7,613.6 1220.9,613.8 1276.8,544.3 1257.7,577.4 1234.5,626.7 1270.6,568.6 1278.0,558.0 1217.5,624.1 1235.4,594.6 1257.3,568.1 1203.2,614.5 1243.9,551.0 1237.1,614.8 1252.7,574.8 1246.3,576.9 1248.9,569.4 1264.9,605.6 1213.2,610.3 1273.7,588.7 1242.1,594.6 1222.1,576.8 1270.2,559.7 1206.7,591.9 1239.8,551.1 1283.4,536.9 1270.1,563.3 1263.2,552.6 1195.9,615.2 1196.8,607.8 1230.6,596.2 1267.5,576.7 1200.1,609.0 1291.9,536.6 1222.5,610.5 1243.4,578.5 1286.5,549.8 1211.4,621.6 1215.0,603.4 1270.6,555.9 1231.1,617.5 1273.1,539.3 1260.3,565.4 1230.7,620.6 1273.9,566.3 1227.8,570.5 1286.8,541.5 1267.7,549.9 1258.6,579.4 1256.5,575.7 1208.2,629.0 1234.0,607.9 1234.1,584.2 1204.8,612.0 1223.5,595.2 1218.9,623.3 1249.5,592.7 1261.0,605.2 1210.1,605.7 1261.9,589.4 1299.9,544.8 1271.8,540.4 1293.2,536.2 1235.6,582.5 1281.9,540.3 1196.5,613.1 1240.3,588.7 1260.8,582.5 1277.9,558.1 1256.7,588.1 1201.6,628.7 1257.4,562.2 1261.4,592.2 1284.4,575.6 1241.1,566.4 1204.9,624.8 1227.6,630.8 1228.1,586.3 1209.7,604.1 1276.5,541.1 1264.7,573.7 1234.7,584.2 1245.1,601.0 1238.6,555.7 1234.5,605.9 1271.9,544.6 1273.8,567.6 1248.8,609.2 1233.8,608.8 1226.1,567.8 1260.2,568.3 1206.3,610.7 1204.2,610.4 1233.7,614.6 1239.7,590.1 1234.6,598.2 1275.8,565.7 1228.0,603.9 1272.7,584.7 1246.7,577.5 1270.4,538.2 1220.7,630.3 1241.9,577.2 1230.2,588.6 1267.6,549.7 1221.3,585.8 1236.5,596.0 1273.7,568.0 1208.1,613.5 1231.3,600.8 1250.4,594.7 1242.6,596.4 1225.7,606.7 1276.6,521.2 1250.9,571.9 1238.0,607.4 1272.1,566.3 1268.1,556.1 1261.7,559.7 1258.6,589.2 1291.7,543.9 1244.3,568.9 1241.5,597.2 1245.8,582.2 1241.3,621.7 1284.8,572.3 1246.2,572.1 1248.3,602.2 1223.4,596.6 1272.4,564.5 1212.4,617.9 1223.2,589.7 1219.3,615.6 1241.4,593.5 1247.3,567.0 1227.5,625.4 1213.2,623.6 1268.3,584.0 1257.3,597.9 1286.4,526.8 1242.6,566.3 1205.0,628.8 1268.5,562.2 1231.5,595.9 1226.6,608.3 1270.1,535.8 1279.6,562.9 1228.0,600.1 1238.4,596.0 1221.7,620.0 1218.3,607.9 1266.0,585.9 1228.6,611.3 1232.2,594.9 1262.2,550.6 1246.0,565.2 1225.7,587.1 1203.2,610.3 1277.7,551.8 1213.0,585.9 1274.3,524.0 1241.1,596.7 1207.4,632.0 1274.7,561.8 1268.1,562.6 1236.6,589.7 1216.1,614.6 1265.1,554.5 1234.2,576.2 1225.0,592.5 1251.7,566.5 1228.2,612.2 1226.5,613.7 1270.8,525.6 1241.7,589.7 1245.3,600.8 1279.6,530.1 1226.0,577.2 1248.1,551.9 1239.6,611.5 1224.8,593.5 1241.1,589.7 1218.7,628.4 1276.2,569.1 1301.2,541.9 1254.4,583.1 1255.6,555.5 1268.9,564.3 1254.0,539.8 1228.6,610.3 1241.8,603.6 1216.5,619.5 1278.1,563.0 1217.2,628.1 1246.6,588.2 1238.6,598.0 1235.3,600.5 1222.0,617.9 1241.4,576.7 1268.3,590.0 1243.4,613.0 1221.5,622.9 1259.8,599.1 1239.1,611.8 1239.5,616.4 1251.1,582.6 1217.6,624.3 1209.8,608.4 1276.6,581.7 1247.3,616.2 1260.6,599.6 1233.5,622.2 1297.7,544.9 1288.8,526.7 1237.4,600.9 1231.1,606.7 1252.4,569.5 1241.1,619.2 1221.0,631.4 1276.4,527.0 1248.4,597.4 1226.3,623.9 1230.5,591.4 1287.0,538.9 1250.9,581.8 1208.4,596.1 1278.8,513.9 1237.8,605.1 1236.3,555.3 1270.1,545.8 1226.3,581.9 1238.6,591.0 1273.5,550.3 1248.2,587.2 1258.4,599.9 1248.5,594.0 1225.0,627.1 1268.4,519.7 1279.0,527.0 1228.7,577.2 1246.1,610.6 1269.7,524.1 1274.9,572.6 1231.8,622.0 1237.5,589.4 1220.9,621.4 1203.8,602.2 1243.5,595.8 1261.4,556.3 1290.5,535.6 1282.0,559.1 1224.5,615.7 1264.3,573.3 1213.5,620.2 1238.2,597.8 1217.8,602.3 1224.3,616.1 1208.7,623.3 1262.6,536.3 1278.0,540.3 1214.2,620.0 1235.4,592.1 1206.0,620.2 1255.6,553.1 1266.7,547.6 1285.7,541.0 1273.7,561.5 1239.8,592.8 1246.6,608.2 1244.6,609.1 1235.7,570.8 1258.3,566.9 1198.9,620.4 1262.2,571.7 1228.5,599.7 1304.1,535.0 1273.9,590.5 1294.9,539.5 1219.7,627.7 1260.6,595.5 1223.7,600.6 1239.0,579.3 1214.8,611.6 1212.7,603.9 1233.6,615.8 1228.7,594.7 1231.8,603.5 1234.1,608.8 1246.3,585.4 1256.0,592.5 1273.7,560.6 1249.2,582.8 1254.6,609.5 1225.6,581.3 1247.6,565.9 1256.0,559.7 1296.4,496.2 1206.0,619.2 1246.7,574.0 1273.6,523.6 1247.0,610.0 1216.2,602.4 1263.6,570.4 1250.8,561.3 1244.2,575.8 1240.7,605.1 1245.2,588.1 1266.7,582.9 1221.8,612.8 1279.8,550.5 1197.7,605.9 1221.3,609.1 1217.0,624.3 1257.8,570.2 1255.7,576.4 1248.9,591.1 1263.8,561.1 1267.2,582.7 1249.3,597.8 1284.3,537.5 1258.8,553.6 1244.7,577.7 1294.5,535.6 1209.4,606.7 1288.1,531.7 1219.5,583.8 1219.8,606.3 1223.7,611.5 1233.4,622.8 1270.3,534.2 1215.3,602.4 1276.6,561.1 1224.0,631.3 1222.1,587.5 1218.9,616.8 1206.4,618.9 1272.7,529.0 1291.7,513.1 1235.8,591.3 1274.1,554.1 1224.9,598.5 1276.7,577.6 1272.4,538.9 1239.7,630.2 1273.1,556.9 1233.9,591.7 1252.3,564.9 1226.6,601.7 1206.2,588.4 1282.4,521.7 1242.4,593.0 1214.7,624.4 1279.0,562.0 1257.4,569.2 1230.0,564.4 1251.7,581.2 1235.3,620.6 1230.2,605.4 1232.9,615.3 1250.1,574.2 1287.2,559.9 1252.8,564.2 1278.1,553.7 1316.5,517.1 1265.8,557.6 1241.1,600.6 1209.9,628.1 1275.4,543.7 1286.4,541.8 1223.1,601.6 1279.7,531.1 1257.5,548.4 1288.9,532.3 1241.4,601.1 1245.7,624.6 1282.9,585.1 1299.3,560.8 1213.4,624.0 1286.1,572.7 1253.5,605.4 1260.0,557.2 1268.6,559.3 1244.7,571.5 1267.4,539.7 1253.8,573.1 1248.5,609.9 1255.8,548.1 1230.0,574.7 1299.6,533.2 1211.1,609.8 1210.0,613.3 1255.8,581.7 1262.1,548.2 1266.5,579.8 1229.5,594.1 1206.6,620.0 1240.5,603.3 1261.2,539.6 1221.2,629.7 1254.0,594.0 1289.2,563.4 1278.5,553.4 1269.7,562.8 1273.9,569.9 1255.5,554.2 1239.4,591.5 1256.1,563.6 1287.6,565.0 1276.7,557.2 1215.7,600.6 1219.4,607.6 1197.9,619.1 1201.6,622.6 1244.0,582.2 1210.8,618.3 1279.0,538.8 1230.6,610.8 1204.1,600.1 1262.5,567.1 1265.1,554.8 1249.3,570.2 1276.0,541.7 1218.1,623.2 1213.8,606.6 1238.4,621.4 1210.0,605.9 1250.4,583.9 1284.2,548.2 1211.1,587.2 1212.9,625.7 1216.8,628.5 1204.3,614.4 1277.5,588.1 1269.0,558.3 1294.5,539.0 1227.9,620.2 1226.9,620.5 1246.4,590.0 1287.5,580.6 1205.7,615.9 1267.2,566.8 1215.5,626.8 1217.0,623.8 1215.2,604.4 1245.2,579.9 1257.4,613.0 1252.4,561.8 1240.2,572.9 1272.5,543.9 1221.8,614.9 1265.1,565.8 1272.7,554.8 1227.5,598.6 1277.1,556.8 1271.2,570.1 1274.0,534.7 1236.4,596.1 1234.6,624.1 1258.1,588.6 1239.4,606.4 1261.2,569.8 1239.7,560.5 1232.0,592.8 1228.2,584.7 1241.3,554.4 1284.3,579.6 1264.1,571.4 1258.2,584.5 1229.2,596.5 1259.2,590.1 1214.2,590.6 1213.8,631.8 1270.4,577.6 1281.3,570.2 1271.6,557.0 1272.3,566.7 1238.3,588.3 1273.6,563.2 1249.7,572.6 1250.0,577.0 1203.6,613.1 1230.7,589.1 1286.1,550.0 1263.4,542.0 1286.4,550.3 1198.2,623.4 1227.1,631.4 1243.9,601.1 1297.1,556.0 1245.4,580.9 1218.9,584.9 1237.5,567.8 1279.2,541.2 1282.8,556.6 1210.7,626.7 1227.5,611.9 1271.7,535.1 1251.6,615.9 1241.5,594.4 1277.3,548.7 1227.4,599.6 1277.9,557.1 1220.6,603.3 1210.6,605.1 1243.5,581.7 1251.9,558.0 1295.5,561.8 1258.4,562.3 1220.4,613.6 1220.0,628.9 1282.8,535.3 1225.2,593.1 1240.5,609.9 1265.2,551.2 1234.5,619.9 1220.6,590.9 1222.8,617.6 1282.3,546.2 1242.1,592.5 1284.6,533.4 1232.3,585.8 1235.6,591.3 1283.2,556.9 1272.2,562.2 1268.4,590.0 1266.6,581.9 1293.2,532.1 1281.9,555.8 1280.8,542.0 1232.9,615.2 1228.2,607.1 1222.2,612.2 1207.9,610.7 1217.9,598.7 1252.2,586.5 1255.6,608.7 1201.2,599.3 1266.5,603.3 1292.1,534.9 1236.6,626.7 1272.8,554.7 1225.5,605.6 1273.7,543.1 1258.8,583.4 1211.3,612.5 1276.2,565.1 1254.7,594.4 1222.6,628.3 1247.6,599.3 1246.2,554.1 1275.3,535.8 1226.5,596.6 1275.7,590.8 1222.8,614.6 1242.9,577.7 1257.2,607.3 1249.9,563.4 1279.5,548.4 1228.9,601.2 1286.1,542.7 1257.4,573.8 1289.2,528.0 1279.6,525.7 1277.9,520.8 1214.4,596.4 1243.3,586.7 1276.8,589.5 1244.1,609.7 1263.3,575.7 1244.9,575.5 1257.5,550.6 1226.7,615.6 1229.2,618.3 1256.3,572.7 1240.7,588.4 1221.3,601.2 1197.8,626.7 1234.5,603.4 1277.5,558.3 1265.5,567.2 1276.6,527.6 1273.5,547.8 1207.5,587.6 1233.2,620.8 1281.7,537.6 1286.1,530.1 1287.7,551.7 1218.8,628.2 1254.1,563.6 1232.4,596.8 1240.0,595.4 1258.8,558.7 1246.9,589.0 1265.5,577.9 1213.8,615.5 1237.5,598.3 1210.3,624.5 1250.4,603.5 1244.1,589.2 1254.7,603.9 1206.7,601.6 1269.5,556.5 1275.6,547.4 1265.8,546.8 1232.9,574.4 1211.4,606.0 1223.9,624.3 1208.5,624.6 1274.7,564.6 1280.0,551.4 1284.5,534.5 1230.4,581.0 1270.0,579.0 1234.0,584.9 1259.8,562.8 1280.0,566.7 1239.9,594.9 1251.4,556.7 1252.4,579.5 1215.2,613.9 1247.9,566.6 1233.8,598.7 1253.7,576.8 1206.8,606.6 1218.0,596.5 1277.3,544.0 1265.0,598.1 1276.3,578.6 1257.9,562.0 1293.9,550.2 1285.6,568.0 1270.3,535.8 1284.6,572.8 1276.4,582.4 1280.0,543.6 1238.9,570.8 1278.1,533.5 1228.0,628.3 1202.4,620.9 1260.6,588.5 1258.3,565.8 1283.7,567.1 1276.6,543.9 1282.9,546.7 1234.2,591.7 1209.2,601.2 1269.2,542.6 1235.0,558.2 1222.7,623.2 1208.7,610.5 1220.9,602.8 1241.4,595.0 1294.0,521.1 1220.7,612.9 1210.7,612.9 1260.4,567.7 1254.4,590.7 1226.1,616.5 1251.5,575.4 1207.0,624.2 1247.3,566.9 1275.7,566.4 1299.1,557.2 1206.1,606.4 1196.6,604.7 1252.5,570.9 1287.2,553.3 1245.4,583.7 1264.5,537.0 1270.1,551.9 1256.1,601.4 1267.2,555.5 1299.4,524.4 1198.2,623.2 1208.7,596.2 1241.1,590.0 1207.0,620.2 1253.5,557.7 1287.3,554.8 1252.3,582.3 1254.0,608.2 1240.9,586.2 1244.2,573.3 1253.1,568.3 1224.1,624.8 1245.5,601.9 1288.0,524.3 1254.0,582.9 1234.8,612.6 1260.8,587.3 1250.3,573.5 1261.4,569.2 1225.0,603.4 1264.5,555.8 1264.4,560.7 1272.0,515.6 1246.4,587.4 1260.2,578.1 1207.5,630.8 1270.5,594.6 1251.3,554.4 1263.9,590.2 1298.6,555.7 1210.1,629.1 1267.0,562.9 1255.1,580.7 1259.6,591.1 1233.7,586.3 1268.4,584.5 1276.1,538.6 1293.2,556.4 1214.9,615.4 1216.7,616.1 1220.9,613.4 1218.9,596.9 1221.0,595.2 1228.7,591.4 1256.8,574.7 1265.3,579.9 1220.8,590.9 1272.6,568.7 1253.1,588.0 1232.7,582.7 1268.0,544.7 1286.6,548.9 1224.3,601.9 1258.3,561.6 1288.1,551.3 1238.9,589.3 1246.6,583.3 1214.9,606.5 1273.9,531.7 1243.0,590.0 1290.7,522.0 1217.0,600.3 1212.5,590.4 1231.2,610.4 1232.2,612.9 1247.2,585.0 1273.4,586.6 1239.0,613.2 1247.2,569.9 1234.5,558.2 1252.6,550.1 1286.1,550.4 1243.2,563.8 1271.5,548.3 1290.9,542.9 1233.4,572.8 1273.9,534.5 1226.2,595.4 1248.9,561.7 1269.5,539.6 1227.5,595.8 1224.5,589.5 1280.8,550.5 1271.5,560.1 1233.8,598.1 1226.2,606.2 1274.1,556.3 1268.3,530.7 1219.9,610.0 1286.3,532.9 1250.7,575.5 1217.0,615.8 1211.4,627.5 1217.8,586.5 1233.8,613.2 1276.1,534.6 1274.2,533.3 1240.8,570.7 1231.0,613.2 1263.4,556.2 1253.7,564.4 1264.0,551.8 1271.2,567.6 1217.8,623.0 1217.4,585.7 1284.4,526.4 1280.9,530.4 1209.0,609.3 1210.6,588.9 1227.2,607.6 1255.8,565.9 1236.3,601.0 1248.0,574.9 1267.3,546.6 1245.4,610.3 1272.6,569.2 1263.9,603.6 1253.4,577.8 1263.8,554.1 1285.1,510.6 1281.6,539.8 1282.6,556.6 1289.5,529.9 1214.7,626.8 1279.1,525.6 1221.0,591.8 1289.0,566.7 1263.1,569.5 1259.4,528.5 1214.8,596.0 1239.1,595.7 1257.3,557.7 1270.5,548.5 1275.9,552.7 1231.3,585.1 1202.7,628.1 1248.4,570.1 1287.6,541.3 1227.4,608.7 1258.5,562.4 1278.7,553.1 1295.8,550.4 1284.1,564.9 1262.0,560.8 1242.9,604.2 1243.5,604.4 1271.1,569.1 1225.1,595.3 1253.0,617.6 1265.3,559.1 1210.3,629.9 1265.8,533.7 1263.3,571.2 1221.1,608.4 1245.9,579.3 1261.0,561.5 1219.7,608.5 1265.3,521.4 1243.7,594.9 1230.2,604.4 1282.0,550.7 1201.9,609.0 1216.9,621.0 1271.2,575.9 1252.0,593.3 1234.1,598.7 1279.0,560.4 1244.1,609.0 1257.0,574.1 1228.5,572.6 1234.8,606.5 1266.5,562.3 1230.8,561.1 1225.4,605.1 1231.5,626.0 1243.4,574.3 1233.1,601.2 1294.8,508.1 1266.5,581.8 1230.0,573.6 1270.8,563.2 1304.4,539.7 1218.9,624.6 1250.2,573.3 1244.1,567.0 1265.5,580.6 1258.6,602.3 1289.9,554.0 1268.8,591.7 1226.3,624.3 1245.2,593.0 1256.3,574.7 1230.9,605.8 1243.3,621.5 1259.3,580.9 1274.9,586.5 1228.2,597.1 1282.5,552.2 1292.9,526.0 1293.9,507.1 1278.0,539.4 1245.8,589.2 1218.9,614.1 1290.0,547.6 1255.5,578.8 1213.5,592.8 1249.6,596.0 1244.4,593.0 1250.5,579.6 1278.7,544.9 1243.0,578.6 1265.4,576.7 1316.9,512.4 1332.6,489.7 1292.5,528.9 1278.0,539.4 1313.6,517.2 1324.5,489.2 1317.1,513.0 1308.7,501.1 1303.5,520.8 1296.3,536.8 1313.7,510.3 1311.4,504.1 1294.7,530.5 1321.8,495.0 1331.2,489.2 1304.9,509.3 1279.1,545.9 1293.8,527.7 1294.4,509.7 1312.3,507.0 1310.5,510.3 1318.0,512.9 1302.7,512.3 1292.6,538.4 1309.0,515.8 1287.2,518.0 1315.9,514.2 1296.5,518.9 1305.7,522.3 1280.9,560.3 1310.4,518.9 1296.4,534.5 1306.5,518.4 1297.4,530.9 1334.2,489.5 1324.6,498.7 1332.5,477.3 1289.9,528.9 1313.8,516.3 1299.7,524.6 1292.4,537.6 1306.8,506.4 1296.3,542.5 1337.5,476.7 1297.4,521.0 1315.6,510.3 1297.8,531.6 1298.4,523.2 1301.8,536.8 1328.1,499.2 1326.3,508.0 1308.7,510.7 1297.7,536.8 1305.5,521.8 1321.3,519.9 1290.9,540.7 1305.3,509.3 1272.1,552.9 1287.4,526.8 1324.4,480.6 1277.4,546.6 1311.1,524.7 1290.8,527.3 1283.0,539.6 1289.7,532.7 1276.7,546.5 1303.5,512.4 1305.9,511.9 1281.3,543.3 1303.6,515.6 1300.2,521.7 1257.1,572.6 1298.5,525.9 1291.2,537.2 1284.6,540.2 1279.0,541.9 1266.1,564.3 1283.8,544.0 1303.9,503.1 1284.0,541.5 1317.0,511.7 1289.2,523.3 1310.6,526.7 1284.4,527.8 1288.7,525.5 1304.8,523.5 1295.4,531.0 1314.0,518.2 1280.4,545.2 1292.7,543.1 1283.5,556.5 1325.7,493.5 1328.8,497.5 1302.2,523.2 1308.6,517.5 1298.0,534.1 1296.7,526.6 1337.8,490.2 1305.1,514.6 1303.5,525.9 1290.4,524.6 1310.4,517.4 1308.9,508.4 1289.0,529.2 1298.7,527.3 1318.0,515.9 1301.0,517.0 1299.3,537.7 1304.3,516.3 1309.3,528.3 1300.5,528.3 1294.6,532.3 1310.6,518.4 1292.9,531.1 1281.0,541.5 1288.1,537.4 1299.2,524.1 1283.9,530.9 1278.4,542.7 1316.0,503.1 1279.9,553.0 1292.9,543.6 1320.6,507.2 1286.7,531.8 1293.9,530.9 1274.3,547.8 1306.9,529.9 1279.2,566.2 1313.6,508.3 1303.7,544.4 1312.0,514.3 1299.8,540.5 1279.6,547.8 1287.8,535.1 1328.8,504.2 1300.5,514.3 1297.0,525.6 1322.0,501.7 1278.2,559.4 1299.4,534.5 1318.3,507.3 1283.0,536.5 1308.4,516.7 1302.4,538.2 1331.3,505.6 1310.5,511.1 1306.6,520.3 1294.0,524.1 1289.7,532.2 1276.0,544.6 1281.2,535.7 1265.2,556.8 1296.9,525.6 1315.2,526.1 1332.6,481.2 1304.1,512.1 1324.8,491.5 1289.7,548.0 1288.9,533.2 1303.6,511.0 1288.2,534.1 1316.8,508.9 1324.3,516.2 1302.7,529.6 1286.7,523.0 1297.1,527.4 1284.0,533.8 1329.0,493.4 1306.9,527.6 1321.4,488.0 1284.3,537.9 1328.0,481.3 1294.3,530.3 1304.7,530.1 1305.7,504.4 1321.1,503.4 1324.6,493.4 1302.6,518.6 1282.2,536.7 1325.2,491.3 1294.0,518.6 1283.6,544.4 1276.7,541.2 1288.8,522.6 1266.6,565.2 1301.6,533.0 1293.5,532.9 1320.4,489.3 1313.4,506.3 1294.7,521.2 1263.6,566.1 1290.6,552.8 1297.6,535.6 1317.7,517.5 1281.2,563.9 1297.1,530.6 1273.1,545.3 1321.8,494.4 1292.4,529.5 1283.3,539.2 1304.7,522.3 1282.4,529.6 1289.9,528.8 1299.7,519.1 1300.6,544.1 1287.2,529.9 1322.9,487.7 1302.2,522.7 1298.0,542.6 1323.0,489.7 1311.5,515.7 1324.9,499.0 1293.3,535.7 1300.3,526.7 1313.8,518.7 1311.6,508.0 1290.3,524.0 1334.3,486.0 1288.6,548.5 1312.8,513.5 1298.8,527.9 1298.9,528.3 1298.5,523.5 1340.2,479.9 1291.0,535.2 1271.8,556.7 1324.9,507.6 1305.6,514.6 1305.2,509.9 1312.4,507.8 1332.2,486.6 1295.1,526.7 1306.0,498.2 1300.8,531.0 1309.0,522.4 1287.4,552.9 1297.0,538.0 1318.8,512.2 1307.3,514.5 1263.4,570.0 1340.7,478.2 1324.3,503.7 1331.8,497.2 1332.8,497.0 1289.4,540.9 1297.8,515.5 1297.1,550.7 1308.3,509.2 1294.8,524.4 1312.0,515.2 1291.6,529.2 1298.6,513.2 1291.1,541.8 1292.0,531.5 1209.1,614.0 1256.3,571.5 1234.5,618.7 1264.1,569.2 1252.6,559.1 1228.9,629.1 1258.0,579.9 1281.4,576.1 1264.3,569.8 1234.7,618.3 1220.7,588.4 1303.9,542.1 1241.4,617.2 1281.9,545.1 1259.8,533.1 1240.4,588.9 1226.7,607.3 1234.8,576.9 1248.9,578.3 1273.7,528.2 1257.3,546.8 1250.6,576.4 1266.2,609.3 1274.9,540.4 1259.6,548.0 1263.8,528.7 1254.0,595.0 1242.8,612.2 1210.4,616.2 1260.0,567.7 1236.5,590.0 1293.8,544.8 1228.7,604.5 1220.5,613.9 1252.8,544.0 1290.5,546.7 1268.5,610.8 1270.2,605.3 1205.1,632.7 1289.1,584.2 1230.8,613.4 1237.6,627.1 1262.2,578.3 1280.5,560.4 1262.1,512.6 1229.6,592.3 1262.2,526.4 1245.1,624.8 1230.9,609.6 1268.0,591.7 1280.5,528.6 1272.8,508.7 1244.5,583.7 1288.2,587.3 1257.7,576.6 1215.3,588.9 1223.1,566.0 1292.6,542.9 1221.1,614.9 1286.3,571.1 1246.6,635.4 1249.9,593.6 1231.8,563.2 1262.7,588.8 1272.3,540.4 1250.7,572.3 1271.6,569.8 1236.7,616.9 1309.2,562.4 1216.7,628.2 1290.8,519.2 1264.9,541.7 1277.0,545.1 1238.6,590.6 1233.8,646.1 1277.6,587.5 1289.0,556.2 1233.7,612.6 1308.7,556.4 1233.9,619.1 1298.1,534.6 1277.2,546.0 1296.3,527.5 1259.4,610.1 1232.4,628.2 1226.8,579.1 1225.1,638.4 1245.2,578.8 1230.5,559.5 1189.6,604.0 1269.1,600.9 1276.2,552.7 1234.9,611.9 1265.3,586.8 1213.6,596.8 1233.8,594.8 1265.7,524.2 1302.7,558.7 1228.9,611.0 1224.3,611.1 1233.7,560.8 1222.0,624.3 1234.0,584.5 1172.8,632.3 1284.5,546.2 1233.0,617.3 1237.2,629.4 1249.3,599.2 1241.5,597.6 1227.7,543.5 1253.2,607.3 1252.7,590.6 1252.0,547.7 1277.9,589.7 1245.7,568.1 1298.7,546.5 1199.3,591.7 1273.4,531.6 1224.5,599.1 1250.0,546.4 1277.3,543.5 1250.6,581.6 1247.0,570.2 1258.6,618.6 1227.5,607.4 1270.4,525.0 1240.3,645.4 1267.8,541.0 1274.4,534.5 1228.5,604.0 1289.9,516.3 1236.7,601.8 1203.0,593.8 1270.2,590.7 1229.4,556.5 1251.3,582.6 1279.7,570.2 1215.3,598.6 1273.6,565.8 1204.7,577.9 1282.5,556.3 1265.3,600.8 1242.5,650.8 1273.4,547.3 1219.2,591.8 1237.7,595.2 1332.5,527.9 1212.8,609.4 1260.9,584.2 1209.1,627.9 1275.1,552.3 1239.9,573.9 1265.5,581.7 1202.1,615.8 1200.9,602.3 1201.3,640.1 1273.0,536.3 1236.0,601.9 1256.9,589.2 1210.1,619.6 1215.1,629.4 1229.2,627.8 1244.3,592.5 1261.6,575.3 1206.2,602.8 1251.0,541.3 1232.2,652.5 1305.7,574.0 1291.7,556.5 1239.7,558.7 1270.6,594.9 1308.8,549.4 1233.9,659.0 1242.6,615.0 1223.0,620.9 1241.9,559.8 1243.7,531.3 1254.3,574.3 1251.4,565.7 1265.9,544.9 1267.1,556.6 1256.4,559.4 1265.7,613.9 1285.0,522.4 1186.1,629.0 1242.7,636.9 1297.8,555.9 1283.0,535.0 1238.2,581.3 1285.8,521.3 1240.2,544.8 1265.1,540.8 1269.6,569.0 1267.9,588.2 1242.5,631.5 1225.2,584.7 1217.9,575.4 1269.5,581.5 1246.5,584.2 1300.6,562.7 1184.5,605.9 1271.7,548.6 1218.7,586.0 1308.8,540.1 1231.4,593.2 1231.9,562.9 1252.6,568.5 1255.4,621.9 1254.5,599.5 1277.6,558.4 1237.4,577.2 1229.8,592.4 1217.0,587.8 1269.7,560.2 1225.9,646.3 1220.9,580.7 1230.4,589.4 1258.8,618.3 1248.2,585.4 1264.8,600.0 1242.9,594.4 1279.7,544.3 1267.8,528.6 1307.4,553.1 1222.8,589.3 1214.9,623.2 1289.2,521.3 1287.6,580.5 1196.6,625.0 1241.4,635.1 1204.7,628.6 1212.0,610.4 1238.9,574.6 1214.7,591.8 1301.4,571.4 1200.3,582.0 1220.5,618.1 1220.6,609.4 1247.6,550.8 1228.7,547.8 1303.8,542.3 1273.7,551.1 1206.6,622.4 1250.2,536.4 1220.8,600.5 1251.3,553.5 1287.0,554.1 1224.9,626.2 1232.5,603.1 1300.2,521.8 1278.8,566.0 1252.0,568.3 1243.4,557.2 1269.1,566.6 1268.2,525.8 1215.7,596.2 1265.6,548.3 1247.7,535.6 1212.5,576.8 1231.3,635.3 1273.4,543.2 1212.5,603.7 1284.0,573.4 1256.2,618.3 1244.8,588.1 1301.4,549.2 1213.7,626.4 1276.1,586.9 1269.1,535.8 1231.8,634.7 1285.1,581.9 1278.9,555.2 1265.3,559.2 1232.9,631.1 1235.8,583.9 1242.4,623.9 1278.1,493.0 1231.0,587.9 1281.8,527.8 1210.8,620.5 1228.2,600.7 1245.9,631.5 1222.6,600.4 1249.0,559.1 1292.5,557.0 1226.1,600.3 1288.7,569.0 1204.7,603.2 1207.7,625.3 1235.9,546.3 1210.9,596.8 1239.3,607.0 1220.5,605.1 1212.5,563.5 1188.7,607.3 1293.6,543.5 1248.6,610.9 1225.5,625.1 1258.3,595.7 1280.7,558.9 1248.7,566.0 1196.4,593.6 1235.3,626.2 1211.1,608.9 1194.1,614.8 1291.3,585.1 1225.1,629.1 1301.6,569.5 1187.8,557.4"/>
<line x1="1052.3" y1="790" x2="1656.9" y2="137.3" stroke="#222" stroke-width="1.5"/>
<path d="M992 63V790.3H1656" fill="none" stroke="#3a3a3a" stroke-width="1.25"/>
<line x1="980" y1="152" x2="992" y2="152" stroke="#222" stroke-width="1.9"/>
<text class="u" x="978" y="161.0" text-anchor="end">1500</text>
<line x1="980" y1="289.5" x2="992" y2="289.5" stroke="#222" stroke-width="1.9"/>
<text class="u" x="978" y="298.5" text-anchor="end">1250</text>
<line x1="980" y1="426.5" x2="992" y2="426.5" stroke="#222" stroke-width="1.9"/>
<text class="u" x="978" y="435.5" text-anchor="end">1000</text>
<line x1="980" y1="563" x2="992" y2="563" stroke="#222" stroke-width="1.9"/>
<text class="u" x="978" y="572.0" text-anchor="end">750</text>
<line x1="980" y1="699.5" x2="992" y2="699.5" stroke="#222" stroke-width="1.9"/>
<text class="u" x="978" y="708.5" text-anchor="end">500</text>
<line x1="1000.5" y1="790" x2="1000.5" y2="801.5" stroke="#222" stroke-width="1.8"/>
<text class="u" x="1000.5" y="819.8" text-anchor="middle">200</text>
<line x1="1096.5" y1="790" x2="1096.5" y2="801.5" stroke="#222" stroke-width="1.8"/>
<text class="u" x="1096.5" y="819.8" text-anchor="middle">400</text>
<line x1="1192.5" y1="790" x2="1192.5" y2="801.5" stroke="#222" stroke-width="1.8"/>
<text class="u" x="1192.5" y="819.8" text-anchor="middle">600</text>
<line x1="1288" y1="790" x2="1288" y2="801.5" stroke="#222" stroke-width="1.8"/>
<text class="u" x="1288" y="819.8" text-anchor="middle">800</text>
<line x1="1383.5" y1="790" x2="1383.5" y2="801.5" stroke="#222" stroke-width="1.8"/>
<text class="u" x="1383.5" y="819.8" text-anchor="middle">1000</text>
<line x1="1479.5" y1="790" x2="1479.5" y2="801.5" stroke="#222" stroke-width="1.8"/>
<text class="u" x="1479.5" y="819.8" text-anchor="middle">1200</text>
<line x1="1575.5" y1="790" x2="1575.5" y2="801.5" stroke="#222" stroke-width="1.8"/>
<text class="u" x="1575.5" y="819.8" text-anchor="middle">1400</text>
<text class="b" x="1318.5" y="865.5" text-anchor="middle">PhyC IBI (ms)</text>
<text class="b" transform="translate(914.7 439.5) rotate(-90)" text-anchor="middle">elPPG IBI (ms)</text>
<text x="901.4" y="29.2" style="font-family:'Liberation Sans',sans-serif;font-weight:bold;font-size:28.5px;fill:#000">B</text>
<text x="1705.5" y="91.6" text-anchor="middle" style="font-family:'Liberation Sans',sans-serif;font-size:21.5px;fill:#111">Subject</text>
<circle cx="1668.9" cy="117.2" r="7.8" fill="none" stroke="#4a63b0" stroke-width="1.5"/>
<text class="lg" x="1681.3" y="124.0">VPG001</text>
<circle cx="1668.9" cy="139.6" r="7.8" fill="none" stroke="#3a9a52" stroke-width="1.5"/>
<text class="lg" x="1681.3" y="146.4">VPG003</text>
<circle cx="1668.9" cy="162.0" r="7.8" fill="none" stroke="#d6d2a4" stroke-width="1.5"/>
<text class="lg" x="1681.3" y="168.8">VPG004</text>
<circle cx="1668.9" cy="184.4" r="7.8" fill="none" stroke="#7d4aa0" stroke-width="1.5"/>
<text class="lg" x="1681.3" y="191.2">VPG005</text>
<circle cx="1668.9" cy="206.8" r="7.8" fill="none" stroke="#fff385" stroke-width="1.5"/>
<text class="lg" x="1681.3" y="213.6">VPG006</text>
<circle cx="1668.9" cy="229.2" r="7.8" fill="none" stroke="#ee3348" stroke-width="1.5"/>
<text class="lg" x="1681.3" y="236.0">VPG009</text>
<circle cx="1668.9" cy="251.5" r="7.8" fill="none" stroke="#45bdb6" stroke-width="1.5"/>
<text class="lg" x="1681.3" y="258.3">VPG010</text>
<circle cx="1668.9" cy="273.9" r="7.8" fill="none" stroke="#d3cfd9" stroke-width="1.5"/>
<text class="lg" x="1681.3" y="280.7">VPG013</text>
<circle cx="1668.9" cy="296.3" r="7.8" fill="none" stroke="#84aede" stroke-width="1.5"/>
<text class="lg" x="1681.3" y="303.1">VPG015</text>
<circle cx="1668.9" cy="318.7" r="7.8" fill="none" stroke="#0d5c32" stroke-width="1.5"/>
<text class="lg" x="1681.3" y="325.5">VPG017</text>
<circle cx="1668.9" cy="341.1" r="7.8" fill="none" stroke="#f2a12a" stroke-width="1.5"/>
<text class="lg" x="1681.3" y="347.9">VPG018</text>
<circle cx="1668.9" cy="363.5" r="7.8" fill="none" stroke="#deb9f3" stroke-width="1.5"/>
<text class="lg" x="1681.3" y="370.3">VPG019</text>
</g>
</svg></body></html>
